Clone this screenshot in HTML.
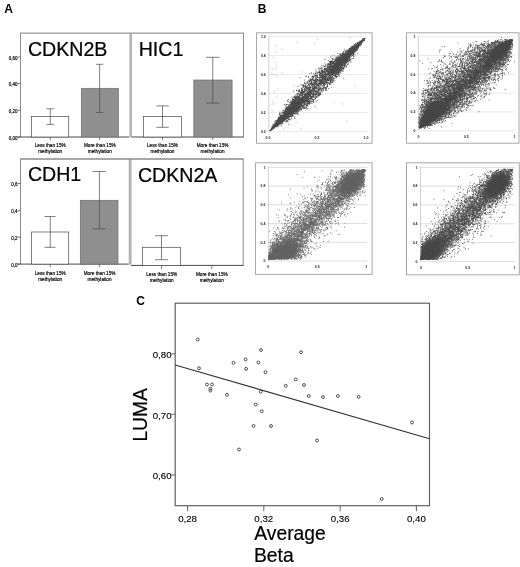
<!DOCTYPE html>
<html lang="en"><head><meta charset="utf-8"><title>Figure</title>
<style>
html,body{margin:0;padding:0;background:#fff;}
body{width:520px;height:567px;overflow:hidden;}
svg{display:block;}
text{font-family:"Liberation Sans", Arial, Helvetica, sans-serif;fill:#111;}
.lab{font-size:12px;font-weight:bold;fill:#000;}
.ttl{font-size:19.6px;fill:#000;stroke:#000;stroke-width:0.22px;}
.big{font-size:19.3px;fill:#000;stroke:#000;stroke-width:0.2px;}
.yl{font-size:4.5px;text-anchor:end;fill:#000;stroke:#000;stroke-width:0.17px;}
.xl{font-size:4.7px;text-anchor:middle;fill:#000;stroke:#000;stroke-width:0.17px;}
.sy{font-size:3.5px;text-anchor:end;fill:#1a1a1a;font-weight:bold;}
.sx{font-size:3.5px;text-anchor:middle;fill:#1a1a1a;font-weight:bold;}
.cy{font-size:9.7px;text-anchor:end;fill:#000;stroke:#000;stroke-width:0.12px;}
.cx{font-size:9.7px;text-anchor:middle;fill:#000;stroke:#000;stroke-width:0.12px;}
.eb{stroke:#4a4a4a;stroke-width:0.7;fill:none;}
.p1,.p2,.p3,.p4{fill:none;stroke-linecap:round;stroke-linejoin:round;}
.p1{stroke:#484848;stroke-width:10.5;}
.p2{stroke:#4a4a4a;stroke-width:9.5;}
.p3{stroke:#666;stroke-width:9.5;}
.p4{stroke:#4c4c4c;stroke-width:9.5;}
.c1{fill:#484848;}.c2{fill:#4a4a4a;}.c3{fill:#666;}.c4{fill:#4c4c4c;}
</style></head>
<body>
<svg width="520" height="567" viewBox="0 0 520 567">
<rect width="520" height="567" fill="#fff"/>
<g id="panelA">
<text x="4.3" y="12.6" class="lab">A</text>
<rect x="129.4" y="33" width="2.6" height="104.4" fill="#b4b4b4"/>
<path d="M20.5 33V137M243.5 33V137" stroke="#8c8c8c" stroke-width="1" fill="none"/>
<path d="M20 33.1H243.8" stroke="#999" stroke-width="1.3" fill="none"/>
<path d="M17.5 137H129M131.6 137H243.8" stroke="#4a4a4a" stroke-width="1" fill="none"/>
<path d="M17.8 57H20.5" stroke="#555" stroke-width="0.8"/>
<text x="17.6" y="59.8" class="yl">0,60</text>
<path d="M17.8 83.6H20.5" stroke="#555" stroke-width="0.8"/>
<text x="17.6" y="86.4" class="yl">0,40</text>
<path d="M17.8 110.2H20.5" stroke="#555" stroke-width="0.8"/>
<text x="17.6" y="113" class="yl">0,20</text>
<path d="M17.8 137H20.5" stroke="#555" stroke-width="0.8"/>
<text x="17.6" y="139.8" class="yl">0,00</text>
<rect x="31.6" y="116.5" width="37.1" height="20.5" fill="#fff" stroke="#4a4a4a" stroke-width="0.7"/>
<rect x="81.3" y="88.3" width="37.2" height="48.7" fill="#8f8f8f" stroke="#6e6e6e" stroke-width="0.7"/>
<path d="M50.25 108.8V124.4M46.5 108.8H54M46.5 124.4H54" class="eb"/>
<path d="M99.6 64.3V112.5M96 64.3H103.3M96 112.5H103.3" class="eb"/>
<path d="M50.25 137V140M99.6 137V140" class="eb"/>
<text x="50.2" y="146.6" class="xl">Less than 15%</text><text x="50.2" y="152.6" class="xl">methylation</text><text x="99.8" y="146.6" class="xl">More than 15%</text><text x="99.8" y="152.6" class="xl">methylation</text>
<text x="27.9" y="55.9" class="ttl">CDKN2B</text>
<rect x="143.5" y="116.5" width="38.1" height="20.5" fill="#fff" stroke="#4a4a4a" stroke-width="0.7"/>
<rect x="193.8" y="80" width="38.3" height="57" fill="#8f8f8f" stroke="#6e6e6e" stroke-width="0.7"/>
<path d="M162.5 105.9V127.3M156.3 105.9H168.8M156.3 127.3H168.8" class="eb"/>
<path d="M212.75 57.3V103.1M206 57.3H219.5M206 103.1H219.5" class="eb"/>
<path d="M162.5 137V140M212.75 137V140" class="eb"/>
<text x="162.5" y="146.6" class="xl">Less than 15%</text><text x="162.5" y="152.6" class="xl">methylation</text><text x="212.6" y="146.6" class="xl">More than 15%</text><text x="212.6" y="152.6" class="xl">methylation</text>
<text x="138.7" y="55.7" class="ttl">HIC1</text>
<rect x="128.7" y="159" width="2.9" height="105.6" fill="#b4b4b4"/>
<path d="M20.5 159V264M243.2 159V265.4" stroke="#8c8c8c" stroke-width="1" fill="none"/>
<path d="M20 159H243.6" stroke="#8a8a8a" stroke-width="1.5" fill="none"/>
<path d="M17.5 264.1H128.6M131 265.4H243.6" stroke="#4a4a4a" stroke-width="1" fill="none"/>
<path d="M17.8 183.5H20.5" stroke="#555" stroke-width="0.8"/>
<text x="17.6" y="186.1" class="yl">0,6</text>
<path d="M17.8 210.3H20.5" stroke="#555" stroke-width="0.8"/>
<text x="17.6" y="212.9" class="yl">0,4</text>
<path d="M17.8 237.2H20.5" stroke="#555" stroke-width="0.8"/>
<text x="17.6" y="239.8" class="yl">0,2</text>
<path d="M17.8 264.1H20.5" stroke="#555" stroke-width="0.8"/>
<text x="17.6" y="266.7" class="yl">0,0</text>
<rect x="31.6" y="232" width="37.1" height="32.1" fill="#fff" stroke="#4a4a4a" stroke-width="0.7"/>
<rect x="80.3" y="200.3" width="37.7" height="63.8" fill="#8f8f8f" stroke="#6e6e6e" stroke-width="0.7"/>
<path d="M50.25 216.5V247.3M44.6 216.5H55.6M44.6 247.3H55.6" class="eb"/>
<path d="M99.4 171.5V228.8M92.6 171.5H105.6M92.6 228.8H105.6" class="eb"/>
<path d="M50.25 264V267.2M99.4 264V267.2" class="eb"/>
<text x="50.2" y="274.6" class="xl">Less than 15%</text><text x="50.2" y="280.6" class="xl">methylation</text><text x="99.6" y="274.6" class="xl">More than 15%</text><text x="99.6" y="280.6" class="xl">methylation</text>
<text x="27.9" y="181" class="ttl">CDH1</text>
<rect x="142.5" y="247.3" width="37.9" height="18.1" fill="#fff" stroke="#4a4a4a" stroke-width="0.7"/>
<path d="M161.5 235.7V259.7M155 235.7H168M155 259.7H168" class="eb"/>
<path d="M161.5 265.4V269M211.75 265.4V269" class="eb"/>
<text x="161.7" y="276" class="xl">Less than 15%</text><text x="161.7" y="282.2" class="xl">methylation</text><text x="211.8" y="276" class="xl">More than 15%</text><text x="211.8" y="282.2" class="xl">methylation</text>
<text x="137.9" y="181.6" class="ttl">CDKN2A</text>
</g>
<g id="panelB">
<text x="257.7" y="12.7" class="lab">B</text>
<rect x="256.5" y="32.8" width="115.6" height="110.5" fill="#fff" stroke="#a8a8a8" stroke-width="1"/><path d="M268 131.6H367.6M268 112.6H367.6M268 93.6H367.6M268 74.6H367.6M268 55.6H367.6M268 36.6H367.6" stroke="#e0e0e0" stroke-width="0.7" fill="none"/><path d="M268.8 36.6V131.6" stroke="#c4c4c4" stroke-width="0.8" fill="none"/><text x="265.8" y="132.9" class="sy">0.0</text><text x="265.8" y="113.9" class="sy">0.2</text><text x="265.8" y="94.9" class="sy">0.4</text><text x="265.8" y="75.9" class="sy">0.6</text><text x="265.8" y="56.9" class="sy">0.8</text><text x="265.8" y="37.9" class="sy">1.0</text><text x="268" y="138.9" class="sx">0.0</text><text x="317" y="138.9" class="sx">0.5</text><text x="366" y="138.9" class="sx">1.0</text>
<g fill="none" stroke="#d2d2d2" stroke-width="0.5"><circle cx="297.25" cy="42.25" r="0.85"/><circle cx="276.25" cy="45.6" r="0.85"/><circle cx="282.25" cy="49.4" r="0.85"/><circle cx="275.6" cy="51.9" r="0.85"/><circle cx="273.5" cy="57.75" r="0.85"/><circle cx="275.6" cy="61.9" r="0.85"/><circle cx="276.6" cy="66.25" r="0.85"/><circle cx="271.9" cy="69" r="0.85"/><circle cx="275.6" cy="69" r="0.85"/><circle cx="271.5" cy="73.1" r="0.85"/><circle cx="272.5" cy="74.75" r="0.85"/><circle cx="275.4" cy="74.75" r="0.85"/><circle cx="282.25" cy="72.75" r="0.85"/><circle cx="277.25" cy="76.25" r="0.85"/><circle cx="301.9" cy="72.25" r="0.85"/><circle cx="314.4" cy="43.5" r="0.85"/><circle cx="293.75" cy="86" r="0.85"/><circle cx="277.75" cy="89.4" r="0.85"/><circle cx="274.4" cy="91.9" r="0.85"/><circle cx="276.6" cy="97.25" r="0.85"/><circle cx="273.1" cy="101.25" r="0.85"/><circle cx="271.9" cy="104.4" r="0.85"/><circle cx="273.75" cy="103.75" r="0.85"/><circle cx="272.25" cy="110.6" r="0.85"/><circle cx="288.1" cy="128.1" r="0.85"/><circle cx="290.6" cy="125" r="0.85"/><circle cx="283.75" cy="129.4" r="0.85"/><circle cx="301" cy="128.75" r="0.85"/><circle cx="296.25" cy="122.25" r="0.85"/><circle cx="354.75" cy="85.6" r="0.85"/><circle cx="334.4" cy="102.5" r="0.85"/><circle cx="343.1" cy="103.75" r="0.85"/><circle cx="346.6" cy="121.25" r="0.85"/><circle cx="316.25" cy="107.9" r="0.85"/><circle cx="317.5" cy="39.1" r="0.85"/><circle cx="350" cy="37.5" r="0.85"/></g>
<polygon class="c1" points="269.42,131.06 270.14,130.04 270.89,129.05 271.65,128.08 272.42,127.11 273.2,126.14 273.98,125.18 274.76,124.23 275.55,123.28 276.34,122.33 277.14,121.39 277.94,120.45 278.75,119.52 279.56,118.59 280.37,117.67 281.19,116.75 282.02,115.83 282.85,114.92 283.68,114.02 284.52,113.12 285.37,112.22 286.22,111.34 287.08,110.45 287.95,109.58 288.82,108.71 289.7,107.85 290.59,106.99 291.48,106.15 292.39,105.31 293.3,104.48 294.23,103.67 295.16,102.86 296.11,102.07 297.08,101.29 298.06,100.52 299.06,99.78 300.09,99.07 301.17,98.4 302.32,97.8 303.89,97.61 303.89,97.61 303.7,99.14 303.08,100.26 302.39,101.31 301.66,102.31 300.9,103.29 300.11,104.24 299.31,105.18 298.5,106.11 297.67,107.02 296.83,107.92 295.98,108.81 295.12,109.69 294.26,110.57 293.38,111.43 292.5,112.29 291.6,113.14 290.71,113.98 289.8,114.82 288.89,115.65 287.97,116.48 287.05,117.3 286.12,118.11 285.19,118.92 284.25,119.72 283.3,120.52 282.35,121.31 281.4,122.1 280.44,122.89 279.48,123.67 278.51,124.45 277.54,125.22 276.57,125.99 275.59,126.75 274.6,127.51 273.61,128.27 272.62,129.02 271.62,129.76 270.61,130.49 269.56,131.19"/>
<polygon class="c1" points="364.97,37.96 363.92,38.66 362.91,39.39 361.91,40.13 360.92,40.88 359.93,41.64 358.94,42.4 357.96,43.16 356.99,43.93 356.02,44.7 355.05,45.48 354.09,46.26 353.13,47.05 352.18,47.84 351.23,48.63 350.28,49.43 349.34,50.23 348.41,51.04 347.48,51.85 346.56,52.67 345.64,53.5 344.73,54.33 343.82,55.17 342.93,56.01 342.03,56.86 341.15,57.72 340.27,58.58 339.41,59.46 338.55,60.34 337.7,61.23 336.86,62.13 336.03,63.04 335.22,63.97 334.42,64.91 333.63,65.86 332.87,66.84 332.14,67.84 331.45,68.89 330.83,70.01 330.64,71.54 330.64,71.54 332.21,71.35 333.36,70.75 334.44,70.08 335.47,69.37 336.47,68.63 337.45,67.86 338.42,67.08 339.37,66.29 340.3,65.48 341.23,64.67 342.14,63.84 343.05,63 343.94,62.16 344.83,61.3 345.71,60.44 346.58,59.57 347.45,58.7 348.31,57.81 349.16,56.93 350.01,56.03 350.85,55.13 351.68,54.23 352.51,53.32 353.34,52.4 354.16,51.48 354.97,50.56 355.78,49.63 356.59,48.7 357.39,47.76 358.19,46.82 358.98,45.87 359.77,44.92 360.55,43.97 361.33,43.01 362.11,42.04 362.88,41.07 363.64,40.1 364.39,39.11 365.11,38.09"/>
<path class="p1" transform="scale(.1)" d="M2699 1305h0m1 3h0m1-5h0m2-1h0m7-13h0m0 2h0m0 8h0m1-6h0m1 2h0m1-8h0m1-3h0m1-5h0m0 3h0m1 5h0m0 8h0m0 2h0m0 4h0m1-10h0m0 12h0m3-14h0m0 5h0m1-28h0m1 4h0m0 19h0m1-17h0m0 3h0m1 0h0m1 2h0m1-12h0m0 8h0m0 7h0m2-2h0m0 9h0m1-44h0m0 28h0m0 8h0m1-26h0m0 32h0m0 5h0m1-23h0m0 12h0m0 7h0m1-18h0m0 7h0m1-6h0m1-19h0m0 11h0m0 8h0m0 5h0m0 1h0m0 1h0m0 1h0m1-13h0m0 11h0m1-13h0m0 9h0m1-10h0m1 2h0m0 1h0m0 1h0m1-7h0m0 7h0m0 3h0m0 6h0m1-14h0m0 1h0m1-13h0m0 12h0m0 8h0m0 7h0m1-26h0m0 14h0m0 6h0m1-17h0m1-12h0m0 22h0m0 6h0m0 15h0m2-30h0m1-3h0m1-27h0m0 18h0m0 26h0m1-44h0m0 27h0m0 11h0m0 5h0m0 3h0m1-12h0m1-48h0m0 32h0m0 0h0m0 8h0m0 5h0m0 1h0m0 3h0m0 3h0m1-27h0m1 1h0m0 1h0m1 9h0m0 7h0m0 4h0m0 5h0m1-39h0m0 14h0m0 9h0m0 8h0m0 6h0m0 2h0m0 3h0m0 3h0m1-20h0m0 3h0m1-17h0m1 5h0m0 11h0m0 13h0m1-21h0m0 14h0m1-50h0m0 27h0m0 22h0m1-26h0m0 2h0m0 5h0m0 14h0m0 20h0m1-22h0m1-10h0m0 1h0m1-18h0m0 13h0m1 1h0m0 8h0m0 2h0m1-25h0m0 4h0m0 11h0m0 17h0m1-13h0m0 13h0m1-48h0m0 19h0m0 10h0m0 7h0m0 7h0m0 13h0m1-46h0m0 4h0m0 18h0m0 7h0m0 9h0m0 9h0m0 1h0m1-28h0m1-15h0m0 9h0m0 21h0m1-42h0m0 19h0m0 22h0m0 8h0m0 3h0m1-38h0m1-13h0m0 6h0m0 7h0m0 4h0m0 19h0m0 11h0m1-43h0m0 21h0m0 11h0m0 1h0m0 20h0m1-72h0m0 19h0m0 10h0m0 12h0m0 0h0m0 10h0m1-30h0m0 33h0m1-27h0m0 4h0m0 10h0m1-8h0m0 6h0m0 1h0m0 10h0m0 18h0m1-62h0m0 32h0m0 20h0m1-56h0m0 12h0m0 14h0m0 6h0m0 13h0m1-53h0m0 8h0m0 16h0m0 1h0m0 30h0m1-60h0m0 41h0m0 10h0m0 3h0m0 1h0m0 9h0m1-76h0m0 6h0m0 27h0m0 17h0m0 37h0m1-82h0m0 16h0m0 19h0m0 12h0m0 28h0m2-51h0m0 2h0m0 1h0m0 10h0m0 21h0m0 6h0m0 2h0m1-12h0m1-31h0m0 31h0m0 14h0m0 2h0m1-61h0m0 36h0m1-36h0m0 32h0m0 0h0m0 16h0m0 16h0m2-100h0m0 65h0m0 2h0m0 2h0m0 4h0m0 15h0m0 0h0m1-63h0m0 29h0m0 16h0m0 0h0m0 16h0m1-55h0m0 23h0m0 5h0m0 11h0m0 3h0m0 14h0m1-99h0m0 11h0m0 38h0m0 4h0m0 12h0m0 11h0m1-27h0m0 19h0m0 7h0m0 6h0m1-31h0m0 7h0m0 0h0m0 18h0m0 11h0m0 8h0m0 5h0m1-113h0m0 48h0m0 39h0m0 1h0m0 13h0m0 4h0m0 5h0m1-72h0m0 33h0m0 40h0m0 8h0m1-82h0m0 60h0m0 17h0m1-102h0m0 29h0m0 32h0m0 26h0m1-58h0m0 4h0m0 0h0m0 25h0m0 12h0m1-42h0m0 17h0m0 18h0m0 22h0m0 5h0m0 10h0m1-70h0m0 2h0m0 4h0m0 9h0m0 11h0m0 6h0m0 10h0m0 18h0m0 15h0m1-91h0m0 29h0m0 12h0m0 14h0m0 21h0m1-67h0m0 42h0m0 12h0m0 1h0m1-42h0m0 38h0m0 1h0m0 11h0m1-69h0m0 29h0m0 14h0m0 17h0m0 16h0m0 13h0m1-85h0m0 17h0m0 13h0m0 34h0m0 5h0m0 6h0m0 2h0m0 7h0m1-36h0m0 14h0m1-53h0m0 24h0m0 30h0m0 11h0m0 25h0m1-71h0m0 13h0m0 7h0m0 29h0m1-54h0m0 2h0m0 17h0m1-19h0m0 12h0m0 7h0m0 13h0m1-71h0m0 51h0m0 6h0m1-17h0m0 0h0m0 2h0m0 10h0m0 0h0m1-32h0m0 1h0m0 4h0m0 9h0m0 20h0m0 8h0m0 3h0m1 10h0m0 15h0m1-108h0m0 98h0m1-78h0m0 36h0m0 43h0m1-66h0m0 34h0m0 4h0m0 15h0m0 20h0m1-61h0m0 22h0m0 6h0m0 7h0m1-13h0m0 24h0m0 8h0m0 16h0m1-107h0m0 43h0m0 11h0m0 1h0m0 3h0m0 0h0m1-26h0m0 18h0m0 2h0m0 7h0m1 14h0m0 4h0m0 3h0m0 7h0m1-59h0m0 14h0m0 4h0m0 23h0m0 7h0m0 33h0m1-62h0m0 7h0m0 3h0m0 11h0m0 6h0m0 1h0m0 16h0m1-119h0m0 6h0m0 57h0m0 44h0m0 2h0m1-48h0m0 1h0m0 6h0m0 28h0m0 11h0m1-88h0m0 10h0m0 51h0m0 16h0m1-36h0m0 1h0m0 14h0m0 26h0m0 9h0m1-55h0m0 1h0m0 12h0m0 1h0m0 14h0m1-38h0m0 16h0m0 6h0m0 40h0m1-62h0m0 4h0m0 2h0m0 9h0m0 4h0m0 5h0m0 6h0m0 2h0m0 4h0m0 0h0m0 18h0m0 5h0m1-68h0m0 21h0m0 5h0m0 8h0m0 10h0m0 2h0m1-74h0m0 60h0m0 9h0m0 7h0m0 6h0m0 22h0m1-88h0m0 49h0m0 4h0m0 3h0m0 17h0m0 12h0m1-43h0m0 8h0m0 22h0m0 5h0m1-45h0m0 0h0m0 12h0m0 4h0m0 6h0m1-34h0m0 8h0m0 8h0m0 3h0m0 16h0m1-9h0m0 0h0m0 12h0m1-72h0m0 3h0m0 15h0m0 28h0m0 44h0m1-53h0m0 1h0m0 9h0m0 5h0m0 5h0m0 3h0m0 26h0m1-151h0m0 65h0m0 44h0m0 2h0m0 6h0m0 9h0m0 2h0m0 9h0m1-24h0m0 18h0m0 1h0m1-63h0m0 90h0m1-68h0m0 21h0m0 5h0m1-52h0m0 40h0m0 35h0m1-68h0m0 2h0m0 29h0m0 8h0m0 2h0m0 5h0m1-79h0m0 32h0m0 13h0m0 19h0m0 0h0m0 7h0m0 5h0m0 27h0m0 2h0m0 8h0m1-99h0m0 26h0m0 2h0m0 7h0m0 0h0m0 27h0m0 9h0m0 21h0m0 25h0m1-120h0m0 46h0m0 8h0m0 0h0m0 19h0m0 6h0m0 20h0m1-72h0m0 35h0m0 3h0m0 12h0m0 3h0m0 7h0m1-25h0m0 17h0m1-117h0m0 47h0m0 43h0m0 10h0m1-64h0m0 10h0m0 3h0m0 9h0m0 9h0m0 29h0m1-78h0m0 45h0m0 5h0m0 2h0m0 14h0m0 4h0m0 3h0m0 2h0m0 22h0m0 5h0m0 13h0m1-92h0m0 48h0m0 5h0m1-103h0m0 80h0m0 5h0m0 0h0m0 20h0m0 26h0m0 6h0m1-71h0m0 5h0m0 5h0m0 19h0m0 2h0m0 19h0m0 3h0m0 2h0m1-7h0m0 5h0m0 4h0m0 48h0m1-174h0m0 44h0m0 41h0m0 11h0m0 20h0m0 16h0m0 1h0m0 33h0m1-133h0m0 61h0m1-65h0m0 5h0m0 47h0m0 5h0m0 6h0m0 7h0m0 1h0m0 6h0m0 4h0m0 1h0m0 11h0m1-42h0m0 29h0m0 15h0m0 21h0m1-83h0m0 14h0m0 19h0m0 16h0m0 46h0m1-135h0m0 22h0m0 28h0m0 1h0m0 0h0m0 1h0m0 4h0m0 3h0m0 18h0m0 1h0m0 18h0m1-88h0m0 23h0m0 12h0m0 16h0m0 8h0m0 5h0m0 9h0m0 0h0m1-74h0m0 53h0m0 8h0m0 14h0m1-104h0m0 39h0m0 50h0m0 13h0m0 26h0m0 1h0m1-96h0m0 42h0m0 12h0m0 9h0m0 14h0m0 1h0m0 24h0m0 25h0m1-135h0m0 21h0m0 44h0m0 47h0m1-40h0m0 11h0m0 4h0m0 2h0m0 18h0m1-88h0m0 44h0m0 30h0m0 3h0m1-157h0m0 67h0m0 21h0m0 16h0m0 4h0m0 1h0m0 40h0m0 6h0m0 17h0m0 35h0m1-135h0m0 15h0m0 22h0m0 39h0m0 2h0m0 26h0m1-186h0m0 122h0m0 28h0m0 6h0m0 0h0m1-86h0m0 5h0m0 14h0m0 9h0m0 10h0m0 15h0m0 17h0m0 42h0m0 30h0m1-118h0m0 3h0m0 20h0m0 19h0m0 16h0m1-137h0m0 56h0m0 21h0m0 10h0m0 11h0m0 12h0m0 7h0m0 28h0m0 8h0m0 27h0m1-108h0m0 14h0m0 9h0m0 5h0m0 2h0m0 3h0m0 58h0m1-101h0m0 10h0m0 26h0m0 6h0m0 8h0m0 17h0m0 99h0m1-193h0m0 31h0m0 4h0m0 15h0m0 6h0m0 26h0m0 6h0m0 23h0m1-97h0m0 11h0m0 20h0m0 3h0m0 10h0m0 13h0m0 22h0m0 3h0m0 4h0m0 5h0m1-102h0m0 47h0m0 13h0m0 19h0m0 4h0m0 23h0m0 11h0m0 6h0m1-183h0m0 86h0m0 11h0m0 24h0m0 7h0m0 12h0m0 2h0m0 11h0m0 14h0m0 12h0m0 6h0m1-100h0m0 2h0m0 8h0m0 44h0m0 23h0m0 15h0m0 11h0m0 16h0m1-117h0m0 8h0m0 1h0m0 13h0m0 2h0m0 7h0m0 17h0m0 3h0m0 17h0m0 11h0m0 3h0m1-75h0m0 10h0m0 10h0m0 0h0m0 10h0m1-94h0m0 59h0m0 16h0m0 45h0m1-58h0m0 19h0m0 28h0m0 7h0m0 34h0m1-129h0m0 4h0m0 19h0m0 36h0m0 11h0m0 25h0m0 3h0m0 23h0m1-102h0m0 13h0m0 25h0m0 11h0m0 4h0m0 2h0m0 20h0m0 4h0m1-67h0m0 94h0m0 22h0m1-129h0m0 44h0m0 0h0m0 14h0m0 8h0m0 6h0m0 6h0m0 2h0m1-64h0m0 11h0m0 23h0m0 24h0m1-92h0m0 30h0m0 2h0m0 28h0m0 25h0m0 5h0m0 29h0m1-123h0m0 8h0m0 36h0m0 26h0m0 13h0m0 18h0m1-97h0m0 55h0m0 8h0m0 21h0m0 16h0m0 17h0m0 1h0m1-109h0m0 0h0m0 13h0m0 13h0m0 3h0m0 4h0m0 3h0m0 1h0m0 4h0m0 2h0m0 14h0m0 6h0m0 1h0m0 10h0m1-87h0m0 28h0m0 35h0m0 14h0m0 8h0m1-44h0m0 21h0m0 22h0m0 18h0m0 2h0m0 14h0m0 40h0m1-139h0m0 24h0m0 0h0m0 35h0m0 4h0m0 13h0m0 16h0m0 1h0m1-128h0m0 77h0m0 12h0m0 52h0m1-103h0m0 1h0m0 8h0m0 1h0m0 16h0m0 1h0m0 11h0m0 49h0m1-139h0m0 8h0m0 9h0m0 44h0m0 2h0m0 18h0m0 7h0m0 18h0m0 7h0m0 2h0m0 16h0m0 6h0m1-80h0m0 26h0m0 15h0m0 1h0m0 5h0m0 4h0m0 36h0m1-113h0m0 42h0m0 32h0m0 2h0m0 13h0m0 12h0m0 8h0m0 9h0m0 0h0m1-101h0m0 6h0m0 18h0m0 1h0m0 12h0m0 8h0m0 2h0m0 23h0m0 27h0m0 12h0m1-98h0m0 14h0m0 11h0m0 21h0m0 8h0m0 9h0m0 6h0m0 29h0m1-141h0m0 31h0m0 34h0m0 10h0m0 12h0m0 47h0m1-113h0m0 20h0m0 11h0m0 1h0m0 1h0m0 3h0m0 12h0m0 7h0m0 33h0m0 9h0m1-111h0m0 13h0m0 15h0m0 1h0m0 8h0m0 5h0m0 7h0m0 3h0m0 37h0m0 8h0m0 9h0m0 9h0m0 39h0m1-145h0m0 1h0m0 18h0m0 39h0m1-34h0m0 14h0m0 3h0m0 55h0m1-69h0m0 27h0m0 4h0m0 16h0m0 1h0m0 2h0m0 17h0m0 8h0m0 3h0m1-136h0m0 26h0m0 41h0m0 11h0m0 11h0m0 31h0m0 16h0m1-177h0m0 51h0m0 33h0m0 14h0m0 6h0m0 95h0m1-104h0m0 4h0m0 8h0m0 33h0m0 2h0m0 8h0m0 12h0m1-127h0m0 27h0m0 30h0m0 29h0m0 5h0m0 34h0m0 6h0m1-151h0m0 48h0m0 31h0m0 64h0m0 10h0m0 3h0m1-148h0m0 5h0m0 50h0m0 18h0m0 12h0m0 49h0m0 0h0m1-105h0m0 5h0m0 42h0m0 1h0m0 4h0m0 11h0m0 40h0m0 28h0m1-112h0m0 25h0m0 16h0m0 1h0m0 10h0m0 9h0m0 57h0m1-141h0m0 22h0m0 2h0m0 42h0m0 1h0m0 19h0m1-113h0m0 57h0m0 26h0m0 16h0m0 56h0m1-97h0m0 3h0m0 13h0m0 23h0m0 7h0m0 16h0m0 28h0m1-136h0m0 9h0m0 20h0m0 23h0m0 3h0m0 4h0m0 5h0m0 40h0m0 1h0m0 13h0m1-85h0m0 16h0m0 45h0m0 59h0m1-93h0m0 43h0m0 54h0m1-166h0m0 1h0m0 17h0m0 11h0m0 20h0m0 15h0m0 39h0m0 3h0m0 9h0m0 10h0m1-120h0m0 11h0m0 24h0m0 13h0m0 19h0m0 12h0m0 14h0m0 7h0m0 9h0m0 21h0m1-217h0m0 104h0m0 22h0m0 4h0m0 8h0m0 3h0m0 12h0m0 10h0m0 6h0m0 15h0m0 11h0m1-135h0m0 68h0m0 28h0m0 37h0m0 0h0m0 8h0m0 5h0m0 6h0m0 1h0m0 4h0m1-78h0m0 9h0m0 62h0m1-91h0m0 1h0m0 59h0m0 2h0m0 43h0m1-139h0m0 19h0m0 10h0m0 1h0m0 20h0m0 8h0m0 18h0m0 3h0m0 11h0m0 10h0m0 0h0m0 3h0m0 3h0m0 5h0m1-133h0m0 76h0m0 4h0m0 15h0m0 4h0m0 26h0m0 0h0m0 12h0m0 2h0m0 3h0m0 16h0m1-164h0m0 51h0m0 2h0m0 7h0m0 52h0m0 4h0m0 11h0m0 16h0m1-112h0m0 69h0m0 16h0m0 0h0m0 13h0m0 20h0m1-142h0m0 45h0m0 12h0m0 15h0m0 4h0m0 0h0m0 15h0m0 33h0m1-130h0m0 40h0m0 33h0m0 18h0m0 9h0m0 17h0m1-63h0m0 71h0m0 1h0m0 13h0m0 29h0m1-138h0m0 11h0m0 78h0m0 13h0m0 68h0m1-149h0m0 24h0m0 18h0m0 28h0m0 11h0m0 12h0m0 5h0m0 13h0m0 52h0m1-191h0m0 30h0m0 3h0m0 2h0m0 4h0m0 2h0m0 11h0m0 1h0m0 2h0m0 4h0m0 1h0m0 9h0m0 1h0m1-81h0m0 6h0m0 30h0m0 54h0m0 6h0m0 12h0m0 50h0m1-175h0m0 16h0m0 26h0m0 2h0m0 3h0m0 12h0m0 14h0m0 16h0m0 20h0m0 2h0m0 48h0m1-174h0m0 14h0m0 8h0m0 34h0m0 3h0m0 44h0m0 1h0m0 25h0m0 13h0m0 16h0m0 14h0m1-130h0m0 26h0m0 15h0m0 5h0m0 25h0m0 7h0m0 25h0m0 27h0m1-117h0m0 4h0m0 29h0m0 15h0m0 8h0m0 1h0m0 1h0m0 6h0m0 21h0m0 9h0m1-135h0m0 62h0m0 12h0m0 9h0m0 5h0m0 13h0m0 0h0m0 26h0m0 17h0m1-130h0m0 3h0m0 4h0m0 16h0m0 21h0m0 41h0m1-85h0m0 56h0m0 29h0m0 4h0m0 29h0m0 8h0m0 34h0m1-163h0m0 14h0m0 38h0m0 11h0m0 6h0m0 7h0m0 1h0m0 2h0m0 0h0m0 4h0m0 20h0m1-81h0m0 54h0m0 8h0m0 26h0m0 14h0m0 12h0m0 25h0m1-148h0m0 7h0m0 19h0m0 5h0m0 16h0m0 14h0m0 22h0m0 29h0m0 5h0m0 16h0m0 17h0m1-159h0m0 18h0m0 32h0m0 30h0m0 3h0m0 7h0m0 3h0m0 17h0m0 15h0m0 30h0m1-111h0m0 16h0m0 43h0m0 13h0m0 18h0m0 1h0m1-138h0m0 21h0m0 20h0m0 37h0m0 38h0m1-30h0m0 17h0m0 22h0m0 7h0m0 15h0m1-216h0m0 126h0m0 2h0m0 5h0m0 5h0m0 1h0m0 1h0m0 24h0m0 2h0m0 31h0m1-134h0m0 13h0m0 17h0m0 28h0m0 39h0m0 19h0m0 3h0m0 9h0m1-132h0m0 14h0m0 60h0m0 2h0m0 4h0m0 4h0m0 27h0m0 0h0m0 9h0m1-181h0m0 76h0m0 19h0m0 25h0m0 16h0m0 29h0m0 43h0m1-172h0m0 24h0m0 75h0m0 12h0m0 22h0m0 1h0m1-136h0m0 48h0m0 3h0m0 23h0m0 3h0m0 22h0m0 60h0m0 1h0m1-158h0m0 6h0m0 60h0m0 1h0m0 8h0m0 11h0m0 7h0m0 21h0m0 24h0m0 13h0m0 17h0m0 25h0m1-175h0m0 40h0m0 20h0m0 8h0m0 53h0m0 2h0m1-116h0m0 4h0m0 37h0m0 1h0m0 12h0m0 5h0m0 15h0m0 28h0m0 12h0m1-79h0m0 10h0m0 9h0m0 62h0m0 9h0m0 4h0m0 19h0m0 18h0m1-160h0m0 44h0m0 11h0m0 23h0m0 17h0m0 1h0m1-113h0m0 70h0m0 9h0m0 12h0m0 20h0m0 4h0m0 4h0m1-78h0m0 32h0m0 11h0m0 18h0m0 10h0m0 39h0m1-170h0m0 35h0m0 26h0m0 3h0m0 13h0m0 6h0m0 24h0m0 21h0m0 13h0m0 60h0m1-176h0m0 20h0m0 17h0m0 13h0m0 2h0m0 9h0m0 18h0m0 38h0m0 11h0m0 18h0m0 17h0m0 16h0m1-124h0m0 9h0m0 1h0m0 19h0m0 7h0m0 45h0m1-230h0m0 128h0m0 3h0m0 2h0m0 25h0m0 23h0m0 4h0m0 4h0m0 7h0m0 12h0m0 37h0m1-201h0m0 60h0m0 27h0m0 38h0m0 14h0m0 4h0m0 7h0m0 11h0m0 1h0m1-140h0m0 45h0m0 7h0m0 35h0m0 11h0m0 19h0m0 1h0m0 37h0m0 56h0m1-157h0m0 7h0m0 15h0m0 4h0m0 20h0m0 1h0m1-2h0m0 60h0m0 22h0m1-134h0m0 14h0m0 7h0m0 9h0m0 35h0m0 6h0m1-56h0m0 1h0m0 2h0m0 5h0m0 12h0m0 7h0m0 7h0m0 49h0m1-113h0m0 19h0m0 19h0m0 16h0m0 6h0m0 7h0m0 23h0m0 37h0m1-171h0m0 127h0m0 4h0m0 20h0m0 31h0m1-192h0m0 36h0m0 36h0m0 3h0m0 6h0m0 65h0m0 2h0m0 27h0m1-187h0m0 38h0m0 10h0m0 27h0m0 20h0m0 7h0m0 50h0m0 3h0m0 7h0m0 6h0m0 37h0m1-160h0m0 27h0m0 2h0m0 41h0m0 31h0m0 30h0m0 19h0m1-134h0m0 2h0m0 13h0m0 21h0m0 4h0m0 1h0m0 11h0m0 15h0m0 12h0m0 25h0m1-158h0m0 82h0m0 31h0m0 6h0m0 9h0m0 29h0m0 47h0m1-141h0m0 6h0m0 40h0m0 20h0m0 3h0m0 20h0m0 11h0m0 1h0m0 39h0m1-157h0m0 4h0m0 13h0m0 51h0m0 13h0m0 1h0m0 29h0m0 0h0m0 10h0m1-171h0m0 6h0m0 106h0m0 0h0m0 13h0m1-112h0m0 31h0m0 14h0m0 29h0m0 13h0m0 2h0m0 8h0m0 8h0m0 14h0m0 8h0m1-75h0m0 9h0m0 25h0m0 12h0m0 1h0m0 21h0m0 41h0m0 16h0m1-125h0m0 33h0m0 35h0m0 39h0m1-296h0m0 203h0m0 25h0m0 9h0m0 9h0m0 3h0m0 57h0m1-132h0m0 4h0m0 53h0m0 62h0m0 4h0m1-157h0m0 82h0m0 3h0m0 21h0m0 28h0m1-128h0m0 76h0m0 8h0m0 29h0m0 21h0m0 1h0m1-132h0m0 66h0m0 8h0m0 23h0m0 22h0m0 3h0m0 11h0m0 6h0m0 2h0m0 16h0m0 8h0m1-54h0m0 16h0m0 11h0m0 8h0m1 14h0m1-163h0m0 12h0m0 8h0m0 5h0m0 59h0m0 33h0m0 16h0m0 14h0m1-121h0m0 28h0m0 14h0m0 4h0m0 11h0m0 33h0m0 17h0m0 10h0m0 3h0m1-219h0m0 98h0m0 35h0m0 20h0m0 0h0m0 1h0m0 16h0m1-80h0m0 37h0m0 7h0m0 0h0m0 31h0m0 55h0m0 37h0m1-128h0m0 39h0m0 25h0m0 10h0m0 13h0m0 25h0m1-163h0m0 17h0m0 41h0m0 4h0m0 13h0m0 7h0m0 4h0m0 8h0m0 11h0m0 7h0m1-139h0m0 29h0m0 89h0m0 17h0m0 3h0m0 0h0m1-159h0m0 113h0m0 16h0m0 0h0m0 7h0m0 20h0m1-52h0m0 18h0m0 39h0m0 2h0m0 7h0m0 42h0m1-172h0m0 48h0m0 17h0m0 7h0m0 52h0m1-155h0m0 6h0m0 14h0m0 24h0m0 3h0m0 19h0m0 26h0m0 34h0m0 44h0m1-154h0m0 109h0m0 45h0m0 24h0m0 15h0m1-211h0m0 34h0m0 58h0m0 0h0m0 20h0m0 6h0m0 7h0m0 12h0m0 56h0m1-233h0m0 40h0m0 46h0m0 19h0m0 41h0m0 25h0m0 12h0m1-120h0m0 14h0m0 54h0m0 20h0m0 19h0m0 3h0m0 14h0m0 4h0m0 13h0m0 1h0m1-141h0m0 1h0m0 65h0m0 4h0m0 9h0m0 6h0m0 30h0m0 13h0m0 1h0m0 19h0m1-129h0m0 27h0m0 34h0m0 27h0m0 35h0m0 2h0m0 24h0m0 2h0m1-147h0m0 23h0m0 14h0m0 4h0m0 92h0m1-128h0m0 13h0m0 34h0m1-81h0m0 98h0m0 74h0m1-187h0m0 68h0m0 71h0m0 42h0m0 4h0m1-177h0m0 22h0m0 33h0m0 6h0m0 22h0m0 20h0m0 11h0m0 45h0m1-190h0m0 78h0m0 12h0m0 33h0m0 13h0m0 23h0m1-174h0m0 18h0m0 40h0m0 16h0m0 6h0m0 44h0m0 33h0m0 2h0m0 9h0m0 9h0m0 26h0m1-93h0m0 25h0m0 6h0m0 2h0m0 2h0m1-140h0m0 18h0m0 37h0m0 8h0m0 4h0m0 20h0m0 29h0m0 6h0m0 25h0m0 10h0m0 11h0m1-164h0m0 82h0m0 40h0m0 5h0m0 20h0m0 6h0m0 17h0m0 39h0m1-75h0m0 61h0m1-91h0m0 20h0m0 13h0m0 17h0m1-88h0m0 59h0m0 30h0m0 7h0m1 19h0m0 42h0m1-240h0m0 10h0m0 11h0m0 55h0m0 3h0m0 44h0m0 1h0m0 52h0m0 3h0m0 34h0m0 12h0m0 5h0m1-216h0m0 59h0m0 85h0m0 8h0m0 5h0m0 3h0m1-159h0m0 131h0m0 22h0m1-159h0m0 40h0m1 18h0m0 59h0m0 1h0m0 8h0m0 1h0m0 46h0m0 4h0m0 16h0m1-130h0m0 67h0m0 12h0m1-107h0m0 17h0m0 40h0m0 7h0m0 43h0m0 27h0m0 47h0m1-246h0m0 128h0m0 22h0m0 55h0m0 8h0m0 2h0m0 5h0m1-243h0m0 85h0m0 24h0m0 7h0m0 21h0m1-54h0m0 32h0m0 11h0m0 29h0m0 25h0m0 26h0m0 17h0m1-189h0m0 93h0m0 39h0m0 52h0m0 16h0m0 16h0m0 21h0m0 14h0m1-219h0m0 94h0m0 28h0m1-11h0m0 8h0m0 21h0m0 1h0m0 39h0m1-208h0m0 60h0m0 51h0m0 13h0m0 25h0m1-51h0m0 7h0m0 9h0m0 6h0m0 1h0m0 2h0m0 4h0m1-90h0m0 1h0m0 82h0m0 4h0m0 56h0m0 65h0m1-219h0m0 76h0m0 14h0m0 1h0m0 25h0m0 24h0m0 36h0m1-161h0m0 25h0m0 38h0m0 24h0m1-23h0m0 16h0m0 6h0m0 14h0m0 0h0m0 7h0m0 16h0m1-234h0m0 101h0m1-12h0m0 33h0m0 14h0m0 49h0m0 44h0m0 26h0m1-186h0m0 3h0m0 11h0m0 62h0m0 48h0m0 29h0m0 15h0m0 7h0m0 26h0m0 28h0m1-95h0m1-145h0m0 132h0m0 7h0m0 30h0m0 10h0m0 70h0m1-207h0m0 103h0m0 14h0m0 65h0m1-185h0m0 75h0m0 18h0m0 48h0m0 9h0m0 39h0m1-148h0m0 23h0m0 59h0m0 15h0m1-110h0m0 11h0m0 45h0m0 60h0m0 6h0m1-143h0m0 78h0m0 21h0m0 10h0m0 76h0m0 20h0m1-316h0m0 120h0m0 67h0m0 0h0m0 6h0m1-69h0m0 53h0m0 8h0m0 2h0m0 47h0m0 38h0m1-104h0m0 115h0m0 46h0m1-215h0m0 47h0m0 22h0m0 16h0m0 1h0m0 3h0m0 26h0m0 64h0m1-194h0m0 138h0m0 36h0m1-34h0m1-121h0m0 43h0m0 23h0m0 61h0m1-146h0m0 79h0m0 6h0m0 19h0m0 13h0m0 40h0m0 13h0m1-102h0m0 34h0m0 2h0m0 36h0m0 1h0m0 29h0m0 3h0m0 18h0m1-236h0m0 8h0m0 68h0m0 49h0m0 10h0m0 16h0m0 41h0m0 2h0m1-130h0m0 1h0m0 23h0m0 69h0m0 30h0m1-90h0m0 21h0m0 3h0m0 38h0m0 11h0m1-151h0m0 45h0m0 46h0m0 10h0m0 3h0m0 69h0m0 54h0m1-232h0m0 25h0m0 20h0m0 26h0m0 4h0m0 18h0m0 24h0m0 0h0m0 21h0m0 10h0m0 11h0m0 34h0m0 63h0m1-144h0m0 4h0m0 28h0m0 6h0m0 14h0m0 47h0m2-204h0m0 54h0m0 27h0m0 12h0m1-85h0m0 26h0m0 69h0m0 27h0m0 9h0m0 17h0m0 21h0m1-112h0m0 54h0m0 73h0m1-264h0m0 79h0m0 59h0m0 31h0m0 51h0m1-61h0m0 39h0m0 39h0m1-115h0m0 7h0m0 9h0m0 16h0m0 13h0m0 1h0m0 13h0m0 53h0m0 16h0m0 18h0m1-256h0m0 27h0m0 168h0m0 29h0m1-190h0m0 33h0m0 34h0m0 16h0m0 28h0m0 93h0m0 26h0m1-234h0m0 110h0m0 8h0m0 61h0m0 36h0m0 13h0m1-237h0m0 23h0m0 86h0m0 22h0m0 15h0m0 73h0m1-133h0m0 72h0m1-114h0m0 32h0m0 39h0m0 7h0m0 0h0m0 4h0m0 46h0m0 14h0m0 28h0m1-170h0m0 11h0m0 69h0m0 95h0m0 9h0m1-164h0m0 37h0m0 35h0m0 34h0m0 71h0m1-181h0m0 59h0m0 124h0m1-304h0m0 76h0m0 45h0m0 135h0m0 19h0m1-82h0m0 19h0m0 7h0m0 34h0m0 16h0m1-197h0m0 121h0m0 99h0m1-157h0m0 19h0m0 29h0m0 4h0m0 59h0m1-151h0m0 54h0m0 26h0m0 53h0m0 22h0m0 1h0m1-146h0m0 38h0m0 104h0m1-78h0m0 17h0m0 19h0m0 28h0m0 22h0m0 41h0m1-128h0m0 23h0m0 33h0m0 49h0m0 1h0m1-223h0m0 10h0m0 105h0m0 7h0m0 20h0m0 17h0m1-76h0m0 9h0m1-45h0m0 39h0m0 2h0m0 4h0m0 33h0m0 32h0m0 9h0m1-149h0m0 6h0m0 95h0m0 3h0m0 24h0m0 34h0m0 44h0m0 2h0m1-105h0m0 27h0m0 13h0m0 41h0m1-116h0m0 36h0m0 107h0m1-223h0m0 30h0m0 79h0m0 19h0m0 92h0m1-283h0m0 79h0m0 5h0m0 28h0m0 179h0m1-174h0m0 82h0m0 61h0m1-171h0m0 2h0m0 10h0m0 135h0m0 7h0m0 7h0m0 9h0m1-259h0m0 82h0m0 23h0m0 60h0m0 3h0m0 4h0m0 20h0m0 47h0m0 8h0m0 41h0m1-27h0m0 27h0m1-248h0m0 86h0m0 52h0m0 2h0m0 56h0m0 3h0m1-173h0m0 67h0m0 37h0m0 5h0m0 35h0m0 30h0m1-178h0m0 44h0m0 63h0m0 16h0m0 49h0m0 12h0m0 13h0m0 48h0m1-265h0m0 26h0m0 50h0m0 87h0m0 63h0m1-199h0m0 49h0m0 93h0m0 27h0m1-196h0m0 18h0m0 40h0m0 32h0m0 37h0m0 46h0m0 26h0m0 7h0m1-187h0m0 79h0m0 43h0m0 83h0m0 17h0m1-152h0m1 20h0m0 5h0m1-124h0m0 131h0m1-91h0m0 77h0m0 6h0m0 22h0m0 55h0m1-130h0m0 91h0m0 24h0m0 5h0m1-168h0m0 59h0m0 90h0m1-129h0m0 9h0m0 50h0m0 15h0m1-99h0m0 23h0m0 89h0m0 64h0m0 10h0m0 32h0m1-145h0m0 38h0m0 3h0m0 3h0m0 121h0m0 4h0m1-242h0m0 111h0m0 1h0m0 42h0m0 37h0m0 32h0m1-239h0m0 79h0m0 49h0m0 27h0m0 19h0m0 23h0m0 49h0m0 11h0m1-284h0m0 33h0m0 2h0m0 143h0m0 26h0m0 59h0m1-166h0m0 79h0m0 39h0m0 15h0m0 1h0m0 33h0m1-113h0m0 6h0m0 51h0m0 1h0m1-150h0m0 10h0m0 3h0m0 70h0m0 7h0m0 42h0m0 14h0m1-173h0m0 59h0m0 52h0m0 1h0m0 11h0m0 3h0m0 132h0m1-222h0m0 37h0m0 37h0m0 0h0m0 19h0m0 57h0m1-204h0m0 0h0m0 100h0m0 9h0m1-89h0m0 68h0m0 32h0m0 3h0m0 7h0m0 23h0m0 32h0m0 4h0m1-113h0m0 52h0m1-128h0m0 119h0m0 5h0m0 1h0m0 97h0m1-168h0m0 14h0m0 79h0m0 10h0m1-157h0m0 60h0m0 132h0m0 35h0m0 18h0m1-176h0m0 32h0m0 13h0m0 15h0m0 13h0m0 9h0m0 12h0m1-43h0m0 2h0m1 13h0m0 16h0m0 160h0m1-305h0m0 48h0m0 113h0m1-158h0m0 83h0m0 27h0m1-108h0m0 60h0m0 10h0m0 55h0m0 71h0m1-18h0m0 3h0m0 46h0m1-267h0m0 14h0m0 59h0m0 32h0m0 1h0m0 39h0m0 3h0m0 45h0m1-89h0m0 49h0m0 54h0m0 17h0m0 39h0m1-233h0m0 10h0m0 106h0m0 37h0m0 1h0m0 4h0m0 59h0m1-204h0m0 13h0m0 7h0m0 18h0m0 32h0m0 48h0m1-183h0m0 118h0m0 0h0m0 104h0m0 53h0m1-240h0m0 22h0m0 91h0m0 61h0m0 8h0m1-123h0m0 4h0m0 8h0m0 63h0m0 104h0m0 42h0m1-69h0m0 27h0m1-213h0m0 35h0m0 57h0m0 25h0m0 10h0m0 22h0m0 2h0m0 18h0m1-175h0m0 65h0m0 54h0m0 14h0m0 49h0m0 41h0m1-33h0m1-155h0m0 22h0m0 7h0m0 14h0m0 12h0m0 11h0m0 18h0m0 69h0m1-222h0m0 133h0m0 85h0m1-82h0m0 16h0m1-99h0m0 22h0m0 3h0m0 30h0m0 13h0m0 17h0m0 73h0m1-168h0m0 12h0m0 27h0m0 43h0m0 7h0m0 1h0m0 98h0m0 14h0m0 1h0m0 7h0m1-236h0m0 30h0m0 48h0m0 73h0m0 32h0m1-187h0m0 113h0m0 79h0m0 11h0m0 24h0m0 48h0m1-233h0m0 135h0m0 6h0m0 34h0m1-106h0m0 4h0m1-71h0m0 24h0m0 23h0m1-73h0m0 12h0m0 86h0m1-57h0m0 15h0m0 34h0m0 15h0m0 66h0m1-146h0m0 19h0m0 9h0m0 93h0m1-95h0m0 50h0m0 22h0m1-78h0m0 41h0m0 9h0m0 28h0m0 3h0m0 36h0m0 6h0m1-194h0m0 149h0m0 50h0m0 39h0m1-120h0m0 44h0m1-110h0m0 125h0m0 40h0m0 3h0m1-107h0m0 28h0m0 77h0m0 6h0m1-221h0m0 107h0m0 4h0m0 28h0m0 67h0m1-79h0m0 40h0m1-85h0m0 26h0m0 29h0m0 58h0m1-241h0m0 7h0m0 32h0m0 91h0m0 54h0m0 36h0m0 56h0m1-123h0m0 27h0m0 20h0m0 23h0m0 15h0m1-103h0m1-4h0m0 22h0m0 69h0m1-158h0m0 54h0m0 17h0m0 81h0m0 57h0m0 3h0m1-255h0m0 136h0m0 107h0m1-219h0m0 106h0m0 103h0m1-211h0m0 25h0m0 28h0m0 28h0m0 25h0m0 18h0m0 12h0m1-146h0m0 28h0m0 2h0m0 14h0m0 63h0m0 6h0m0 2h0m0 74h0m0 48h0m1-204h0m0 78h0m0 3h0m0 57h0m0 11h0m1-117h0m0 10h0m0 18h0m0 83h0m0 33h0m1-135h0m0 8h0m0 79h0m0 28h0m1-171h0m0 93h0m0 50h0m0 26h0m1-220h0m0 87h0m0 27h0m0 24h0m0 19h0m0 98h0m1-184h0m0 52h0m0 29h0m0 47h0m0 67h0m1-211h0m0 25h0m0 32h0m0 59h0m0 30h0m0 47h0m1-203h0m0 23h0m0 70h0m0 104h0m1-171h0m0 15h0m0 42h0m1-28h0m0 24h0m1 7h0m0 28h0m0 58h0m1-61h0m1-97h0m0 90h0m0 24h0m0 88h0m1-240h0m0 29h0m0 78h0m0 25h0m0 40h0m0 15h0m1-208h0m0 8h0m0 28h0m0 84h0m0 5h0m0 4h0m0 9h0m0 13h0m1-94h0m0 38h0m0 26h0m1-88h0m0 63h0m0 22h0m0 39h0m0 11h0m0 64h0m1-209h0m0 50h0m0 8h0m0 37h0m0 114h0m1-255h0m0 106h0m0 42h0m0 32h0m1-33h0m0 2h0m0 12h0m0 7h0m0 11h0m0 54h0m0 16h0m1-78h0m0 7h0m0 71h0m1-175h0m1 39h0m1-70h0m0 91h0m0 5h0m0 40h0m0 46h0m1-209h0m0 33h0m0 12h0m0 41h0m0 21h0m0 6h0m0 29h0m0 45h0m0 32h0m1-152h0m0 22h0m0 30h0m1-104h0m0 47h0m0 2h0m0 9h0m0 75h0m1-104h0m0 2h0m0 31h0m0 18h0m0 14h0m0 18h0m0 27h0m0 2h0m0 28h0m1-130h0m0 10h0m0 40h0m0 12h0m0 8h0m0 1h0m0 61h0m1-46h0m1-78h0m0 38h0m0 8h0m0 40h0m0 13h0m0 83h0m1-210h0m0 3h0m0 1h0m0 71h0m0 13h0m0 16h0m0 76h0m1-163h0m0 25h0m0 50h0m0 22h0m1-56h0m0 17h0m0 6h0m0 5h0m1-75h0m0 36h0m0 67h0m0 1h0m0 41h0m0 36h0m1-153h0m0 17h0m0 8h0m0 17h0m0 45h0m0 49h0m0 3h0m1-165h0m0 62h0m1-69h0m0 9h0m0 35h0m0 30h0m0 18h0m0 41h0m1-189h0m0 117h0m0 11h0m0 62h0m0 28h0m0 27h0m1-152h0m0 6h0m0 17h0m0 6h0m0 28h0m0 3h0m0 17h0m0 30h0m0 32h0m1-44h0m0 12h0m1-19h0m0 37h0m1-155h0m0 3h0m0 16h0m0 52h0m0 37h0m0 25h0m0 2h0m1-196h0m0 34h0m0 20h0m0 63h0m0 5h0m0 12h0m0 21h0m0 30h0m1-164h0m0 108h0m0 15h0m1-111h0m0 15h0m0 71h0m0 36h0m1-50h0m0 54h0m0 34h0m0 8h0m1-142h0m0 1h0m0 49h0m0 23h0m0 47h0m1-141h0m0 177h0m0 5h0m1-151h0m0 9h0m0 11h0m0 44h0m1-128h0m0 61h0m0 51h0m0 11h0m0 3h0m0 38h0m0 1h0m1-71h0m0 71h0m1-233h0m0 34h0m0 56h0m0 92h0m0 7h0m0 34h0m0 22h0m1-148h0m0 53h0m0 16h0m0 9h0m0 72h0m1-134h0m0 64h0m0 5h0m0 1h0m0 7h0m0 14h0m0 3h0m0 27h0m0 46h0m1-180h0m0 35h0m0 13h0m0 55h0m1-139h0m0 81h0m0 8h0m0 68h0m0 10h0m0 16h0m0 46h0m1-188h0m0 19h0m0 13h0m0 0h0m0 2h0m0 10h0m0 33h0m0 27h0m0 18h0m1-160h0m0 20h0m0 2h0m0 9h0m0 9h0m0 63h0m0 51h0m0 75h0m1-244h0m0 90h0m0 25h0m0 5h0m0 4h0m0 17h0m0 12h0m0 43h0m1-199h0m0 123h0m0 109h0m0 7h0m0 21h0m1-145h0m0 2h0m0 9h0m0 39h0m1-109h0m0 20h0m0 22h0m0 22h0m0 19h0m0 24h0m1-73h0m0 8h0m0 20h0m0 5h0m1-51h0m0 1h0m0 19h0m0 26h0m0 57h0m0 55h0m0 14h0m1-190h0m0 17h0m0 42h0m0 2h0m0 1h0m1-6h0m0 65h0m0 48h0m0 10h0m0 6h0m1-199h0m0 16h0m0 57h0m0 37h0m0 108h0m1-153h0m1-69h0m0 8h0m0 8h0m0 55h0m0 5h0m0 5h0m0 4h0m0 58h0m1-76h0m0 7h0m0 38h0m0 6h0m0 12h0m1-116h0m0 9h0m0 129h0m1-132h0m0 27h0m0 70h0m0 30h0m1-173h0m0 49h0m0 77h0m1-125h0m0 10h0m0 50h0m0 87h0m0 7h0m1-112h0m0 5h0m0 0h0m0 11h0m0 32h0m0 3h0m0 42h0m0 12h0m0 20h0m0 14h0m0 31h0m1-25h0m0 2h0m0 6h0m0 11h0m1-221h0m0 36h0m0 40h0m0 32h0m0 38h0m0 10h0m0 44h0m1-124h0m0 18h0m0 3h0m0 35h0m0 22h0m0 47h0m1-137h0m0 2h0m0 38h0m0 36h0m0 17h0m0 4h0m0 57h0m1-186h0m0 40h0m0 20h0m0 19h0m0 20h0m0 77h0m0 18h0m1-185h0m0 3h0m0 64h0m0 2h0m1-57h0m0 21h0m0 30h0m0 3h0m0 41h0m1-125h0m0 12h0m0 30h0m0 14h0m0 19h0m0 87h0m1-188h0m0 6h0m0 80h0m0 17h0m0 27h0m1-119h0m0 93h0m0 9h0m0 1h0m0 27h0m0 27h0m1-202h0m0 96h0m0 17h0m0 31h0m0 4h0m1-32h0m0 5h0m0 12h0m0 29h0m1-89h0m0 68h0m0 52h0m0 11h0m1-167h0m0 7h0m0 22h0m0 72h0m0 35h0m0 53h0m0 54h0m1-247h0m0 53h0m0 39h0m0 8h0m0 4h0m0 66h0m1-70h0m0 5h0m0 1h0m1-34h0m0 31h0m1-96h0m0 92h0m0 4h0m0 2h0m0 12h0m0 21h0m1-110h0m0 2h0m0 45h0m0 8h0m0 3h0m0 49h0m0 13h0m0 42h0m1-184h0m0 56h0m0 10h0m0 22h0m0 47h0m0 56h0m1-218h0m0 14h0m0 23h0m0 26h0m0 4h0m0 35h0m0 13h0m0 4h0m0 16h0m0 24h0m0 18h0m0 2h0m1-41h0m0 16h0m0 37h0m1-156h0m0 16h0m0 22h0m0 23h0m0 36h0m1-71h0m0 8h0m0 23h0m0 18h0m0 41h0m1-116h0m0 37h0m0 7h0m0 40h0m0 15h0m0 92h0m1-212h0m0 15h0m0 0h0m0 2h0m0 11h0m0 174h0m0 12h0m1-135h0m0 4h0m0 10h0m0 51h0m0 12h0m0 53h0m1-175h0m0 9h0m0 94h0m1-89h0m0 7h0m0 43h0m0 27h0m0 20h0m0 5h0m0 35h0m0 26h0m1-220h0m0 23h0m0 19h0m0 46h0m0 13h0m0 15h0m0 1h0m0 62h0m1-182h0m0 8h0m0 6h0m0 2h0m0 24h0m0 12h0m0 13h0m0 1h0m0 13h0m0 71h0m1-199h0m0 41h0m0 53h0m0 52h0m0 19h0m0 7h0m0 23h0m0 16h0m1-139h0m0 22h0m0 7h0m0 36h0m0 60h0m0 16h0m0 26h0m0 16h0m0 15h0m0 1h0m1-203h0m0 46h0m0 0h0m0 9h0m0 13h0m0 6h0m0 4h0m1-55h0m0 22h0m0 42h0m0 7h0m0 86h0m1-150h0m0 14h0m0 0h0m0 0h0m0 7h0m0 4h0m0 6h0m0 32h0m0 25h0m0 44h0m1-186h0m0 2h0m0 13h0m0 57h0m0 12h0m0 14h0m0 19h0m0 27h0m0 20h0m0 16h0m0 30h0m1-166h0m0 60h0m0 4h0m0 30h0m0 24h0m0 28h0m0 8h0m0 15h0m1-104h0m0 12h0m0 15h0m1-127h0m0 6h0m0 14h0m0 32h0m0 5h0m0 10h0m0 29h0m0 151h0m1-242h0m0 113h0m0 30h0m0 0h0m0 12h0m1-134h0m0 32h0m0 17h0m0 79h0m0 14h0m0 37h0m1-197h0m0 32h0m0 57h0m0 11h0m0 63h0m1-161h0m0 32h0m0 66h0m0 71h0m1-191h0m0 40h0m0 5h0m0 10h0m0 37h0m0 1h0m0 14h0m0 31h0m0 80h0m1-195h0m0 63h0m0 11h0m1-90h0m0 89h0m0 14h0m0 33h0m0 17h0m1-213h0m0 64h0m0 16h0m0 12h0m0 0h0m0 47h0m0 49h0m1-163h0m0 50h0m0 36h0m0 38h0m0 21h0m0 12h0m0 35h0m0 50h0m1-215h0m0 24h0m0 39h0m0 16h0m0 15h0m0 12h0m0 25h0m0 10h0m1-126h0m0 34h0m0 94h0m0 25h0m1-159h0m0 18h0m0 23h0m0 4h0m0 63h0m0 19h0m1-154h0m0 25h0m0 55h0m0 47h0m0 19h0m0 9h0m0 14h0m0 33h0m0 15h0m0 15h0m1-165h0m0 62h0m0 4h0m0 99h0m1-160h0m0 17h0m0 49h0m0 39h0m0 52h0m1-198h0m0 36h0m0 8h0m0 7h0m0 21h0m0 7h0m0 100h0m0 18h0m1-225h0m0 63h0m0 19h0m0 8h0m0 8h0m0 15h0m0 34h0m0 3h0m0 72h0m1-218h0m0 36h0m0 62h0m0 13h0m0 72h0m1-166h0m0 26h0m0 39h0m0 17h0m0 6h0m0 2h0m0 11h0m0 13h0m0 65h0m1-173h0m0 51h0m0 23h0m0 29h0m0 78h0m1-179h0m0 44h0m0 7h0m0 11h0m1-68h0m0 42h0m0 16h0m0 14h0m0 15h0m0 108h0m1-144h0m0 7h0m0 10h0m1-53h0m0 12h0m0 30h0m0 3h0m0 72h0m1-126h0m0 4h0m0 2h0m0 36h0m0 20h0m0 7h0m0 4h0m0 13h0m0 8h0m1-98h0m0 18h0m0 9h0m0 85h0m0 4h0m0 4h0m1-86h0m0 2h0m0 8h0m0 1h0m0 2h0m0 16h0m0 3h0m0 2h0m0 13h0m1-111h0m0 25h0m0 19h0m0 3h0m0 19h0m0 4h0m0 5h0m0 36h0m0 5h0m0 73h0m0 8h0m1-198h0m0 47h0m0 37h0m0 3h0m0 1h0m0 7h0m1-33h0m0 4h0m0 33h0m0 8h0m0 16h0m0 47h0m1-201h0m0 97h0m0 28h0m0 27h0m0 47h0m1-83h0m0 5h0m0 10h0m0 8h0m0 29h0m1-77h0m0 6h0m0 4h0m0 56h0m0 7h0m0 18h0m1-70h0m0 18h0m1-81h0m0 11h0m0 19h0m0 38h0m0 19h0m0 2h0m0 4h0m0 1h0m0 4h0m0 23h0m0 60h0m1-127h0m0 23h0m0 5h0m0 16h0m0 7h0m0 22h0m0 19h0m1-152h0m0 2h0m0 3h0m0 13h0m0 39h0m0 6h0m0 51h0m0 43h0m0 50h0m1-183h0m0 5h0m0 26h0m0 8h0m0 56h0m1-87h0m0 25h0m0 36h0m0 22h0m0 10h0m1-105h0m0 60h0m0 24h0m0 13h0m0 4h0m0 26h0m0 5h0m0 8h0m1-165h0m0 25h0m0 3h0m0 16h0m0 14h0m0 8h0m0 13h0m0 11h0m0 9h0m0 7h0m0 14h0m0 18h0m0 33h0m1-161h0m0 38h0m0 8h0m0 9h0m0 5h0m0 14h0m0 4h0m0 8h0m0 0h0m0 21h0m1-78h0m0 0h0m0 35h0m0 2h0m0 0h0m0 18h0m0 43h0m0 13h0m1-75h0m0 2h0m0 3h0m0 22h0m0 35h0m1-145h0m0 28h0m0 30h0m0 26h0m0 7h0m0 10h0m0 2h0m0 16h0m0 7h0m0 3h0m1-111h0m0 84h0m0 15h0m0 3h0m0 22h0m1-117h0m0 21h0m0 4h0m0 10h0m0 9h0m0 29h0m0 8h0m0 67h0m0 1h0m0 6h0m1-179h0m0 17h0m0 32h0m0 14h0m0 0h0m0 3h0m0 3h0m0 0h0m0 9h0m0 6h0m0 9h0m0 54h0m0 10h0m0 6h0m0 9h0m1-187h0m0 7h0m0 34h0m0 20h0m0 30h0m0 15h0m0 3h0m0 1h0m0 3h0m0 54h0m0 10h0m1-186h0m0 2h0m0 21h0m0 3h0m0 10h0m0 45h0m0 16h0m0 24h0m0 7h0m0 24h0m0 62h0m1-174h0m0 12h0m0 1h0m0 18h0m0 3h0m0 23h0m0 25h0m0 42h0m0 3h0m0 12h0m1-149h0m0 20h0m0 8h0m0 1h0m0 15h0m0 8h0m0 34h0m0 26h0m0 30h0m0 1h0m1-118h0m0 0h0m0 13h0m0 7h0m0 28h0m0 98h0m0 6h0m1-178h0m0 97h0m0 9h0m0 3h0m0 5h0m0 17h0m0 47h0m1-159h0m0 22h0m0 5h0m0 2h0m0 19h0m0 11h0m0 12h0m0 4h0m0 3h0m0 14h0m1-92h0m0 23h0m0 2h0m0 8h0m0 12h0m0 0h0m0 4h0m0 25h0m0 11h0m1-93h0m0 21h0m0 27h0m0 5h0m0 4h0m0 12h0m0 5h0m0 5h0m0 33h0m0 1h0m0 0h0m0 47h0m1-147h0m0 69h0m0 30h0m1-142h0m0 55h0m0 13h0m0 10h0m0 6h0m0 15h0m0 10h0m0 16h0m1-110h0m0 36h0m0 13h0m0 6h0m0 54h0m1-112h0m0 6h0m0 35h0m0 7h0m0 4h0m0 5h0m0 7h0m0 3h0m0 11h0m0 23h0m0 58h0m1-160h0m0 18h0m0 3h0m0 57h0m0 0h0m0 60h0m1-138h0m0 47h0m0 8h0m0 17h0m0 20h0m0 13h0m0 1h0m0 13h0m0 34h0m1-158h0m0 17h0m0 1h0m0 21h0m0 16h0m0 24h0m0 12h0m0 13h0m0 21h0m1-128h0m0 13h0m0 14h0m0 10h0m0 26h0m0 3h0m0 5h0m0 11h0m0 59h0m0 25h0m1-147h0m0 18h0m0 21h0m0 9h0m0 18h0m0 7h0m0 18h0m0 43h0m0 34h0m1-228h0m0 21h0m0 25h0m0 6h0m0 4h0m0 3h0m0 12h0m0 4h0m0 35h0m0 5h0m0 13h0m0 1h0m0 27h0m0 17h0m0 14h0m0 9h0m0 15h0m1-142h0m0 1h0m0 11h0m0 9h0m0 40h0m0 17h0m1-108h0m0 7h0m0 42h0m0 23h0m0 26h0m0 12h0m0 11h0m0 4h0m1-142h0m0 72h0m0 41h0m1-72h0m0 7h0m0 2h0m0 5h0m0 15h0m0 19h0m0 6h0m0 3h0m0 25h0m1-46h0m0 2h0m0 9h0m0 0h0m0 5h0m0 33h0m1-98h0m0 34h0m0 15h0m0 22h0m0 7h0m0 6h0m0 24h0m0 16h0m1-147h0m0 15h0m0 28h0m0 2h0m0 7h0m0 9h0m0 1h0m0 17h0m0 10h0m0 21h0m0 12h0m0 16h0m0 28h0m1-150h0m0 27h0m0 33h0m0 35h0m0 47h0m1-125h0m0 6h0m0 40h0m0 36h0m0 2h0m0 4h0m0 56h0m0 13h0m1-153h0m0 0h0m0 1h0m1-9h0m0 25h0m0 6h0m0 6h0m1-58h0m0 48h0m0 16h0m0 3h0m0 6h0m0 5h0m1-32h0m0 1h0m0 6h0m0 45h0m0 9h0m0 18h0m0 11h0m0 34h0m1-136h0m0 17h0m0 5h0m0 6h0m0 19h0m0 36h0m0 7h0m0 6h0m0 22h0m1-124h0m0 34h0m0 22h0m1-72h0m0 18h0m0 11h0m0 62h0m0 86h0m1-192h0m0 18h0m0 21h0m0 6h0m0 1h0m0 10h0m0 11h0m0 41h0m1-28h0m0 16h0m0 25h0m0 17h0m0 9h0m0 2h0m1-176h0m0 42h0m0 25h0m0 8h0m0 6h0m0 14h0m0 8h0m0 2h0m0 39h0m1-116h0m0 20h0m0 6h0m0 28h0m0 1h0m0 18h0m0 7h0m0 22h0m0 11h0m1-136h0m0 42h0m0 57h0m0 48h0m1-142h0m0 64h0m0 10h0m0 19h0m0 9h0m0 8h0m0 9h0m0 3h0m0 24h0m0 32h0m1-149h0m0 19h0m0 2h0m0 21h0m0 5h0m0 16h0m1-83h0m0 19h0m0 1h0m0 11h0m0 37h0m0 4h0m1-56h0m0 6h0m0 6h0m0 6h0m0 20h0m0 1h0m0 9h0m0 5h0m0 0h0m0 1h0m0 1h0m0 4h0m0 30h0m1-111h0m0 14h0m0 26h0m0 6h0m0 33h0m0 24h0m0 46h0m0 14h0m1-168h0m0 28h0m0 7h0m0 6h0m0 27h0m0 20h0m0 21h0m0 48h0m1-168h0m0 62h0m0 8h0m0 6h0m0 8h0m0 4h0m0 17h0m0 8h0m0 8h0m0 29h0m1-104h0m0 19h0m0 7h0m0 8h0m0 18h0m0 6h0m0 78h0m1-166h0m0 28h0m0 14h0m0 9h0m0 10h0m0 2h0m0 10h0m0 27h0m1-35h0m0 21h0m0 15h0m0 23h0m0 7h0m1-132h0m0 38h0m0 5h0m0 21h0m0 3h0m0 7h0m0 24h0m0 18h0m0 3h0m0 12h0m0 1h0m1-113h0m0 14h0m0 11h0m0 0h0m0 12h0m0 13h0m0 5h0m0 0h0m0 29h0m0 24h0m0 26h0m1-120h0m0 3h0m0 34h0m0 17h0m0 24h0m0 32h0m1-97h0m0 16h0m0 4h0m0 2h0m0 1h0m0 6h0m0 5h0m0 13h0m0 1h0m0 2h0m0 36h0m0 4h0m1-126h0m0 39h0m0 14h0m0 15h0m0 44h0m1-91h0m0 11h0m0 3h0m0 49h0m0 16h0m0 39h0m1-110h0m0 14h0m0 7h0m0 26h0m1-87h0m0 6h0m0 25h0m0 19h0m0 5h0m0 7h0m0 46h0m1-121h0m0 9h0m0 3h0m0 24h0m0 11h0m0 23h0m0 6h0m0 16h0m0 61h0m0 0h0m1-106h0m0 5h0m0 2h0m0 17h0m0 3h0m0 6h0m0 6h0m0 7h0m0 2h0m0 22h0m1-102h0m0 21h0m0 3h0m0 29h0m0 17h0m0 10h0m1-46h0m0 11h0m0 5h0m0 9h0m0 12h0m0 4h0m0 7h0m0 10h0m1-112h0m0 9h0m0 26h0m0 21h0m0 25h0m0 19h0m0 12h0m0 30h0m0 35h0m1-183h0m0 46h0m0 27h0m0 0h0m0 11h0m0 9h0m0 8h0m0 45h0m0 7h0m0 2h0m1-137h0m0 10h0m0 12h0m0 7h0m0 24h0m0 32h0m0 0h0m0 5h0m1-74h0m0 33h0m0 10h0m0 2h0m0 7h0m0 39h0m1-84h0m0 9h0m0 1h0m0 3h0m0 16h0m0 4h0m0 51h0m1-59h0m0 1h0m0 7h0m0 12h0m0 1h0m0 33h0m0 17h0m0 23h0m1-136h0m0 14h0m0 29h0m0 11h0m0 6h0m0 96h0m1-119h0m0 4h0m0 3h0m0 24h0m0 6h0m0 6h0m0 20h0m1-89h0m0 1h0m0 11h0m0 4h0m0 20h0m0 37h0m1-87h0m0 14h0m0 8h0m0 23h0m0 19h0m0 6h0m0 1h0m0 11h0m0 22h0m0 30h0m0 3h0m0 23h0m1-173h0m0 10h0m0 30h0m0 9h0m0 5h0m0 14h0m0 16h0m0 28h0m0 1h0m1-95h0m0 10h0m0 28h0m0 98h0m1-171h0m0 19h0m0 15h0m0 45h0m0 5h0m0 25h0m0 25h0m0 22h0m0 16h0m1-156h0m0 26h0m0 15h0m0 12h0m0 10h0m0 0h0m0 16h0m0 9h0m0 31h0m0 4h0m1-142h0m0 43h0m0 2h0m0 10h0m0 5h0m0 2h0m0 36h0m0 42h0m1-134h0m0 30h0m0 2h0m0 5h0m0 13h0m0 14h0m0 14h0m0 9h0m0 2h0m0 15h0m0 53h0m1-101h0m0 4h0m0 2h0m0 2h0m0 12h0m0 85h0m0 105h0m1-231h0m0 4h0m0 2h0m0 30h0m0 57h0m1-78h0m0 13h0m0 10h0m0 46h0m1-58h0m0 4h0m0 1h0m0 15h0m0 31h0m1-76h0m0 21h0m0 2h0m0 14h0m0 19h0m0 4h0m0 3h0m1-80h0m0 2h0m0 6h0m0 12h0m0 12h0m0 16h0m0 56h0m1-96h0m0 4h0m0 0h0m0 13h0m0 5h0m0 8h0m0 2h0m0 1h0m0 8h0m0 31h0m0 6h0m0 5h0m0 19h0m1-153h0m0 43h0m0 9h0m0 4h0m0 11h0m0 9h0m0 1h0m0 40h0m0 1h0m0 42h0m1-85h0m0 21h0m0 5h0m0 9h0m0 7h0m0 27h0m0 24h0m2-120h0m0 38h0m0 7h0m0 14h0m0 10h0m0 10h0m0 17h0m0 35h0m1-160h0m0 17h0m0 18h0m0 95h0m1-76h0m0 0h0m0 43h0m0 38h0m1-109h0m0 18h0m0 5h0m0 17h0m0 2h0m0 21h0m1-65h0m0 27h0m0 19h0m0 7h0m0 51h0m1-128h0m0 62h0m1-15h0m0 13h0m0 16h0m0 34h0m1-89h0m0 16h0m0 19h0m0 53h0m0 9h0m1-115h0m0 18h0m0 14h0m0 2h0m0 17h0m0 28h0m0 5h0m0 0h0m0 27h0m1-127h0m0 21h0m0 19h0m0 8h0m0 17h0m0 22h0m0 1h0m0 23h0m0 13h0m1-97h0m0 12h0m0 17h0m0 5h0m0 46h0m0 1h0m0 53h0m1-155h0m0 36h0m0 13h0m0 5h0m0 4h0m0 2h0m0 9h0m0 8h0m0 32h0m1-51h0m0 10h0m0 8h0m0 9h0m1-71h0m0 26h0m0 10h0m0 4h0m0 37h0m1-54h0m0 0h0m0 12h0m0 14h0m0 0h0m0 79h0m1-100h0m0 13h0m0 0h0m0 31h0m0 17h0m1-86h0m0 1h0m0 23h0m0 7h0m0 6h0m0 4h0m0 16h0m0 28h0m1-68h0m0 14h0m0 4h0m0 1h0m0 24h0m0 11h0m0 28h0m0 4h0m0 38h0m1-109h0m0 22h0m0 6h0m0 14h0m0 3h0m0 13h0m1-88h0m0 6h0m0 15h0m0 9h0m0 10h0m0 13h0m0 23h0m0 5h0m1-100h0m0 52h0m0 14h0m0 5h0m1-75h0m0 15h0m0 1h0m0 2h0m0 16h0m0 17h0m0 17h0m0 41h0m1-80h0m0 7h0m0 16h0m0 11h0m0 4h0m0 5h0m0 5h0m0 15h0m1-59h0m0 21h0m0 1h0m0 9h0m1-43h0m0 1h0m0 24h0m0 12h0m0 7h0m0 5h0m0 15h0m0 8h0m0 6h0m1-93h0m0 21h0m0 18h0m0 16h0m0 8h0m0 68h0m1-95h0m0 72h0m1-70h0m0 10h0m0 39h0m0 2h0m1-94h0m0 19h0m0 3h0m0 19h0m0 7h0m0 9h0m0 44h0m1-109h0m0 4h0m0 30h0m0 13h0m0 5h0m0 36h0m0 7h0m0 23h0m1-82h0m0 9h0m0 13h0m0 2h0m0 19h0m0 30h0m1-60h0m0 16h0m1-61h0m0 31h0m0 0h0m0 10h0m0 11h0m0 2h0m0 1h0m0 5h0m1-39h0m0 16h0m0 7h0m0 40h0m0 61h0m1-126h0m0 11h0m0 1h0m0 0h0m0 36h0m0 2h0m0 9h0m0 9h0m0 42h0m1-104h0m0 17h0m0 2h0m0 27h0m0 8h0m1-75h0m0 27h0m0 3h0m0 11h0m0 6h0m1-45h0m0 35h0m1-19h0m0 2h0m0 41h0m0 10h0m0 40h0m1-95h0m0 22h0m0 8h0m0 53h0m1-113h0m0 4h0m0 12h0m0 30h0m0 26h0m0 12h0m0 5h0m1-62h0m0 2h0m0 8h0m0 13h0m0 2h0m0 15h0m0 7h0m0 28h0m1-92h0m0 7h0m0 14h0m0 10h0m0 6h0m1-54h0m0 24h0m0 3h0m0 16h0m0 21h0m0 2h0m0 11h0m0 2h0m0 11h0m0 26h0m1-89h0m0 5h0m0 1h0m0 35h0m0 3h0m0 5h0m1-65h0m0 32h0m0 6h0m0 3h0m0 52h0m0 2h0m1-42h0m0 5h0m0 11h0m0 36h0m1-70h0m0 23h0m1-62h0m0 4h0m0 7h0m0 28h0m0 13h0m0 17h0m1-26h0m0 1h0m0 4h0m0 52h0m0 6h0m1-95h0m0 22h0m0 16h0m0 8h0m0 2h0m0 2h0m0 9h0m0 43h0m1-123h0m0 13h0m0 15h0m0 15h0m0 4h0m0 7h0m0 8h0m1-23h0m0 3h0m0 31h0m0 16h0m0 26h0m1-80h0m0 11h0m0 8h0m0 11h0m0 2h0m1-70h0m0 6h0m0 26h0m0 7h0m0 2h0m0 16h0m0 72h0m1-96h0m0 2h0m0 3h0m0 30h0m1-35h0m0 13h0m0 26h0m1-55h0m0 12h0m0 32h0m0 11h0m1-52h0m1-22h0m0 32h0m0 8h0m0 0h0m0 36h0m1-70h0m0 18h0m0 17h0m0 7h0m0 9h0m0 4h0m0 5h0m0 6h0m0 29h0m0 42h0m1-162h0m0 27h0m0 24h0m0 14h0m0 1h0m0 23h0m0 45h0m1-107h0m0 21h0m0 6h0m0 46h0m1-65h0m0 24h0m0 6h0m0 0h0m0 25h0m0 5h0m1-37h0m0 1h0m0 6h0m0 39h0m1-88h0m0 9h0m0 26h0m0 3h0m0 4h0m0 11h0m0 20h0m1-71h0m0 50h0m0 3h0m1-42h0m0 7h0m0 17h0m0 16h0m0 12h0m1-60h0m0 31h0m0 7h0m1-38h0m0 3h0m0 6h0m0 0h0m0 6h0m0 2h0m0 3h0m0 1h0m0 9h0m0 28h0m1-69h0m0 14h0m0 25h0m0 21h0m1-36h0m0 7h0m0 20h0m0 3h0m0 9h0m0 5h0m1-61h0m0 16h0m0 10h0m0 31h0m1-68h0m0 29h0m0 18h0m0 9h0m0 6h0m0 11h0m1-69h0m0 2h0m0 30h0m0 0h0m0 8h0m0 15h0m1-6h0m0 16h0m0 51h0m1-87h0m0 4h0m0 30h0m0 2h0m0 2h0m0 20h0m1-78h0m0 43h0m0 2h0m1-51h0m0 13h0m0 30h0m0 11h0m1-20h0m0 19h0m1-34h0m0 0h0m1-28h0m0 5h0m0 15h0m0 14h0m0 36h0m0 5h0m0 7h0m1-95h0m0 20h0m0 10h0m0 40h0m0 25h0m0 7h0m1-86h0m0 11h0m0 21h0m0 8h0m0 3h0m1-33h0m0 18h0m0 6h0m0 4h0m1-36h0m0 36h0m0 9h0m0 4h0m1-49h0m0 20h0m0 14h0m0 29h0m0 3h0m0 13h0m0 16h0m1-78h0m0 13h0m1-12h0m0 36h0m0 3h0m0 10h0m0 6h0m0 39h0m1-96h0m0 8h0m0 8h0m0 13h0m0 16h0m0 33h0m1-95h0m0 11h0m0 33h0m0 2h0m1-23h0m0 34h0m1-73h0m0 44h0m1-27h0m0 16h0m0 5h0m0 13h0m0 5h0m0 20h0m0 1h0m1-77h0m0 37h0m1-31h0m0 21h0m0 21h0m1-34h0m0 29h0m0 3h0m0 23h0m0 1h0m1-35h0m0 10h0m0 6h0m1-54h0m0 15h0m0 0h0m0 18h0m0 19h0m0 0h0m0 12h0m1-34h0m0 1h0m0 1h0m0 10h0m0 2h0m0 3h0m0 13h0m1-65h0m0 35h0m0 17h0m0 4h0m0 1h0m0 19h0m1-80h0m0 21h0m0 0h0m0 15h0m0 4h0m0 24h0m1-52h0m0 13h0m0 6h0m0 10h0m0 22h0m0 7h0m0 6h0m1-63h0m0 0h0m0 12h0m0 83h0m1-91h0m0 10h0m1 9h0m0 8h0m0 25h0m1-48h0m0 2h0m0 15h0m0 14h0m1-26h0m0 10h0m0 12h0m0 18h0m1-11h0m1-58h0m0 26h0m0 16h0m0 7h0m0 12h0m0 6h0m1-31h0m0 1h0m1 0h0m1-6h0m1-8h0m1 1h0m0 4h0m0 9h0m0 8h0m0 15h0m1-47h0m0 5h0m0 12h0m0 22h0m0 21h0m1-31h0m0 6h0m0 4h0m0 9h0m2-43h0m0 7h0m1-12h0m0 11h0m0 6h0m1-25h0m0 25h0m0 11h0m0 10h0m0 8h0m0 6h0m1-73h0m0 24h0m0 16h0m1-12h0m0 11h0m0 4h0m0 6h0m1-12h0m0 6h0m0 7h0m0 3h0m1-46h0m0 10h0m0 14h0m0 16h0m0 22h0m1-43h0m0 19h0m1-48h0m0 16h0m0 2h0m0 20h0m1-17h0m0 15h0m0 5h0m0 1h0m0 20h0m0 45h0m1-98h0m0 8h0m0 15h0m0 5h0m0 12h0m2-34h0m0 5h0m1-14h0m0 3h0m0 23h0m0 6h0m0 1h0m0 4h0m1-40h0m0 14h0m0 29h0m1-46h0m0 3h0m0 14h0m0 6h0m0 11h0m0 17h0m1-26h0m0 3h0m0 14h0m1-29h0m2-1h0m0 4h0m0 31h0m0 7h0m1-44h0m0 7h0m0 27h0m1-39h0m1 11h0m1-2h0m0 13h0m1-13h0m0 1h0m0 21h0m1-9h0m1 5h0m1-24h0m0 6h0m1-10h0m0 13h0m1-9h0m0 1h0m0 6h0m0 13h0m1-35h0m0 13h0m0 1h0m0 6h0m0 10h0m0 0h0m0 1h0m1-38h0m0 22h0m0 3h0m0 7h0m1-17h0m0 8h0m1-9h0m0 19h0m1-14h0m0 17h0m1-37h0m0 21h0m0 5h0m0 13h0m1-9h0m1-11h0m1-14h0m0 26h0m1-13h0m0 7h0m1-15h0m1-11h0m0 12h0m0 1h0m0 8h0m0 2h0m0 4h0m0 24h0m1-49h0m0 4h0m0 6h0m2-10h0m0 25h0m1-29h0m0 18h0m0 4h0m0 11h0m0 1h0m1-32h0m0 12h0m0 1h0m1-7h0m0 6h0m0 15h0m1-26h0m0 1h0m0 0h0m0 5h0m0 2h0m1-8h0m0 1h0m0 4h0m0 25h0m1-26h0m1 6h0m1-11h0m1-3h0m0 1h0m0 1h0m0 8h0m1-15h0m0 8h0m1 6h0m0 7h0m1-10h0m1-17h0m0 9h0m1-8h0m0 0h0m0 5h0m0 8h0m2-13h0m2-10h0m0 31h0m2-9h0m1-4h0m1-11h0m1 6h0m0 4h0m2-17h0m0 7h0m1-4h0m0 17h0m1-14h0m1 11h0m2-12h0m0 5h0m2-8h0m0 4h0m1-7h0m0 2h0m1 17h0m5-20h0m2-2h0"/>
<rect x="406.5" y="32.8" width="112.5" height="110.4" fill="#fff" stroke="#a8a8a8" stroke-width="1"/><path d="M417.6 130.7H515.2M417.6 111.92H515.2M417.6 93.14H515.2M417.6 74.36H515.2M417.6 55.58H515.2M417.6 36.8H515.2" stroke="#e0e0e0" stroke-width="0.7" fill="none"/><path d="M418.4 36.8V130.7" stroke="#c4c4c4" stroke-width="0.8" fill="none"/><text x="415.4" y="132" class="sy">0</text><text x="415.4" y="113.22" class="sy">0.2</text><text x="415.4" y="94.44" class="sy">0.4</text><text x="415.4" y="75.66" class="sy">0.6</text><text x="415.4" y="56.88" class="sy">0.8</text><text x="415.4" y="38.1" class="sy">1</text><text x="418.4" y="138" class="sx">0</text><text x="466.4" y="138" class="sx">0.5</text><text x="514.4" y="138" class="sx">1</text>
<polygon class="c2" points="418.94,128.22 419.11,127.11 419.35,126.06 419.61,125.03 419.89,124.02 420.17,123.02 420.47,122.03 420.78,121.05 421.1,120.07 421.43,119.11 421.77,118.16 422.12,117.22 422.48,116.28 422.85,115.36 423.24,114.46 423.64,113.56 424.05,112.68 424.48,111.81 424.93,110.96 425.4,110.13 425.88,109.32 426.39,108.52 426.92,107.75 427.47,107 428.05,106.27 428.65,105.57 429.29,104.9 429.96,104.26 430.66,103.66 431.41,103.09 432.2,102.56 433.04,102.08 433.93,101.66 434.89,101.3 435.93,101.01 437.07,100.81 438.34,100.74 439.8,100.85 441.61,101.29 445.29,103.51 445.29,103.51 446.42,105.85 446.43,107.13 446.23,108.22 445.91,109.2 445.53,110.1 445.08,110.95 444.58,111.76 444.05,112.53 443.48,113.26 442.89,113.97 442.27,114.66 441.62,115.32 440.96,115.97 440.28,116.59 439.57,117.2 438.86,117.8 438.13,118.38 437.38,118.94 436.62,119.5 435.85,120.04 435.07,120.57 434.27,121.1 433.47,121.61 432.66,122.11 431.83,122.6 431,123.09 430.16,123.57 429.31,124.04 428.46,124.5 427.59,124.96 426.72,125.4 425.84,125.84 424.95,126.27 424.05,126.69 423.14,127.1 422.21,127.5 421.27,127.88 420.3,128.23 419.22,128.48"/>
<polygon class="c2" points="512.57,39.51 511.72,39.71 510.92,39.95 510.13,40.2 509.34,40.46 508.57,40.73 507.8,41 507.04,41.28 506.29,41.57 505.54,41.86 504.8,42.16 504.06,42.46 503.33,42.77 502.61,43.09 501.9,43.41 501.19,43.74 500.5,44.08 499.81,44.43 499.13,44.79 498.47,45.16 497.81,45.55 497.17,45.94 496.55,46.35 495.94,46.77 495.34,47.21 494.76,47.66 494.21,48.13 493.67,48.62 493.16,49.14 492.67,49.68 492.21,50.24 491.78,50.84 491.39,51.47 491.05,52.15 490.76,52.87 490.53,53.66 490.39,54.53 490.38,55.52 490.6,56.73 492.09,59.14 492.09,59.14 494.19,60.13 495.32,60.2 496.27,60.1 497.13,59.91 497.91,59.66 498.65,59.36 499.35,59.02 500.02,58.65 500.65,58.25 501.26,57.83 501.85,57.38 502.42,56.92 502.97,56.44 503.5,55.94 504.02,55.43 504.52,54.91 505.01,54.37 505.48,53.82 505.94,53.25 506.39,52.68 506.83,52.09 507.26,51.49 507.67,50.89 508.08,50.27 508.47,49.64 508.86,49.01 509.24,48.37 509.61,47.71 509.96,47.05 510.31,46.38 510.65,45.7 510.98,45.02 511.3,44.32 511.61,43.61 511.91,42.89 512.19,42.15 512.45,41.4 512.67,40.61 512.79,39.72"/>
<path class="p2" transform="scale(.1)" d="M4188 1215h0m0 14h0m1-3h0m0 48h0m1-100h0m0 19h0m0 34h0m1-61h0m0 92h0m1-117h0m0 115h0m1-80h0m0 33h0m0 31h0m1 26h0m0 0h0m1-84h0m0 8h0m0 77h0m0 7h0m1-111h0m0 46h0m0 73h0m1-98h0m0 24h0m0 35h0m0 28h0m0 8h0m1-670h0m0 474h0m0 8h0m0 171h0m0 0h0m0 3h0m1-212h0m0 88h0m0 49h0m0 36h0m0 4h0m0 49h0m1-43h0m0 6h0m0 9h0m0 21h0m1-122h0m1-12h0m0 93h0m0 4h0m0 0h0m0 24h0m1-102h0m0 36h0m0 24h0m0 44h0m0 11h0m1-196h0m0 46h0m0 95h0m0 20h0m0 5h0m1-177h0m0 141h0m0 7h0m0 30h0m0 9h0m0 7h0m0 15h0m1-93h0m0 26h0m0 25h0m0 28h0m0 12h0m1-130h0m0 112h0m0 6h0m1-151h0m0 79h0m0 65h0m0 0h0m0 4h0m0 17h0m0 1h0m1-204h0m0 42h0m0 86h0m0 58h0m0 16h0m1-88h0m0 61h0m0 3h0m0 3h0m0 7h0m0 9h0m0 14h0m1-122h0m0 79h0m1-182h0m0 53h0m0 79h0m0 19h0m0 29h0m0 10h0m0 19h0m0 4h0m1-177h0m0 65h0m0 45h0m0 14h0m0 26h0m0 3h0m0 4h0m0 19h0m0 1h0m1-66h0m0 28h0m0 15h0m0 15h0m0 7h0m1-184h0m0 139h0m0 24h0m0 3h0m0 21h0m1-271h0m0 44h0m0 31h0m0 50h0m0 56h0m0 15h0m0 31h0m0 2h0m0 33h0m0 7h0m1-225h0m0 120h0m0 6h0m0 2h0m0 57h0m0 19h0m0 9h0m0 5h0m0 1h0m1-324h0m0 56h0m0 72h0m0 35h0m0 27h0m0 45h0m0 22h0m0 25h0m0 7h0m0 29h0m0 1h0m0 1h0m0 1h0m1-171h0m0 57h0m0 2h0m0 38h0m0 9h0m0 23h0m0 10h0m0 7h0m0 5h0m0 18h0m0 10h0m1-330h0m0 175h0m0 98h0m1-181h0m0 83h0m0 18h0m0 12h0m0 98h0m1-96h0m0 91h0m0 12h0m0 13h0m1-299h0m0 92h0m0 48h0m0 125h0m0 28h0m0 11h0m1-190h0m0 86h0m0 18h0m0 26h0m0 21h0m1-260h0m0 79h0m0 30h0m0 84h0m0 6h0m0 5h0m0 35h0m0 1h0m0 7h0m0 24h0m0 1h0m1-247h0m0 31h0m0 90h0m0 32h0m0 85h0m0 9h0m1-606h0m0 304h0m0 107h0m0 5h0m0 92h0m0 44h0m0 11h0m0 2h0m0 11h0m0 21h0m0 5h0m0 8h0m0 4h0m0 11h0m1-254h0m0 194h0m0 28h0m0 12h0m0 12h0m0 9h0m1-352h0m0 159h0m0 8h0m0 106h0m0 66h0m0 9h0m0 3h0m0 2h0m1-211h0m0 42h0m0 89h0m0 37h0m0 21h0m0 1h0m0 0h0m0 10h0m0 3h0m0 4h0m1-305h0m0 160h0m0 121h0m0 11h0m0 1h0m0 2h0m0 28h0m1-251h0m0 39h0m0 34h0m0 33h0m0 40h0m0 34h0m0 3h0m0 14h0m0 42h0m1-354h0m0 195h0m0 50h0m0 26h0m0 11h0m0 23h0m0 23h0m0 4h0m0 4h0m0 2h0m0 1h0m0 0h0m0 1h0m1-365h0m0 44h0m0 41h0m0 101h0m0 102h0m0 12h0m0 6h0m0 12h0m0 17h0m0 8h0m0 5h0m0 14h0m1-312h0m0 74h0m0 172h0m0 39h0m0 4h0m0 2h0m0 36h0m1-342h0m0 150h0m0 11h0m0 36h0m0 4h0m0 6h0m0 26h0m0 5h0m0 39h0m0 29h0m0 6h0m0 6h0m0 5h0m0 7h0m0 11h0m1-156h0m0 94h0m0 33h0m1-179h0m0 52h0m0 16h0m0 77h0m0 27h0m0 15h0m0 5h0m0 5h0m0 22h0m1-328h0m0 57h0m0 197h0m0 1h0m0 15h0m0 26h0m1-114h0m0 7h0m0 17h0m0 15h0m1-24h0m0 75h0m0 1h0m0 2h0m0 29h0m0 6h0m1-258h0m0 11h0m0 85h0m0 34h0m0 24h0m0 64h0m0 17h0m0 22h0m1-234h0m0 53h0m0 51h0m0 13h0m0 38h0m0 1h0m1-135h0m0 30h0m0 31h0m0 15h0m0 4h0m0 0h0m0 16h0m0 25h0m0 4h0m0 42h0m0 29h0m0 4h0m0 2h0m0 18h0m0 11h0m1-369h0m0 114h0m0 51h0m0 16h0m0 11h0m0 42h0m0 10h0m0 16h0m0 0h0m0 30h0m0 20h0m0 24h0m0 7h0m0 4h0m0 40h0m1-478h0m0 204h0m0 121h0m0 5h0m0 14h0m0 9h0m0 39h0m0 6h0m0 16h0m0 17h0m0 2h0m1-272h0m0 12h0m0 54h0m0 194h0m0 11h0m1-295h0m0 68h0m0 14h0m0 45h0m0 52h0m0 56h0m0 11h0m0 8h0m0 33h0m0 11h0m0 12h0m1-249h0m0 74h0m0 29h0m0 14h0m0 13h0m0 51h0m0 3h0m0 11h0m0 9h0m0 3h0m0 10h0m0 3h0m0 13h0m1-255h0m0 57h0m0 125h0m0 30h0m0 29h0m0 36h0m1-302h0m0 61h0m0 127h0m0 29h0m0 11h0m0 2h0m0 16h0m1-301h0m0 4h0m0 238h0m0 16h0m0 36h0m0 15h0m0 44h0m0 20h0m1-372h0m0 107h0m0 38h0m0 38h0m0 3h0m0 45h0m0 28h0m0 7h0m0 4h0m0 4h0m0 20h0m0 50h0m1-358h0m0 41h0m0 101h0m0 28h0m0 14h0m0 64h0m0 4h0m1-62h0m0 45h0m0 10h0m0 21h0m0 18h0m0 34h0m0 36h0m0 13h0m1-332h0m0 187h0m0 8h0m0 64h0m0 54h0m0 12h0m1-185h0m0 76h0m0 66h0m0 7h0m0 7h0m0 7h0m0 6h0m1-238h0m0 79h0m0 32h0m0 1h0m0 4h0m0 29h0m0 30h0m0 42h0m0 30h0m0 27h0m1-224h0m0 2h0m0 48h0m0 91h0m0 1h0m0 7h0m0 35h0m1-215h0m0 55h0m0 44h0m0 9h0m0 7h0m0 11h0m0 18h0m0 16h0m0 28h0m1-304h0m0 50h0m0 48h0m0 9h0m0 50h0m0 8h0m0 44h0m0 22h0m0 38h0m0 26h0m0 24h0m0 20h0m0 2h0m0 15h0m1-418h0m0 68h0m0 134h0m0 69h0m0 1h0m1-179h0m0 72h0m0 47h0m0 18h0m0 41h0m0 31h0m0 41h0m0 42h0m0 3h0m1-97h0m0 11h0m0 7h0m0 4h0m0 13h0m0 32h0m0 0h0m0 2h0m0 7h0m0 6h0m1-128h0m0 86h0m0 33h0m0 44h0m1-244h0m0 5h0m0 22h0m0 53h0m0 17h0m0 78h0m0 5h0m0 8h0m0 23h0m0 14h0m0 3h0m0 21h0m1-443h0m0 121h0m0 91h0m0 1h0m0 9h0m0 14h0m0 16h0m0 48h0m0 18h0m0 18h0m0 63h0m0 32h0m0 14h0m1-350h0m0 131h0m0 9h0m0 74h0m0 8h0m0 0h0m0 20h0m0 38h0m0 21h0m0 7h0m1-160h0m0 76h0m0 6h0m0 39h0m0 36h0m0 30h0m1-187h0m0 9h0m0 9h0m0 48h0m0 11h0m0 6h0m0 83h0m0 18h0m1-262h0m0 112h0m0 22h0m0 15h0m0 39h0m0 37h0m0 8h0m0 15h0m0 8h0m1-211h0m0 141h0m0 15h0m0 7h0m0 20h0m0 19h0m0 4h0m0 8h0m0 10h0m0 9h0m0 3h0m0 12h0m1-361h0m0 136h0m0 10h0m0 3h0m0 67h0m0 84h0m0 39h0m1-426h0m0 104h0m0 95h0m0 145h0m0 8h0m0 12h0m0 36h0m0 11h0m0 4h0m0 2h0m0 6h0m0 1h0m1-437h0m0 89h0m0 175h0m0 14h0m0 11h0m0 69h0m0 16h0m0 4h0m0 6h0m0 18h0m0 13h0m0 7h0m0 4h0m0 2h0m1-399h0m0 86h0m0 70h0m0 62h0m0 18h0m0 32h0m0 66h0m0 12h0m0 18h0m0 48h0m0 24h0m1-294h0m0 89h0m0 8h0m0 12h0m0 40h0m0 30h0m0 8h0m0 10h0m0 0h0m0 3h0m0 0h0m0 39h0m0 1h0m1-319h0m0 73h0m0 47h0m0 8h0m0 31h0m0 14h0m0 81h0m0 28h0m0 23h0m0 25h0m0 15h0m1-328h0m0 32h0m0 1h0m0 8h0m0 81h0m0 30h0m0 51h0m0 15h0m0 33h0m0 5h0m0 87h0m1-668h0m0 421h0m0 37h0m0 7h0m0 62h0m0 8h0m0 20h0m0 20h0m0 3h0m1-170h0m0 57h0m0 19h0m0 3h0m0 14h0m0 27h0m0 20h0m0 17h0m0 18h0m0 2h0m0 24h0m0 31h0m0 4h0m0 20h0m0 1h0m1-397h0m0 4h0m0 55h0m0 2h0m0 52h0m0 44h0m0 14h0m0 47h0m0 30h0m0 12h0m0 3h0m0 18h0m0 32h0m0 18h0m0 22h0m0 1h0m0 22h0m1-287h0m0 69h0m0 83h0m0 28h0m0 4h0m0 28h0m0 14h0m0 25h0m0 32h0m0 10h0m1-371h0m0 87h0m0 64h0m0 37h0m0 8h0m0 27h0m0 9h0m0 12h0m0 8h0m0 16h0m0 1h0m0 1h0m0 35h0m0 23h0m0 2h0m0 51h0m1-560h0m0 299h0m0 11h0m0 126h0m0 20h0m0 49h0m1-365h0m0 70h0m0 22h0m0 11h0m0 18h0m0 59h0m0 25h0m0 61h0m0 15h0m0 4h0m0 46h0m0 21h0m0 1h0m0 7h0m0 5h0m0 3h0m0 12h0m0 1h0m0 7h0m0 16h0m0 9h0m1-420h0m0 151h0m0 54h0m0 15h0m0 45h0m0 19h0m0 28h0m0 5h0m0 7h0m0 6h0m0 1h0m0 5h0m0 21h0m0 53h0m0 2h0m1-318h0m0 109h0m0 3h0m0 19h0m0 4h0m0 48h0m0 14h0m0 10h0m0 24h0m0 74h0m0 13h0m1-347h0m0 42h0m0 88h0m0 2h0m0 9h0m0 30h0m0 51h0m0 13h0m0 30h0m0 0h0m0 2h0m0 36h0m0 1h0m0 30h0m1-485h0m0 179h0m0 30h0m0 125h0m0 67h0m0 31h0m0 20h0m0 4h0m0 6h0m0 11h0m0 32h0m1-349h0m0 179h0m0 55h0m0 38h0m0 18h0m0 7h0m0 6h0m0 1h0m0 4h0m0 58h0m1-471h0m0 148h0m0 62h0m0 4h0m0 48h0m0 10h0m0 12h0m0 19h0m0 24h0m0 9h0m0 56h0m0 12h0m0 15h0m0 79h0m1-341h0m0 90h0m0 53h0m0 42h0m0 19h0m0 2h0m0 4h0m0 0h0m0 8h0m0 32h0m0 28h0m0 6h0m0 2h0m0 28h0m1-449h0m0 222h0m0 12h0m0 46h0m0 37h0m0 36h0m0 78h0m1-312h0m0 22h0m0 2h0m0 29h0m0 110h0m0 14h0m0 15h0m0 15h0m0 9h0m0 35h0m1-121h0m0 30h0m0 2h0m0 33h0m0 9h0m0 15h0m0 7h0m0 80h0m0 8h0m1-402h0m0 123h0m0 50h0m0 25h0m0 37h0m0 47h0m0 28h0m0 29h0m0 22h0m0 9h0m0 36h0m1-319h0m0 20h0m0 79h0m0 7h0m0 21h0m0 11h0m0 15h0m0 15h0m0 7h0m0 3h0m0 14h0m0 58h0m0 1h0m0 1h0m0 2h0m0 17h0m0 3h0m1-351h0m0 136h0m0 88h0m0 24h0m0 38h0m0 23h0m0 10h0m0 12h0m0 45h0m0 28h0m1-221h0m0 79h0m0 10h0m0 16h0m0 2h0m0 17h0m0 6h0m0 6h0m0 64h0m1-327h0m0 42h0m0 115h0m0 46h0m0 19h0m0 47h0m0 6h0m0 13h0m0 15h0m0 23h0m0 19h0m1-160h0m0 21h0m0 7h0m0 16h0m0 21h0m0 8h0m0 8h0m0 17h0m0 33h0m1-404h0m0 178h0m0 3h0m0 4h0m0 3h0m0 92h0m0 2h0m0 43h0m0 6h0m0 0h0m0 3h0m0 5h0m0 9h0m0 26h0m0 30h0m0 8h0m0 23h0m1-424h0m0 106h0m0 11h0m0 31h0m0 38h0m0 55h0m0 34h0m0 3h0m0 139h0m1-468h0m0 173h0m0 63h0m0 26h0m0 108h0m0 3h0m0 6h0m0 1h0m0 0h0m0 6h0m0 15h0m0 5h0m0 38h0m0 27h0m1-519h0m0 224h0m0 200h0m0 3h0m0 19h0m0 19h0m0 21h0m0 29h0m1-390h0m0 93h0m0 78h0m0 5h0m0 70h0m0 43h0m0 14h0m0 9h0m0 18h0m0 22h0m1-380h0m0 60h0m0 94h0m0 5h0m0 32h0m0 22h0m0 36h0m0 15h0m0 59h0m0 4h0m0 15h0m0 31h0m0 0h0m0 5h0m0 20h0m1-601h0m0 278h0m0 28h0m0 57h0m0 73h0m0 54h0m0 12h0m0 5h0m0 23h0m0 12h0m0 2h0m0 1h0m0 35h0m0 31h0m0 11h0m0 3h0m1-346h0m0 18h0m0 31h0m0 25h0m0 10h0m0 3h0m0 12h0m0 37h0m0 9h0m0 38h0m0 37h0m0 117h0m1-346h0m0 80h0m0 29h0m0 7h0m0 52h0m0 52h0m0 4h0m0 2h0m0 35h0m0 7h0m0 18h0m0 16h0m0 10h0m1-317h0m0 53h0m0 0h0m0 58h0m0 41h0m0 0h0m0 25h0m0 39h0m0 21h0m0 36h0m0 2h0m0 17h0m0 6h0m0 22h0m0 0h0m0 1h0m0 7h0m0 3h0m1-328h0m0 45h0m0 15h0m0 2h0m0 40h0m0 49h0m0 15h0m0 6h0m0 55h0m0 18h0m0 1h0m0 6h0m0 14h0m0 33h0m0 51h0m1-258h0m0 54h0m0 12h0m0 42h0m0 7h0m0 23h0m0 18h0m0 12h0m0 12h0m1-272h0m0 11h0m0 42h0m0 42h0m0 27h0m0 13h0m0 52h0m0 8h0m0 25h0m0 21h0m0 19h0m0 15h0m0 22h0m0 14h0m0 9h0m1-259h0m0 103h0m0 5h0m0 53h0m0 53h0m0 3h0m0 7h0m0 25h0m0 3h0m1-515h0m0 195h0m0 45h0m0 99h0m0 35h0m0 19h0m0 1h0m0 56h0m0 5h0m0 12h0m0 1h0m0 8h0m0 17h0m0 60h0m1-372h0m0 146h0m0 22h0m0 6h0m0 14h0m0 4h0m0 57h0m0 21h0m0 5h0m0 22h0m0 13h0m0 19h0m1-255h0m0 46h0m0 29h0m0 44h0m0 25h0m0 9h0m0 6h0m0 42h0m0 9h0m0 5h0m0 22h0m0 11h0m0 6h0m0 50h0m1-365h0m0 35h0m0 125h0m0 5h0m0 28h0m0 12h0m0 15h0m0 21h0m0 8h0m0 5h0m0 20h0m0 64h0m0 31h0m0 3h0m1-449h0m0 102h0m0 53h0m0 27h0m0 24h0m0 26h0m0 0h0m0 29h0m0 9h0m0 30h0m0 16h0m0 29h0m0 24h0m1-424h0m0 202h0m0 11h0m0 21h0m0 12h0m0 69h0m0 51h0m0 27h0m0 61h0m1-177h0m0 9h0m0 38h0m0 12h0m0 33h0m0 20h0m0 47h0m0 14h0m1-321h0m0 27h0m0 76h0m0 10h0m0 23h0m0 61h0m0 41h0m0 15h0m0 0h0m0 10h0m0 13h0m0 6h0m1-284h0m0 99h0m0 52h0m0 14h0m0 23h0m0 38h0m0 8h0m0 7h0m0 16h0m0 23h0m0 58h0m0 11h0m1-544h0m0 236h0m0 5h0m0 117h0m0 59h0m0 14h0m0 26h0m0 10h0m0 31h0m0 5h0m0 12h0m0 3h0m1-320h0m0 136h0m0 27h0m0 3h0m0 65h0m0 15h0m0 41h0m0 30h0m0 17h0m0 20h0m1-372h0m0 89h0m0 101h0m0 10h0m0 47h0m0 16h0m0 11h0m0 35h0m0 18h0m1-265h0m0 166h0m0 6h0m0 10h0m0 35h0m0 4h0m0 36h0m0 23h0m0 4h0m1-381h0m0 150h0m0 62h0m0 1h0m0 24h0m0 1h0m0 2h0m0 2h0m0 3h0m0 5h0m0 38h0m0 4h0m0 10h0m0 0h0m0 10h0m0 2h0m0 0h0m0 6h0m0 25h0m1-402h0m0 51h0m0 36h0m0 70h0m0 2h0m0 33h0m0 104h0m0 53h0m0 9h0m0 23h0m0 50h0m1-461h0m0 150h0m0 93h0m0 50h0m0 3h0m0 46h0m0 21h0m0 4h0m0 27h0m0 4h0m0 40h0m1-424h0m0 139h0m0 6h0m0 70h0m0 59h0m0 29h0m0 6h0m0 1h0m0 23h0m0 21h0m0 4h0m0 8h0m0 2h0m0 23h0m0 87h0m0 2h0m1-480h0m0 230h0m0 55h0m0 42h0m0 16h0m0 13h0m0 12h0m0 19h0m0 1h0m0 38h0m1-348h0m0 246h0m0 7h0m0 6h0m0 19h0m0 13h0m0 49h0m0 21h0m0 7h0m0 8h0m1-555h0m0 454h0m0 16h0m0 22h0m0 0h0m0 11h0m0 31h0m0 1h0m1-293h0m0 30h0m0 58h0m0 68h0m0 57h0m0 39h0m0 18h0m0 17h0m0 23h0m1-301h0m0 27h0m0 0h0m0 24h0m0 47h0m0 13h0m0 0h0m0 12h0m0 8h0m0 47h0m0 18h0m0 33h0m0 27h0m1-416h0m0 26h0m0 247h0m0 35h0m0 3h0m0 7h0m0 3h0m0 30h0m0 5h0m0 14h0m0 2h0m0 36h0m0 3h0m0 8h0m0 24h0m0 24h0m0 15h0m1-386h0m0 45h0m0 13h0m0 45h0m0 87h0m0 20h0m0 33h0m0 23h0m0 21h0m0 53h0m0 1h0m0 3h0m0 14h0m1-487h0m0 196h0m0 23h0m0 0h0m0 16h0m0 48h0m0 15h0m0 30h0m0 54h0m0 13h0m0 11h0m0 9h0m0 4h0m0 18h0m0 48h0m0 34h0m1-391h0m0 13h0m0 98h0m0 42h0m0 25h0m0 12h0m0 32h0m0 17h0m0 19h0m0 10h0m0 21h0m0 2h0m0 5h0m0 8h0m0 7h0m0 7h0m0 35h0m0 18h0m0 8h0m0 17h0m1-361h0m0 67h0m0 76h0m0 52h0m0 16h0m0 0h0m0 20h0m0 1h0m0 1h0m0 20h0m0 10h0m0 8h0m0 4h0m0 21h0m0 18h0m1-312h0m0 12h0m0 2h0m0 102h0m0 43h0m0 28h0m0 7h0m0 9h0m0 29h0m0 14h0m0 1h0m0 0h0m0 5h0m0 7h0m0 6h0m0 3h0m0 1h0m0 3h0m0 5h0m0 20h0m0 6h0m0 4h0m1-374h0m0 16h0m0 58h0m0 66h0m0 1h0m0 32h0m0 8h0m0 53h0m0 22h0m0 46h0m0 5h0m0 79h0m0 5h0m0 40h0m1-313h0m0 46h0m0 7h0m0 60h0m0 6h0m0 3h0m0 2h0m0 5h0m0 2h0m0 16h0m0 3h0m0 7h0m0 28h0m0 8h0m0 3h0m0 4h0m0 0h0m0 3h0m0 7h0m0 3h0m0 1h0m0 14h0m0 3h0m0 2h0m0 43h0m1-429h0m0 173h0m0 6h0m0 55h0m0 8h0m0 21h0m0 68h0m0 11h0m0 11h0m0 14h0m0 8h0m0 10h0m0 3h0m0 26h0m1-519h0m0 84h0m0 53h0m0 36h0m0 42h0m0 76h0m0 52h0m0 13h0m0 19h0m0 4h0m0 13h0m0 25h0m0 27h0m0 13h0m0 17h0m0 1h0m0 1h0m1-382h0m0 7h0m0 108h0m0 37h0m0 44h0m0 34h0m0 41h0m0 37h0m0 20h0m0 10h0m0 4h0m0 23h0m0 6h0m0 11h0m0 12h0m0 8h0m0 37h0m1-287h0m0 18h0m0 50h0m0 32h0m0 0h0m0 46h0m0 5h0m0 28h0m0 1h0m0 3h0m0 2h0m0 11h0m0 3h0m0 2h0m0 2h0m0 2h0m0 6h0m0 1h0m0 26h0m1-329h0m0 151h0m0 61h0m0 37h0m0 10h0m0 23h0m0 6h0m0 7h0m0 5h0m0 29h0m0 19h0m0 51h0m1-391h0m0 174h0m0 3h0m0 105h0m0 8h0m0 1h0m0 15h0m0 9h0m0 3h0m0 20h0m0 34h0m1-324h0m0 83h0m0 82h0m0 38h0m0 35h0m0 13h0m0 12h0m0 11h0m0 6h0m0 3h0m0 1h0m0 0h0m0 4h0m1-415h0m0 179h0m0 104h0m0 54h0m0 18h0m0 9h0m0 14h0m0 6h0m0 20h0m0 9h0m0 15h0m1-422h0m0 61h0m0 134h0m0 26h0m0 73h0m0 39h0m0 5h0m0 1h0m0 10h0m0 16h0m0 12h0m0 46h0m0 13h0m0 41h0m1-294h0m0 46h0m0 2h0m0 94h0m0 14h0m0 7h0m0 2h0m0 13h0m0 0h0m0 4h0m0 20h0m0 37h0m0 7h0m0 9h0m0 2h0m0 16h0m1-487h0m0 86h0m0 110h0m0 79h0m0 12h0m0 25h0m0 11h0m0 18h0m0 10h0m0 6h0m0 34h0m0 1h0m0 10h0m0 5h0m0 4h0m0 3h0m0 12h0m0 33h0m1-448h0m0 111h0m0 25h0m0 62h0m0 43h0m0 35h0m0 21h0m0 80h0m0 6h0m0 15h0m0 9h0m0 2h0m0 3h0m0 62h0m1-478h0m0 290h0m0 1h0m0 23h0m0 13h0m0 2h0m0 5h0m0 28h0m0 21h0m0 3h0m0 6h0m0 31h0m0 1h0m0 8h0m0 10h0m0 15h0m0 1h0m0 0h0m1-263h0m0 40h0m0 46h0m0 6h0m0 49h0m0 2h0m0 41h0m0 2h0m0 9h0m0 12h0m0 3h0m0 4h0m0 5h0m0 4h0m0 2h0m0 8h0m0 5h0m0 15h0m0 47h0m1-345h0m0 22h0m0 37h0m0 15h0m0 6h0m0 64h0m0 3h0m0 3h0m0 20h0m0 3h0m0 11h0m0 21h0m0 7h0m0 10h0m0 12h0m0 10h0m0 7h0m0 6h0m0 9h0m1-439h0m0 97h0m0 161h0m0 14h0m0 3h0m0 27h0m0 21h0m0 41h0m0 6h0m0 1h0m0 11h0m0 24h0m0 13h0m0 55h0m0 22h0m1-532h0m0 198h0m0 22h0m0 11h0m0 28h0m0 32h0m0 70h0m0 9h0m0 9h0m0 12h0m0 36h0m0 0h0m0 62h0m0 15h0m1-451h0m0 44h0m0 13h0m0 188h0m0 0h0m0 48h0m0 22h0m0 11h0m0 22h0m0 21h0m0 3h0m0 9h0m0 9h0m0 19h0m0 26h0m0 46h0m1-496h0m0 273h0m0 46h0m0 20h0m0 0h0m0 2h0m0 8h0m0 2h0m0 29h0m0 2h0m0 1h0m0 20h0m0 3h0m0 1h0m1-267h0m0 4h0m0 17h0m0 1h0m0 63h0m0 0h0m0 47h0m0 31h0m0 23h0m0 16h0m0 8h0m0 1h0m0 10h0m0 13h0m0 9h0m0 1h0m0 4h0m0 11h0m0 7h0m0 7h0m0 11h0m0 76h0m1-483h0m0 1h0m0 132h0m0 35h0m0 39h0m0 19h0m0 62h0m0 14h0m0 14h0m0 12h0m0 20h0m0 6h0m0 24h0m0 19h0m0 1h0m0 34h0m0 34h0m0 7h0m1-315h0m0 82h0m0 35h0m0 55h0m0 19h0m0 10h0m0 20h0m0 21h0m0 32h0m0 10h0m0 10h0m1-398h0m0 83h0m0 2h0m0 5h0m0 18h0m0 58h0m0 40h0m0 31h0m0 59h0m0 8h0m0 7h0m0 2h0m0 8h0m0 29h0m0 45h0m1-510h0m0 32h0m0 174h0m0 9h0m0 35h0m0 20h0m0 90h0m0 16h0m0 9h0m0 16h0m0 94h0m0 1h0m0 12h0m1-424h0m0 107h0m0 117h0m0 31h0m0 1h0m0 54h0m0 11h0m0 9h0m0 1h0m0 55h0m0 82h0m0 7h0m1-515h0m0 100h0m0 96h0m0 13h0m0 6h0m0 12h0m0 36h0m0 54h0m0 20h0m0 26h0m0 3h0m0 8h0m0 1h0m0 7h0m0 7h0m0 18h0m0 5h0m0 13h0m0 31h0m1-509h0m0 57h0m0 93h0m0 65h0m0 78h0m0 53h0m0 16h0m0 6h0m0 31h0m0 1h0m0 17h0m0 21h0m0 5h0m0 1h0m0 2h0m0 3h0m0 3h0m0 9h0m0 27h0m0 6h0m0 14h0m0 6h0m1-485h0m0 74h0m0 188h0m0 48h0m0 3h0m0 31h0m0 5h0m0 15h0m0 59h0m0 3h0m0 14h0m0 20h0m0 10h0m0 17h0m0 24h0m1-420h0m0 34h0m0 1h0m0 91h0m0 44h0m0 4h0m0 43h0m0 2h0m0 14h0m0 17h0m0 18h0m0 10h0m0 26h0m0 4h0m0 1h0m0 3h0m0 5h0m0 22h0m0 65h0m1-367h0m0 18h0m0 27h0m0 34h0m0 98h0m0 2h0m0 1h0m0 21h0m0 9h0m0 4h0m0 27h0m0 0h0m0 1h0m0 12h0m0 46h0m0 63h0m0 4h0m0 35h0m1-323h0m0 77h0m0 38h0m0 11h0m0 15h0m0 65h0m0 10h0m0 5h0m0 6h0m0 6h0m0 7h0m0 4h0m0 1h0m0 9h0m0 10h0m0 14h0m0 31h0m1-441h0m0 93h0m0 31h0m0 71h0m0 24h0m0 43h0m0 62h0m0 3h0m0 52h0m0 9h0m0 2h0m0 3h0m0 4h0m0 4h0m0 4h0m0 11h0m1-432h0m0 39h0m0 172h0m0 40h0m0 7h0m0 3h0m0 5h0m0 2h0m0 3h0m0 15h0m0 36h0m0 46h0m0 6h0m0 7h0m0 27h0m0 2h0m0 1h0m0 13h0m0 6h0m0 21h0m0 6h0m0 1h0m1-598h0m0 106h0m0 131h0m0 31h0m0 142h0m0 7h0m0 14h0m0 77h0m0 31h0m0 26h0m1-472h0m0 118h0m0 93h0m0 29h0m0 2h0m0 40h0m0 6h0m0 13h0m0 51h0m0 5h0m0 4h0m0 13h0m0 2h0m0 18h0m0 5h0m0 4h0m0 1h0m0 11h0m0 10h0m0 9h0m0 10h0m0 4h0m0 2h0m0 18h0m0 7h0m1-469h0m0 26h0m0 170h0m0 106h0m0 49h0m0 1h0m0 24h0m0 2h0m0 3h0m0 7h0m0 1h0m0 39h0m0 5h0m0 35h0m0 4h0m1-566h0m0 252h0m0 36h0m0 97h0m0 23h0m0 21h0m0 1h0m0 5h0m0 5h0m0 18h0m0 18h0m0 7h0m0 3h0m0 3h0m0 5h0m0 1h0m0 5h0m0 6h0m0 16h0m0 21h0m0 0h0m0 9h0m1-376h0m0 40h0m0 96h0m0 61h0m0 9h0m0 10h0m0 11h0m0 56h0m0 20h0m0 11h0m0 16h0m0 8h0m0 12h0m0 11h0m0 20h0m0 19h0m1-409h0m0 8h0m0 14h0m0 20h0m0 34h0m0 111h0m0 52h0m0 45h0m0 2h0m0 17h0m0 4h0m0 5h0m0 3h0m0 3h0m0 9h0m0 23h0m0 10h0m0 4h0m0 84h0m1-355h0m0 22h0m0 64h0m0 10h0m0 13h0m0 13h0m0 2h0m0 5h0m0 36h0m0 13h0m0 19h0m0 34h0m0 19h0m0 28h0m0 8h0m0 9h0m0 21h0m1-385h0m0 167h0m0 115h0m0 4h0m0 3h0m0 6h0m0 17h0m0 32h0m0 35h0m0 13h0m0 6h0m1-280h0m0 2h0m0 20h0m0 63h0m0 20h0m0 48h0m0 25h0m0 12h0m0 0h0m0 18h0m0 21h0m1-361h0m0 126h0m0 23h0m0 12h0m0 5h0m0 64h0m0 12h0m0 22h0m0 43h0m0 9h0m0 14h0m1-365h0m0 229h0m0 48h0m0 21h0m0 14h0m0 4h0m0 2h0m0 10h0m0 7h0m0 9h0m0 10h0m0 6h0m0 3h0m0 6h0m0 21h0m0 12h0m0 34h0m0 7h0m1-474h0m0 23h0m0 21h0m0 58h0m0 214h0m0 5h0m0 14h0m0 17h0m0 5h0m0 14h0m0 10h0m0 20h0m0 17h0m0 9h0m1-345h0m0 60h0m0 18h0m0 63h0m0 32h0m0 11h0m0 38h0m0 4h0m0 3h0m0 8h0m0 9h0m0 12h0m0 119h0m1-684h0m0 264h0m0 103h0m0 38h0m0 57h0m0 12h0m0 51h0m0 48h0m0 1h0m0 7h0m0 1h0m0 16h0m0 12h0m0 22h0m0 7h0m0 26h0m1-558h0m0 175h0m0 41h0m0 42h0m0 8h0m0 34h0m0 1h0m0 18h0m0 122h0m0 52h0m0 10h0m0 50h0m1-642h0m0 78h0m0 267h0m0 161h0m0 2h0m0 19h0m0 6h0m0 18h0m0 8h0m0 7h0m0 4h0m0 27h0m0 6h0m0 0h0m0 21h0m0 40h0m0 9h0m1-379h0m0 121h0m0 53h0m0 73h0m0 27h0m0 14h0m0 15h0m0 47h0m0 25h0m0 21h0m0 15h0m1-386h0m0 21h0m0 97h0m0 6h0m0 9h0m0 48h0m0 49h0m0 5h0m0 1h0m0 4h0m0 115h0m0 13h0m1-495h0m0 151h0m0 78h0m0 14h0m0 116h0m0 23h0m0 0h0m0 16h0m0 14h0m0 1h0m0 46h0m1-443h0m0 188h0m0 14h0m0 73h0m0 34h0m0 65h0m0 4h0m0 96h0m1-440h0m0 81h0m0 145h0m0 68h0m0 2h0m0 12h0m0 5h0m0 16h0m0 22h0m0 5h0m0 31h0m1-375h0m0 192h0m0 5h0m0 11h0m0 2h0m0 5h0m0 19h0m0 5h0m0 21h0m0 1h0m0 0h0m0 50h0m0 3h0m0 0h0m0 7h0m0 14h0m0 23h0m1-403h0m0 33h0m0 19h0m0 60h0m0 98h0m0 30h0m0 35h0m0 35h0m0 34h0m0 31h0m0 0h0m0 10h0m0 14h0m0 2h0m1-350h0m0 90h0m0 12h0m0 17h0m0 8h0m0 69h0m0 88h0m0 14h0m0 6h0m0 1h0m0 4h0m0 0h0m0 22h0m0 31h0m1-286h0m0 20h0m0 35h0m0 97h0m0 21h0m0 2h0m0 14h0m0 1h0m0 23h0m0 19h0m0 4h0m0 20h0m0 5h0m0 19h0m0 2h0m0 31h0m0 10h0m0 4h0m1-684h0m0 148h0m0 66h0m0 65h0m0 11h0m0 43h0m0 210h0m0 55h0m0 6h0m0 8h0m0 20h0m0 13h0m0 12h0m1-363h0m0 151h0m0 23h0m0 12h0m0 45h0m0 12h0m0 5h0m0 11h0m0 14h0m0 3h0m0 31h0m0 10h0m0 17h0m0 12h0m1-217h0m0 23h0m0 44h0m0 2h0m0 6h0m0 101h0m0 5h0m0 13h0m0 28h0m1-449h0m0 122h0m0 34h0m0 56h0m0 5h0m0 4h0m0 31h0m0 56h0m0 13h0m0 6h0m0 53h0m0 5h0m0 1h0m0 5h0m0 11h0m0 7h0m0 42h0m0 2h0m0 17h0m0 0h0m0 2h0m1-240h0m0 12h0m0 57h0m0 28h0m0 1h0m0 2h0m0 16h0m0 5h0m0 33h0m0 7h0m0 16h0m0 8h0m0 33h0m1-413h0m0 190h0m0 72h0m0 30h0m0 12h0m0 46h0m0 1h0m0 10h0m0 4h0m0 26h0m0 39h0m0 35h0m1-579h0m0 176h0m0 56h0m0 46h0m0 62h0m0 68h0m0 77h0m0 18h0m0 4h0m0 12h0m0 39h0m0 10h0m0 38h0m1-353h0m0 21h0m0 32h0m0 76h0m0 22h0m0 19h0m0 7h0m0 9h0m0 15h0m0 3h0m0 4h0m0 14h0m0 98h0m0 4h0m0 4h0m0 71h0m1-667h0m0 255h0m0 34h0m0 0h0m0 155h0m0 18h0m0 3h0m0 34h0m0 28h0m0 6h0m0 10h0m0 52h0m0 3h0m1-429h0m0 174h0m0 45h0m0 45h0m0 9h0m0 9h0m0 13h0m0 22h0m0 96h0m1-488h0m0 248h0m0 8h0m0 11h0m0 10h0m0 40h0m0 5h0m0 1h0m0 41h0m0 9h0m0 34h0m0 23h0m0 37h0m0 28h0m1-589h0m0 139h0m0 177h0m0 49h0m0 17h0m0 68h0m0 23h0m0 2h0m0 8h0m0 7h0m0 1h0m0 23h0m0 20h0m1-265h0m0 43h0m0 22h0m0 6h0m0 19h0m0 45h0m0 10h0m0 51h0m0 5h0m0 41h0m0 11h0m0 2h0m0 6h0m0 28h0m0 7h0m1-553h0m0 182h0m0 36h0m0 82h0m0 15h0m0 29h0m0 18h0m0 0h0m0 82h0m0 4h0m0 44h0m1-436h0m0 59h0m0 177h0m0 41h0m0 43h0m0 81h0m0 4h0m0 33h0m0 7h0m0 6h0m0 13h0m0 48h0m1-715h0m0 321h0m0 132h0m0 9h0m0 59h0m0 10h0m0 19h0m0 31h0m0 13h0m0 9h0m0 17h0m0 18h0m0 42h0m0 76h0m1-396h0m0 28h0m0 11h0m0 57h0m0 71h0m0 12h0m0 19h0m0 9h0m0 1h0m0 8h0m0 25h0m0 4h0m0 8h0m0 0h0m0 42h0m0 43h0m1-543h0m0 104h0m0 5h0m0 62h0m0 161h0m0 44h0m0 13h0m0 53h0m0 6h0m0 3h0m0 53h0m0 28h0m0 19h0m1-445h0m0 27h0m0 9h0m0 6h0m0 143h0m0 39h0m0 38h0m0 44h0m0 22h0m0 1h0m0 1h0m0 6h0m0 5h0m0 24h0m0 9h0m0 16h0m0 35h0m1-266h0m0 26h0m0 156h0m0 10h0m0 15h0m0 26h0m0 25h0m0 75h0m1-419h0m0 13h0m0 4h0m0 75h0m0 14h0m0 8h0m0 30h0m0 42h0m0 29h0m0 4h0m0 7h0m0 14h0m0 12h0m0 3h0m0 29h0m0 37h0m0 68h0m1-337h0m0 120h0m0 70h0m0 5h0m0 6h0m0 5h0m0 8h0m0 22h0m0 5h0m0 7h0m1-408h0m0 110h0m0 67h0m0 161h0m0 2h0m0 22h0m0 1h0m0 15h0m0 6h0m0 3h0m0 34h0m0 101h0m1-217h0m0 72h0m0 2h0m0 22h0m0 5h0m0 2h0m0 0h0m0 22h0m1-374h0m0 50h0m0 110h0m0 24h0m0 13h0m0 45h0m0 17h0m0 15h0m0 40h0m0 14h0m0 47h0m0 47h0m1-487h0m0 18h0m0 214h0m0 35h0m0 44h0m0 26h0m0 5h0m0 1h0m0 5h0m0 2h0m0 0h0m0 25h0m0 18h0m0 8h0m0 4h0m0 8h0m0 6h0m0 31h0m0 30h0m0 3h0m1-305h0m0 30h0m0 70h0m0 48h0m0 52h0m0 11h0m0 1h0m0 5h0m0 11h0m0 27h0m0 15h0m1-503h0m0 239h0m0 22h0m0 72h0m0 30h0m0 18h0m0 15h0m0 17h0m0 12h0m0 13h0m0 28h0m0 17h0m0 19h0m0 13h0m0 62h0m1-630h0m0 77h0m0 221h0m0 32h0m0 11h0m0 84h0m0 5h0m0 15h0m0 19h0m0 6h0m0 6h0m0 21h0m0 9h0m0 13h0m0 50h0m0 44h0m1-613h0m0 223h0m0 87h0m0 2h0m0 27h0m0 90h0m0 2h0m0 16h0m0 16h0m0 18h0m0 27h0m0 2h0m0 24h0m0 35h0m0 53h0m1-472h0m0 67h0m0 11h0m0 102h0m0 35h0m0 19h0m0 0h0m0 30h0m0 28h0m0 6h0m0 5h0m0 4h0m0 8h0m0 33h0m0 28h0m0 12h0m0 2h0m0 5h0m0 24h0m1-406h0m0 258h0m0 6h0m0 30h0m0 2h0m0 50h0m0 27h0m0 36h0m1-410h0m0 64h0m0 108h0m0 26h0m0 49h0m0 1h0m0 14h0m0 13h0m0 28h0m0 2h0m0 25h0m0 1h0m0 30h0m0 8h0m0 1h0m0 0h0m0 11h0m0 16h0m0 24h0m1-319h0m0 14h0m0 14h0m0 82h0m0 133h0m0 5h0m0 7h0m0 1h0m1-352h0m0 57h0m0 13h0m0 9h0m0 82h0m0 130h0m0 2h0m0 17h0m0 13h0m0 16h0m0 6h0m0 28h0m0 1h0m0 4h0m0 1h0m0 14h0m1-273h0m0 38h0m0 14h0m0 23h0m0 93h0m0 1h0m0 15h0m0 12h0m0 42h0m0 30h0m1-581h0m0 337h0m0 44h0m0 120h0m0 7h0m0 10h0m0 46h0m0 21h0m0 5h0m1-379h0m0 47h0m0 3h0m0 34h0m0 7h0m0 30h0m0 30h0m0 19h0m0 5h0m0 16h0m0 25h0m0 8h0m0 17h0m0 0h0m0 18h0m0 5h0m0 22h0m0 1h0m0 13h0m0 3h0m0 102h0m0 18h0m1-376h0m0 142h0m0 32h0m0 20h0m0 55h0m0 5h0m0 37h0m0 38h0m0 49h0m1-371h0m0 57h0m0 42h0m0 30h0m0 18h0m0 2h0m0 18h0m0 5h0m0 39h0m0 1h0m0 22h0m0 9h0m0 1h0m0 11h0m0 69h0m0 26h0m1-702h0m0 349h0m0 48h0m0 33h0m0 41h0m0 9h0m0 43h0m0 4h0m0 8h0m0 39h0m0 18h0m0 10h0m0 11h0m0 20h0m0 6h0m0 6h0m0 16h0m0 6h0m0 27h0m1-594h0m0 207h0m0 108h0m0 71h0m0 8h0m0 36h0m0 14h0m0 31h0m0 26h0m0 19h0m0 35h0m1-257h0m0 24h0m0 1h0m0 20h0m0 67h0m0 28h0m0 64h0m0 4h0m0 22h0m0 5h0m0 3h0m0 65h0m1-308h0m0 68h0m0 0h0m0 26h0m0 53h0m0 9h0m0 17h0m0 19h0m0 40h0m0 22h0m0 54h0m1-387h0m0 19h0m0 182h0m0 3h0m0 57h0m0 10h0m0 10h0m0 14h0m0 5h0m0 7h0m0 40h0m0 4h0m0 88h0m1-580h0m0 172h0m0 67h0m0 7h0m0 14h0m0 82h0m0 22h0m0 16h0m0 31h0m0 15h0m0 26h0m0 75h0m1-442h0m0 120h0m0 52h0m0 10h0m0 20h0m0 54h0m0 4h0m0 23h0m0 15h0m0 5h0m0 14h0m0 54h0m0 21h0m0 10h0m1-316h0m0 66h0m0 35h0m0 29h0m0 5h0m0 13h0m0 26h0m0 38h0m0 37h0m0 34h0m0 0h0m0 5h0m0 4h0m0 1h0m0 18h0m0 42h0m0 2h0m0 17h0m1-422h0m0 72h0m0 28h0m0 24h0m0 77h0m0 21h0m0 4h0m0 9h0m0 2h0m0 10h0m0 29h0m0 7h0m0 70h0m0 11h0m0 3h0m0 41h0m1-480h0m0 219h0m0 63h0m0 65h0m0 33h0m0 91h0m1-596h0m0 115h0m0 103h0m0 16h0m0 185h0m0 6h0m0 47h0m0 2h0m0 74h0m0 24h0m0 12h0m1-363h0m0 57h0m0 36h0m0 80h0m0 1h0m0 22h0m0 43h0m0 14h0m0 8h0m0 18h0m0 55h0m0 65h0m0 25h0m1-485h0m0 111h0m0 67h0m0 14h0m0 34h0m0 43h0m0 4h0m0 32h0m0 38h0m0 27h0m0 76h0m1-352h0m0 18h0m0 12h0m0 99h0m0 43h0m0 18h0m0 2h0m0 17h0m0 18h0m0 1h0m0 16h0m0 5h0m1-419h0m0 36h0m0 169h0m0 58h0m0 19h0m0 36h0m0 22h0m0 15h0m0 12h0m0 30h0m0 31h0m0 22h0m0 31h0m0 18h0m0 10h0m1-439h0m0 117h0m0 3h0m0 12h0m0 27h0m0 13h0m0 17h0m0 115h0m0 1h0m0 5h0m0 5h0m0 3h0m0 1h0m0 25h0m0 65h0m0 20h0m1-274h0m0 44h0m0 55h0m0 15h0m0 19h0m0 0h0m0 10h0m0 5h0m0 19h0m0 15h0m0 12h0m0 11h0m0 2h0m0 90h0m1-419h0m0 41h0m0 88h0m0 88h0m0 11h0m0 21h0m0 4h0m0 6h0m0 4h0m0 5h0m0 4h0m0 18h0m0 3h0m0 23h0m0 7h0m0 51h0m0 18h0m1-398h0m0 71h0m0 38h0m0 10h0m0 44h0m0 72h0m0 17h0m0 5h0m0 20h0m0 12h0m0 10h0m0 5h0m0 7h0m0 17h0m0 1h0m0 28h0m0 8h0m0 7h0m0 13h0m0 6h0m1-345h0m0 10h0m0 53h0m0 115h0m0 0h0m0 0h0m0 60h0m0 24h0m0 19h0m0 2h0m0 8h0m0 8h0m0 4h0m0 7h0m0 3h0m0 28h0m0 16h0m1-478h0m0 94h0m0 61h0m0 8h0m0 3h0m0 73h0m0 10h0m0 29h0m0 28h0m0 14h0m0 14h0m0 8h0m0 31h0m0 9h0m0 29h0m0 6h0m0 25h0m0 65h0m1-467h0m0 75h0m0 10h0m0 17h0m0 46h0m0 64h0m0 22h0m0 17h0m0 24h0m0 11h0m0 3h0m0 5h0m0 3h0m0 27h0m0 35h0m0 16h0m0 52h0m1-307h0m0 2h0m0 95h0m0 57h0m0 6h0m0 1h0m0 11h0m0 19h0m0 45h0m1-389h0m0 162h0m0 57h0m0 6h0m0 23h0m0 35h0m0 47h0m0 5h0m0 11h0m0 2h0m0 11h0m0 38h0m0 10h0m0 4h0m0 28h0m1-308h0m0 24h0m0 27h0m0 61h0m0 15h0m0 41h0m0 16h0m0 1h0m0 1h0m0 42h0m0 4h0m0 40h0m0 9h0m1-409h0m0 126h0m0 187h0m0 2h0m0 6h0m0 24h0m0 24h0m0 8h0m0 45h0m0 32h0m0 25h0m0 18h0m1-432h0m0 33h0m0 18h0m0 62h0m0 75h0m0 38h0m0 9h0m0 3h0m0 9h0m0 26h0m0 24h0m0 10h0m0 5h0m0 6h0m0 3h0m0 16h0m0 14h0m0 6h0m0 74h0m1-508h0m0 123h0m0 8h0m0 40h0m0 48h0m0 20h0m0 71h0m0 23h0m0 25h0m0 1h0m0 13h0m0 87h0m1-376h0m0 64h0m0 7h0m0 48h0m0 1h0m0 12h0m0 17h0m0 58h0m0 30h0m0 4h0m0 6h0m0 16h0m0 12h0m0 12h0m0 10h0m0 1h0m0 39h0m0 6h0m0 11h0m0 41h0m1-438h0m0 143h0m0 82h0m0 6h0m0 19h0m0 20h0m0 50h0m0 13h0m0 14h0m0 17h0m0 30h0m1-309h0m0 111h0m0 13h0m0 0h0m0 62h0m0 13h0m0 22h0m0 6h0m0 6h0m0 7h0m0 23h0m0 35h0m0 12h0m1-442h0m0 21h0m0 80h0m0 46h0m0 28h0m0 19h0m0 83h0m0 21h0m0 20h0m0 2h0m0 24h0m0 1h0m0 7h0m0 12h0m0 13h0m0 52h0m0 40h0m1-386h0m0 119h0m0 100h0m0 13h0m0 5h0m0 19h0m0 5h0m0 24h0m0 2h0m0 83h0m1-437h0m0 29h0m0 37h0m0 86h0m0 108h0m0 52h0m0 22h0m0 36h0m0 13h0m0 5h0m0 1h0m0 22h0m0 11h0m0 36h0m1-433h0m0 125h0m0 11h0m0 112h0m0 7h0m0 5h0m0 14h0m0 6h0m0 22h0m0 0h0m0 23h0m0 3h0m0 21h0m0 55h0m0 12h0m0 55h0m1-453h0m0 97h0m0 6h0m0 46h0m0 4h0m0 2h0m0 52h0m0 71h0m0 9h0m0 15h0m0 2h0m0 2h0m0 29h0m1-122h0m0 35h0m0 75h0m0 4h0m0 21h0m0 27h0m0 36h0m1-278h0m0 116h0m0 14h0m0 4h0m0 3h0m0 24h0m0 17h0m0 75h0m1-291h0m0 149h0m0 5h0m0 10h0m0 19h0m0 3h0m0 11h0m0 3h0m0 1h0m0 39h0m0 29h0m0 21h0m0 20h0m0 21h0m1-320h0m0 40h0m0 25h0m0 15h0m0 24h0m0 6h0m0 15h0m0 13h0m0 23h0m0 18h0m0 9h0m0 35h0m0 13h0m0 74h0m0 32h0m1-385h0m0 58h0m0 128h0m0 22h0m0 25h0m0 47h0m0 4h0m0 2h0m0 15h0m1-398h0m0 50h0m0 52h0m0 9h0m0 16h0m0 57h0m0 20h0m0 103h0m0 6h0m0 10h0m0 4h0m0 8h0m0 26h0m0 25h0m0 22h0m0 79h0m1-399h0m0 58h0m0 31h0m0 10h0m0 15h0m0 13h0m0 53h0m0 38h0m0 3h0m0 15h0m0 28h0m0 37h0m0 15h0m0 13h0m0 56h0m1-323h0m0 15h0m0 53h0m0 98h0m0 2h0m0 5h0m0 59h0m0 17h0m1-367h0m0 4h0m0 141h0m0 17h0m0 8h0m0 17h0m0 39h0m0 11h0m0 20h0m0 23h0m0 11h0m0 43h0m0 7h0m0 9h0m0 2h0m0 30h0m0 7h0m0 14h0m1-425h0m0 63h0m0 58h0m0 23h0m0 21h0m0 5h0m0 44h0m0 12h0m0 59h0m0 6h0m0 18h0m0 12h0m0 8h0m0 7h0m0 4h0m0 117h0m1-593h0m0 330h0m0 26h0m0 34h0m0 8h0m0 45h0m0 31h0m0 18h0m0 26h0m1-347h0m0 43h0m0 34h0m0 78h0m0 20h0m0 40h0m0 28h0m0 18h0m0 33h0m0 56h0m0 43h0m0 15h0m0 32h0m0 7h0m1-338h0m0 20h0m0 8h0m0 67h0m0 18h0m0 28h0m0 39h0m0 15h0m0 41h0m0 8h0m0 13h0m0 44h0m1-456h0m0 134h0m0 123h0m0 13h0m0 14h0m0 11h0m0 16h0m0 49h0m0 28h0m0 15h0m0 33h0m0 14h0m1-596h0m0 248h0m0 3h0m0 87h0m0 28h0m0 16h0m0 27h0m0 19h0m0 17h0m0 2h0m0 42h0m0 30h0m0 3h0m0 19h0m0 10h0m1-444h0m0 198h0m0 57h0m0 4h0m0 14h0m0 24h0m0 19h0m0 9h0m0 56h0m0 16h0m0 28h0m0 11h0m1-498h0m0 57h0m0 99h0m0 34h0m0 37h0m0 119h0m0 34h0m0 20h0m0 3h0m0 4h0m0 10h0m0 12h0m0 54h0m0 9h0m0 14h0m0 17h0m0 6h0m0 15h0m1-434h0m0 173h0m0 62h0m0 63h0m0 3h0m0 17h0m0 4h0m0 26h0m0 29h0m0 6h0m0 48h0m0 4h0m0 17h0m1-442h0m0 128h0m0 70h0m0 6h0m0 5h0m0 17h0m0 27h0m0 0h0m0 5h0m0 0h0m0 31h0m0 4h0m0 3h0m0 2h0m0 3h0m0 1h0m0 19h0m0 34h0m0 1h0m0 10h0m0 46h0m0 31h0m1-462h0m0 138h0m0 35h0m0 3h0m0 1h0m0 70h0m0 67h0m0 27h0m0 9h0m0 28h0m1-346h0m0 50h0m0 29h0m0 84h0m0 58h0m0 16h0m0 36h0m0 9h0m0 18h0m0 30h0m0 45h0m0 7h0m1-484h0m0 107h0m0 63h0m0 18h0m0 101h0m0 7h0m0 43h0m0 4h0m0 67h0m0 8h0m0 9h0m0 28h0m0 55h0m1-395h0m0 133h0m0 3h0m0 19h0m0 21h0m0 25h0m0 42h0m0 6h0m0 11h0m0 5h0m0 5h0m0 44h0m0 16h0m0 9h0m0 54h0m1-482h0m0 96h0m0 15h0m0 68h0m0 10h0m0 70h0m0 30h0m0 11h0m0 15h0m0 17h0m0 49h0m0 2h0m0 69h0m0 84h0m1-390h0m0 14h0m0 28h0m0 23h0m0 11h0m0 38h0m0 89h0m0 10h0m0 2h0m0 10h0m0 10h0m0 50h0m0 52h0m1-410h0m0 32h0m0 158h0m0 9h0m0 11h0m0 1h0m0 98h0m0 9h0m0 2h0m0 72h0m1-568h0m0 267h0m0 11h0m0 105h0m0 22h0m0 8h0m0 18h0m0 3h0m0 2h0m0 2h0m0 10h0m0 5h0m0 5h0m0 10h0m0 106h0m1-386h0m0 60h0m0 151h0m0 10h0m0 98h0m1-479h0m0 189h0m0 169h0m0 61h0m0 31h0m0 41h0m0 14h0m0 8h0m0 68h0m1-468h0m0 51h0m0 115h0m0 3h0m0 19h0m0 7h0m0 84h0m0 5h0m0 16h0m0 1h0m0 3h0m0 7h0m0 40h0m0 131h0m0 18h0m1-662h0m0 50h0m0 57h0m0 227h0m0 83h0m0 9h0m0 53h0m0 82h0m0 11h0m1-319h0m0 150h0m0 41h0m0 28h0m0 7h0m0 7h0m0 5h0m0 53h0m0 18h0m0 82h0m1-496h0m0 127h0m0 13h0m0 12h0m0 44h0m0 74h0m0 6h0m0 3h0m0 7h0m0 38h0m0 10h0m0 18h0m0 51h0m0 36h0m0 29h0m1-371h0m0 68h0m0 71h0m0 44h0m0 97h0m0 11h0m1-477h0m0 36h0m0 231h0m0 125h0m0 0h0m0 13h0m0 9h0m0 4h0m0 7h0m0 110h0m0 33h0m1-435h0m0 86h0m0 57h0m0 60h0m0 32h0m0 56h0m0 4h0m0 47h0m1-313h0m0 128h0m0 16h0m0 57h0m0 43h0m0 5h0m0 9h0m0 8h0m1-148h0m0 12h0m0 54h0m0 36h0m0 3h0m0 7h0m0 6h0m0 6h0m0 27h0m0 9h0m0 45h0m0 57h0m1-344h0m0 4h0m0 76h0m0 7h0m0 12h0m0 21h0m0 5h0m0 28h0m0 33h0m0 11h0m0 12h0m0 7h0m0 7h0m0 105h0m0 11h0m1-347h0m0 9h0m0 45h0m0 44h0m0 15h0m0 67h0m0 12h0m0 16h0m0 2h0m0 15h0m0 11h0m0 3h0m0 17h0m0 11h0m1-433h0m0 144h0m0 101h0m0 60h0m0 0h0m0 35h0m0 24h0m0 0h0m0 4h0m0 3h0m0 2h0m0 0h0m0 10h0m0 1h0m0 6h0m0 2h0m0 24h0m0 13h0m0 20h0m0 190h0m1-558h0m0 137h0m0 28h0m0 133h0m0 12h0m0 57h0m0 39h0m0 4h0m0 12h0m1-341h0m0 136h0m0 74h0m0 21h0m0 62h0m1-402h0m0 111h0m0 42h0m0 59h0m0 19h0m0 73h0m0 17h0m0 19h0m0 41h0m0 20h0m0 25h0m1-425h0m0 9h0m0 160h0m0 141h0m0 12h0m0 22h0m0 15h0m0 30h0m0 2h0m0 16h0m0 111h0m1-541h0m0 209h0m0 1h0m0 6h0m0 5h0m0 33h0m0 35h0m0 7h0m0 2h0m0 9h0m0 29h0m0 4h0m0 21h0m0 13h0m0 24h0m0 27h0m0 53h0m1-385h0m0 8h0m0 18h0m0 39h0m0 31h0m0 2h0m0 31h0m0 5h0m0 15h0m0 20h0m0 1h0m0 76h0m0 24h0m1-280h0m0 90h0m0 40h0m0 12h0m0 66h0m0 55h0m0 29h0m0 18h0m0 32h0m1-362h0m0 112h0m0 40h0m0 30h0m0 9h0m0 8h0m0 41h0m0 9h0m0 62h0m0 13h0m0 65h0m1-276h0m0 18h0m0 118h0m0 20h0m0 13h0m0 86h0m1-527h0m0 130h0m0 280h0m0 18h0m0 7h0m0 58h0m0 6h0m0 16h0m0 34h0m0 78h0m1-449h0m0 110h0m0 8h0m0 46h0m0 1h0m0 5h0m0 11h0m0 41h0m0 21h0m0 9h0m0 16h0m0 8h0m0 5h0m0 92h0m0 55h0m1-510h0m0 4h0m0 144h0m0 64h0m0 7h0m0 89h0m0 36h0m0 65h0m0 9h0m0 87h0m1-395h0m0 202h0m0 19h0m0 26h0m0 4h0m0 31h0m0 2h0m0 17h0m0 0h0m0 23h0m1-335h0m0 37h0m0 56h0m0 46h0m0 21h0m0 17h0m0 25h0m0 12h0m0 6h0m0 97h0m0 8h0m0 2h0m1-509h0m0 229h0m0 78h0m0 11h0m0 37h0m0 26h0m0 38h0m0 32h0m1-81h0m0 19h0m0 24h0m0 34h0m0 33h0m0 67h0m1-440h0m0 18h0m0 137h0m0 41h0m0 49h0m0 29h0m0 28h0m0 11h0m0 4h0m0 19h0m0 68h0m0 46h0m0 25h0m1-563h0m0 137h0m0 107h0m0 7h0m0 38h0m0 27h0m0 33h0m0 4h0m0 9h0m0 20h0m0 6h0m0 1h0m0 1h0m0 20h0m0 19h0m0 72h0m0 6h0m0 81h0m1-503h0m0 159h0m0 97h0m0 5h0m0 13h0m0 6h0m0 11h0m0 3h0m0 8h0m0 16h0m0 5h0m0 93h0m1-447h0m0 256h0m0 29h0m0 1h0m0 19h0m0 23h0m0 20h0m0 8h0m0 2h0m0 19h0m0 0h0m0 11h0m0 33h0m0 16h0m0 31h0m1-231h0m0 161h0m0 14h0m0 40h0m0 58h0m1-289h0m0 62h0m0 71h0m0 13h0m0 1h0m0 2h0m0 46h0m1-423h0m0 134h0m0 53h0m0 35h0m0 62h0m0 16h0m0 10h0m0 3h0m0 35h0m0 29h0m0 50h0m0 6h0m0 25h0m1-398h0m0 125h0m0 63h0m0 19h0m0 2h0m0 32h0m0 49h0m0 21h0m0 30h0m0 64h0m0 35h0m1-272h0m0 5h0m0 7h0m0 21h0m0 27h0m0 30h0m0 3h0m0 17h0m0 27h0m0 40h0m0 10h0m0 1h0m0 72h0m0 58h0m1-379h0m0 24h0m0 77h0m0 7h0m0 1h0m0 17h0m0 28h0m0 44h0m0 25h0m0 17h0m0 48h0m0 38h0m1-489h0m0 143h0m0 13h0m0 15h0m0 23h0m0 47h0m0 34h0m0 5h0m0 14h0m0 10h0m0 41h0m0 2h0m0 14h0m0 1h0m0 72h0m0 60h0m1-489h0m0 129h0m0 59h0m0 36h0m0 19h0m0 16h0m0 9h0m0 50h0m0 1h0m0 19h0m0 40h0m0 74h0m0 9h0m0 4h0m0 79h0m1-364h0m0 39h0m0 10h0m0 32h0m0 47h0m0 13h0m0 11h0m0 26h0m0 11h0m0 5h0m0 19h0m0 8h0m0 12h0m0 79h0m1-539h0m0 182h0m0 81h0m0 69h0m0 25h0m0 13h0m0 3h0m0 11h0m0 25h0m0 16h0m0 21h0m0 8h0m0 26h0m1-409h0m0 216h0m0 46h0m0 62h0m0 1h0m0 39h0m0 14h0m0 23h0m1-325h0m0 52h0m0 78h0m0 34h0m0 18h0m0 14h0m0 25h0m0 2h0m0 36h0m0 21h0m1-323h0m0 26h0m0 12h0m0 37h0m0 6h0m0 45h0m0 17h0m0 97h0m0 2h0m0 36h0m0 5h0m0 15h0m0 30h0m0 33h0m0 78h0m1-408h0m0 65h0m0 14h0m0 11h0m0 44h0m0 16h0m0 67h0m0 10h0m0 2h0m0 1h0m0 4h0m0 34h0m0 12h0m1-420h0m0 134h0m0 182h0m0 1h0m0 45h0m0 1h0m0 7h0m0 5h0m0 2h0m0 46h0m1-333h0m0 109h0m0 6h0m0 127h0m0 36h0m0 17h0m0 20h0m0 126h0m1-331h0m0 47h0m0 7h0m0 55h0m0 0h0m0 20h0m0 10h0m0 23h0m0 36h0m0 10h0m0 34h0m0 59h0m0 41h0m1-468h0m0 22h0m0 116h0m0 54h0m0 12h0m0 77h0m0 4h0m0 12h0m0 12h0m0 4h0m0 6h0m0 24h0m0 15h0m0 18h0m0 33h0m0 22h0m0 60h0m1-419h0m0 9h0m0 32h0m0 2h0m0 49h0m0 1h0m0 6h0m0 1h0m0 109h0m0 73h0m0 85h0m0 71h0m1-605h0m0 25h0m0 226h0m0 90h0m0 41h0m0 3h0m0 1h0m0 34h0m0 0h0m0 22h0m0 0h0m1-416h0m0 28h0m0 56h0m0 122h0m0 30h0m0 46h0m0 78h0m0 32h0m0 11h0m0 26h0m0 6h0m0 10h0m1-453h0m0 87h0m0 107h0m0 117h0m0 76h0m0 4h0m0 96h0m1-457h0m0 136h0m0 9h0m0 52h0m0 22h0m0 13h0m0 11h0m0 18h0m0 7h0m0 6h0m0 41h0m0 7h0m0 8h0m0 7h0m0 15h0m0 29h0m0 0h0m0 0h0m1-245h0m0 80h0m0 44h0m0 3h0m0 15h0m0 3h0m0 15h0m0 44h0m0 5h0m0 6h0m0 1h0m0 14h0m0 0h0m0 3h0m0 16h0m0 26h0m0 22h0m0 44h0m1-530h0m0 142h0m0 5h0m0 6h0m0 32h0m0 37h0m0 65h0m0 58h0m0 20h0m0 39h0m0 4h0m0 2h0m0 20h0m0 42h0m0 30h0m1-311h0m0 89h0m0 31h0m0 42h0m0 31h0m0 2h0m0 21h0m0 11h0m0 14h0m0 85h0m1-343h0m0 138h0m0 7h0m0 48h0m0 18h0m0 25h0m0 1h0m0 42h0m0 31h0m0 35h0m0 8h0m1-382h0m0 164h0m0 18h0m0 24h0m0 11h0m0 16h0m0 5h0m0 41h0m0 70h0m0 8h0m0 22h0m1-372h0m0 17h0m0 203h0m0 25h0m0 94h0m0 92h0m1-382h0m0 55h0m0 10h0m0 13h0m0 19h0m0 12h0m0 14h0m0 5h0m0 44h0m0 35h0m0 2h0m0 24h0m0 8h0m0 2h0m0 27h0m1-221h0m0 27h0m0 49h0m0 10h0m0 2h0m0 42h0m0 7h0m0 36h0m0 40h0m0 19h0m0 105h0m1-433h0m0 138h0m0 8h0m0 39h0m0 18h0m0 13h0m0 76h0m0 27h0m0 61h0m1-439h0m0 159h0m0 33h0m0 3h0m0 43h0m0 1h0m0 42h0m0 52h0m0 4h0m0 84h0m0 18h0m0 10h0m1-512h0m0 267h0m0 48h0m0 34h0m0 9h0m0 125h0m1-488h0m0 288h0m0 29h0m0 27h0m0 65h0m0 99h0m1-557h0m0 149h0m0 49h0m0 90h0m0 40h0m0 43h0m0 27h0m0 16h0m0 5h0m0 38h0m0 13h0m1-411h0m0 109h0m0 15h0m0 57h0m0 10h0m0 14h0m0 55h0m0 14h0m0 23h0m0 12h0m0 34h0m0 5h0m0 7h0m0 155h0m1-660h0m0 161h0m0 205h0m0 11h0m0 206h0m0 16h0m0 75h0m1-409h0m0 119h0m0 70h0m0 14h0m0 48h0m0 40h0m0 18h0m0 15h0m1-305h0m0 119h0m0 13h0m0 26h0m0 9h0m0 10h0m0 26h0m0 8h0m0 6h0m0 26h0m0 103h0m1-395h0m0 41h0m0 16h0m0 14h0m0 52h0m0 6h0m0 23h0m0 9h0m0 4h0m0 7h0m0 12h0m0 25h0m0 26h0m0 25h0m0 2h0m0 17h0m0 20h0m0 115h0m0 38h0m0 12h0m1-573h0m0 39h0m0 144h0m0 21h0m0 173h0m0 22h0m0 67h0m1-245h0m0 38h0m0 1h0m0 7h0m0 12h0m0 3h0m0 16h0m0 6h0m0 1h0m0 10h0m0 2h0m0 6h0m0 31h0m0 40h0m0 64h0m0 101h0m1-288h0m0 5h0m0 70h0m0 56h0m1-196h0m0 63h0m0 16h0m0 28h0m0 29h0m0 8h0m0 41h0m0 19h0m1-404h0m0 50h0m0 52h0m0 88h0m0 6h0m0 27h0m0 35h0m0 8h0m0 12h0m0 50h0m0 3h0m0 20h0m0 12h0m0 1h0m0 30h0m0 42h0m0 9h0m0 7h0m1-259h0m0 9h0m0 73h0m0 43h0m0 9h0m0 6h0m0 36h0m0 27h0m0 18h0m0 19h0m0 11h0m0 5h0m0 8h0m0 35h0m0 11h0m1-310h0m0 62h0m0 41h0m0 10h0m0 2h0m0 2h0m0 25h0m0 5h0m0 15h0m0 10h0m0 1h0m0 173h0m1-433h0m0 94h0m0 64h0m0 56h0m0 1h0m0 28h0m0 8h0m0 24h0m0 9h0m0 5h0m0 88h0m1-385h0m0 105h0m0 46h0m0 52h0m0 22h0m0 19h0m0 33h0m0 9h0m0 7h0m0 41h0m1-289h0m0 82h0m0 33h0m0 28h0m0 2h0m0 17h0m0 179h0m0 16h0m0 2h0m1-397h0m0 143h0m0 80h0m0 10h0m0 6h0m0 46h0m0 23h0m0 123h0m1-384h0m0 133h0m0 4h0m0 13h0m0 30h0m0 1h0m0 56h0m0 51h0m1-212h0m0 7h0m0 37h0m0 1h0m0 16h0m0 9h0m0 2h0m0 37h0m0 8h0m0 34h0m0 11h0m0 20h0m0 10h0m0 41h0m1-377h0m0 92h0m0 71h0m0 59h0m0 7h0m0 7h0m0 10h0m0 6h0m0 21h0m0 9h0m0 35h0m0 3h0m0 85h0m1-400h0m0 133h0m0 27h0m0 7h0m0 28h0m0 60h0m0 3h0m0 23h0m0 10h0m0 10h0m0 9h0m0 67h0m1-484h0m0 50h0m0 276h0m0 12h0m0 13h0m0 2h0m0 19h0m0 30h0m0 1h0m0 8h0m1-267h0m0 33h0m0 22h0m0 31h0m0 54h0m0 44h0m0 24h0m0 66h0m0 26h0m0 50h0m1-506h0m0 27h0m0 223h0m0 24h0m0 12h0m0 4h0m0 29h0m0 28h0m0 37h0m0 27h0m0 6h0m0 7h0m0 63h0m0 20h0m1-556h0m0 155h0m0 134h0m0 13h0m0 86h0m0 6h0m0 3h0m0 15h0m0 1h0m0 9h0m0 42h0m0 8h0m0 3h0m0 115h0m1-503h0m0 141h0m0 36h0m0 10h0m0 89h0m0 1h0m0 54h0m0 9h0m0 9h0m0 55h0m0 24h0m0 72h0m1-433h0m0 125h0m0 20h0m0 38h0m0 34h0m0 2h0m0 33h0m0 3h0m0 2h0m0 7h0m0 36h0m0 4h0m0 9h0m0 40h0m0 2h0m0 44h0m0 51h0m0 0h0m1-498h0m0 232h0m0 13h0m0 43h0m0 0h0m0 8h0m0 4h0m0 46h0m0 5h0m0 46h0m0 17h0m1-189h0m0 41h0m0 23h0m0 77h0m0 28h0m0 3h0m0 6h0m0 34h0m1-483h0m0 64h0m0 16h0m0 90h0m0 177h0m0 16h0m0 9h0m0 29h0m0 26h0m0 11h0m0 64h0m1-449h0m0 14h0m0 70h0m0 128h0m0 28h0m0 16h0m0 1h0m0 8h0m0 43h0m0 68h0m0 35h0m0 93h0m1-501h0m0 92h0m0 91h0m0 85h0m0 10h0m0 9h0m0 7h0m0 1h0m0 72h0m0 27h0m0 13h0m0 102h0m1-599h0m0 9h0m0 143h0m0 55h0m0 19h0m0 7h0m0 27h0m0 23h0m0 10h0m0 10h0m0 65h0m0 45h0m0 11h0m0 3h0m0 29h0m0 0h0m0 33h0m0 35h0m1-448h0m0 38h0m0 36h0m0 109h0m0 29h0m0 51h0m0 19h0m0 18h0m0 28h0m0 31h0m0 87h0m1-363h0m0 22h0m0 97h0m0 42h0m0 20h0m0 13h0m0 14h0m0 10h0m0 16h0m0 100h0m0 102h0m1-406h0m0 59h0m0 76h0m0 47h0m0 118h0m0 47h0m1-366h0m0 131h0m0 5h0m0 29h0m0 20h0m0 12h0m0 43h0m0 24h0m0 15h0m0 2h0m1-347h0m0 15h0m0 76h0m0 86h0m0 52h0m0 24h0m0 2h0m0 6h0m0 8h0m0 43h0m1-211h0m0 44h0m0 22h0m0 43h0m0 10h0m0 48h0m0 1h0m0 27h0m0 39h0m0 9h0m0 54h0m0 12h0m0 91h0m1-396h0m0 82h0m0 11h0m0 34h0m0 12h0m0 23h0m0 111h0m1-384h0m0 44h0m0 74h0m0 125h0m0 28h0m0 9h0m0 19h0m0 1h0m0 33h0m0 10h0m0 113h0m0 11h0m1-281h0m0 19h0m0 43h0m0 22h0m0 13h0m0 6h0m0 1h0m0 176h0m1-511h0m0 58h0m0 5h0m0 17h0m0 74h0m0 27h0m0 77h0m0 25h0m0 27h0m0 13h0m0 31h0m0 18h0m0 5h0m0 35h0m0 89h0m1-551h0m0 12h0m0 193h0m0 0h0m0 13h0m0 3h0m0 140h0m0 41h0m0 33h0m0 8h0m0 8h0m0 152h0m1-550h0m0 104h0m0 134h0m0 87h0m0 50h0m0 74h0m1-262h0m0 16h0m0 76h0m0 12h0m0 59h0m0 62h0m0 67h0m0 15h0m1-505h0m0 84h0m0 7h0m0 15h0m0 2h0m0 131h0m0 20h0m0 45h0m0 5h0m0 31h0m0 11h0m0 4h0m0 0h0m0 26h0m0 44h0m1-379h0m0 18h0m0 59h0m0 49h0m0 13h0m0 114h0m0 18h0m0 2h0m0 2h0m0 34h0m0 7h0m0 20h0m0 8h0m0 117h0m1-422h0m0 10h0m0 57h0m0 9h0m0 13h0m0 4h0m0 60h0m0 72h0m0 6h0m0 36h0m0 101h0m0 11h0m1-433h0m0 89h0m0 90h0m0 37h0m0 7h0m0 3h0m0 18h0m0 14h0m0 1h0m0 48h0m0 9h0m0 31h0m0 11h0m0 15h0m0 99h0m0 13h0m1-434h0m0 15h0m0 140h0m0 1h0m0 15h0m0 119h0m0 40h0m0 32h0m0 25h0m0 25h0m1-304h0m0 55h0m0 9h0m0 50h0m0 7h0m0 0h0m0 4h0m0 33h0m0 79h0m0 7h0m0 31h0m0 15h0m1-440h0m0 85h0m0 1h0m0 85h0m0 77h0m0 22h0m0 4h0m0 9h0m0 5h0m0 5h0m0 108h0m1-182h0m0 29h0m0 26h0m0 27h0m0 12h0m0 3h0m0 36h0m0 37h0m0 9h0m1-430h0m0 202h0m0 0h0m0 6h0m0 32h0m0 30h0m0 52h0m0 8h0m0 46h0m0 0h0m0 26h0m0 79h0m1-486h0m0 147h0m0 4h0m0 11h0m0 7h0m0 55h0m0 14h0m0 10h0m0 12h0m0 2h0m0 48h0m0 48h0m0 192h0m1-391h0m0 33h0m0 46h0m0 48h0m0 192h0m1-425h0m0 80h0m0 66h0m0 7h0m0 33h0m0 28h0m0 24h0m0 10h0m0 20h0m0 120h0m1-432h0m0 206h0m0 85h0m0 30h0m0 10h0m0 62h0m0 90h0m1-464h0m0 185h0m0 140h0m1-227h0m0 32h0m0 71h0m0 11h0m0 30h0m0 23h0m0 75h0m0 8h0m1-432h0m0 229h0m0 9h0m0 90h0m0 3h0m0 9h0m0 41h0m0 20h0m0 26h0m0 34h0m0 78h0m1-492h0m0 131h0m0 44h0m0 67h0m0 23h0m0 2h0m0 39h0m0 128h0m1-355h0m0 2h0m0 30h0m0 18h0m0 75h0m0 24h0m0 54h0m0 94h0m0 31h0m0 103h0m1-526h0m0 126h0m0 36h0m0 23h0m0 25h0m0 30h0m0 10h0m0 23h0m0 6h0m0 1h0m0 8h0m0 21h0m0 11h0m0 10h0m0 19h0m0 51h0m0 23h0m0 112h0m1-478h0m0 136h0m0 22h0m0 4h0m0 9h0m0 95h0m0 31h0m0 14h0m0 9h0m0 34h0m1-258h0m0 0h0m0 91h0m0 35h0m0 5h0m0 22h0m0 7h0m0 21h0m0 53h0m0 17h0m0 31h0m0 2h0m0 44h0m0 33h0m0 22h0m1-411h0m0 7h0m0 14h0m0 4h0m0 141h0m0 25h0m0 87h0m0 14h0m0 82h0m0 5h0m1-311h0m0 28h0m0 29h0m0 18h0m0 29h0m0 24h0m0 55h0m0 20h0m0 40h0m0 10h0m1-308h0m0 133h0m0 13h0m0 56h0m0 63h0m0 22h0m0 32h0m1-440h0m0 82h0m0 14h0m0 11h0m0 44h0m0 1h0m0 43h0m0 5h0m0 102h0m0 8h0m0 10h0m0 82h0m0 1h0m0 6h0m1-282h0m0 50h0m0 6h0m0 31h0m0 25h0m0 51h0m0 73h0m0 87h0m0 37h0m1-509h0m0 17h0m0 140h0m0 78h0m0 19h0m0 24h0m0 24h0m0 55h0m0 58h0m0 26h0m1-158h0m0 14h0m0 27h0m0 23h0m0 143h0m1-458h0m0 217h0m0 24h0m0 15h0m0 2h0m0 13h0m0 18h0m0 139h0m0 43h0m1-347h0m0 16h0m0 35h0m0 15h0m0 2h0m0 47h0m0 60h0m0 1h0m0 53h0m0 11h0m0 35h0m0 141h0m1-354h0m0 52h0m0 139h0m1-420h0m0 116h0m0 45h0m0 20h0m0 43h0m0 24h0m0 8h0m0 168h0m0 76h0m1-476h0m0 79h0m0 87h0m0 66h0m0 42h0m0 1h0m0 26h0m0 7h0m0 8h0m1-50h0m0 43h0m0 23h0m0 5h0m0 10h0m0 7h0m0 49h0m1-369h0m0 226h0m0 42h0m0 22h0m0 23h0m0 1h0m0 62h0m1-353h0m0 94h0m0 100h0m0 87h0m0 17h0m0 46h0m0 84h0m1-419h0m0 180h0m0 28h0m0 12h0m0 10h0m0 5h0m0 23h0m0 0h0m0 68h0m0 9h0m0 7h0m0 7h0m1-414h0m0 153h0m0 35h0m0 23h0m0 44h0m0 11h0m0 20h0m0 3h0m0 8h0m0 5h0m0 38h0m0 51h0m0 110h0m1-518h0m0 141h0m0 60h0m0 64h0m0 26h0m0 5h0m0 130h0m0 71h0m1-476h0m0 79h0m0 33h0m0 57h0m0 50h0m0 75h0m0 12h0m0 3h0m0 1h0m0 43h0m0 93h0m1-460h0m0 75h0m0 24h0m0 80h0m0 1h0m0 6h0m0 110h0m0 1h0m0 58h0m0 24h0m0 8h0m0 70h0m1-295h0m0 13h0m0 46h0m0 15h0m0 2h0m0 6h0m0 31h0m0 21h0m0 4h0m0 24h0m0 22h0m0 3h0m0 8h0m0 43h0m0 67h0m0 77h0m0 26h0m1-283h0m0 8h0m0 9h0m0 96h0m0 36h0m1-219h0m0 72h0m0 15h0m0 27h0m0 176h0m0 11h0m0 28h0m1-424h0m0 63h0m0 62h0m0 25h0m0 29h0m0 1h0m0 24h0m0 79h0m0 81h0m1-377h0m0 152h0m0 27h0m0 14h0m0 6h0m0 29h0m0 112h0m1-468h0m0 6h0m0 165h0m0 32h0m0 26h0m0 10h0m0 14h0m0 7h0m0 27h0m0 24h0m0 65h0m0 93h0m0 19h0m0 12h0m0 35h0m1-513h0m0 6h0m0 167h0m0 120h0m0 11h0m0 2h0m0 19h0m0 12h0m0 45h0m0 55h0m1-342h0m0 9h0m0 12h0m0 4h0m0 94h0m0 26h0m0 16h0m0 18h0m0 20h0m0 11h0m0 63h0m0 71h0m0 70h0m0 39h0m1-490h0m0 95h0m0 49h0m0 37h0m0 14h0m0 12h0m0 52h0m0 11h0m0 36h0m0 75h0m0 8h0m0 16h0m1-411h0m0 25h0m0 23h0m0 75h0m0 91h0m0 33h0m0 29h0m0 128h0m1-446h0m0 30h0m0 101h0m0 122h0m0 34h0m0 24h0m0 155h0m0 33h0m0 15h0m1-545h0m0 142h0m0 85h0m0 10h0m0 16h0m0 10h0m0 54h0m0 20h0m0 125h0m1-480h0m0 108h0m0 117h0m0 11h0m0 38h0m0 23h0m0 10h0m0 35h0m0 148h0m0 16h0m1-296h0m0 16h0m0 23h0m0 50h0m0 17h0m0 18h0m0 3h0m0 79h0m0 43h0m1-390h0m0 119h0m0 45h0m0 77h0m0 132h0m0 6h0m1-357h0m0 58h0m0 63h0m0 4h0m0 28h0m0 83h0m0 55h0m0 17h0m1-254h0m0 60h0m0 43h0m0 13h0m0 13h0m0 30h0m0 20h0m0 50h0m0 4h0m0 11h0m0 60h0m0 76h0m1-546h0m0 10h0m0 18h0m0 118h0m0 83h0m0 134h0m0 26h0m0 15h0m0 8h0m0 56h0m0 130h0m1-559h0m0 150h0m0 94h0m0 10h0m0 0h0m0 8h0m0 49h0m0 1h0m0 33h0m0 16h0m0 6h0m0 27h0m0 34h0m1-474h0m0 136h0m0 37h0m0 21h0m0 13h0m0 62h0m0 11h0m0 5h0m0 46h0m0 12h0m0 56h0m0 110h0m1-419h0m0 144h0m0 61h0m0 225h0m0 69h0m1-452h0m0 91h0m0 5h0m0 52h0m0 61h0m0 0h0m0 40h0m0 13h0m0 19h0m0 68h0m1-515h0m0 85h0m0 39h0m0 32h0m0 90h0m0 30h0m0 92h0m0 5h0m0 17h0m0 125h0m0 84h0m1-561h0m0 9h0m0 27h0m0 136h0m0 33h0m0 37h0m0 16h0m0 0h0m0 77h0m0 2h0m0 15h0m0 11h0m0 2h0m0 24h0m0 9h0m1-189h0m0 12h0m0 45h0m0 16h0m0 5h0m0 40h0m0 7h0m0 4h0m0 20h0m0 43h0m0 36h0m0 4h0m0 30h0m1-226h0m0 1h0m0 30h0m0 119h0m0 147h0m0 43h0m1-519h0m0 141h0m0 17h0m0 45h0m0 6h0m0 122h0m0 26h0m1-125h0m0 33h0m0 6h0m0 54h0m0 32h0m0 14h0m0 9h0m0 132h0m1-509h0m0 79h0m0 118h0m0 62h0m0 12h0m0 5h0m0 51h0m0 11h0m0 24h0m0 129h0m1-502h0m0 25h0m0 155h0m0 19h0m0 38h0m0 21h0m0 2h0m0 9h0m0 4h0m0 21h0m0 10h0m0 20h0m0 6h0m0 7h0m0 18h0m0 115h0m0 16h0m0 4h0m1-510h0m0 58h0m0 18h0m0 38h0m0 133h0m0 62h0m0 35h0m0 44h0m1-267h0m0 70h0m0 54h0m0 5h0m0 37h0m0 1h0m0 2h0m0 4h0m0 25h0m0 1h0m0 23h0m0 56h0m0 9h0m0 28h0m0 75h0m1-574h0m0 83h0m0 170h0m0 66h0m0 74h0m0 13h0m0 5h0m1-293h0m0 49h0m0 52h0m0 25h0m0 12h0m0 82h0m0 8h0m0 6h0m0 63h0m0 78h0m0 19h0m0 5h0m0 1h0m0 1h0m1-439h0m0 35h0m0 25h0m0 61h0m0 13h0m0 52h0m0 16h0m0 36h0m0 16h0m0 43h0m0 46h0m0 4h0m0 88h0m0 48h0m1-435h0m0 0h0m0 120h0m0 24h0m0 26h0m0 2h0m0 22h0m0 15h0m0 53h0m0 31h0m0 60h0m0 28h0m1-425h0m0 97h0m0 28h0m0 14h0m0 45h0m0 8h0m0 19h0m0 22h0m0 4h0m0 22h0m0 16h0m0 13h0m0 7h0m0 1h0m0 36h0m0 105h0m0 120h0m1-552h0m0 231h0m0 4h0m0 16h0m0 21h0m0 5h0m0 21h0m0 34h0m0 55h0m1-263h0m0 46h0m0 52h0m0 16h0m0 1h0m0 51h0m0 13h0m0 12h0m0 13h0m0 55h0m1-224h0m0 20h0m0 92h0m0 10h0m0 46h0m0 103h0m1-499h0m0 115h0m0 49h0m0 4h0m0 31h0m0 51h0m0 82h0m0 22h0m0 6h0m0 15h0m0 8h0m0 50h0m0 7h0m1-396h0m0 151h0m0 8h0m0 32h0m0 62h0m0 10h0m0 17h0m0 14h0m0 5h0m0 13h0m0 16h0m0 116h0m0 60h0m1-555h0m0 150h0m0 50h0m0 2h0m0 83h0m0 7h0m0 29h0m0 8h0m0 3h0m0 12h0m0 35h0m0 49h0m0 54h0m1-506h0m0 6h0m0 9h0m0 84h0m0 113h0m0 59h0m0 31h0m0 5h0m0 29h0m0 91h0m0 67h0m0 55h0m1-435h0m0 53h0m0 27h0m0 32h0m0 59h0m0 8h0m0 60h0m0 98h0m0 19h0m0 126h0m1-533h0m0 6h0m0 64h0m0 20h0m0 104h0m0 45h0m0 11h0m0 1h0m0 1h0m0 10h0m0 2h0m0 68h0m0 43h0m0 80h0m1-497h0m0 54h0m0 40h0m0 8h0m0 11h0m0 101h0m0 70h0m0 14h0m0 10h0m0 3h0m0 7h0m0 22h0m0 26h0m0 229h0m1-353h0m0 61h0m0 3h0m0 0h0m0 5h0m0 6h0m0 32h0m0 22h0m0 31h0m0 8h0m1-196h0m0 50h0m0 16h0m0 38h0m0 85h0m0 19h0m0 15h0m0 116h0m1-511h0m0 15h0m0 202h0m0 68h0m0 28h0m0 4h0m0 1h0m0 3h0m0 17h0m0 130h0m0 23h0m1-378h0m0 1h0m0 61h0m0 48h0m0 39h0m0 5h0m0 16h0m0 18h0m0 15h0m0 61h0m1-319h0m0 94h0m0 92h0m0 16h0m0 14h0m0 3h0m0 20h0m0 15h0m0 9h0m0 29h0m0 26h0m0 147h0m1-297h0m0 0h0m0 17h0m0 190h0m0 41h0m1-525h0m0 84h0m0 49h0m0 12h0m0 4h0m0 15h0m0 22h0m0 79h0m0 29h0m0 31h0m0 16h0m0 41h0m0 110h0m0 9h0m1-376h0m0 80h0m0 65h0m0 41h0m0 7h0m0 9h0m0 18h0m0 16h0m0 54h0m1-242h0m0 21h0m0 7h0m0 15h0m0 23h0m0 14h0m0 10h0m0 36h0m0 56h0m0 57h0m0 34h0m1-198h0m0 38h0m0 79h0m0 18h0m0 61h0m0 33h0m0 13h0m1-423h0m0 172h0m0 16h0m0 26h0m0 11h0m0 30h0m0 42h0m0 0h0m0 37h0m0 23h0m0 87h0m0 2h0m1-442h0m0 164h0m0 13h0m0 9h0m0 3h0m0 2h0m0 11h0m0 58h0m0 15h0m0 12h0m0 3h0m0 246h0m1-581h0m0 152h0m0 46h0m0 52h0m0 40h0m0 35h0m0 13h0m0 140h0m0 56h0m1-436h0m0 16h0m0 27h0m0 128h0m0 26h0m0 41h0m0 9h0m0 7h0m0 4h0m0 32h0m0 68h0m1-461h0m0 25h0m0 10h0m0 92h0m0 12h0m0 69h0m0 29h0m0 3h0m0 28h0m0 98h0m0 35h0m0 20h0m0 34h0m1-335h0m0 80h0m0 111h0m0 10h0m0 103h0m1-236h0m0 9h0m0 4h0m0 105h0m0 3h0m0 8h0m0 15h0m0 50h0m1-356h0m0 43h0m0 46h0m0 9h0m0 7h0m0 51h0m0 54h0m0 6h0m0 41h0m0 17h0m0 58h0m0 106h0m0 3h0m0 51h0m1-407h0m0 30h0m0 19h0m0 50h0m0 42h0m0 66h0m0 7h0m0 9h0m0 77h0m1-458h0m0 138h0m0 44h0m0 37h0m0 95h0m0 21h0m0 10h0m0 3h0m0 16h0m0 7h0m0 44h0m0 40h0m0 22h0m0 27h0m0 54h0m1-459h0m0 23h0m0 13h0m0 61h0m0 1h0m0 4h0m0 43h0m0 33h0m0 127h0m0 20h0m0 9h0m0 56h0m1-323h0m0 38h0m0 103h0m0 47h0m0 23h0m0 24h0m0 46h0m0 90h0m1-370h0m0 7h0m0 38h0m0 78h0m0 16h0m0 14h0m0 10h0m0 2h0m0 13h0m0 92h0m0 5h0m0 19h0m0 166h0m1-531h0m0 161h0m0 73h0m0 15h0m0 40h0m0 77h0m0 66h0m1-417h0m0 35h0m0 84h0m0 18h0m0 48h0m0 8h0m0 30h0m0 2h0m0 60h0m0 79h0m1-217h0m0 54h0m0 18h0m0 10h0m0 2h0m0 13h0m0 60h0m0 12h0m0 25h0m0 4h0m0 88h0m0 16h0m1-535h0m0 119h0m0 76h0m0 8h0m0 21h0m0 54h0m0 32h0m0 10h0m0 25h0m0 3h0m0 13h0m0 7h0m0 71h0m1-195h0m0 27h0m0 2h0m0 16h0m0 48h0m0 29h0m0 58h0m0 71h0m0 42h0m1-444h0m0 36h0m0 14h0m0 94h0m0 14h0m0 50h0m0 15h0m0 10h0m0 85h0m0 5h0m0 23h0m1-410h0m0 190h0m0 13h0m0 21h0m0 35h0m0 3h0m0 7h0m0 12h0m0 20h0m0 39h0m0 11h0m1-334h0m0 9h0m0 123h0m0 20h0m0 47h0m0 25h0m0 13h0m0 6h0m0 17h0m0 22h0m0 11h0m0 5h0m0 9h0m0 25h0m0 20h0m0 55h0m1-177h0m0 35h0m0 30h0m0 33h0m0 189h0m1-458h0m0 101h0m0 47h0m0 51h0m0 0h0m0 40h0m0 7h0m0 69h0m1-352h0m0 95h0m0 6h0m0 42h0m0 45h0m0 21h0m0 12h0m0 28h0m0 14h0m0 60h0m0 1h0m0 6h0m0 20h0m0 28h0m0 73h0m0 17h0m1-490h0m0 101h0m0 25h0m0 21h0m0 21h0m0 85h0m0 14h0m0 31h0m0 28h0m0 55h0m0 4h0m0 9h0m1-267h0m0 80h0m0 14h0m0 45h0m0 33h0m0 29h0m0 105h0m1-452h0m0 118h0m0 112h0m0 2h0m0 9h0m0 23h0m0 45h0m0 19h0m0 16h0m0 62h0m1-395h0m0 8h0m0 30h0m0 17h0m0 7h0m0 27h0m0 1h0m0 38h0m0 66h0m0 7h0m0 23h0m0 41h0m0 17h0m0 70h0m1-351h0m0 16h0m0 114h0m0 6h0m0 19h0m0 85h0m0 16h0m0 3h0m0 2h0m0 5h0m0 19h0m0 154h0m1-429h0m0 47h0m0 31h0m0 11h0m0 30h0m0 58h0m0 10h0m0 13h0m0 13h0m0 4h0m0 1h0m0 0h0m0 29h0m0 4h0m0 5h0m0 12h0m0 19h0m0 28h0m0 23h0m0 88h0m0 14h0m1-420h0m0 78h0m0 61h0m0 58h0m0 4h0m0 41h0m0 0h0m0 14h0m0 228h0m1-254h0m0 0h0m0 8h0m0 95h0m1-403h0m0 122h0m0 51h0m0 58h0m0 59h0m0 12h0m0 25h0m0 0h0m0 40h0m0 50h0m0 8h0m0 22h0m1-365h0m0 43h0m0 6h0m0 19h0m0 59h0m0 20h0m0 19h0m0 11h0m0 23h0m0 29h0m0 32h0m0 23h0m0 26h0m0 18h0m0 45h0m1-327h0m0 146h0m0 8h0m0 28h0m0 4h0m0 4h0m0 65h0m0 25h0m1-388h0m0 10h0m0 75h0m0 32h0m0 31h0m0 40h0m0 9h0m0 20h0m0 44h0m0 38h0m0 10h0m0 15h0m0 13h0m0 5h0m0 3h0m0 5h0m0 153h0m1-380h0m0 21h0m0 75h0m0 18h0m0 66h0m0 137h0m0 28h0m0 39h0m0 33h0m1-300h0m0 0h0m0 7h0m0 5h0m0 26h0m0 51h0m0 13h0m0 67h0m0 13h0m1-293h0m0 51h0m0 40h0m0 3h0m0 9h0m0 21h0m0 18h0m0 4h0m0 72h0m0 59h0m0 2h0m1-463h0m0 32h0m0 95h0m0 29h0m0 15h0m0 71h0m0 67h0m0 35h0m0 27h0m0 21h0m0 87h0m0 51h0m1-425h0m0 6h0m0 35h0m0 109h0m0 43h0m0 35h0m0 3h0m0 36h0m0 0h0m0 10h0m0 14h0m0 2h0m1-275h0m0 116h0m0 58h0m0 4h0m0 4h0m0 11h0m0 1h0m0 14h0m0 12h0m0 1h0m0 21h0m0 10h0m0 89h0m0 57h0m1-305h0m0 62h0m0 7h0m0 1h0m0 34h0m0 53h0m0 12h0m0 29h0m0 8h0m0 1h0m0 80h0m0 10h0m1-407h0m0 128h0m0 55h0m0 20h0m0 2h0m0 24h0m0 20h0m0 8h0m0 35h0m0 10h0m0 23h0m1-165h0m0 51h0m0 0h0m0 19h0m0 29h0m0 31h0m0 7h0m0 91h0m1-494h0m0 41h0m0 140h0m0 20h0m0 24h0m0 71h0m0 15h0m0 11h0m0 0h0m0 16h0m0 236h0m1-449h0m0 2h0m0 10h0m0 114h0m0 4h0m0 27h0m0 16h0m0 4h0m0 18h0m0 1h0m0 28h0m0 33h0m0 8h0m0 28h0m1-200h0m0 7h0m0 87h0m0 14h0m0 25h0m0 51h0m0 15h0m0 42h0m1-401h0m0 91h0m0 10h0m0 33h0m0 25h0m0 32h0m0 54h0m0 160h0m0 38h0m1-381h0m0 25h0m0 63h0m0 14h0m0 16h0m0 24h0m0 14h0m0 0h0m0 18h0m0 60h0m0 15h0m0 22h0m0 38h0m1-379h0m0 87h0m0 60h0m0 33h0m0 41h0m0 14h0m0 18h0m0 60h0m0 38h0m1-332h0m0 3h0m0 64h0m0 16h0m0 49h0m0 55h0m0 33h0m0 2h0m0 7h0m0 28h0m0 17h0m0 10h0m0 9h0m0 2h0m0 51h0m0 175h0m1-496h0m0 5h0m0 114h0m0 18h0m0 42h0m0 43h0m0 38h0m0 63h0m0 0h0m0 84h0m1-391h0m0 32h0m0 4h0m0 12h0m0 7h0m0 93h0m0 69h0m0 40h0m0 9h0m0 23h0m1-355h0m0 103h0m0 2h0m0 49h0m0 70h0m0 130h0m0 5h0m0 15h0m0 57h0m0 71h0m1-441h0m0 31h0m0 6h0m0 58h0m0 3h0m0 24h0m0 17h0m0 89h0m0 2h0m0 11h0m0 103h0m1-393h0m0 17h0m0 126h0m0 22h0m0 50h0m0 17h0m0 15h0m0 6h0m0 10h0m0 4h0m0 41h0m0 19h0m0 25h0m1-350h0m0 120h0m0 131h0m0 19h0m0 5h0m0 8h0m0 28h0m0 113h0m1-407h0m0 171h0m0 40h0m0 16h0m0 5h0m0 34h0m0 32h0m1-338h0m0 26h0m0 82h0m0 79h0m0 85h0m0 31h0m0 10h0m0 2h0m0 52h0m0 32h0m1-393h0m0 77h0m0 191h0m0 14h0m0 53h0m0 37h0m0 20h0m0 30h0m1-387h0m0 51h0m0 9h0m0 48h0m0 29h0m0 143h0m0 59h0m1-373h0m0 72h0m0 36h0m0 54h0m0 11h0m0 11h0m0 29h0m0 28h0m0 14h0m0 3h0m0 3h0m0 16h0m0 15h0m0 63h0m0 13h0m1-264h0m0 50h0m0 52h0m0 40h0m0 18h0m0 6h0m0 9h0m0 146h0m1-320h0m0 113h0m0 116h0m0 42h0m0 13h0m0 24h0m0 21h0m0 66h0m1-456h0m0 51h0m0 17h0m0 55h0m0 31h0m0 27h0m0 51h0m0 98h0m0 37h0m0 32h0m1-429h0m0 63h0m0 27h0m0 63h0m0 1h0m0 4h0m0 12h0m0 35h0m0 21h0m0 30h0m0 55h0m0 11h0m1-161h0m0 40h0m0 74h0m0 31h0m0 3h0m1-237h0m0 50h0m0 53h0m0 107h0m0 65h0m0 1h0m0 298h0m1-570h0m0 21h0m0 43h0m0 100h0m0 21h0m0 8h0m0 40h0m0 20h0m1-326h0m0 86h0m0 5h0m0 65h0m0 4h0m0 37h0m0 4h0m0 84h0m0 39h0m0 107h0m1-431h0m0 10h0m0 42h0m0 36h0m0 35h0m0 22h0m0 48h0m0 33h0m0 11h0m0 3h0m0 24h0m0 16h0m0 54h0m0 14h0m0 60h0m1-427h0m0 67h0m0 85h0m0 7h0m0 72h0m0 12h0m0 15h0m0 44h0m0 10h0m0 6h0m0 12h0m0 121h0m1-405h0m0 77h0m0 4h0m0 15h0m0 20h0m0 42h0m0 54h0m0 1h0m0 5h0m0 8h0m0 5h0m0 29h0m0 22h0m0 22h0m1-271h0m0 147h0m0 18h0m0 6h0m0 54h0m0 12h0m1-271h0m0 1h0m0 21h0m0 23h0m0 49h0m0 16h0m0 68h0m0 23h0m0 25h0m0 38h0m0 7h0m0 12h0m0 29h0m0 48h0m0 2h0m0 37h0m1-380h0m0 37h0m0 3h0m0 74h0m0 3h0m0 57h0m0 0h0m0 17h0m0 2h0m0 5h0m0 17h0m0 59h0m0 52h0m0 6h0m1-324h0m0 9h0m0 2h0m0 94h0m0 12h0m0 39h0m0 37h0m0 36h0m0 6h0m0 56h0m0 99h0m1-332h0m0 21h0m0 2h0m0 49h0m0 48h0m0 59h0m0 24h0m0 29h0m1-347h0m0 15h0m0 27h0m0 9h0m0 17h0m0 11h0m0 30h0m0 66h0m0 12h0m0 7h0m0 12h0m0 87h0m1-313h0m0 124h0m0 29h0m0 34h0m0 27h0m0 115h0m0 6h0m0 7h0m0 4h0m0 84h0m0 29h0m1-386h0m0 2h0m0 24h0m0 64h0m0 25h0m0 3h0m0 24h0m0 198h0m1-303h0m0 6h0m0 36h0m0 1h0m0 12h0m0 74h0m0 47h0m0 32h0m0 25h0m1-347h0m0 68h0m0 2h0m0 67h0m0 12h0m0 49h0m0 3h0m0 15h0m0 6h0m0 11h0m0 27h0m0 2h0m0 10h0m0 103h0m1-272h0m0 13h0m0 38h0m0 10h0m0 37h0m0 8h0m0 3h0m0 13h0m0 5h0m0 17h0m0 21h0m0 33h0m0 10h0m0 29h0m0 39h0m0 12h0m0 40h0m0 115h0m1-447h0m0 80h0m0 13h0m0 35h0m0 51h0m0 2h0m0 9h0m0 17h0m0 1h0m0 9h0m0 138h0m1-387h0m0 8h0m0 82h0m0 40h0m0 20h0m0 15h0m0 23h0m0 34h0m0 89h0m0 108h0m1-450h0m0 108h0m0 50h0m0 3h0m0 4h0m0 9h0m0 71h0m0 43h0m1-295h0m0 23h0m0 87h0m0 25h0m0 44h0m0 13h0m0 53h0m0 7h0m0 15h0m0 10h0m0 9h0m0 149h0m0 50h0m1-327h0m0 18h0m0 35h0m0 59h0m0 139h0m0 82h0m1-484h0m0 177h0m0 6h0m0 19h0m0 6h0m0 150h0m1-343h0m0 12h0m0 58h0m0 56h0m0 10h0m0 89h0m0 28h0m0 45h0m0 51h0m0 105h0m1-510h0m0 223h0m0 25h0m0 17h0m0 13h0m0 14h0m0 71h0m1-318h0m0 54h0m0 49h0m0 94h0m0 9h0m0 28h0m0 2h0m0 9h0m0 22h0m0 85h0m1-322h0m0 72h0m0 20h0m0 11h0m0 37h0m0 35h0m0 74h0m0 7h0m0 4h0m0 26h0m1-194h0m0 54h0m0 22h0m0 2h0m0 3h0m0 11h0m0 2h0m0 10h0m0 141h0m0 66h0m1-490h0m0 12h0m0 0h0m0 118h0m0 2h0m0 37h0m0 229h0m0 79h0m1-403h0m0 10h0m0 87h0m0 25h0m0 9h0m0 52h0m0 2h0m0 33h0m0 55h0m0 40h0m1-367h0m0 109h0m0 5h0m0 26h0m0 58h0m0 10h0m0 143h0m1-341h0m0 48h0m0 50h0m0 2h0m0 21h0m0 0h0m0 44h0m0 60h0m0 97h0m0 4h0m0 196h0m1-506h0m0 110h0m0 98h0m0 21h0m0 15h0m0 21h0m0 35h0m1-188h0m0 60h0m0 6h0m0 9h0m0 4h0m0 5h0m0 8h0m1-232h0m0 164h0m0 72h0m0 25h0m0 5h0m0 0h0m0 25h0m0 89h0m1-286h0m0 58h0m0 18h0m0 54h0m0 11h0m0 61h0m0 11h0m0 62h0m0 71h0m0 10h0m1-356h0m0 27h0m0 65h0m0 7h0m0 63h0m0 25h0m0 5h0m0 2h0m1-277h0m0 44h0m0 38h0m0 57h0m0 67h0m0 150h0m0 25h0m1-396h0m0 47h0m0 10h0m0 51h0m0 59h0m0 58h0m0 20h0m0 0h0m0 117h0m1-302h0m0 7h0m0 102h0m0 41h0m0 10h0m0 18h0m0 107h0m1-298h0m0 52h0m0 53h0m0 15h0m0 199h0m1-314h0m0 13h0m0 3h0m0 23h0m0 13h0m0 50h0m0 26h0m0 16h0m0 37h0m0 7h0m0 9h0m0 50h0m0 1h0m0 22h0m0 10h0m0 24h0m0 49h0m0 101h0m1-400h0m0 12h0m0 18h0m0 24h0m0 48h0m0 9h0m0 18h0m0 0h0m0 10h0m0 53h0m0 141h0m0 30h0m1-447h0m0 75h0m0 0h0m0 63h0m0 3h0m0 66h0m0 12h0m0 18h0m0 9h0m0 12h0m0 36h0m0 60h0m0 5h0m0 5h0m1-369h0m0 44h0m0 69h0m0 14h0m0 23h0m0 12h0m0 33h0m0 1h0m0 3h0m0 16h0m0 5h0m0 21h0m0 17h0m0 3h0m0 7h0m0 50h0m0 67h0m1-400h0m0 7h0m0 55h0m0 14h0m0 26h0m0 43h0m0 6h0m0 68h0m0 121h0m0 16h0m0 47h0m1-277h0m0 10h0m0 16h0m0 64h0m0 2h0m0 3h0m0 12h0m0 27h0m0 40h0m1-226h0m0 31h0m0 14h0m0 10h0m0 14h0m0 63h0m0 15h0m0 0h0m0 59h0m0 30h0m0 25h0m0 7h0m0 184h0m1-456h0m0 10h0m0 44h0m0 57h0m0 69h0m0 2h0m0 16h0m0 64h0m1-256h0m0 61h0m0 27h0m0 3h0m0 7h0m0 100h0m0 137h0m0 70h0m1-491h0m0 126h0m0 39h0m0 40h0m0 16h0m0 2h0m0 24h0m0 7h0m0 16h0m1-231h0m0 28h0m0 17h0m0 12h0m0 12h0m0 18h0m0 76h0m0 2h0m0 30h0m0 3h0m0 23h0m0 6h0m0 1h0m0 53h0m0 32h0m0 13h0m1-351h0m0 77h0m0 68h0m0 13h0m0 41h0m0 90h0m0 29h0m0 116h0m1-410h0m0 63h0m0 54h0m0 115h0m0 24h0m0 3h0m0 16h0m0 26h0m0 1h0m0 18h0m1-341h0m0 82h0m0 45h0m0 38h0m0 32h0m0 12h0m0 3h0m0 8h0m0 11h0m0 11h0m0 4h0m0 1h0m0 15h0m0 27h0m0 6h0m0 1h0m0 42h0m0 12h0m0 136h0m1-485h0m0 113h0m0 43h0m0 3h0m0 1h0m0 17h0m0 44h0m0 1h0m0 29h0m0 32h0m0 19h0m0 19h0m0 56h0m1-416h0m0 100h0m0 41h0m0 17h0m0 3h0m0 19h0m0 158h0m0 46h0m0 173h0m1-495h0m0 115h0m0 65h0m0 4h0m0 14h0m0 48h0m0 10h0m0 10h0m0 11h0m0 28h0m0 15h0m0 22h0m0 82h0m0 1h0m1-409h0m0 13h0m0 2h0m0 8h0m0 22h0m0 8h0m0 98h0m0 20h0m0 30h0m0 9h0m0 3h0m0 76h0m0 10h0m0 175h0m1-464h0m0 74h0m0 49h0m0 48h0m0 27h0m0 29h0m0 2h0m0 62h0m0 144h0m1-505h0m0 6h0m0 75h0m0 61h0m0 36h0m0 12h0m0 13h0m0 4h0m0 20h0m0 1h0m0 1h0m0 16h0m0 3h0m0 11h0m0 21h0m0 198h0m1-424h0m0 16h0m0 18h0m0 12h0m0 23h0m0 23h0m0 33h0m0 43h0m1-153h0m0 24h0m0 22h0m0 14h0m0 34h0m0 35h0m0 15h0m0 35h0m0 25h0m0 32h0m0 9h0m0 12h0m0 15h0m0 30h0m0 148h0m1-391h0m0 47h0m0 62h0m0 46h0m0 64h0m0 44h0m0 20h0m0 93h0m1-519h0m0 129h0m0 16h0m0 1h0m0 10h0m0 17h0m0 41h0m0 44h0m0 12h0m0 1h0m0 27h0m0 11h0m0 6h0m0 31h0m0 12h0m0 31h0m0 101h0m1-400h0m0 5h0m0 10h0m0 8h0m0 38h0m0 2h0m0 55h0m0 16h0m0 14h0m0 3h0m0 19h0m0 47h0m0 60h0m0 44h0m1-369h0m0 49h0m0 21h0m0 25h0m0 24h0m0 11h0m0 10h0m0 72h0m0 22h0m0 43h0m0 9h0m0 3h0m0 62h0m0 38h0m1-368h0m0 91h0m0 42h0m0 9h0m0 12h0m0 13h0m0 21h0m0 42h0m0 9h0m0 3h0m0 3h0m0 137h0m1-370h0m0 154h0m0 26h0m0 18h0m0 123h0m1-350h0m0 22h0m0 21h0m0 69h0m0 11h0m0 24h0m0 10h0m0 52h0m0 82h0m0 45h0m0 140h0m1-421h0m0 39h0m0 16h0m0 5h0m0 6h0m0 52h0m0 12h0m0 15h0m0 11h0m0 19h0m0 21h0m0 9h0m0 13h0m0 6h0m0 29h0m0 26h0m1-311h0m0 81h0m0 1h0m0 7h0m0 3h0m0 37h0m0 36h0m0 28h0m0 18h0m0 44h0m0 16h0m0 27h0m1-319h0m0 140h0m0 35h0m0 9h0m0 3h0m0 19h0m0 45h0m0 183h0m0 2h0m1-389h0m0 57h0m0 27h0m0 17h0m0 6h0m0 8h0m0 47h0m0 4h0m0 130h0m0 101h0m1-384h0m0 85h0m0 47h0m0 18h0m0 13h0m0 64h0m0 11h0m0 15h0m0 44h0m1-383h0m0 169h0m0 14h0m0 10h0m0 20h0m0 16h0m0 21h0m0 6h0m0 24h0m0 1h0m1-122h0m0 9h0m0 78h0m0 15h0m0 3h0m0 43h0m1-185h0m0 18h0m0 13h0m0 66h0m0 16h0m0 4h0m0 166h0m0 37h0m0 68h0m1-474h0m0 58h0m0 4h0m0 27h0m0 9h0m0 25h0m0 25h0m0 19h0m0 7h0m0 16h0m0 9h0m0 11h0m0 14h0m0 59h0m0 110h0m0 70h0m1-467h0m0 88h0m0 34h0m0 29h0m0 3h0m0 12h0m0 40h0m0 21h0m0 11h0m0 3h0m0 12h0m0 66h0m0 139h0m1-399h0m0 7h0m0 3h0m0 4h0m0 28h0m0 20h0m0 17h0m0 16h0m0 2h0m0 8h0m0 5h0m0 7h0m0 13h0m0 8h0m0 45h0m0 92h0m1-338h0m0 76h0m0 51h0m0 45h0m0 19h0m0 2h0m0 13h0m0 12h0m0 30h0m0 33h0m0 25h0m0 111h0m1-468h0m0 106h0m0 6h0m0 2h0m0 60h0m0 11h0m0 10h0m0 0h0m0 58h0m0 4h0m0 5h0m0 6h0m0 46h0m0 51h0m0 29h0m0 6h0m1-229h0m0 4h0m0 123h0m0 16h0m0 10h0m0 7h0m1-292h0m0 18h0m0 29h0m0 18h0m0 7h0m0 24h0m0 30h0m0 33h0m0 16h0m0 1h0m0 11h0m0 21h0m0 32h0m0 10h0m1-213h0m0 32h0m0 9h0m0 13h0m0 8h0m0 6h0m0 4h0m0 2h0m0 9h0m0 32h0m0 11h0m0 10h0m0 30h0m0 1h0m1-202h0m0 32h0m0 15h0m0 11h0m0 35h0m0 8h0m0 41h0m0 29h0m0 6h0m0 5h0m0 6h0m0 25h0m0 1h0m0 5h0m0 81h0m0 16h0m1-194h0m0 48h0m0 8h0m0 2h0m0 4h0m0 8h0m0 0h0m0 2h0m0 0h0m1-187h0m0 60h0m0 59h0m0 31h0m0 2h0m0 10h0m0 1h0m0 13h0m0 51h0m0 13h0m0 2h0m0 44h0m0 54h0m1-311h0m0 2h0m0 61h0m0 1h0m0 8h0m0 0h0m0 10h0m0 5h0m0 16h0m0 60h0m0 26h0m0 5h0m0 88h0m0 1h0m1-344h0m0 109h0m0 77h0m0 29h0m0 64h0m0 29h0m0 103h0m1-381h0m0 29h0m0 1h0m0 17h0m0 42h0m0 11h0m0 6h0m0 57h0m0 2h0m0 28h0m0 9h0m0 18h0m0 19h0m0 2h0m0 78h0m0 68h0m0 40h0m1-449h0m0 12h0m0 25h0m0 27h0m0 6h0m0 24h0m0 6h0m0 46h0m0 27h0m0 10h0m0 16h0m0 18h0m0 39h0m0 173h0m1-440h0m0 13h0m0 15h0m0 37h0m0 34h0m0 1h0m0 61h0m0 10h0m0 6h0m0 26h0m0 5h0m0 37h0m0 34h0m0 10h0m1-314h0m0 40h0m0 38h0m0 54h0m0 13h0m0 47h0m0 35h0m0 13h0m0 9h0m0 12h0m0 32h0m0 32h0m1-290h0m0 83h0m0 19h0m0 4h0m0 21h0m0 30h0m0 2h0m0 4h0m0 17h0m0 1h0m0 64h0m0 25h0m0 57h0m0 21h0m0 48h0m1-336h0m0 14h0m0 56h0m0 20h0m0 2h0m0 16h0m0 8h0m0 9h0m0 52h0m0 43h0m0 60h0m1-306h0m0 131h0m0 2h0m0 16h0m0 7h0m0 34h0m0 102h0m0 32h0m0 40h0m1-290h0m0 67h0m0 26h0m0 0h0m0 33h0m1-211h0m0 11h0m0 29h0m0 35h0m0 36h0m0 1h0m0 4h0m0 12h0m0 7h0m0 8h0m0 10h0m0 8h0m0 26h0m0 41h0m0 16h0m0 40h0m0 20h0m1-301h0m0 36h0m0 2h0m0 74h0m0 3h0m0 63h0m0 26h0m0 25h0m0 66h0m1-261h0m0 32h0m0 43h0m0 8h0m0 1h0m0 13h0m0 9h0m0 9h0m0 37h0m0 1h0m0 33h0m0 17h0m0 15h0m0 7h0m0 1h0m0 3h0m0 50h0m0 4h0m1-338h0m0 58h0m0 21h0m0 48h0m0 19h0m0 31h0m0 5h0m0 6h0m0 30h0m0 4h0m0 25h0m0 1h0m0 2h0m0 68h0m0 6h0m0 234h0m1-541h0m0 18h0m0 32h0m0 9h0m0 7h0m0 9h0m0 88h0m0 13h0m0 4h0m0 5h0m0 1h0m0 4h0m0 9h0m0 6h0m0 12h0m0 105h0m0 65h0m0 95h0m1-490h0m0 1h0m0 84h0m0 21h0m0 16h0m0 76h0m0 6h0m0 11h0m0 0h0m0 4h0m0 29h0m0 3h0m0 100h0m1-303h0m0 23h0m0 8h0m0 70h0m0 7h0m0 7h0m0 13h0m0 53h0m0 7h0m1-231h0m0 52h0m0 20h0m0 8h0m0 5h0m0 39h0m0 134h0m1-160h0m0 12h0m0 12h0m0 16h0m0 1h0m0 9h0m0 34h0m0 15h0m0 130h0m0 96h0m1-436h0m0 80h0m0 36h0m0 2h0m0 42h0m0 21h0m0 10h0m0 16h0m0 13h0m0 9h0m0 92h0m0 133h0m0 33h0m1-387h0m0 31h0m0 19h0m0 20h0m0 9h0m0 12h0m0 55h0m0 4h0m0 145h0m1-390h0m0 2h0m0 32h0m0 41h0m0 31h0m0 39h0m0 55h0m0 89h0m0 38h0m1-303h0m0 46h0m0 8h0m0 38h0m0 10h0m0 26h0m0 9h0m0 10h0m0 18h0m0 10h0m0 15h0m0 6h0m0 3h0m0 12h0m0 59h0m1-239h0m0 74h0m0 48h0m0 110h0m0 57h0m0 27h0m1-357h0m0 64h0m0 9h0m0 41h0m0 0h0m0 18h0m0 2h0m0 4h0m0 34h0m0 5h0m0 5h0m0 13h0m0 7h0m0 3h0m0 4h0m0 47h0m0 58h0m0 102h0m1-329h0m0 40h0m0 33h0m0 53h0m0 2h0m1-154h0m0 79h0m0 6h0m0 105h0m0 13h0m0 172h0m1-394h0m0 19h0m0 48h0m0 33h0m0 0h0m0 71h0m1-217h0m0 39h0m0 37h0m0 8h0m0 11h0m0 30h0m0 5h0m0 15h0m0 2h0m0 3h0m0 6h0m0 43h0m0 68h0m0 14h0m0 152h0m1-439h0m0 22h0m0 24h0m0 14h0m0 24h0m0 88h0m0 2h0m0 7h0m0 15h0m0 13h0m0 25h0m0 30h0m1-242h0m0 15h0m0 10h0m0 10h0m0 5h0m0 3h0m0 3h0m0 36h0m0 19h0m0 23h0m0 56h0m0 13h0m0 17h0m0 34h0m0 16h0m0 27h0m1-300h0m0 37h0m0 31h0m0 11h0m0 21h0m0 5h0m0 14h0m0 7h0m0 8h0m0 18h0m0 11h0m0 25h0m0 12h0m0 19h0m0 17h0m1-260h0m0 2h0m0 71h0m0 11h0m0 5h0m0 5h0m0 1h0m0 60h0m0 12h0m0 44h0m0 17h0m0 28h0m1-263h0m0 18h0m0 55h0m0 26h0m0 5h0m0 0h0m0 11h0m0 22h0m0 1h0m0 9h0m0 4h0m0 43h0m0 3h0m0 19h0m0 5h0m0 17h0m0 20h0m0 32h0m0 9h0m0 168h0m1-430h0m0 9h0m0 69h0m0 47h0m0 8h0m0 55h0m0 125h0m1-300h0m0 87h0m0 51h0m0 32h0m0 47h0m0 16h0m0 7h0m0 3h0m1-233h0m0 75h0m0 19h0m0 9h0m0 1h0m0 23h0m0 28h0m0 15h0m0 19h0m0 10h0m1-243h0m0 119h0m0 24h0m0 99h0m1-262h0m0 1h0m0 54h0m0 36h0m0 40h0m0 39h0m0 2h0m0 1h0m0 12h0m0 29h0m0 3h0m0 6h0m1-185h0m0 25h0m0 3h0m0 77h0m0 7h0m0 15h0m0 0h0m0 8h0m0 33h0m0 66h0m0 2h0m0 90h0m1-367h0m0 101h0m0 38h0m0 10h0m0 19h0m0 7h0m0 10h0m0 69h0m0 76h0m0 38h0m1-314h0m0 40h0m0 12h0m0 7h0m0 13h0m0 31h0m0 13h0m0 9h0m0 27h0m0 6h0m0 22h0m0 11h0m0 3h0m0 41h0m0 10h0m1-292h0m0 4h0m0 8h0m0 124h0m0 50h0m0 25h0m0 3h0m0 12h0m0 30h0m1-219h0m0 11h0m0 25h0m0 15h0m0 2h0m0 106h0m0 15h0m0 8h0m0 15h0m0 164h0m1-376h0m0 43h0m0 29h0m0 39h0m0 14h0m0 2h0m0 20h0m0 13h0m0 36h0m0 7h0m0 52h0m0 47h0m1-206h0m0 23h0m0 12h0m0 67h0m0 10h0m0 23h0m0 93h0m1-356h0m0 80h0m0 17h0m0 47h0m0 7h0m0 6h0m0 12h0m0 19h0m0 16h0m0 30h0m0 23h0m0 27h0m1-255h0m0 8h0m0 87h0m0 8h0m0 2h0m0 2h0m0 20h0m0 27h0m0 1h0m0 5h0m0 33h0m0 12h0m0 11h0m1-186h0m0 9h0m0 78h0m0 22h0m0 18h0m0 12h0m1-189h0m0 1h0m0 113h0m0 17h0m0 18h0m0 5h0m0 16h0m0 0h0m0 13h0m0 20h0m0 3h0m0 4h0m1-112h0m0 12h0m0 2h0m0 16h0m0 44h0m0 1h0m0 3h0m0 18h0m0 34h0m1-65h0m0 11h0m0 2h0m0 5h0m0 15h0m0 40h0m0 15h0m0 124h0m1-347h0m0 39h0m0 54h0m0 1h0m0 34h0m0 104h0m0 53h0m1-299h0m0 65h0m0 3h0m0 12h0m0 24h0m0 13h0m0 2h0m0 8h0m0 34h0m0 2h0m0 0h0m1-165h0m0 24h0m0 26h0m0 23h0m0 58h0m0 4h0m0 1h0m0 0h0m0 13h0m0 126h0m0 160h0m1-449h0m0 65h0m0 7h0m0 25h0m0 7h0m0 2h0m0 23h0m0 2h0m0 20h0m0 36h0m0 27h0m0 20h0m0 30h0m0 0h0m1-268h0m0 79h0m0 31h0m0 7h0m0 10h0m0 37h0m0 38h0m0 21h0m1-117h0m0 4h0m0 1h0m0 8h0m0 27h0m0 9h0m0 9h0m0 7h0m0 12h0m0 2h0m0 57h0m0 21h0m1-215h0m0 55h0m0 5h0m0 1h0m0 30h0m0 20h0m0 17h0m0 27h0m0 2h0m0 48h0m0 16h0m0 7h0m1-199h0m0 13h0m0 8h0m0 5h0m0 54h0m0 5h0m0 3h0m0 23h0m0 8h0m0 1h0m0 41h0m0 140h0m1-306h0m0 5h0m0 5h0m0 46h0m0 15h0m0 3h0m0 22h0m0 0h0m0 23h0m0 77h0m0 100h0m0 0h0m1-351h0m0 13h0m0 14h0m0 36h0m0 26h0m0 16h0m0 34h0m0 4h0m0 3h0m0 18h0m0 52h0m0 16h0m1-240h0m0 23h0m0 61h0m0 0h0m0 11h0m0 0h0m0 12h0m0 0h0m0 28h0m0 16h0m0 15h0m0 9h0m0 12h0m0 53h0m0 30h0m0 72h0m0 48h0m0 49h0m1-439h0m0 30h0m0 18h0m0 2h0m0 30h0m0 1h0m0 3h0m0 19h0m0 6h0m0 6h0m0 21h0m0 50h0m0 27h0m0 28h0m0 69h0m0 87h0m1-397h0m0 56h0m0 2h0m0 49h0m0 7h0m0 21h0m0 4h0m0 2h0m0 2h0m0 13h0m0 27h0m0 1h0m0 32h0m0 62h0m0 56h0m0 118h0m1-463h0m0 21h0m0 2h0m0 35h0m0 38h0m0 12h0m0 10h0m0 24h0m0 9h0m0 9h0m0 17h0m0 23h0m0 85h0m0 10h0m0 35h0m1-283h0m0 53h0m0 6h0m0 39h0m0 30h0m0 11h0m0 19h0m0 5h0m0 0h0m0 5h0m0 102h0m1-255h0m0 48h0m0 20h0m0 6h0m0 6h0m0 18h0m0 14h0m0 183h0m1-343h0m0 26h0m0 26h0m0 26h0m0 5h0m0 14h0m0 14h0m0 5h0m0 6h0m0 4h0m0 9h0m0 2h0m0 11h0m0 17h0m0 27h0m0 5h0m0 8h0m0 45h0m0 63h0m1-322h0m0 3h0m0 70h0m0 14h0m0 2h0m0 23h0m0 14h0m0 16h0m0 48h0m0 4h0m0 14h0m0 7h0m0 3h0m0 146h0m0 3h0m1-301h0m0 15h0m0 27h0m0 27h0m0 10h0m0 34h0m0 16h0m0 262h0m1-465h0m0 44h0m0 14h0m0 11h0m0 54h0m0 59h0m0 14h0m0 129h0m1-312h0m0 30h0m0 30h0m0 8h0m0 1h0m0 4h0m0 5h0m0 18h0m0 23h0m0 26h0m0 3h0m0 9h0m0 30h0m0 7h0m0 7h0m0 35h0m0 16h0m1-211h0m0 48h0m0 5h0m0 2h0m0 30h0m0 6h0m0 1h0m0 0h0m0 14h0m0 1h0m0 7h0m0 19h0m0 15h0m0 9h0m0 28h0m0 5h0m0 51h0m0 18h0m1-321h0m0 1h0m0 67h0m0 5h0m0 4h0m0 23h0m0 12h0m0 7h0m0 37h0m0 61h0m0 3h0m0 22h0m0 40h0m1-284h0m0 29h0m0 62h0m0 9h0m0 3h0m0 5h0m0 25h0m0 3h0m0 39h0m0 1h0m0 66h0m0 85h0m0 18h0m0 36h0m1-367h0m0 44h0m0 38h0m0 9h0m0 9h0m0 17h0m0 44h0m0 5h0m0 3h0m0 22h0m0 1h0m0 57h0m0 18h0m0 11h0m1-286h0m0 39h0m0 17h0m0 40h0m0 16h0m0 57h0m0 18h0m0 0h0m0 21h0m0 27h0m0 113h0m0 42h0m1-357h0m0 31h0m0 49h0m0 2h0m0 25h0m0 3h0m0 3h0m0 13h0m0 12h0m0 18h0m0 26h0m0 8h0m0 32h0m1-260h0m0 16h0m0 67h0m0 7h0m0 13h0m0 9h0m0 40h0m0 13h0m0 2h0m0 245h0m1-357h0m0 0h0m0 15h0m0 7h0m0 64h0m0 7h0m0 1h0m0 3h0m0 21h0m0 22h0m0 3h0m0 1h0m0 17h0m0 90h0m1-268h0m0 21h0m0 10h0m0 53h0m0 40h0m0 56h0m0 2h0m0 46h0m0 15h0m0 1h0m0 56h0m1-308h0m0 66h0m0 25h0m0 9h0m0 0h0m0 15h0m0 4h0m0 15h0m0 35h0m0 61h0m0 2h0m0 11h0m0 18h0m1-226h0m0 52h0m0 2h0m0 2h0m0 2h0m0 13h0m0 4h0m0 6h0m0 24h0m0 23h0m0 40h0m0 31h0m0 2h0m1-201h0m0 47h0m0 19h0m0 10h0m0 1h0m0 4h0m0 12h0m0 55h0m0 15h0m0 212h0m1-361h0m0 5h0m0 15h0m0 25h0m0 7h0m0 9h0m0 12h0m0 3h0m0 14h0m0 53h0m0 3h0m0 50h0m1-266h0m0 64h0m0 46h0m0 31h0m0 11h0m0 8h0m0 19h0m0 22h0m1-103h0m0 3h0m0 12h0m0 5h0m0 1h0m0 1h0m0 0h0m0 3h0m0 1h0m0 11h0m0 0h0m0 0h0m1-141h0m0 34h0m0 54h0m0 5h0m0 5h0m0 3h0m0 2h0m0 1h0m0 1h0m0 42h0m0 3h0m0 1h0m0 11h0m0 44h0m0 72h0m1-270h0m0 80h0m0 29h0m0 3h0m0 13h0m0 7h0m0 36h0m0 15h0m0 44h0m0 66h0m1-280h0m0 12h0m0 23h0m0 9h0m0 11h0m0 19h0m0 34h0m0 5h0m0 3h0m0 10h0m0 11h0m0 54h0m0 16h0m0 11h0m0 1h0m0 28h0m1-220h0m0 72h0m0 6h0m0 23h0m0 22h0m0 28h0m0 47h0m1-206h0m0 25h0m0 43h0m0 1h0m0 0h0m0 21h0m0 96h0m0 34h0m1-250h0m0 34h0m0 13h0m0 12h0m0 36h0m0 6h0m0 29h0m0 42h0m0 72h0m0 14h0m1-271h0m0 69h0m0 13h0m0 12h0m0 18h0m0 1h0m0 33h0m0 19h0m0 9h0m0 4h0m0 15h0m0 1h0m0 0h0m0 56h0m0 2h0m0 27h0m1-221h0m0 21h0m0 2h0m0 21h0m0 29h0m0 3h0m0 25h0m0 33h0m0 114h0m0 35h0m1-333h0m0 69h0m0 16h0m0 22h0m0 7h0m0 1h0m0 8h0m0 12h0m0 60h0m1-149h0m0 65h0m0 3h0m0 5h0m0 0h0m0 5h0m0 3h0m0 8h0m0 1h0m0 51h0m0 22h0m1-224h0m0 13h0m0 6h0m0 31h0m0 25h0m0 5h0m0 4h0m0 12h0m0 28h0m0 9h0m0 10h0m0 19h0m0 40h0m0 60h0m0 131h0m1-394h0m0 3h0m0 10h0m0 38h0m0 6h0m0 15h0m0 3h0m0 25h0m0 3h0m0 16h0m0 8h0m0 6h0m0 10h0m0 7h0m0 3h0m0 26h0m0 13h0m0 96h0m0 10h0m0 11h0m1-196h0m0 1h0m0 7h0m0 6h0m0 18h0m0 74h0m0 28h0m0 94h0m1-311h0m0 24h0m0 18h0m0 24h0m0 2h0m0 2h0m0 2h0m0 4h0m0 5h0m0 1h0m0 8h0m0 4h0m0 5h0m0 45h0m0 15h0m0 37h0m0 23h0m1-170h0m0 83h0m0 48h0m0 12h0m0 8h0m0 47h0m0 12h0m1-269h0m0 25h0m0 41h0m0 1h0m0 16h0m0 11h0m0 15h0m0 3h0m0 3h0m0 22h0m0 7h0m0 16h0m1-84h0m0 22h0m0 8h0m0 14h0m0 0h0m0 43h0m0 11h0m0 44h0m0 68h0m0 76h0m1-343h0m0 44h0m0 12h0m0 9h0m0 27h0m0 40h0m0 8h0m0 22h0m0 31h0m0 169h0m1-404h0m0 23h0m0 28h0m0 32h0m0 13h0m0 11h0m0 10h0m0 16h0m0 7h0m0 20h0m0 1h0m0 22h0m0 4h0m0 44h0m0 1h0m0 66h0m0 85h0m1-341h0m0 36h0m0 37h0m0 1h0m0 1h0m0 8h0m0 36h0m0 19h0m0 40h0m0 183h0m1-365h0m0 12h0m0 16h0m0 39h0m0 13h0m0 1h0m0 8h0m0 2h0m0 9h0m0 2h0m0 6h0m0 10h0m0 17h0m0 85h0m0 92h0m0 1h0m1-341h0m0 23h0m0 60h0m0 13h0m0 3h0m0 10h0m0 2h0m0 30h0m0 7h0m0 4h0m0 15h0m0 5h0m0 25h0m1-170h0m0 13h0m0 47h0m0 7h0m0 21h0m0 12h0m0 7h0m0 2h0m0 21h0m0 105h0m1-171h0m0 12h0m0 5h0m0 12h0m0 21h0m0 15h0m0 1h0m0 18h0m0 78h0m0 22h0m0 12h0m0 69h0m1-279h0m0 30h0m0 17h0m0 16h0m0 72h0m0 2h0m0 17h0m0 9h0m1-187h0m0 4h0m0 4h0m0 0h0m0 54h0m0 30h0m0 5h0m0 34h0m0 30h0m1-197h0m0 36h0m0 29h0m0 12h0m0 10h0m0 7h0m0 18h0m0 3h0m0 44h0m0 21h0m0 38h0m0 28h0m0 12h0m0 80h0m1-345h0m0 33h0m0 20h0m0 20h0m0 1h0m0 2h0m0 21h0m0 2h0m0 7h0m0 6h0m0 3h0m0 41h0m0 75h0m1-232h0m0 14h0m0 37h0m0 41h0m0 6h0m0 15h0m0 17h0m0 20h0m0 17h0m0 51h0m1-197h0m0 7h0m0 0h0m0 7h0m0 14h0m0 70h0m0 13h0m0 17h0m0 2h0m0 25h0m0 30h0m1-180h0m0 4h0m0 1h0m0 39h0m0 11h0m0 0h0m0 8h0m0 8h0m0 1h0m0 4h0m0 19h0m0 10h0m0 14h0m0 6h0m0 3h0m0 40h0m1-170h0m0 75h0m0 12h0m0 4h0m0 60h0m0 17h0m0 7h0m0 10h0m0 31h0m0 1h0m0 19h0m1-261h0m0 15h0m0 63h0m0 11h0m0 2h0m0 3h0m0 6h0m0 30h0m0 10h0m0 23h0m0 7h0m0 15h0m0 41h0m0 21h0m0 16h0m0 5h0m0 91h0m1-338h0m0 18h0m0 6h0m0 12h0m0 2h0m0 4h0m0 25h0m0 3h0m0 11h0m0 23h0m0 41h0m0 23h0m0 12h0m0 3h0m0 11h0m0 59h0m0 6h0m1-271h0m0 44h0m0 12h0m0 53h0m0 61h0m0 29h0m0 18h0m0 95h0m1-296h0m0 65h0m0 3h0m0 2h0m0 3h0m0 4h0m0 10h0m0 7h0m0 20h0m0 2h0m0 14h0m0 14h0m0 47h0m0 1h0m0 6h0m1-175h0m0 34h0m0 6h0m0 7h0m0 8h0m0 20h0m0 45h0m0 54h0m1-145h0m0 34h0m0 8h0m0 11h0m0 13h0m0 11h0m0 18h0m0 16h0m0 4h0m0 3h0m0 37h0m1-235h0m0 20h0m0 9h0m0 29h0m0 6h0m0 28h0m0 2h0m0 14h0m0 4h0m0 41h0m0 9h0m0 5h0m0 10h0m1-177h0m0 70h0m0 16h0m0 26h0m0 76h0m0 60h0m1-228h0m0 48h0m0 1h0m0 20h0m0 51h0m0 9h0m0 126h0m1-295h0m0 56h0m0 17h0m0 28h0m0 1h0m0 15h0m0 15h0m0 13h0m0 18h0m0 26h0m1-143h0m0 17h0m0 7h0m0 5h0m0 34h0m0 3h0m0 3h0m0 4h0m0 7h0m0 36h0m0 15h0m0 42h0m0 23h0m0 103h0m1-298h0m0 3h0m0 37h0m0 23h0m0 7h0m0 20h0m0 32h0m0 3h0m0 6h0m0 29h0m0 40h0m1-230h0m0 18h0m0 27h0m0 9h0m0 6h0m0 6h0m0 19h0m0 14h0m0 2h0m0 14h0m0 6h0m0 3h0m0 9h0m0 37h0m0 17h0m0 29h0m0 27h0m0 138h0m1-320h0m0 11h0m0 9h0m0 5h0m0 2h0m0 2h0m0 1h0m0 3h0m0 10h0m0 4h0m0 0h0m0 2h0m0 34h0m0 15h0m0 2h0m0 3h0m0 16h0m0 39h0m0 19h0m0 14h0m1-234h0m0 3h0m0 6h0m0 11h0m0 71h0m0 6h0m0 3h0m0 0h0m0 14h0m0 3h0m0 48h0m1-143h0m0 18h0m0 4h0m0 31h0m0 8h0m0 0h0m0 2h0m0 10h0m0 1h0m0 78h0m1-148h0m0 9h0m0 15h0m0 1h0m0 6h0m0 3h0m0 18h0m0 9h0m0 20h0m0 7h0m0 7h0m0 117h0m1-293h0m0 66h0m0 42h0m0 1h0m0 7h0m0 4h0m0 36h0m0 9h0m0 7h0m0 23h0m0 28h0m0 10h0m1-170h0m0 13h0m0 10h0m0 25h0m0 57h0m0 21h0m0 3h0m0 15h0m0 57h0m0 55h0m1-267h0m0 48h0m0 5h0m0 15h0m0 2h0m0 8h0m0 0h0m0 16h0m0 3h0m0 35h0m0 26h0m0 9h0m0 141h0m1-261h0m0 0h0m0 16h0m0 8h0m0 2h0m0 1h0m0 4h0m0 0h0m0 15h0m0 11h0m0 53h0m0 61h0m1-251h0m0 37h0m0 8h0m0 77h0m0 4h0m0 8h0m0 4h0m0 7h0m0 41h0m0 61h0m0 60h0m0 17h0m1-296h0m0 46h0m0 10h0m0 14h0m0 2h0m0 3h0m0 9h0m0 19h0m0 44h0m0 108h0m1-209h0m0 3h0m0 70h0m0 14h0m0 5h0m0 41h0m0 24h0m1-206h0m0 13h0m0 14h0m0 18h0m0 13h0m0 23h0m0 8h0m0 15h0m0 13h0m0 30h0m0 128h0m1-210h0m0 1h0m0 8h0m0 5h0m0 3h0m0 10h0m0 10h0m0 10h0m0 29h0m0 19h0m0 12h0m0 51h0m0 18h0m0 94h0m1-340h0m0 25h0m0 46h0m0 11h0m0 5h0m0 13h0m0 5h0m0 5h0m0 11h0m0 3h0m0 64h0m0 31h0m0 1h0m0 12h0m0 18h0m1-240h0m0 9h0m0 15h0m0 22h0m0 48h0m0 14h0m0 2h0m0 9h0m0 11h0m0 5h0m0 15h0m0 120h0m0 10h0m0 49h0m1-318h0m0 53h0m0 15h0m0 24h0m0 45h0m0 6h0m0 67h0m0 78h0m0 14h0m0 44h0m1-330h0m0 14h0m0 24h0m0 23h0m0 10h0m0 42h0m0 7h0m0 26h0m0 170h0m1-295h0m0 5h0m0 1h0m0 29h0m0 13h0m0 8h0m0 2h0m0 28h0m0 36h0m0 40h0m0 1h0m0 96h0m1-326h0m0 26h0m0 17h0m0 27h0m0 1h0m0 15h0m0 15h0m0 36h0m0 47h0m0 31h0m1-199h0m0 32h0m0 9h0m0 20h0m0 0h0m0 4h0m0 11h0m0 3h0m0 1h0m0 26h0m0 47h0m0 7h0m0 30h0m0 3h0m0 48h0m1-240h0m0 32h0m0 7h0m0 0h0m0 9h0m0 5h0m0 2h0m0 3h0m0 11h0m0 44h0m0 10h0m0 57h0m0 37h0m1-200h0m0 2h0m0 40h0m0 17h0m0 9h0m0 2h0m0 28h0m0 28h0m0 3h0m0 76h0m1-217h0m0 57h0m0 4h0m0 11h0m0 10h0m0 9h0m0 41h0m0 27h0m0 16h0m1-142h0m0 18h0m0 3h0m0 6h0m0 1h0m0 2h0m0 14h0m0 3h0m0 22h0m0 14h0m0 2h0m0 87h0m0 13h0m1-216h0m0 40h0m0 6h0m0 19h0m0 1h0m0 38h0m0 45h0m0 4h0m0 41h0m1-195h0m0 23h0m0 57h0m0 1h0m0 1h0m0 5h0m0 56h0m0 38h0m0 2h0m0 34h0m0 12h0m1-192h0m0 14h0m0 30h0m0 9h0m0 27h0m0 4h0m0 39h0m0 22h0m1-134h0m0 2h0m0 38h0m0 27h0m0 11h0m1-124h0m0 15h0m0 13h0m0 17h0m0 30h0m0 5h0m0 5h0m0 37h0m1-101h0m0 25h0m0 203h0m1-251h0m0 24h0m0 27h0m0 4h0m0 16h0m0 0h0m0 1h0m0 2h0m0 13h0m0 78h0m0 2h0m0 10h0m0 42h0m0 13h0m0 70h0m1-296h0m0 21h0m0 4h0m0 38h0m0 2h0m0 12h0m0 22h0m0 25h0m0 82h0m1-229h0m0 29h0m0 5h0m0 4h0m0 16h0m0 16h0m0 3h0m0 12h0m0 61h0m0 10h0m0 13h0m0 20h0m1-186h0m0 84h0m0 21h0m0 50h0m0 34h0m0 20h0m1-205h0m0 43h0m0 3h0m0 43h0m0 1h0m0 1h0m0 10h0m1-126h0m0 68h0m0 16h0m0 1h0m0 15h0m0 4h0m0 14h0m0 1h0m0 1h0m0 128h0m0 4h0m0 97h0m1-310h0m0 5h0m0 28h0m0 2h0m0 36h0m0 2h0m0 23h0m1-53h0m0 52h0m0 7h0m0 11h0m0 16h0m0 4h0m1-150h0m0 26h0m0 5h0m0 5h0m0 12h0m0 2h0m0 6h0m0 13h0m0 41h0m0 1h0m0 1h0m0 55h0m0 44h0m1-185h0m0 2h0m0 30h0m0 4h0m0 7h0m0 24h0m0 14h0m0 13h0m0 53h0m0 2h0m1-151h0m0 94h0m0 9h0m0 23h0m0 26h0m1-154h0m0 59h0m0 59h0m0 32h0m0 307h0m1-473h0m0 21h0m0 55h0m0 2h0m0 6h0m0 3h0m0 13h0m0 18h0m0 24h0m0 70h0m1-239h0m0 31h0m0 27h0m0 9h0m0 8h0m0 25h0m0 11h0m0 22h0m0 5h0m0 49h0m1-169h0m0 1h0m0 6h0m0 16h0m0 107h0m0 5h0m0 54h0m0 20h0m0 10h0m0 64h0m1-278h0m0 8h0m0 5h0m0 121h0m0 0h0m0 12h0m1-122h0m0 13h0m0 10h0m0 22h0m0 3h0m0 55h0m0 61h0m0 52h0m1-247h0m0 22h0m0 6h0m0 23h0m0 2h0m0 0h0m0 4h0m0 3h0m0 16h0m0 1h0m0 3h0m0 7h0m0 7h0m0 20h0m0 0h0m0 1h0m0 81h0m0 65h0m1-256h0m0 17h0m0 11h0m0 6h0m0 9h0m0 38h0m0 7h0m0 15h0m0 7h0m0 21h0m0 117h0m1-266h0m0 27h0m0 51h0m0 12h0m0 17h0m0 31h0m0 18h0m0 19h0m1-163h0m0 20h0m0 62h0m0 21h0m0 71h0m1-182h0m0 11h0m0 29h0m0 44h0m0 7h0m0 46h0m0 3h0m0 75h0m0 9h0m1-205h0m0 16h0m0 21h0m0 10h0m0 6h0m0 4h0m0 5h0m0 78h0m0 8h0m1-140h0m0 4h0m0 57h0m0 27h0m0 9h0m0 19h0m0 28h0m0 129h0m1-298h0m0 49h0m0 17h0m0 0h0m0 67h0m0 10h0m0 22h0m1-106h0m0 1h0m0 17h0m0 18h0m0 8h0m0 48h0m1-124h0m0 1h0m0 28h0m0 59h0m0 39h0m0 29h0m0 4h0m0 95h0m1-281h0m0 23h0m0 14h0m0 0h0m0 22h0m0 5h0m0 9h0m0 27h0m0 18h0m0 1h0m0 2h0m0 17h0m0 27h0m1-146h0m0 19h0m0 30h0m0 2h0m0 1h0m0 13h0m0 1h0m0 74h0m0 41h0m1-194h0m0 19h0m0 24h0m0 6h0m0 47h0m0 47h0m1-127h0m0 27h0m0 3h0m0 9h0m0 5h0m0 6h0m0 3h0m0 23h0m0 68h0m0 0h0m1-140h0m0 16h0m0 24h0m0 3h0m0 50h0m0 13h0m0 110h0m1-251h0m0 46h0m0 5h0m0 19h0m0 4h0m0 36h0m0 7h0m0 43h0m0 16h0m0 9h0m1-169h0m0 48h0m0 24h0m0 3h0m0 3h0m0 53h0m0 51h0m1-133h0m0 16h0m0 12h0m0 123h0m1-173h0m0 35h0m0 16h0m0 12h0m1-59h0m0 1h0m0 10h0m0 60h0m0 61h0m0 22h0m1-158h0m0 11h0m0 2h0m0 3h0m0 2h0m0 14h0m0 172h0m1-236h0m0 11h0m0 27h0m0 5h0m0 1h0m0 4h0m0 39h0m0 30h0m0 55h0m1-157h0m0 13h0m0 3h0m0 14h0m0 8h0m1-55h0m0 6h0m0 23h0m0 2h0m0 22h0m0 18h0m0 19h0m0 24h0m0 37h0m0 5h0m1-152h0m0 11h0m0 65h0m0 48h0m0 22h0m0 41h0m1-163h0m0 2h0m0 3h0m0 20h0m0 8h0m0 10h0m0 2h0m0 49h0m0 4h0m0 115h0m1-193h0m0 90h0m1-123h0m0 4h0m0 13h0m0 2h0m0 2h0m0 4h0m0 6h0m0 44h0m0 14h0m0 94h0m0 5h0m0 122h0m1-319h0m0 4h0m0 23h0m0 3h0m0 2h0m0 5h0m0 4h0m0 12h0m0 3h0m0 19h0m0 95h0m1-162h0m0 12h0m0 2h0m0 4h0m0 1h0m0 23h0m0 20h0m0 16h0m1-67h0m0 27h0m0 108h0m0 4h0m1-135h0m0 4h0m0 0h0m0 4h0m0 2h0m0 11h0m0 22h0m0 34h0m0 5h0m1-113h0m0 28h0m0 1h0m0 8h0m0 3h0m0 44h0m0 26h0m1-81h0m0 4h0m0 26h0m0 17h0m0 21h0m0 24h0m1-114h0m0 124h0m1-132h0m0 11h0m0 14h0m0 5h0m0 43h0m0 7h0m1-15h0m0 13h0m0 21h0m0 114h0m1-216h0m0 13h0m0 36h0m0 5h0m0 1h0m0 6h0m0 25h0m0 75h0m1-164h0m0 19h0m0 8h0m0 1h0m0 2h0m0 1h0m0 8h0m0 5h0m0 40h0m0 10h0m0 54h0m1-122h0m0 8h0m0 11h0m0 11h0m0 68h0m0 30h0m1-148h0m0 7h0m0 82h0m0 34h0m0 50h0m1-157h0m0 24h0m0 2h0m0 43h0m1-78h0m0 1h0m0 8h0m2-5h0m0 1h0m0 63h0m0 43h0m1-93h0m1 0h0m0 6h0m0 3h0m0 3h0m0 19h0m0 17h0m0 49h0m1-128h0m0 12h0m0 7h0m0 31h0m0 11h0m0 0h0m0 22h0m0 3h0m0 87h0m1-174h0m0 20h0m0 5h0m0 20h0m0 30h0m0 25h0m1-84h0m0 2h0m0 5h0m0 11h0m0 85h0m0 14h0m1-75h0m0 15h0m0 135h0m1-169h0m0 7h0m0 92h0m0 8h0m1-104h0m0 57h0m1-89h0m0 2h0m0 14h0m0 1h0m0 1h0m0 3h0m0 13h0m1-34h0m0 65h0m0 24h0m1-90h0m0 4h0m0 2h0m0 6h0m0 114h0m1-130h0m0 1h0m0 7h0m0 5h0m0 6h0m0 16h0m0 133h0m0 2h0m1-170h0m0 1h0m0 15h0m0 25h0m0 27h0m1-51h0m0 1h0m1 153h0m1-163h0m0 129h0m2-124h0m0 9h0m0 76h0m1-51h0m0 34h0m1-86h0m0 10h0m0 1h0m0 6h0m0 29h0m0 10h0m1-13h0m0 33h0m1-35h0m0 6h0m1-43h0m1 12h0m0 50h0m3-5h0m14 163h0"/>
<rect x="255.5" y="162.8" width="116.6" height="111.6" fill="#fff" stroke="#a8a8a8" stroke-width="1"/><path d="M267.6 261H367.2M267.6 242.26H367.2M267.6 223.52H367.2M267.6 204.78H367.2M267.6 186.04H367.2M267.6 167.3H367.2" stroke="#dadada" stroke-width="0.9" fill="none"/><path d="M268.4 167.3V261" stroke="#c4c4c4" stroke-width="0.8" fill="none"/><text x="265.4" y="262.3" class="sy">0</text><text x="265.4" y="243.56" class="sy">0.2</text><text x="265.4" y="224.82" class="sy">0.4</text><text x="265.4" y="206.08" class="sy">0.6</text><text x="265.4" y="187.34" class="sy">0.8</text><text x="265.4" y="168.6" class="sy">1</text><text x="268.2" y="268.3" class="sx">0</text><text x="317.2" y="268.3" class="sx">0.5</text><text x="366.2" y="268.3" class="sx">1</text>
<polygon class="c3" points="269.35,258.76 269.34,258.55 269.45,258.21 269.65,257.71 269.95,257.04 270.33,256.23 270.8,255.27 271.35,254.19 271.99,253.02 272.71,251.78 273.52,250.49 274.44,249.3 275.62,248.54 276.87,247.83 278.18,247.19 279.54,246.62 280.94,246.13 282.35,245.72 283.76,245.39 285.16,245.16 286.53,245.02 287.86,244.97 289.12,245.03 290.32,245.17 291.43,245.41 292.44,245.74 293.35,246.15 294.13,246.65 294.79,247.23 295.32,247.87 295.7,248.58 295.94,249.35 296.03,250.16 295.98,251.01 295.77,251.89 295.42,252.79 294.93,253.7 294.31,254.61 293.55,255.51 292.68,256.39 291.69,257.24 290.61,258.05 289.43,258.81 288.18,259.03 286.87,259.03 285.5,259.03 284.11,259.03 282.7,259.03 281.29,259.03 279.89,259.03 278.36,259.03 276.85,259.03 275.42,259.03 274.11,259.03 272.93,259.03 271.9,259.03 271.03,259.03 270.33,259.03 269.82,259.03 269.5,258.92"/>
<polygon class="c3" points="360.48,174.24 360.83,174.64 361.1,175.14 361.3,175.73 361.43,176.42 361.5,177.21 361.52,178.08 361.48,179.04 361.38,180.07 361.11,181.05 360.69,181.99 360.18,182.93 359.59,183.86 358.92,184.77 358.19,185.65 357.39,186.49 356.53,187.28 355.64,188.02 354.71,188.69 353.76,189.29 352.79,189.81 351.83,190.24 350.87,190.58 349.93,190.83 349.02,190.99 348.15,191.05 347.32,191 346.56,190.86 345.86,190.63 345.23,190.3 344.69,189.87 344.23,189.37 343.86,188.78 343.59,188.12 343.41,187.39 343.34,186.61 343.37,185.77 343.5,184.9 343.73,183.99 344.05,183.06 344.47,182.12 344.98,181.18 345.57,180.25 346.24,179.34 346.98,178.46 347.78,177.62 348.63,176.83 349.52,176.09 350.45,175.42 351.41,174.82 352.37,174.31 353.34,173.87 354.36,173.58 355.43,173.45 356.42,173.38 357.34,173.36 358.16,173.4 358.89,173.51 359.51,173.68 360.04,173.92"/>
<path class="p3" transform="scale(.1)" d="M2689 2524h0m0 62h0m0 2h0m0 1h0m0 1h0m1-78h0m0 48h0m0 1h0m0 0h0m0 4h0m0 3h0m0 1h0m0 0h0m0 9h0m0 2h0m0 1h0m0 4h0m0 0h0m0 2h0m0 1h0m0 1h0m0 2h0m0 0h0m1-61h0m0 12h0m0 12h0m0 4h0m0 3h0m0 3h0m0 3h0m0 12h0m0 1h0m0 1h0m0 2h0m0 2h0m0 1h0m0 0h0m0 3h0m0 0h0m0 2h0m0 0h0m1-48h0m0 12h0m0 23h0m0 3h0m0 10h0m1-22h0m0 0h0m0 4h0m0 12h0m0 2h0m1-58h0m0 18h0m0 3h0m0 4h0m0 16h0m0 4h0m0 2h0m0 3h0m0 8h0m0 3h0m1-97h0m0 46h0m0 22h0m0 2h0m0 0h0m0 2h0m0 0h0m0 10h0m0 2h0m0 1h0m0 2h0m0 1h0m0 10h0m1-278h0m0 219h0m0 4h0m0 20h0m0 8h0m0 4h0m0 1h0m0 11h0m0 6h0m0 0h0m0 1h0m0 1h0m0 3h0m1-63h0m0 4h0m0 14h0m0 17h0m0 12h0m0 12h0m0 1h0m1-46h0m0 25h0m0 5h0m0 0h0m0 18h0m1-166h0m0 81h0m0 55h0m0 2h0m0 2h0m0 10h0m0 1h0m0 9h0m0 3h0m0 1h0m0 0h0m1-122h0m0 92h0m0 3h0m0 5h0m0 4h0m0 7h0m0 5h0m0 1h0m0 1h0m1-115h0m0 73h0m0 14h0m0 0h0m0 14h0m0 13h0m0 0h0m1-100h0m0 7h0m0 30h0m0 16h0m0 10h0m0 8h0m0 9h0m0 1h0m0 10h0m0 5h0m0 1h0m0 6h0m1-148h0m0 83h0m0 5h0m0 38h0m0 3h0m0 1h0m0 3h0m0 0h0m0 6h0m0 2h0m0 5h0m0 2h0m0 2h0m1-51h0m0 35h0m0 19h0m1-94h0m0 13h0m0 27h0m0 5h0m0 8h0m0 5h0m0 10h0m0 2h0m0 4h0m0 5h0m0 9h0m1-165h0m0 120h0m0 4h0m0 18h0m0 1h0m0 21h0m0 5h0m1-181h0m0 47h0m0 32h0m0 72h0m0 5h0m0 4h0m0 3h0m0 9h0m1-117h0m0 18h0m0 77h0m0 4h0m0 12h0m0 4h0m0 4h0m0 1h0m0 1h0m1-34h0m0 13h0m0 2h0m0 5h0m0 13h0m0 5h0m1-75h0m0 24h0m0 37h0m0 9h0m0 2h0m1-81h0m0 44h0m0 2h0m0 22h0m0 9h0m0 1h0m0 4h0m0 1h0m0 4h0m1-194h0m0 139h0m0 13h0m0 1h0m0 0h0m0 11h0m0 22h0m0 2h0m0 2h0m0 1h0m1-73h0m0 49h0m0 8h0m0 11h0m0 1h0m0 5h0m0 1h0m1-47h0m0 13h0m0 1h0m0 4h0m0 6h0m0 18h0m0 1h0m0 2h0m0 2h0m1-124h0m0 51h0m0 18h0m0 12h0m0 22h0m0 3h0m0 3h0m1-101h0m0 76h0m0 12h0m0 1h0m0 19h0m0 1h0m0 4h0m1-127h0m0 32h0m0 53h0m0 2h0m0 14h0m0 2h0m0 5h0m0 5h0m0 14h0m1-159h0m0 92h0m0 13h0m0 27h0m0 11h0m0 16h0m1-128h0m0 60h0m0 22h0m0 40h0m1-104h0m0 70h0m0 2h0m0 6h0m0 2h0m0 2h0m0 10h0m0 10h0m0 7h0m1-144h0m0 115h0m0 6h0m0 13h0m0 13h0m1-109h0m0 4h0m0 0h0m0 7h0m0 30h0m0 14h0m0 0h0m0 0h0m0 6h0m0 2h0m0 1h0m0 6h0m1-51h0m0 8h0m0 4h0m0 50h0m0 9h0m0 2h0m1-108h0m0 47h0m0 22h0m0 24h0m0 12h0m0 5h0m0 0h0m0 7h0m0 6h0m1-201h0m0 49h0m0 7h0m0 63h0m0 31h0m0 8h0m0 15h0m0 22h0m0 5h0m0 2h0m0 1h0m1-102h0m0 24h0m0 34h0m0 9h0m0 3h0m0 10h0m0 9h0m0 5h0m1-123h0m0 17h0m0 6h0m0 6h0m0 10h0m0 48h0m0 8h0m0 19h0m0 4h0m0 0h0m0 11h0m1-165h0m0 75h0m0 4h0m0 9h0m0 50h0m0 1h0m0 30h0m1-165h0m0 26h0m0 42h0m0 37h0m0 36h0m0 5h0m0 5h0m0 9h0m0 1h0m1-153h0m0 14h0m0 2h0m0 19h0m0 10h0m0 19h0m0 11h0m0 37h0m0 3h0m0 1h0m0 18h0m0 6h0m0 7h0m1-246h0m0 85h0m0 44h0m0 7h0m0 8h0m0 42h0m0 10h0m0 5h0m0 5h0m0 8h0m0 0h0m0 6h0m0 7h0m0 1h0m0 27h0m1-142h0m0 10h0m0 33h0m0 16h0m0 1h0m0 2h0m0 10h0m0 4h0m0 23h0m0 4h0m0 4h0m0 7h0m0 3h0m0 1h0m0 25h0m0 0h0m1-140h0m0 6h0m0 5h0m0 50h0m0 1h0m0 10h0m0 3h0m0 20h0m0 2h0m0 4h0m0 8h0m0 5h0m0 0h0m0 3h0m1-55h0m0 16h0m0 18h0m0 11h0m0 4h0m0 7h0m1-56h0m0 9h0m0 15h0m0 9h0m0 3h0m0 10h0m0 3h0m0 4h0m0 20h0m1-50h0m0 12h0m0 16h0m0 12h0m0 6h0m0 4h0m1-122h0m0 27h0m0 6h0m0 17h0m0 34h0m0 25h0m0 10h0m0 0h0m0 4h0m0 3h0m1-308h0m0 74h0m0 40h0m0 64h0m0 20h0m0 63h0m0 20h0m0 8h0m1-147h0m0 74h0m0 3h0m0 12h0m0 2h0m0 21h0m0 1h0m0 2h0m0 9h0m0 9h0m0 21h0m1-240h0m0 94h0m0 70h0m0 8h0m0 3h0m0 13h0m0 4h0m0 19h0m0 11h0m0 6h0m0 11h0m0 9h0m1-102h0m0 11h0m0 15h0m0 49h0m0 15h0m1-125h0m0 24h0m0 35h0m0 29h0m0 2h0m0 19h0m0 4h0m0 11h0m0 0h0m0 15h0m1-134h0m0 31h0m0 13h0m0 6h0m0 22h0m0 15h0m0 23h0m0 1h0m0 21h0m0 3h0m1-201h0m0 61h0m0 26h0m0 10h0m0 4h0m0 5h0m0 2h0m0 28h0m0 35h0m0 2h0m0 9h0m0 20h0m1-163h0m0 18h0m0 56h0m0 12h0m0 8h0m0 9h0m0 41h0m0 3h0m0 6h0m0 2h0m1-267h0m0 101h0m0 24h0m0 18h0m0 45h0m0 6h0m0 6h0m0 7h0m0 46h0m0 7h0m0 7h0m0 7h0m0 1h0m1-102h0m0 14h0m0 4h0m0 56h0m0 1h0m0 17h0m1-107h0m0 18h0m0 27h0m0 0h0m0 9h0m0 16h0m0 9h0m0 3h0m0 0h0m0 4h0m0 1h0m0 3h0m0 6h0m0 15h0m0 6h0m1-218h0m0 70h0m0 2h0m0 7h0m0 21h0m0 48h0m0 22h0m0 1h0m0 13h0m0 3h0m0 17h0m0 7h0m0 4h0m1-239h0m0 83h0m0 87h0m0 1h0m0 0h0m0 10h0m0 1h0m0 21h0m0 9h0m0 9h0m0 8h0m1-109h0m0 9h0m0 28h0m0 2h0m0 37h0m0 9h0m1-104h0m0 31h0m0 7h0m0 15h0m0 15h0m0 2h0m0 7h0m0 21h0m0 15h0m0 15h0m0 1h0m0 13h0m1-133h0m0 7h0m0 19h0m0 8h0m0 11h0m0 20h0m0 42h0m0 8h0m0 5h0m0 2h0m1-118h0m0 20h0m0 2h0m0 10h0m0 31h0m0 30h0m0 16h0m0 3h0m1-98h0m0 53h0m0 1h0m0 12h0m1-112h0m0 55h0m0 17h0m0 55h0m0 12h0m0 9h0m0 3h0m0 6h0m1-267h0m0 142h0m0 49h0m0 1h0m0 17h0m0 41h0m0 21h0m1-257h0m0 53h0m0 23h0m0 61h0m0 20h0m0 10h0m0 21h0m0 2h0m1-127h0m0 51h0m0 22h0m0 3h0m0 37h0m0 4h0m0 1h0m0 0h0m0 0h0m0 2h0m0 9h0m0 4h0m0 9h0m0 2h0m0 17h0m1-120h0m0 29h0m0 50h0m0 13h0m0 0h0m0 12h0m0 7h0m0 11h0m0 22h0m1-142h0m0 53h0m0 2h0m0 3h0m0 1h0m0 6h0m0 1h0m0 4h0m0 3h0m0 29h0m0 10h0m0 39h0m1-442h0m0 204h0m0 53h0m0 6h0m0 34h0m0 33h0m0 22h0m0 8h0m0 23h0m0 2h0m0 2h0m0 6h0m0 15h0m0 2h0m0 8h0m0 8h0m0 2h0m0 12h0m1-295h0m0 70h0m0 71h0m0 39h0m0 22h0m0 16h0m0 1h0m0 4h0m0 27h0m0 22h0m1-160h0m0 1h0m0 76h0m0 8h0m0 13h0m0 15h0m0 2h0m0 32h0m0 16h0m0 11h0m1-224h0m0 73h0m0 8h0m0 19h0m0 3h0m0 26h0m0 13h0m0 1h0m0 7h0m0 0h0m0 5h0m0 2h0m0 7h0m0 29h0m0 4h0m0 11h0m0 20h0m0 2h0m1-230h0m0 34h0m0 72h0m0 22h0m0 9h0m0 11h0m0 21h0m0 13h0m0 1h0m0 20h0m0 2h0m1-172h0m0 46h0m0 17h0m0 10h0m0 21h0m0 21h0m0 1h0m0 3h0m0 0h0m0 1h0m0 15h0m0 0h0m0 9h0m0 7h0m0 20h0m0 11h0m0 6h0m0 1h0m1-140h0m0 97h0m0 3h0m0 17h0m1-216h0m0 20h0m0 28h0m0 0h0m0 93h0m0 24h0m0 6h0m0 4h0m0 19h0m0 8h0m0 1h0m0 1h0m1-191h0m0 44h0m0 71h0m0 35h0m0 0h0m0 21h0m0 8h0m0 12h0m0 9h0m0 12h0m1-217h0m0 84h0m0 8h0m0 3h0m0 9h0m0 12h0m0 24h0m0 5h0m0 10h0m0 17h0m0 36h0m0 3h0m0 5h0m0 4h0m1-101h0m0 7h0m0 28h0m0 0h0m0 3h0m0 9h0m0 16h0m0 1h0m0 2h0m0 48h0m1-193h0m0 72h0m0 27h0m0 8h0m0 5h0m0 12h0m0 3h0m0 2h0m0 1h0m0 6h0m0 2h0m0 22h0m0 17h0m0 21h0m1-309h0m0 109h0m0 68h0m0 2h0m0 7h0m0 40h0m0 9h0m0 15h0m0 3h0m0 3h0m0 19h0m0 15h0m0 3h0m0 7h0m0 3h0m1-234h0m0 34h0m0 33h0m0 20h0m0 27h0m0 9h0m0 21h0m0 1h0m0 11h0m0 73h0m0 0h0m0 13h0m0 0h0m1-306h0m0 117h0m0 22h0m0 19h0m0 9h0m0 11h0m0 23h0m0 0h0m0 21h0m0 4h0m0 28h0m0 2h0m1-42h0m0 14h0m0 7h0m0 16h0m0 2h0m0 1h0m0 4h0m0 2h0m0 0h0m0 2h0m0 0h0m0 2h0m0 2h0m0 2h0m0 20h0m1-108h0m0 17h0m0 12h0m0 23h0m0 11h0m0 8h0m0 10h0m0 4h0m0 25h0m0 9h0m0 2h0m1-150h0m0 21h0m0 10h0m0 12h0m0 2h0m0 27h0m0 3h0m0 42h0m0 2h0m0 4h0m0 5h0m0 12h0m1-118h0m0 14h0m0 3h0m0 9h0m0 6h0m0 4h0m0 28h0m0 0h0m0 1h0m0 14h0m0 11h0m0 2h0m0 25h0m0 3h0m0 15h0m0 2h0m1-231h0m0 39h0m0 42h0m0 8h0m0 11h0m0 0h0m0 19h0m0 2h0m0 10h0m0 23h0m0 10h0m0 2h0m0 3h0m0 5h0m0 2h0m0 8h0m0 3h0m0 4h0m0 11h0m0 25h0m1-412h0m0 104h0m0 200h0m0 26h0m0 6h0m0 2h0m0 10h0m0 9h0m0 2h0m0 6h0m0 8h0m0 10h0m1-407h0m0 207h0m0 37h0m0 46h0m0 7h0m0 6h0m0 25h0m0 18h0m0 2h0m0 2h0m0 5h0m0 3h0m0 6h0m0 3h0m0 4h0m0 2h0m0 30h0m0 24h0m0 2h0m1-175h0m0 8h0m0 57h0m0 37h0m0 7h0m0 24h0m0 3h0m0 2h0m0 20h0m0 4h0m0 11h0m1-141h0m0 19h0m0 15h0m0 23h0m0 19h0m0 12h0m0 3h0m0 7h0m0 0h0m0 2h0m0 3h0m0 6h0m0 18h0m0 2h0m0 15h0m1-149h0m0 10h0m0 12h0m0 34h0m0 5h0m0 10h0m0 2h0m0 11h0m0 3h0m0 4h0m0 5h0m0 31h0m0 5h0m1-192h0m0 2h0m0 45h0m0 34h0m0 6h0m0 7h0m0 4h0m0 3h0m0 1h0m0 12h0m0 0h0m0 9h0m0 18h0m0 2h0m0 5h0m0 1h0m0 3h0m0 12h0m0 4h0m0 0h0m0 1h0m0 9h0m0 5h0m0 1h0m0 8h0m0 4h0m1-145h0m0 39h0m0 22h0m0 11h0m0 7h0m0 2h0m0 16h0m0 6h0m0 11h0m0 6h0m0 2h0m0 9h0m0 1h0m0 5h0m0 1h0m0 7h0m0 4h0m0 18h0m1-376h0m0 83h0m0 170h0m0 19h0m0 15h0m0 7h0m0 2h0m0 3h0m0 13h0m0 4h0m0 3h0m0 16h0m0 13h0m0 2h0m0 3h0m0 7h0m0 7h0m1-185h0m0 16h0m0 3h0m0 3h0m0 26h0m0 33h0m0 7h0m0 11h0m0 4h0m0 8h0m0 4h0m0 8h0m0 3h0m0 4h0m0 0h0m0 7h0m0 2h0m0 8h0m0 2h0m0 9h0m0 15h0m1-136h0m0 43h0m0 8h0m0 4h0m0 5h0m0 2h0m0 5h0m0 33h0m0 5h0m0 16h0m0 7h0m0 5h0m0 5h0m0 1h0m0 0h0m0 9h0m0 2h0m1-191h0m0 68h0m0 1h0m0 21h0m0 11h0m0 16h0m0 1h0m0 1h0m0 1h0m0 11h0m0 2h0m0 5h0m0 2h0m0 2h0m0 20h0m0 10h0m0 0h0m0 2h0m1-108h0m0 20h0m0 4h0m0 3h0m0 2h0m0 5h0m0 10h0m0 9h0m0 4h0m0 4h0m0 10h0m0 5h0m0 1h0m0 26h0m0 10h0m1-96h0m0 11h0m0 12h0m0 0h0m0 1h0m0 32h0m0 8h0m0 10h0m0 2h0m0 14h0m0 1h0m0 8h0m0 9h0m1-118h0m0 2h0m0 23h0m0 29h0m0 3h0m0 12h0m0 0h0m0 12h0m0 19h0m0 8h0m0 12h0m0 1h0m0 1h0m0 2h0m1-489h0m0 229h0m0 125h0m0 19h0m0 11h0m0 7h0m0 2h0m0 7h0m0 36h0m0 6h0m0 23h0m0 1h0m0 6h0m0 17h0m1-380h0m0 140h0m0 77h0m0 5h0m0 54h0m0 1h0m0 5h0m0 12h0m0 3h0m0 1h0m0 10h0m0 0h0m0 1h0m0 2h0m0 3h0m0 3h0m0 36h0m0 2h0m0 24h0m1-275h0m0 46h0m0 19h0m0 53h0m0 24h0m0 52h0m0 0h0m0 1h0m0 7h0m0 6h0m0 2h0m0 2h0m0 3h0m0 4h0m0 3h0m0 4h0m0 9h0m0 27h0m1-154h0m0 41h0m0 24h0m0 6h0m0 9h0m0 5h0m0 0h0m0 11h0m0 9h0m0 11h0m0 0h0m0 24h0m0 1h0m0 3h0m0 6h0m0 3h0m0 7h0m1-182h0m0 59h0m0 14h0m0 7h0m0 6h0m0 21h0m0 1h0m0 12h0m0 1h0m0 27h0m0 9h0m0 9h0m0 15h0m0 9h0m1-208h0m0 74h0m0 4h0m0 3h0m0 28h0m0 4h0m0 9h0m0 10h0m0 14h0m0 5h0m0 11h0m0 2h0m0 9h0m0 2h0m0 13h0m1-233h0m0 101h0m0 8h0m0 0h0m0 54h0m0 77h0m0 0h0m1-251h0m0 68h0m0 28h0m0 42h0m0 1h0m0 5h0m0 10h0m0 3h0m0 10h0m0 3h0m0 2h0m0 11h0m0 1h0m0 5h0m0 10h0m0 43h0m0 3h0m0 8h0m1-242h0m0 41h0m0 50h0m0 9h0m0 7h0m0 1h0m0 29h0m0 2h0m0 19h0m0 5h0m0 17h0m0 10h0m0 7h0m0 1h0m0 9h0m0 1h0m0 16h0m1-198h0m0 121h0m0 21h0m0 16h0m0 12h0m0 7h0m0 11h0m0 5h0m0 3h0m0 1h0m0 4h0m0 4h0m0 5h0m0 8h0m1-194h0m0 38h0m0 26h0m0 37h0m0 6h0m0 12h0m0 8h0m0 5h0m0 2h0m0 9h0m0 5h0m0 2h0m0 10h0m0 15h0m0 13h0m0 5h0m1-199h0m0 55h0m0 37h0m0 27h0m0 0h0m0 2h0m0 5h0m0 6h0m0 22h0m0 30h0m0 9h0m0 12h0m1-226h0m0 1h0m0 12h0m0 40h0m0 29h0m0 21h0m0 3h0m0 21h0m0 22h0m0 0h0m0 5h0m0 2h0m0 4h0m0 2h0m0 14h0m0 7h0m0 11h0m0 3h0m0 13h0m0 8h0m0 13h0m1-201h0m0 46h0m0 28h0m0 3h0m0 13h0m0 14h0m0 9h0m0 13h0m0 4h0m0 6h0m0 7h0m0 1h0m0 7h0m0 6h0m0 6h0m0 3h0m0 3h0m0 4h0m0 11h0m0 6h0m0 2h0m1-102h0m0 11h0m0 23h0m0 7h0m0 0h0m0 4h0m0 6h0m0 8h0m0 0h0m0 6h0m0 11h0m0 29h0m0 6h0m1-137h0m0 26h0m0 20h0m0 4h0m0 1h0m0 4h0m0 17h0m0 0h0m0 43h0m0 5h0m0 1h0m0 7h0m1-190h0m0 75h0m0 11h0m0 33h0m0 3h0m0 13h0m0 25h0m0 1h0m0 19h0m0 3h0m0 4h0m0 1h0m0 10h0m1-116h0m0 12h0m0 22h0m0 3h0m0 2h0m0 1h0m0 5h0m0 13h0m0 5h0m0 7h0m0 1h0m0 2h0m0 9h0m0 8h0m0 6h0m0 0h0m0 16h0m0 4h0m0 1h0m1-562h0m0 343h0m0 10h0m0 67h0m0 11h0m0 59h0m0 6h0m0 3h0m0 2h0m0 14h0m0 0h0m0 4h0m0 0h0m0 3h0m0 0h0m0 10h0m0 3h0m0 5h0m0 4h0m0 6h0m0 12h0m1-249h0m0 116h0m0 12h0m0 24h0m0 4h0m0 0h0m0 4h0m0 16h0m0 6h0m0 38h0m0 5h0m1-133h0m0 1h0m0 3h0m0 16h0m0 7h0m0 12h0m0 1h0m0 12h0m0 2h0m0 8h0m0 7h0m0 1h0m0 6h0m0 2h0m0 12h0m0 22h0m0 3h0m0 10h0m0 5h0m0 16h0m0 3h0m1-216h0m0 86h0m0 2h0m0 1h0m0 14h0m0 37h0m0 0h0m0 3h0m0 2h0m0 16h0m0 10h0m0 0h0m0 7h0m0 4h0m0 2h0m0 1h0m0 9h0m0 10h0m0 5h0m0 5h0m0 4h0m0 6h0m1-248h0m0 84h0m0 32h0m0 13h0m0 10h0m0 8h0m0 4h0m0 13h0m0 10h0m0 1h0m0 4h0m0 25h0m0 2h0m0 41h0m1-229h0m0 25h0m0 4h0m0 27h0m0 69h0m0 5h0m0 10h0m0 11h0m0 2h0m0 2h0m0 3h0m0 7h0m0 5h0m0 1h0m0 1h0m0 3h0m0 16h0m0 1h0m1-221h0m0 20h0m0 7h0m0 68h0m0 28h0m0 2h0m0 14h0m0 22h0m0 2h0m0 4h0m0 14h0m0 23h0m0 2h0m0 1h0m0 18h0m0 3h0m0 10h0m0 11h0m1-340h0m0 68h0m0 20h0m0 65h0m0 55h0m0 0h0m0 31h0m0 1h0m0 3h0m0 2h0m0 1h0m0 11h0m0 6h0m0 8h0m0 25h0m0 5h0m0 12h0m0 2h0m0 1h0m0 17h0m0 9h0m0 9h0m1-156h0m0 19h0m0 11h0m0 10h0m0 6h0m0 1h0m0 2h0m0 1h0m0 14h0m0 5h0m0 16h0m0 13h0m0 2h0m0 26h0m0 8h0m0 5h0m0 1h0m0 6h0m1-253h0m0 68h0m0 4h0m0 5h0m0 54h0m0 3h0m0 6h0m0 24h0m0 16h0m0 2h0m0 6h0m0 0h0m0 1h0m0 22h0m0 16h0m0 21h0m1-304h0m0 141h0m0 56h0m0 20h0m0 1h0m0 27h0m0 5h0m0 9h0m0 1h0m0 5h0m0 5h0m0 0h0m0 7h0m0 8h0m0 7h0m0 1h0m0 4h0m1-241h0m0 98h0m0 9h0m0 29h0m0 9h0m0 1h0m0 14h0m0 13h0m0 9h0m0 5h0m0 7h0m0 23h0m0 4h0m0 2h0m0 10h0m1-134h0m0 71h0m0 6h0m0 2h0m0 5h0m0 0h0m0 21h0m0 15h0m0 26h0m0 5h0m0 5h0m1-299h0m0 96h0m0 0h0m0 40h0m0 5h0m0 3h0m0 3h0m0 47h0m0 15h0m0 2h0m0 2h0m0 3h0m0 3h0m0 0h0m0 1h0m0 4h0m0 4h0m0 1h0m0 21h0m0 11h0m0 5h0m0 5h0m0 2h0m0 5h0m1-159h0m0 56h0m0 9h0m0 12h0m0 7h0m0 6h0m0 1h0m0 2h0m0 11h0m0 4h0m0 15h0m0 6h0m0 5h0m0 5h0m0 36h0m0 7h0m0 2h0m1-171h0m0 2h0m0 2h0m0 50h0m0 22h0m0 8h0m0 25h0m0 0h0m0 0h0m0 2h0m0 0h0m0 6h0m0 6h0m0 11h0m0 17h0m1-124h0m0 37h0m0 5h0m0 0h0m0 43h0m0 21h0m0 0h0m0 4h0m1-252h0m0 106h0m0 18h0m0 27h0m0 5h0m0 32h0m0 18h0m0 7h0m0 1h0m0 4h0m0 7h0m0 1h0m0 7h0m0 1h0m0 40h0m0 2h0m0 2h0m0 6h0m1-218h0m0 34h0m0 74h0m0 1h0m0 8h0m0 3h0m0 12h0m0 18h0m0 31h0m0 0h0m0 0h0m0 12h0m0 18h0m0 7h0m1-264h0m0 73h0m0 18h0m0 11h0m0 28h0m0 17h0m0 14h0m0 10h0m0 1h0m0 0h0m0 4h0m0 0h0m0 19h0m0 11h0m0 16h0m0 13h0m0 9h0m0 1h0m1-190h0m0 46h0m0 5h0m0 19h0m0 5h0m0 17h0m0 7h0m0 0h0m0 0h0m0 6h0m0 4h0m0 11h0m0 17h0m0 3h0m0 23h0m0 8h0m0 3h0m0 7h0m0 26h0m1-181h0m0 51h0m0 12h0m0 10h0m0 7h0m0 14h0m0 8h0m0 11h0m0 3h0m0 13h0m0 11h0m0 16h0m0 3h0m0 7h0m0 15h0m1-299h0m0 107h0m0 6h0m0 59h0m0 20h0m0 9h0m0 7h0m0 4h0m0 3h0m0 4h0m0 8h0m0 24h0m0 3h0m0 17h0m0 15h0m1-249h0m0 70h0m0 36h0m0 28h0m0 12h0m0 1h0m0 11h0m0 3h0m0 9h0m0 8h0m0 11h0m0 13h0m0 28h0m0 19h0m0 20h0m1-210h0m0 63h0m0 17h0m0 29h0m0 8h0m0 4h0m0 2h0m0 4h0m0 13h0m0 1h0m0 3h0m0 8h0m0 0h0m0 7h0m0 5h0m1-126h0m0 36h0m0 6h0m0 7h0m0 6h0m0 9h0m0 23h0m0 4h0m0 3h0m0 3h0m0 2h0m0 26h0m0 14h0m0 0h0m0 20h0m0 13h0m1-396h0m0 79h0m0 137h0m0 19h0m0 13h0m0 35h0m0 3h0m0 4h0m0 0h0m0 8h0m0 4h0m0 9h0m0 0h0m0 17h0m0 1h0m0 1h0m0 6h0m0 6h0m0 0h0m0 1h0m0 2h0m0 9h0m0 21h0m0 14h0m0 2h0m1-197h0m0 19h0m0 21h0m0 39h0m0 11h0m0 9h0m0 8h0m0 4h0m0 1h0m0 7h0m0 3h0m0 16h0m0 3h0m0 2h0m0 2h0m0 13h0m0 10h0m0 7h0m0 12h0m0 3h0m0 4h0m1-224h0m0 50h0m0 7h0m0 13h0m0 14h0m0 8h0m0 18h0m0 1h0m0 6h0m0 18h0m0 0h0m0 2h0m0 3h0m0 5h0m0 3h0m0 6h0m0 7h0m0 1h0m0 12h0m0 3h0m0 1h0m0 11h0m1-154h0m0 16h0m0 63h0m0 16h0m0 3h0m0 40h0m0 4h0m0 0h0m0 14h0m0 5h0m0 1h0m0 22h0m0 14h0m1-434h0m0 79h0m0 145h0m0 42h0m0 10h0m0 27h0m0 6h0m0 3h0m0 26h0m0 1h0m0 6h0m0 3h0m0 1h0m0 10h0m0 1h0m0 2h0m0 0h0m0 2h0m0 1h0m0 0h0m0 5h0m0 11h0m0 3h0m0 18h0m0 4h0m0 10h0m0 9h0m0 6h0m1-446h0m0 276h0m0 22h0m0 11h0m0 21h0m0 13h0m0 2h0m0 10h0m0 1h0m0 4h0m0 4h0m0 39h0m0 1h0m0 17h0m0 1h0m0 6h0m0 5h0m0 4h0m0 9h0m1-279h0m0 63h0m0 19h0m0 23h0m0 7h0m0 10h0m0 1h0m0 32h0m0 10h0m0 0h0m0 11h0m0 0h0m0 1h0m0 5h0m0 12h0m0 14h0m0 3h0m0 16h0m0 6h0m0 5h0m0 3h0m1-174h0m0 11h0m0 23h0m0 44h0m0 17h0m0 15h0m0 24h0m0 2h0m0 5h0m0 0h0m0 8h0m0 3h0m0 5h0m0 2h0m0 19h0m0 2h0m0 3h0m0 17h0m0 4h0m0 9h0m1-349h0m0 17h0m0 29h0m0 151h0m0 6h0m0 4h0m0 20h0m0 17h0m0 3h0m0 11h0m0 20h0m0 2h0m0 3h0m0 0h0m0 22h0m0 4h0m0 2h0m0 0h0m0 2h0m0 9h0m1-198h0m0 89h0m0 10h0m0 20h0m0 11h0m0 8h0m0 9h0m0 17h0m0 5h0m0 2h0m0 2h0m0 10h0m0 4h0m0 11h0m0 20h0m0 5h0m1-378h0m0 103h0m0 28h0m0 48h0m0 66h0m0 10h0m0 7h0m0 5h0m0 25h0m0 8h0m0 7h0m0 3h0m0 1h0m0 11h0m0 15h0m0 4h0m0 13h0m1-102h0m0 2h0m0 3h0m0 17h0m0 41h0m0 9h0m0 1h0m0 6h0m0 3h0m0 17h0m0 5h0m0 2h0m0 12h0m0 4h0m0 5h0m1-239h0m0 26h0m0 25h0m0 18h0m0 35h0m0 32h0m0 12h0m0 0h0m0 12h0m0 5h0m0 11h0m0 3h0m0 3h0m0 18h0m0 5h0m0 8h0m0 12h0m0 1h0m0 15h0m1-356h0m0 29h0m0 51h0m0 97h0m0 52h0m0 11h0m0 14h0m0 2h0m0 6h0m0 5h0m0 31h0m0 11h0m0 0h0m0 20h0m0 1h0m1-230h0m0 63h0m0 94h0m0 3h0m0 17h0m0 2h0m0 5h0m0 30h0m0 1h0m0 1h0m0 6h0m1-401h0m0 44h0m0 158h0m0 62h0m0 60h0m0 1h0m0 6h0m0 2h0m0 3h0m0 5h0m0 6h0m0 0h0m0 15h0m0 7h0m0 2h0m0 16h0m0 5h0m0 0h0m0 0h0m0 13h0m0 9h0m0 7h0m1-372h0m0 167h0m0 56h0m0 6h0m0 4h0m0 8h0m0 6h0m0 7h0m0 47h0m0 13h0m0 2h0m0 5h0m0 20h0m0 4h0m0 21h0m0 1h0m0 10h0m1-191h0m0 9h0m0 65h0m0 0h0m0 0h0m0 7h0m0 23h0m0 3h0m0 6h0m0 9h0m0 1h0m0 7h0m0 5h0m0 0h0m0 9h0m0 14h0m0 30h0m1-260h0m0 80h0m0 15h0m0 6h0m0 37h0m0 1h0m0 5h0m0 57h0m0 1h0m0 1h0m0 25h0m0 27h0m0 15h0m1-225h0m0 11h0m0 33h0m0 91h0m0 0h0m0 4h0m0 20h0m0 5h0m0 1h0m0 9h0m0 9h0m0 3h0m0 4h0m0 22h0m1-400h0m0 96h0m0 125h0m0 23h0m0 5h0m0 20h0m0 4h0m0 15h0m0 6h0m0 11h0m0 5h0m0 15h0m0 23h0m0 13h0m0 12h0m0 20h0m1-139h0m0 7h0m0 28h0m0 3h0m0 1h0m0 5h0m0 4h0m0 3h0m0 1h0m0 21h0m0 6h0m0 2h0m0 6h0m0 12h0m0 1h0m0 3h0m0 13h0m0 1h0m0 19h0m0 3h0m1-256h0m0 59h0m0 5h0m0 47h0m0 26h0m0 4h0m0 28h0m0 15h0m0 6h0m0 11h0m0 6h0m0 3h0m0 5h0m0 4h0m0 6h0m0 7h0m0 4h0m0 25h0m1-142h0m0 0h0m0 11h0m0 18h0m0 5h0m0 20h0m0 14h0m0 1h0m0 3h0m0 6h0m0 6h0m0 9h0m0 2h0m0 10h0m0 5h0m0 1h0m0 4h0m0 27h0m0 9h0m1-264h0m0 44h0m0 13h0m0 31h0m0 5h0m0 22h0m0 21h0m0 0h0m0 12h0m0 8h0m0 8h0m0 10h0m0 33h0m0 7h0m0 1h0m0 34h0m1-244h0m0 43h0m0 35h0m0 47h0m0 8h0m0 0h0m0 31h0m0 5h0m0 3h0m0 4h0m0 8h0m0 28h0m0 10h0m0 12h0m0 23h0m1-222h0m0 24h0m0 6h0m0 17h0m0 15h0m0 2h0m0 13h0m0 32h0m0 2h0m0 7h0m0 25h0m0 10h0m0 2h0m0 2h0m0 11h0m0 5h0m0 8h0m0 7h0m0 4h0m0 1h0m0 11h0m0 1h0m0 13h0m0 6h0m0 2h0m1-327h0m0 67h0m0 6h0m0 69h0m0 25h0m0 14h0m0 27h0m0 29h0m0 12h0m0 11h0m0 3h0m0 0h0m0 4h0m0 5h0m0 11h0m0 20h0m0 5h0m0 22h0m0 3h0m1-345h0m0 188h0m0 1h0m0 4h0m0 5h0m0 2h0m0 17h0m0 27h0m0 21h0m0 9h0m0 1h0m0 10h0m0 7h0m0 4h0m0 2h0m0 0h0m0 23h0m0 17h0m1-280h0m0 45h0m0 48h0m0 12h0m0 1h0m0 13h0m0 1h0m0 36h0m0 3h0m0 0h0m0 12h0m0 15h0m0 0h0m0 1h0m0 6h0m0 1h0m0 11h0m0 1h0m0 46h0m0 13h0m0 7h0m1-271h0m0 69h0m0 15h0m0 44h0m0 7h0m0 7h0m0 14h0m0 10h0m0 8h0m0 3h0m0 12h0m0 17h0m0 7h0m0 0h0m0 3h0m0 38h0m0 12h0m0 1h0m0 14h0m1-479h0m0 220h0m0 14h0m0 67h0m0 16h0m0 10h0m0 37h0m0 50h0m0 12h0m0 18h0m0 3h0m0 33h0m0 1h0m1-235h0m0 2h0m0 87h0m0 37h0m0 2h0m0 3h0m0 3h0m0 14h0m0 2h0m0 21h0m0 3h0m0 2h0m0 5h0m0 10h0m0 6h0m0 1h0m0 18h0m0 1h0m0 9h0m0 3h0m0 7h0m1-223h0m0 40h0m0 11h0m0 3h0m0 13h0m0 16h0m0 14h0m0 43h0m0 5h0m0 6h0m0 3h0m0 8h0m0 16h0m0 7h0m0 1h0m0 2h0m1-186h0m0 5h0m0 10h0m0 72h0m0 2h0m0 2h0m0 15h0m0 11h0m0 41h0m0 43h0m0 8h0m1-486h0m0 73h0m0 44h0m0 54h0m0 20h0m0 7h0m0 89h0m0 43h0m0 10h0m0 1h0m0 1h0m0 37h0m0 19h0m0 2h0m0 18h0m0 4h0m0 1h0m0 36h0m0 8h0m0 2h0m0 13h0m0 7h0m0 8h0m0 1h0m1-297h0m0 102h0m0 44h0m0 3h0m0 10h0m0 9h0m0 14h0m0 13h0m0 41h0m0 2h0m0 18h0m0 13h0m0 3h0m0 0h0m0 11h0m0 1h0m1-403h0m0 227h0m0 2h0m0 57h0m0 1h0m0 31h0m0 15h0m0 13h0m0 6h0m0 11h0m0 15h0m0 12h0m0 3h0m0 1h0m0 5h0m0 3h0m1-343h0m0 48h0m0 138h0m0 10h0m0 22h0m0 11h0m0 1h0m0 58h0m0 19h0m0 7h0m0 17h0m0 6h0m1-358h0m0 196h0m0 35h0m0 4h0m0 8h0m0 2h0m0 16h0m0 4h0m0 10h0m0 7h0m0 24h0m0 24h0m0 13h0m0 3h0m0 3h0m0 22h0m1-239h0m0 10h0m0 9h0m0 29h0m0 37h0m0 33h0m0 2h0m0 5h0m0 13h0m0 4h0m0 1h0m0 4h0m0 13h0m0 26h0m0 12h0m0 3h0m0 7h0m0 32h0m0 3h0m0 2h0m1-192h0m0 2h0m0 28h0m0 47h0m0 2h0m0 5h0m0 24h0m0 3h0m0 2h0m0 4h0m0 10h0m0 20h0m0 28h0m0 10h0m1-343h0m0 47h0m0 0h0m0 121h0m0 8h0m0 20h0m0 49h0m0 5h0m0 15h0m0 2h0m0 1h0m0 1h0m0 2h0m0 11h0m0 1h0m0 15h0m0 1h0m0 18h0m0 28h0m0 5h0m1-263h0m0 18h0m0 13h0m0 77h0m0 15h0m0 10h0m0 9h0m0 4h0m0 23h0m0 32h0m0 11h0m0 1h0m0 5h0m0 20h0m0 11h0m0 10h0m1-241h0m0 108h0m0 9h0m0 3h0m0 19h0m0 5h0m0 10h0m0 0h0m0 74h0m0 6h0m0 14h0m1-643h0m0 405h0m0 64h0m0 42h0m0 7h0m0 24h0m0 14h0m0 7h0m0 0h0m0 2h0m0 1h0m0 6h0m0 1h0m0 1h0m0 7h0m0 10h0m0 1h0m0 5h0m0 3h0m0 36h0m1-280h0m0 14h0m0 4h0m0 10h0m0 27h0m0 14h0m0 5h0m0 50h0m0 16h0m0 7h0m0 30h0m0 8h0m0 2h0m0 3h0m0 4h0m0 22h0m0 4h0m0 2h0m0 11h0m0 4h0m0 1h0m0 3h0m1-336h0m0 99h0m0 82h0m0 21h0m0 26h0m0 4h0m0 6h0m0 34h0m0 10h0m0 9h0m0 4h0m1-298h0m0 59h0m0 2h0m0 75h0m0 52h0m0 44h0m0 19h0m0 4h0m0 17h0m0 7h0m0 16h0m0 7h0m0 24h0m0 2h0m0 7h0m0 4h0m0 2h0m0 4h0m1-156h0m0 12h0m0 36h0m0 12h0m0 25h0m0 3h0m0 14h0m0 4h0m0 24h0m0 12h0m0 12h0m0 6h0m0 0h0m0 28h0m1-230h0m0 30h0m0 38h0m0 5h0m0 18h0m0 32h0m0 4h0m0 24h0m0 11h0m0 4h0m0 5h0m0 25h0m0 4h0m0 4h0m0 2h0m0 27h0m1-308h0m0 117h0m0 8h0m0 15h0m0 17h0m0 13h0m0 6h0m0 21h0m0 10h0m0 5h0m0 13h0m0 18h0m0 15h0m0 40h0m0 2h0m1-251h0m0 2h0m0 55h0m0 12h0m0 24h0m0 3h0m0 25h0m0 4h0m0 22h0m0 5h0m0 0h0m0 1h0m0 18h0m0 1h0m0 19h0m0 39h0m0 2h0m0 10h0m0 11h0m0 2h0m1-305h0m0 136h0m0 6h0m0 15h0m0 34h0m0 11h0m0 7h0m0 25h0m0 15h0m0 3h0m0 5h0m0 6h0m0 10h0m0 1h0m0 2h0m0 6h0m0 9h0m0 15h0m1-310h0m0 25h0m0 52h0m0 14h0m0 5h0m0 6h0m0 8h0m0 56h0m0 30h0m0 8h0m0 2h0m0 5h0m0 22h0m0 27h0m0 9h0m0 5h0m0 4h0m0 2h0m0 6h0m0 10h0m0 3h0m1-231h0m0 52h0m0 15h0m0 17h0m0 3h0m0 17h0m0 22h0m0 2h0m0 3h0m0 3h0m0 4h0m0 17h0m0 19h0m0 8h0m0 7h0m0 43h0m0 7h0m1-186h0m0 22h0m0 47h0m0 27h0m0 2h0m0 2h0m0 23h0m0 4h0m0 4h0m0 14h0m0 27h0m1-233h0m0 23h0m0 36h0m0 17h0m0 12h0m0 12h0m0 18h0m0 10h0m0 25h0m0 5h0m0 0h0m0 14h0m0 6h0m0 3h0m0 9h0m0 14h0m0 6h0m0 7h0m0 4h0m0 18h0m0 3h0m1-349h0m0 154h0m0 101h0m0 20h0m0 5h0m0 29h0m0 12h0m0 21h0m1-305h0m0 43h0m0 22h0m0 9h0m0 61h0m0 25h0m0 2h0m0 32h0m0 18h0m0 20h0m0 6h0m0 15h0m0 15h0m0 6h0m0 2h0m0 0h0m0 5h0m0 4h0m0 2h0m0 16h0m0 8h0m1-413h0m0 147h0m0 41h0m0 54h0m0 11h0m0 31h0m0 10h0m0 4h0m0 19h0m0 2h0m0 8h0m0 22h0m0 9h0m0 49h0m1-531h0m0 227h0m0 141h0m0 54h0m0 2h0m0 22h0m0 8h0m0 1h0m0 2h0m0 8h0m0 2h0m0 7h0m0 25h0m0 4h0m0 14h0m0 28h0m1-271h0m0 63h0m0 54h0m0 11h0m0 3h0m0 22h0m0 9h0m0 37h0m0 30h0m0 30h0m1-305h0m0 189h0m0 35h0m0 18h0m0 2h0m0 8h0m0 2h0m0 8h0m0 1h0m0 6h0m0 11h0m0 11h0m1-397h0m0 201h0m0 32h0m0 42h0m0 26h0m0 5h0m0 1h0m0 3h0m0 18h0m0 10h0m0 0h0m0 5h0m0 11h0m0 8h0m0 8h0m1-332h0m0 134h0m0 34h0m0 50h0m0 23h0m0 0h0m0 9h0m0 19h0m0 6h0m0 7h0m0 0h0m0 3h0m0 10h0m0 6h0m0 6h0m0 10h0m0 18h0m0 5h0m0 2h0m0 2h0m0 3h0m0 9h0m0 11h0m1-671h0m0 89h0m0 52h0m0 349h0m0 44h0m0 2h0m0 2h0m0 50h0m0 18h0m0 3h0m0 3h0m0 6h0m0 2h0m0 25h0m0 3h0m1-450h0m0 316h0m0 68h0m0 7h0m0 32h0m0 13h0m0 12h0m0 9h0m0 1h0m0 10h0m0 7h0m1-488h0m0 103h0m0 180h0m0 82h0m0 15h0m0 1h0m0 29h0m0 6h0m0 20h0m0 8h0m0 1h0m0 14h0m0 41h0m0 1h0m1-419h0m0 104h0m0 6h0m0 0h0m0 32h0m0 54h0m0 6h0m0 26h0m0 10h0m0 27h0m0 3h0m0 7h0m0 22h0m0 15h0m0 27h0m0 4h0m0 7h0m0 5h0m0 27h0m0 1h0m0 2h0m0 12h0m0 14h0m1-178h0m0 11h0m0 10h0m0 26h0m0 7h0m0 17h0m0 4h0m0 5h0m0 32h0m0 8h0m0 15h0m0 6h0m0 17h0m0 4h0m1-217h0m0 71h0m0 30h0m0 18h0m0 9h0m0 7h0m0 31h0m0 2h0m0 6h0m0 41h0m1-419h0m0 95h0m0 53h0m0 11h0m0 16h0m0 11h0m0 6h0m0 0h0m0 46h0m0 25h0m0 3h0m0 24h0m0 53h0m0 15h0m0 4h0m0 9h0m0 23h0m0 28h0m0 20h0m0 7h0m0 6h0m1-343h0m0 3h0m0 34h0m0 29h0m0 6h0m0 11h0m0 11h0m0 8h0m0 20h0m0 37h0m0 6h0m0 2h0m0 14h0m0 4h0m0 22h0m0 44h0m0 32h0m0 0h0m0 17h0m0 1h0m1-183h0m0 11h0m0 40h0m0 32h0m0 56h0m0 13h0m0 26h0m0 3h0m0 0h0m0 43h0m0 0h0m1-471h0m0 127h0m0 4h0m0 41h0m0 102h0m0 8h0m0 12h0m0 18h0m0 9h0m0 7h0m0 14h0m0 13h0m0 18h0m0 1h0m0 5h0m0 27h0m0 38h0m0 22h0m0 0h0m0 8h0m1-286h0m0 18h0m0 5h0m0 4h0m0 39h0m0 32h0m0 11h0m0 22h0m0 11h0m0 5h0m0 7h0m0 14h0m0 10h0m0 27h0m0 0h0m0 14h0m0 13h0m0 12h0m0 17h0m1-420h0m0 306h0m0 4h0m0 17h0m0 22h0m0 13h0m0 5h0m0 3h0m0 17h0m0 3h0m0 7h0m0 18h0m0 6h0m1-187h0m0 67h0m0 20h0m0 45h0m0 3h0m0 36h0m0 32h0m0 5h0m1-366h0m0 93h0m0 36h0m0 28h0m0 48h0m0 7h0m0 2h0m0 8h0m0 7h0m0 2h0m0 26h0m0 1h0m0 6h0m0 8h0m0 51h0m1-206h0m0 13h0m0 3h0m0 34h0m0 13h0m0 15h0m0 8h0m0 0h0m0 23h0m0 35h0m0 1h0m0 1h0m0 1h0m0 30h0m0 10h0m0 3h0m0 20h0m0 35h0m1-494h0m0 141h0m0 276h0m0 3h0m0 2h0m0 9h0m0 1h0m0 10h0m0 16h0m0 19h0m1-327h0m0 47h0m0 71h0m0 22h0m0 25h0m0 19h0m0 15h0m0 14h0m0 9h0m0 7h0m0 13h0m0 29h0m0 10h0m0 0h0m0 6h0m1-137h0m0 20h0m0 59h0m0 23h0m0 11h0m0 25h0m0 9h0m0 1h0m0 14h0m0 0h0m1-264h0m0 67h0m0 94h0m0 29h0m0 1h0m0 58h0m0 19h0m0 7h0m1-264h0m0 126h0m0 24h0m0 63h0m0 5h0m0 5h0m0 12h0m0 11h0m1-201h0m0 65h0m0 9h0m0 37h0m0 26h0m0 10h0m0 11h0m0 1h0m0 8h0m0 15h0m0 47h0m1-270h0m0 16h0m0 34h0m0 35h0m0 31h0m0 19h0m0 10h0m0 37h0m0 4h0m0 8h0m0 13h0m0 32h0m0 1h0m1-315h0m0 271h0m0 11h0m0 58h0m0 11h0m1-363h0m0 48h0m0 19h0m0 0h0m0 47h0m0 4h0m0 3h0m0 53h0m0 25h0m0 5h0m0 30h0m0 4h0m0 1h0m0 17h0m0 15h0m0 54h0m1-101h0m0 13h0m0 4h0m0 16h0m0 11h0m0 22h0m0 9h0m0 53h0m0 7h0m0 16h0m1-466h0m0 232h0m0 0h0m0 32h0m0 1h0m0 1h0m0 35h0m0 20h0m0 46h0m0 27h0m0 16h0m0 8h0m0 23h0m0 2h0m1-350h0m0 68h0m0 5h0m0 147h0m0 20h0m0 21h0m0 31h0m0 4h0m0 32h0m1-231h0m0 69h0m0 25h0m0 17h0m0 37h0m0 18h0m0 2h0m0 27h0m0 1h0m0 1h0m0 26h0m0 14h0m0 26h0m1-404h0m0 87h0m0 86h0m0 46h0m0 19h0m0 11h0m0 17h0m0 26h0m0 28h0m0 42h0m0 8h0m1-308h0m0 41h0m0 57h0m0 67h0m0 20h0m0 22h0m0 21h0m0 9h0m0 17h0m0 12h0m0 4h0m0 25h0m0 39h0m0 3h0m0 3h0m1-430h0m0 141h0m0 83h0m0 39h0m0 3h0m0 9h0m0 54h0m0 4h0m0 17h0m0 11h0m0 6h0m0 44h0m0 18h0m1-364h0m0 5h0m0 40h0m0 6h0m0 33h0m0 89h0m0 4h0m0 13h0m0 18h0m0 3h0m0 26h0m0 13h0m0 11h0m0 53h0m0 8h0m0 7h0m1-301h0m0 44h0m0 15h0m0 36h0m0 16h0m0 103h0m0 7h0m0 47h0m0 6h0m0 0h0m0 62h0m1-411h0m0 50h0m0 61h0m0 91h0m0 61h0m0 16h0m0 25h0m0 8h0m0 25h0m0 13h0m0 3h0m0 6h0m0 18h0m0 23h0m1-182h0m0 19h0m0 4h0m0 73h0m0 33h0m0 27h0m0 13h0m1-277h0m0 55h0m0 3h0m0 7h0m0 40h0m0 26h0m0 36h0m0 16h0m0 21h0m0 8h0m0 46h0m0 7h0m0 3h0m0 9h0m1-244h0m0 70h0m0 44h0m0 32h0m0 7h0m0 8h0m0 9h0m0 86h0m0 12h0m1-236h0m0 14h0m0 17h0m0 45h0m0 13h0m0 2h0m0 13h0m0 28h0m0 14h0m0 85h0m0 8h0m0 5h0m1-442h0m0 11h0m0 159h0m0 8h0m0 7h0m0 69h0m0 39h0m0 51h0m0 14h0m0 5h0m0 24h0m0 64h0m1-566h0m0 172h0m0 2h0m0 47h0m0 41h0m0 23h0m0 60h0m0 17h0m0 20h0m0 8h0m0 9h0m0 9h0m0 77h0m0 11h0m0 34h0m0 36h0m1-303h0m0 53h0m0 53h0m0 50h0m0 2h0m0 6h0m0 7h0m0 34h0m0 9h0m0 6h0m0 56h0m1-386h0m0 58h0m0 7h0m0 104h0m0 60h0m0 14h0m0 23h0m0 1h0m0 5h0m0 24h0m0 9h0m0 19h0m0 7h0m0 15h0m0 2h0m0 10h0m0 46h0m1-313h0m0 45h0m0 9h0m0 7h0m0 91h0m0 3h0m0 13h0m0 83h0m0 40h0m1-332h0m0 80h0m0 10h0m0 16h0m0 7h0m0 57h0m0 25h0m0 19h0m0 2h0m0 34h0m0 36h0m0 20h0m0 2h0m0 10h0m1-343h0m0 64h0m0 25h0m0 113h0m0 3h0m0 15h0m0 19h0m0 21h0m0 86h0m1-365h0m0 152h0m0 47h0m0 24h0m0 15h0m0 20h0m0 6h0m0 18h0m0 4h0m0 6h0m0 14h0m0 11h0m1-295h0m0 38h0m0 65h0m0 38h0m0 7h0m0 38h0m0 47h0m0 1h0m0 32h0m0 12h0m0 14h0m0 6h0m0 3h0m0 25h0m0 8h0m1-225h0m0 35h0m0 12h0m0 81h0m0 2h0m0 9h0m0 34h0m0 6h0m0 9h0m0 15h0m0 18h0m0 45h0m1-399h0m0 21h0m0 30h0m0 22h0m0 105h0m0 42h0m0 3h0m0 47h0m0 5h0m0 23h0m0 13h0m0 16h0m0 47h0m1-289h0m0 11h0m0 102h0m0 25h0m0 6h0m0 40h0m0 9h0m0 34h0m0 13h0m0 11h0m0 42h0m1-452h0m0 86h0m0 23h0m0 64h0m0 67h0m0 17h0m0 28h0m0 8h0m0 9h0m0 58h0m0 26h0m0 13h0m0 55h0m1-435h0m0 278h0m0 69h0m0 14h0m0 12h0m0 13h0m0 15h0m0 19h0m0 31h0m0 7h0m1-512h0m0 262h0m0 71h0m0 20h0m0 20h0m0 57h0m0 35h0m0 30h0m1-177h0m0 6h0m0 39h0m0 22h0m0 24h0m0 24h0m0 35h0m0 19h0m0 27h0m1-287h0m0 9h0m0 56h0m0 17h0m0 21h0m0 6h0m0 90h0m0 17h0m1-130h0m0 22h0m0 14h0m0 61h0m0 19h0m0 1h0m0 1h0m0 14h0m0 11h0m0 9h0m0 20h0m1-442h0m0 72h0m0 13h0m0 32h0m0 4h0m0 25h0m0 45h0m0 0h0m0 35h0m0 125h0m0 33h0m0 2h0m0 0h0m0 28h0m0 8h0m0 16h0m0 36h0m0 0h0m1-328h0m0 147h0m0 18h0m0 20h0m0 48h0m0 0h0m0 19h0m1-332h0m0 53h0m0 65h0m0 10h0m0 86h0m0 47h0m0 5h0m0 11h0m0 18h0m0 13h0m0 66h0m1-279h0m0 25h0m0 10h0m0 8h0m0 26h0m0 15h0m0 27h0m0 49h0m0 17h0m0 26h0m0 7h0m0 3h0m0 40h0m0 7h0m0 2h0m0 49h0m1-441h0m0 220h0m0 5h0m0 39h0m0 16h0m0 12h0m0 1h0m0 5h0m0 6h0m0 6h0m0 35h0m0 34h0m0 13h0m1-216h0m0 3h0m0 32h0m0 30h0m0 12h0m0 38h0m0 28h0m0 71h0m0 24h0m0 6h0m1-299h0m0 43h0m0 83h0m0 9h0m0 28h0m0 33h0m0 1h0m0 18h0m0 6h0m0 23h0m0 4h0m0 49h0m1-315h0m0 31h0m0 26h0m0 29h0m0 92h0m0 13h0m0 3h0m0 0h0m0 21h0m0 13h0m0 31h0m1-764h0m0 315h0m0 252h0m0 81h0m0 17h0m0 17h0m0 25h0m0 1h0m0 23h0m0 1h0m0 42h0m1-582h0m0 336h0m0 56h0m0 20h0m0 76h0m0 35h0m0 16h0m0 64h0m0 42h0m1-407h0m0 22h0m0 33h0m0 94h0m0 16h0m0 21h0m0 16h0m0 12h0m0 13h0m0 37h0m0 18h0m0 42h0m0 51h0m1-335h0m0 20h0m0 146h0m0 15h0m0 6h0m0 31h0m0 16h0m0 108h0m1-272h0m0 39h0m0 72h0m0 11h0m0 24h0m0 44h0m0 7h0m0 36h0m0 3h0m1-369h0m0 29h0m0 13h0m0 2h0m0 73h0m0 116h0m0 0h0m0 55h0m0 13h0m0 89h0m1-298h0m0 59h0m0 118h0m0 31h0m0 4h0m1-253h0m0 84h0m0 10h0m0 44h0m0 1h0m0 22h0m0 4h0m0 41h0m0 90h0m0 3h0m0 2h0m1-373h0m0 234h0m0 3h0m0 61h0m0 16h0m0 20h0m0 117h0m1-286h0m0 48h0m0 17h0m0 148h0m0 48h0m0 6h0m1-323h0m0 16h0m0 112h0m0 11h0m0 18h0m0 124h0m0 28h0m1-392h0m0 47h0m0 133h0m0 15h0m0 7h0m0 0h0m0 45h0m0 46h0m0 1h0m0 16h0m0 46h0m0 1h0m1-260h0m0 45h0m0 46h0m0 7h0m0 2h0m0 24h0m0 62h0m0 38h0m0 61h0m1-369h0m0 99h0m0 78h0m0 15h0m0 101h0m0 32h0m0 62h0m0 16h0m1-279h0m0 67h0m0 36h0m0 121h0m0 19h0m0 11h0m0 5h0m1-472h0m0 224h0m0 10h0m0 32h0m0 32h0m0 9h0m0 60h0m0 9h0m0 28h0m0 48h0m0 39h0m1-495h0m0 174h0m0 42h0m0 39h0m0 74h0m0 53h0m0 5h0m0 37h0m0 63h0m1-401h0m0 104h0m0 47h0m0 79h0m0 44h0m0 35h0m0 15h0m0 8h0m0 23h0m0 51h0m0 1h0m1-534h0m0 223h0m0 14h0m0 33h0m0 2h0m0 20h0m0 69h0m0 63h0m0 52h0m0 19h0m0 24h0m0 4h0m0 18h0m1-170h0m0 66h0m1-233h0m0 66h0m0 17h0m0 2h0m0 20h0m0 63h0m0 50h0m0 26h0m1-396h0m0 94h0m0 20h0m0 155h0m0 144h0m0 4h0m0 84h0m1-409h0m0 83h0m0 10h0m0 29h0m0 29h0m0 69h0m0 2h0m0 19h0m0 14h0m0 39h0m0 52h0m1-509h0m0 189h0m0 28h0m0 10h0m0 41h0m0 4h0m0 3h0m0 101h0m0 67h0m0 47h0m0 3h0m1-328h0m0 45h0m0 127h0m0 8h0m0 52h0m0 84h0m1-250h0m0 13h0m0 25h0m0 79h0m0 8h0m0 38h0m0 0h0m0 38h0m0 12h0m0 92h0m0 5h0m1-382h0m0 36h0m0 17h0m0 88h0m0 1h0m0 5h0m0 6h0m0 23h0m0 14h0m0 18h0m0 17h0m0 41h0m0 27h0m1-346h0m0 54h0m0 118h0m0 18h0m0 90h0m1-341h0m0 73h0m0 160h0m0 63h0m0 49h0m0 52h0m0 96h0m1-388h0m0 150h0m0 36h0m0 41h0m0 38h0m0 13h0m0 42h0m0 58h0m0 12h0m1-370h0m0 40h0m0 10h0m0 29h0m0 92h0m0 117h0m0 20h0m0 1h0m0 13h0m0 7h0m0 25h0m1-371h0m0 95h0m0 166h0m0 28h0m0 16h0m0 52h0m1-305h0m0 104h0m0 15h0m0 9h0m0 40h0m0 15h0m0 26h0m0 7h0m0 12h0m0 37h0m0 88h0m0 1h0m1-321h0m0 56h0m0 19h0m0 176h0m0 35h0m0 10h0m1-265h0m0 32h0m0 38h0m0 92h0m0 7h0m0 52h0m1-565h0m0 169h0m0 102h0m0 196h0m0 50h0m0 6h0m0 1h0m0 124h0m1-454h0m0 11h0m0 20h0m0 94h0m0 3h0m0 17h0m0 87h0m0 34h0m0 26h0m0 14h0m0 58h0m1-392h0m0 66h0m0 4h0m0 5h0m0 15h0m0 30h0m0 93h0m0 14h0m0 73h0m0 89h0m0 27h0m0 38h0m1-383h0m0 94h0m0 40h0m0 30h0m0 4h0m0 16h0m0 1h0m1-212h0m0 43h0m0 23h0m0 16h0m0 19h0m0 71h0m0 62h0m0 16h0m0 44h0m0 19h0m0 1h0m0 105h0m1-421h0m0 109h0m0 91h0m0 11h0m0 41h0m0 13h0m0 28h0m0 14h0m0 30h0m1-228h0m0 61h0m0 32h0m0 152h0m0 82h0m1-543h0m0 237h0m0 3h0m0 54h0m0 20h0m0 13h0m0 27h0m0 27h0m0 36h0m1-350h0m0 133h0m0 32h0m0 33h0m0 21h0m0 15h0m0 99h0m0 67h0m1-307h0m0 62h0m0 14h0m0 7h0m0 39h0m0 18h0m0 47h0m0 4h0m0 7h0m0 54h0m0 115h0m1-402h0m0 98h0m0 4h0m0 27h0m0 28h0m0 9h0m0 13h0m0 12h0m0 5h0m0 104h0m0 96h0m0 1h0m1-315h0m0 45h0m0 30h0m0 38h0m0 51h0m0 15h0m0 32h0m0 9h0m0 83h0m0 28h0m1-455h0m0 119h0m0 17h0m0 3h0m0 18h0m0 34h0m0 19h0m0 11h0m0 23h0m0 2h0m0 44h0m0 1h0m0 10h0m1-348h0m0 32h0m0 92h0m0 25h0m0 71h0m0 4h0m0 66h0m0 17h0m0 29h0m0 41h0m0 68h0m0 55h0m1-444h0m0 61h0m0 53h0m0 37h0m0 34h0m0 14h0m0 114h0m1-160h0m0 72h0m0 7h0m0 21h0m0 13h0m0 103h0m0 16h0m0 5h0m0 39h0m1-388h0m0 133h0m0 42h0m0 89h0m0 28h0m0 37h0m1-313h0m0 92h0m0 35h0m0 3h0m0 2h0m0 38h0m0 120h0m0 24h0m1-478h0m0 200h0m0 35h0m0 41h0m0 193h0m1-533h0m0 244h0m0 14h0m0 146h0m0 40h0m0 63h0m0 24h0m1-469h0m0 227h0m0 36h0m0 27h0m0 0h0m0 43h0m0 6h0m0 67h0m0 17h0m0 16h0m0 3h0m1-329h0m0 163h0m0 34h0m0 47h0m0 29h0m0 13h0m0 23h0m0 54h0m0 4h0m0 38h0m1-770h0m0 396h0m0 129h0m0 30h0m0 3h0m0 17h0m0 27h0m0 8h0m0 132h0m1-395h0m0 101h0m0 6h0m0 69h0m0 19h0m0 16h0m0 6h0m0 22h0m0 6h0m0 26h0m1-164h0m0 14h0m0 48h0m0 10h0m0 24h0m0 25h0m0 17h0m0 21h0m0 3h0m1-169h0m0 30h0m0 16h0m0 119h0m0 93h0m1-330h0m0 41h0m0 1h0m0 89h0m0 48h0m0 2h0m0 42h0m0 69h0m1-246h0m0 49h0m0 34h0m0 13h0m0 38h0m0 77h0m0 54h0m0 7h0m1-470h0m0 157h0m0 84h0m0 63h0m0 17h0m0 55h0m0 68h0m1-421h0m0 98h0m0 103h0m0 38h0m0 49h0m0 4h0m0 7h0m0 209h0m1-378h0m0 29h0m0 50h0m0 16h0m0 125h0m0 42h0m0 21h0m0 26h0m0 59h0m1-327h0m0 8h0m0 13h0m0 61h0m0 27h0m0 38h0m0 207h0m1-363h0m0 17h0m0 5h0m0 8h0m0 58h0m0 7h0m0 1h0m0 11h0m0 161h0m0 28h0m0 33h0m0 12h0m1-491h0m0 178h0m0 61h0m0 10h0m1-103h0m0 105h0m0 4h0m0 57h0m1-462h0m0 245h0m0 24h0m0 87h0m0 13h0m0 28h0m0 4h0m0 1h0m0 75h0m0 56h0m1-337h0m0 47h0m0 20h0m0 74h0m0 17h0m1 45h0m0 24h0m0 70h0m0 56h0m0 67h0m0 38h0m1-308h0m0 26h0m0 0h0m0 53h0m0 57h0m0 18h0m1-214h0m0 77h0m0 48h0m0 10h0m0 108h0m0 9h0m0 7h0m1-410h0m0 136h0m0 49h0m0 28h0m0 30h0m0 232h0m0 56h0m1-831h0m0 360h0m0 166h0m0 26h0m1-311h0m0 93h0m0 19h0m0 194h0m0 40h0m0 82h0m0 24h0m0 28h0m0 36h0m0 69h0m1-566h0m0 235h0m0 19h0m0 18h0m0 10h0m0 6h0m1-275h0m0 141h0m0 51h0m0 11h0m0 3h0m0 90h0m0 10h0m0 6h0m0 31h0m0 7h0m0 3h0m0 78h0m0 16h0m1-305h0m0 31h0m0 67h0m0 19h0m0 57h0m0 31h0m0 14h0m0 106h0m0 7h0m0 109h0m1-435h0m0 54h0m0 102h0m0 259h0m0 2h0m1-310h0m0 6h0m0 24h0m0 7h0m0 9h0m0 61h0m1-134h0m0 12h0m0 75h0m0 65h0m0 0h0m0 2h0m0 6h0m0 10h0m0 138h0m1-272h0m0 177h0m0 5h0m0 18h0m0 49h0m1-356h0m0 4h0m0 7h0m0 85h0m0 22h0m0 37h0m0 53h0m0 107h0m0 16h0m1-417h0m0 72h0m0 52h0m0 8h0m0 36h0m0 0h0m0 55h0m1-267h0m0 99h0m0 6h0m0 120h0m0 19h0m0 9h0m0 37h0m0 34h0m0 62h0m0 11h0m0 145h0m1-455h0m0 79h0m0 52h0m0 37h0m0 13h0m0 7h0m0 162h0m0 16h0m1-299h0m0 14h0m0 19h0m0 4h0m0 20h0m0 21h0m0 309h0m1-571h0m0 115h0m0 357h0m1-348h0m0 42h0m0 32h0m0 166h0m0 158h0m1-461h0m0 167h0m0 36h0m0 38h0m0 57h0m0 21h0m1-252h0m0 76h0m0 42h0m0 20h0m0 2h0m0 112h0m0 4h0m0 32h0m0 15h0m0 13h0m1-322h0m0 17h0m0 75h0m0 12h0m0 79h0m0 138h0m1-339h0m0 75h0m0 13h0m0 35h0m0 65h0m0 66h0m1-274h0m0 186h0m0 32h0m0 34h0m0 19h0m0 27h0m0 36h0m0 26h0m0 52h0m1-376h0m0 1h0m0 161h0m0 60h0m1-177h0m0 30h0m0 64h0m0 16h0m0 11h0m0 0h0m0 113h0m0 10h0m1-378h0m0 136h0m1-85h0m0 100h0m0 75h0m0 1h0m0 14h0m0 8h0m0 3h0m0 76h0m0 105h0m0 27h0m0 65h0m1-482h0m0 53h0m0 3h0m0 46h0m0 86h0m0 24h0m0 9h0m0 42h0m0 51h0m1-505h0m0 150h0m0 271h0m0 49h0m0 9h0m0 43h0m1-237h0m0 91h0m0 7h0m0 6h0m0 31h0m0 23h0m0 47h0m0 12h0m1-193h0m0 25h0m0 106h0m0 103h0m0 29h0m0 23h0m0 3h0m1-495h0m0 42h0m0 50h0m0 6h0m0 61h0m0 60h0m0 53h0m0 30h0m0 24h0m0 10h0m0 11h0m1-37h0m0 10h0m0 18h0m0 51h0m0 45h0m0 2h0m1-193h0m0 37h0m1-166h0m0 23h0m0 62h0m0 1h0m0 130h0m0 37h0m0 15h0m0 33h0m0 89h0m1-348h0m0 399h0m1-472h0m0 53h0m0 86h0m0 80h0m1-178h0m0 44h0m0 15h0m0 11h0m0 55h0m0 31h0m0 35h0m0 2h0m0 23h0m0 23h0m0 157h0m1-425h0m0 345h0m1-286h0m0 45h0m0 76h0m0 11h0m0 38h0m0 73h0m0 114h0m1-350h0m0 28h0m0 28h0m0 56h0m0 28h0m0 125h0m0 86h0m0 23h0m1-406h0m0 36h0m0 39h0m0 31h0m0 73h0m0 33h0m1-289h0m0 17h0m0 82h0m0 158h0m0 225h0m0 23h0m1-446h0m0 112h0m0 22h0m0 0h0m0 40h0m1-226h0m0 147h0m0 94h0m0 89h0m1-275h0m0 4h0m0 129h0m0 10h0m0 16h0m0 19h0m0 3h0m0 27h0m1-242h0m0 24h0m0 156h0m1-168h0m0 95h0m0 118h0m0 259h0m1-368h0m0 93h0m1-90h0m0 40h0m0 17h0m0 41h0m0 65h0m0 3h0m1-211h0m0 114h0m0 67h0m0 9h0m0 43h0m1-326h0m0 116h0m0 27h0m0 45h0m0 24h0m0 7h0m0 0h0m0 13h0m0 4h0m0 21h0m0 20h0m0 24h0m0 13h0m1-259h0m0 21h0m0 149h0m0 11h0m0 9h0m1-184h0m0 102h0m0 37h0m0 59h0m1-108h0m0 42h0m0 15h0m0 25h0m0 7h0m0 2h0m0 15h0m0 62h0m1-170h0m0 38h0m0 40h0m0 65h0m1-250h0m0 77h0m0 33h0m0 71h0m0 54h0m1-224h0m0 42h0m0 30h0m0 12h0m0 22h0m0 6h0m0 43h0m0 6h0m0 0h0m0 56h0m0 32h0m1-180h0m0 51h0m0 24h0m1-73h0m0 50h0m0 8h0m0 49h0m0 15h0m0 121h0m0 9h0m0 58h0m1-421h0m0 100h0m0 47h0m0 6h0m0 333h0m1-332h0m0 27h0m0 33h0m0 47h0m0 21h0m0 66h0m0 73h0m1-527h0m0 182h0m0 50h0m0 4h0m0 14h0m0 33h0m0 13h0m0 9h0m1-105h0m0 74h0m0 21h0m0 70h0m0 14h0m0 77h0m1-416h0m0 178h0m0 13h0m0 56h0m0 11h0m0 9h0m0 97h0m1-355h0m0 29h0m0 168h0m0 9h0m0 30h0m0 5h0m0 25h0m0 41h0m0 8h0m1-271h0m0 175h0m0 24h0m0 26h0m0 9h0m1-223h0m0 27h0m0 136h0m0 10h0m0 6h0m0 6h0m0 4h0m1-346h0m0 268h0m0 31h0m0 12h0m0 33h0m1-38h0m0 87h0m1-280h0m0 185h0m0 4h0m0 9h0m0 12h0m0 19h0m0 52h0m0 8h0m0 256h0m1-539h0m0 67h0m0 163h0m0 3h0m0 88h0m0 192h0m1-536h0m0 71h0m0 138h0m0 44h0m0 7h0m0 19h0m0 54h0m0 30h0m0 68h0m1-276h0m0 72h0m0 6h0m0 1h0m0 6h0m0 57h0m0 77h0m0 53h0m1-285h0m0 52h0m0 31h0m0 7h0m0 2h0m0 8h0m0 13h0m0 35h0m0 9h0m0 0h0m0 17h0m0 180h0m1-573h0m0 259h0m1-273h0m0 104h0m0 148h0m0 5h0m0 12h0m0 68h0m0 46h0m0 23h0m0 117h0m1-337h0m0 69h0m0 103h0m0 221h0m1-431h0m0 179h0m0 89h0m1-399h0m0 313h0m0 12h0m0 36h0m1-244h0m0 77h0m0 120h0m0 9h0m0 7h0m0 64h0m1-279h0m0 162h0m0 29h0m0 51h0m0 16h0m0 12h0m0 20h0m1-331h0m0 163h0m0 12h0m0 11h0m0 9h0m0 5h0m0 29h0m0 31h0m0 2h0m0 3h0m0 42h0m0 12h0m0 18h0m0 4h0m1-337h0m0 169h0m0 42h0m0 32h0m0 21h0m0 75h0m1-276h0m0 34h0m0 43h0m0 54h0m0 44h0m0 58h0m0 42h0m1-136h0m0 107h0m1-148h0m0 155h0m0 22h0m1-310h0m0 71h0m0 13h0m0 13h0m0 152h0m0 42h0m0 12h0m1-198h0m0 39h0m0 54h0m0 10h0m0 3h0m1-282h0m0 289h0m0 21h0m1 34h0m0 47h0m1-324h0m0 30h0m0 199h0m0 27h0m1-210h0m0 76h0m0 5h0m0 10h0m0 17h0m0 22h0m0 16h0m0 37h0m0 2h0m0 239h0m1-362h0m0 39h0m0 23h0m0 52h0m0 4h0m0 31h0m1-308h0m0 131h0m0 123h0m0 57h0m0 24h0m1-236h0m0 196h0m1-117h0m0 59h0m0 1h0m1-134h0m0 19h0m0 144h0m0 11h0m0 4h0m0 5h0m1-216h0m0 29h0m0 19h0m0 72h0m0 107h0m0 110h0m1-210h0m0 60h0m0 3h0m0 17h0m0 39h0m0 44h0m1-366h0m0 66h0m0 104h0m0 41h0m0 34h0m0 47h0m0 123h0m1-362h0m0 153h0m0 29h0m0 4h0m0 25h0m0 9h0m1-180h0m0 57h0m0 141h0m0 39h0m0 35h0m0 17h0m0 145h0m1-710h0m0 238h0m0 30h0m0 54h0m0 11h0m0 48h0m0 55h0m0 15h0m0 33h0m0 52h0m1-351h0m0 94h0m0 105h0m1-385h0m0 275h0m0 145h0m0 2h0m0 118h0m0 32h0m0 6h0m1-281h0m0 50h0m0 48h0m0 49h0m0 6h0m0 213h0m1-209h0m0 122h0m1-390h0m0 19h0m0 59h0m0 49h0m0 70h0m0 75h0m0 14h0m0 9h0m0 50h0m0 197h0m1-415h0m0 36h0m0 18h0m0 80h0m0 84h0m1-384h0m0 239h0m0 71h0m0 4h0m0 6h0m1-185h0m0 61h0m0 1h0m0 7h0m0 2h0m0 9h0m1 0h0m0 11h0m0 14h0m0 20h0m0 17h0m0 3h0m0 14h0m0 42h0m0 70h0m1-351h0m0 124h0m0 23h0m0 99h0m0 161h0m1-424h0m0 91h0m0 65h0m0 16h0m0 29h0m0 1h0m1 43h0m0 82h0m1-265h0m0 145h0m0 42h0m0 1h0m0 8h0m0 33h0m0 53h0m1-399h0m0 146h0m0 32h0m0 19h0m0 42h0m0 58h0m0 21h0m1-79h0m0 14h0m0 77h0m0 29h0m0 45h0m1-322h0m0 4h0m0 31h0m0 143h0m0 27h0m0 6h0m0 139h0m0 103h0m1-570h0m0 206h0m0 56h0m0 7h0m0 4h0m0 78h0m0 28h0m0 30h0m0 1h0m1-311h0m0 47h0m0 10h0m0 41h0m0 183h0m0 107h0m1-338h0m0 12h0m0 9h0m0 97h0m1-138h0m0 146h0m0 61h0m0 55h0m0 13h0m1-227h0m0 53h0m0 81h0m0 68h0m0 1h0m0 33h0m1-176h0m0 68h0m0 49h0m0 84h0m0 160h0m1-442h0m0 38h0m0 105h0m1-316h0m0 139h0m0 76h0m0 42h0m0 39h0m0 17h0m0 118h0m0 5h0m0 7h0m1-482h0m0 268h0m0 45h0m0 8h0m0 15h0m0 25h0m0 315h0m1-505h0m0 77h0m0 129h0m0 3h0m0 60h0m0 35h0m1-340h0m0 180h0m0 68h0m0 45h0m0 3h0m0 5h0m1-368h0m0 90h0m0 50h0m0 19h0m0 47h0m0 25h0m0 125h0m1-175h0m0 53h0m0 28h0m0 14h0m0 164h0m1-460h0m0 130h0m0 26h0m0 88h0m0 181h0m1-159h0m0 59h0m0 40h0m0 23h0m1-267h0m0 43h0m0 84h0m0 25h0m0 146h0m1-174h0m0 26h0m0 66h0m0 1h0m0 1h0m1-141h0m0 54h0m0 2h0m0 101h0m1-347h0m0 14h0m0 79h0m0 69h0m0 3h0m0 45h0m0 20h0m0 21h0m0 35h0m0 172h0m1-413h0m0 99h0m0 144h0m0 17h0m0 66h0m1-242h0m0 94h0m0 78h0m0 103h0m0 6h0m1-330h0m0 117h0m0 14h0m0 83h0m0 5h0m0 6h0m0 68h0m0 46h0m0 5h0m1-186h0m0 106h0m1-3h0m0 48h0m1-290h0m0 168h0m0 255h0m1-424h0m0 125h0m0 63h0m1-155h0m0 101h0m0 90h0m1-419h0m0 30h0m0 170h0m0 96h0m0 30h0m0 17h0m0 45h0m0 37h0m0 108h0m0 64h0m0 13h0m1-373h0m0 96h0m0 10h0m0 32h0m0 5h0m0 19h0m0 50h0m0 78h0m0 173h0m1-349h0m0 13h0m0 38h0m0 16h0m1-107h0m0 22h0m0 86h0m0 9h0m0 47h0m0 12h0m1-133h0m0 1h0m0 19h0m0 24h0m0 2h0m0 5h0m1-144h0m0 33h0m1 17h0m0 13h0m0 70h0m0 42h0m0 31h0m0 138h0m1-454h0m0 122h0m0 7h0m0 32h0m0 6h0m0 235h0m0 16h0m1-345h0m1 68h0m0 74h0m0 20h0m0 7h0m0 21h0m0 47h0m1-120h0m0 23h0m0 26h0m0 24h0m0 59h0m1-182h0m0 65h0m0 12h0m0 13h0m0 85h0m0 239h0m1-486h0m0 57h0m0 49h0m0 16h0m0 50h0m0 10h0m0 18h0m0 10h0m0 64h0m1-312h0m0 24h0m0 49h0m0 126h0m1-147h0m0 69h0m0 2h0m0 29h0m0 13h0m0 37h0m0 30h0m1-243h0m0 80h0m0 5h0m0 430h0m1-424h0m0 57h0m0 59h0m0 75h0m0 82h0m1-189h0m0 99h0m0 104h0m1-355h0m0 82h0m0 71h0m0 12h0m0 6h0m0 36h0m1-210h0m0 26h0m0 250h0m0 84h0m1-443h0m0 156h0m0 4h0m0 37h0m0 12h0m0 22h0m0 4h0m0 58h0m0 129h0m1-411h0m0 128h0m0 66h0m0 102h0m0 109h0m1-304h0m0 59h0m0 7h0m0 45h0m0 28h0m0 11h0m0 18h0m1-231h0m0 9h0m0 9h0m0 153h0m0 34h0m0 51h0m1-159h0m0 83h0m0 78h0m0 9h0m0 4h0m0 28h0m1-377h0m0 99h0m0 48h0m0 113h0m0 8h0m0 102h0m1-229h0m0 68h0m0 6h0m0 109h0m1-207h0m0 16h0m0 57h0m0 18h0m0 65h0m0 58h0m1-118h0m0 7h0m0 4h0m0 66h0m0 15h0m0 64h0m0 26h0m0 33h0m1-281h0m0 98h0m0 86h0m0 22h0m0 26h0m0 7h0m0 13h0m0 47h0m0 45h0m1-301h0m0 130h0m0 23h0m0 24h0m1-508h0m0 138h0m0 200h0m0 13h0m0 2h0m0 4h0m0 76h0m0 107h0m1-99h0m0 42h0m1-158h0m0 55h0m0 36h0m0 1h0m0 3h0m0 93h0m1-217h0m0 32h0m0 1h0m0 57h0m0 107h0m0 11h0m0 17h0m1-219h0m0 54h0m0 81h0m1-309h0m0 162h0m0 18h0m0 17h0m0 15h0m0 43h0m0 169h0m1-435h0m0 21h0m0 155h0m0 19h0m0 44h0m0 12h0m1 13h0m0 4h0m0 25h0m0 114h0m1-212h0m0 127h0m0 8h0m0 38h0m0 64h0m1-270h0m0 88h0m0 37h0m0 27h0m0 115h0m1-259h0m0 43h0m0 55h0m0 5h0m0 5h0m0 130h0m1-253h0m0 40h0m0 10h0m0 49h0m0 161h0m1-269h0m0 9h0m0 141h0m0 216h0m1-309h0m0 143h0m0 12h0m0 121h0m0 111h0m1-306h0m0 23h0m0 10h0m1-219h0m0 63h0m0 29h0m0 144h0m0 15h0m1-197h0m0 57h0m0 94h0m1-89h0m0 24h0m0 16h0m0 28h0m0 16h0m0 8h0m0 31h0m0 23h0m1-184h0m0 4h0m0 142h0m0 70h0m0 33h0m1-167h0m0 8h0m0 12h0m0 1h0m0 57h0m0 197h0m1-381h0m0 11h0m0 104h0m0 6h0m0 12h0m0 98h0m0 94h0m1-352h0m0 119h0m0 33h0m0 5h0m1-159h0m0 96h0m0 85h0m1-268h0m0 69h0m0 250h0m1-183h0m0 48h0m0 25h0m0 30h0m0 6h0m0 49h0m1-193h0m0 3h0m0 160h0m0 124h0m0 115h0m1-271h0m0 24h0m0 5h0m0 64h0m1 125h0m1-303h0m0 36h0m0 115h0m0 88h0m1-283h0m0 22h0m0 23h0m0 88h0m0 53h0m0 152h0m1-323h0m0 16h0m0 24h0m0 104h0m0 45h0m0 3h0m0 2h0m0 60h0m0 15h0m0 3h0m1-255h0m0 40h0m0 4h0m0 35h0m0 18h0m0 44h0m1-317h0m0 149h0m0 78h0m0 15h0m0 103h0m1-141h0m0 135h0m0 123h0m1-251h0m0 7h0m0 117h0m0 64h0m0 7h0m1-403h0m0 225h0m0 7h0m0 31h0m0 36h0m0 6h0m0 25h0m1-250h0m0 152h0m0 5h0m0 24h0m0 40h0m1-228h0m0 54h0m0 143h0m0 22h0m0 37h0m0 202h0m1-446h0m0 45h0m0 78h0m0 67h0m0 26h0m0 115h0m1-346h0m0 92h0m0 41h0m0 43h0m0 78h0m1-66h0m1-30h0m0 19h0m0 24h0m0 11h0m0 13h0m0 8h0m0 16h0m1-289h0m0 138h0m0 36h0m0 53h0m0 24h0m0 30h0m0 140h0m0 21h0m1-413h0m0 236h0m1-244h0m0 112h0m0 48h0m0 41h0m0 1h0m0 94h0m0 1h0m0 9h0m1-281h0m0 113h0m0 46h0m0 92h0m0 32h0m0 33h0m0 65h0m1-480h0m0 268h0m0 13h0m0 11h0m0 24h0m0 26h0m0 63h0m0 4h0m1-225h0m0 42h0m0 12h0m0 50h0m0 20h0m0 8h0m0 72h0m1-127h0m0 1h0m0 47h0m0 8h0m0 21h0m0 1h0m0 15h0m1-314h0m0 15h0m0 12h0m0 33h0m0 4h0m0 90h0m0 38h0m0 51h0m1-290h0m0 45h0m0 67h0m0 83h0m0 63h0m0 21h0m0 65h0m1-250h0m0 44h0m0 75h0m0 35h0m0 79h0m0 21h0m0 10h0m0 34h0m0 3h0m0 160h0m1-411h0m0 61h0m0 20h0m0 0h0m0 49h0m0 73h0m0 18h0m0 130h0m0 2h0m1-465h0m0 98h0m0 61h0m0 78h0m0 40h0m0 48h0m0 91h0m0 36h0m1-405h0m0 67h0m0 6h0m0 25h0m0 49h0m0 31h0m0 17h0m0 20h0m0 68h0m1-144h0m0 44h0m0 77h0m1-134h0m0 71h0m0 161h0m0 51h0m0 59h0m1-363h0m0 10h0m0 33h0m0 166h0m1-342h0m0 129h0m0 69h0m0 31h0m0 110h0m0 5h0m1-339h0m0 13h0m0 136h0m0 54h0m0 32h0m1-315h0m0 96h0m0 92h0m0 44h0m0 26h0m0 15h0m0 10h0m0 7h0m0 93h0m0 14h0m0 248h0m1-444h0m0 39h0m0 8h0m0 4h0m0 78h0m0 15h0m0 34h0m1-292h0m0 17h0m0 80h0m0 20h0m0 1h0m0 44h0m0 10h0m1-205h0m0 85h0m0 3h0m0 14h0m0 69h0m0 14h0m0 59h0m0 10h0m0 20h0m0 18h0m0 73h0m1-238h0m0 16h0m0 82h0m0 38h0m0 18h0m0 17h0m0 29h0m0 52h0m0 1h0m0 47h0m1-439h0m0 10h0m0 57h0m0 148h0m0 40h0m0 65h0m1-87h0m0 30h0m0 58h0m1-342h0m0 103h0m0 65h0m0 54h0m0 48h0m0 71h0m1 2h0m0 15h0m0 24h0m1-288h0m0 25h0m0 109h0m0 55h0m0 39h0m0 13h0m0 15h0m0 8h0m1-189h0m0 32h0m1-107h0m0 115h0m0 51h0m0 135h0m0 2h0m1-323h0m0 33h0m0 3h0m0 157h0m0 90h0m0 74h0m1-279h0m0 37h0m1-134h0m0 133h0m0 68h0m0 10h0m0 78h0m0 14h0m0 14h0m1-233h0m0 60h0m0 81h0m0 39h0m0 7h0m0 38h0m1-240h0m0 19h0m0 21h0m0 11h0m0 32h0m0 9h0m0 25h0m1 17h0m0 24h0m0 19h0m0 28h0m0 4h0m0 9h0m0 87h0m1-405h0m0 28h0m0 50h0m0 129h0m0 9h0m0 23h0m0 8h0m0 1h0m0 122h0m1-387h0m0 77h0m0 50h0m0 6h0m0 120h0m0 10h0m0 108h0m0 101h0m1-412h0m0 34h0m0 5h0m0 80h0m0 21h0m0 7h0m0 57h0m0 6h0m0 12h0m0 14h0m0 87h0m1-417h0m0 181h0m0 226h0m1-433h0m0 266h0m0 8h0m0 48h0m0 72h0m1-326h0m0 106h0m0 0h0m0 324h0m1-192h0m1-88h0m0 34h0m0 7h0m0 20h0m0 12h0m0 9h0m0 48h0m0 9h0m0 53h0m0 10h0m0 170h0m1-558h0m0 175h0m0 17h0m0 15h0m0 61h0m0 0h0m0 23h0m0 22h0m0 40h0m1-245h0m0 52h0m0 1h0m0 84h0m0 145h0m0 57h0m1-516h0m0 45h0m0 122h0m0 37h0m0 42h0m0 4h0m0 2h0m0 3h0m0 21h0m0 10h0m0 77h0m0 29h0m0 2h0m0 136h0m0 36h0m1-546h0m0 197h0m0 59h0m0 24h0m0 111h0m0 0h0m0 131h0m1-307h0m0 98h0m0 8h0m0 0h0m0 22h0m0 13h0m0 88h0m0 49h0m1-312h0m0 136h0m0 9h0m0 49h0m0 34h0m1-161h0m0 54h0m0 52h0m0 19h0m1 102h0m0 86h0m1-185h0m0 6h0m0 11h0m0 19h0m0 10h0m1-204h0m0 33h0m0 3h0m0 95h0m0 64h0m1-294h0m0 110h0m0 160h0m1-206h0m0 37h0m0 86h0m0 39h0m0 125h0m1-256h0m0 7h0m0 17h0m0 4h0m0 112h0m0 1h0m0 12h0m1-223h0m0 87h0m0 45h0m0 7h0m0 16h0m0 39h0m0 19h0m0 0h0m0 263h0m1-507h0m0 67h0m0 16h0m0 187h0m0 57h0m0 21h0m1-232h0m0 80h0m0 10h0m0 11h0m1-269h0m0 66h0m0 33h0m0 122h0m0 4h0m1-297h0m0 218h0m0 92h0m0 31h0m0 94h0m0 94h0m1-348h0m0 14h0m0 15h0m0 173h0m1-262h0m0 135h0m0 5h0m0 8h0m0 12h0m0 56h0m0 9h0m0 36h0m0 26h0m1-248h0m0 16h0m0 44h0m0 6h0m0 51h0m0 110h0m0 51h0m1-222h0m1-93h0m0 86h0m0 112h0m0 14h0m0 51h0m0 24h0m0 4h0m0 21h0m1-323h0m0 97h0m0 43h0m0 28h0m0 6h0m0 38h0m0 83h0m1-268h0m0 2h0m0 58h0m0 6h0m0 11h0m0 13h0m0 6h0m0 120h0m0 38h0m0 47h0m0 3h0m1-260h0m0 66h0m0 70h0m0 43h0m1-175h0m0 18h0m0 159h0m0 14h0m1-212h0m0 41h0m0 37h0m0 32h0m0 56h0m0 5h0m0 49h0m0 58h0m1-281h0m0 33h0m0 94h0m1-119h0m0 122h0m0 29h0m0 3h0m0 16h0m0 38h0m0 23h0m1-57h0m0 17h0m0 9h0m0 84h0m1-270h0m0 68h0m0 20h0m0 48h0m0 30h0m1-59h0m0 91h0m1-159h0m0 48h0m0 6h0m0 138h0m0 12h0m1-315h0m0 90h0m0 15h0m0 49h0m0 26h0m0 17h0m0 9h0m0 27h0m0 30h0m0 66h0m0 24h0m1-308h0m0 0h0m0 48h0m0 42h0m0 21h0m0 53h0m1-44h0m0 69h0m0 5h0m0 11h0m0 42h0m0 9h0m0 45h0m1-251h0m0 34h0m0 42h0m0 14h0m0 134h0m1-367h0m0 91h0m0 104h0m0 90h0m1-195h0m0 38h0m0 13h0m0 21h0m0 45h0m0 86h0m1-296h0m0 56h0m0 36h0m0 125h0m0 37h0m0 7h0m0 181h0m1-378h0m0 71h0m0 7h0m0 82h0m0 26h0m0 74h0m0 6h0m0 0h0m1-275h0m0 5h0m0 33h0m0 32h0m0 54h0m1-114h0m0 62h0m0 6h0m0 40h0m0 67h0m0 1h0m0 35h0m0 157h0m1-248h0m0 63h0m0 45h0m1-181h0m0 46h0m0 35h0m0 57h0m0 36h0m1-201h0m0 33h0m0 14h0m0 62h0m0 71h0m0 180h0m1-422h0m0 72h0m0 125h0m0 28h0m1-192h0m0 48h0m0 66h0m0 98h0m0 3h0m0 12h0m0 62h0m0 5h0m0 119h0m1-449h0m0 25h0m0 52h0m0 23h0m0 18h0m0 56h0m0 33h0m0 52h0m0 20h0m0 6h0m1-297h0m0 96h0m1-100h0m0 87h0m0 154h0m0 104h0m1-247h0m0 35h0m0 5h0m0 2h0m0 24h0m0 16h0m0 30h0m0 64h0m0 49h0m1-322h0m0 94h0m0 30h0m0 61h0m0 46h0m0 17h0m0 6h0m0 92h0m1-339h0m0 142h0m0 24h0m0 2h0m0 67h0m0 84h0m0 206h0m1-515h0m0 117h0m0 0h0m0 20h0m0 25h0m1-190h0m0 139h0m0 164h0m1-344h0m0 137h0m0 9h0m0 20h0m0 57h0m0 70h0m0 45h0m0 72h0m1-313h0m0 64h0m0 19h0m0 29h0m0 28h0m0 79h0m0 18h0m0 38h0m1-230h0m0 93h0m0 35h0m0 8h0m1-124h0m0 10h0m0 56h0m0 79h0m0 36h0m0 9h0m1-215h0m0 4h0m0 4h0m0 7h0m0 30h0m0 38h0m0 50h0m0 10h0m0 12h0m0 35h0m0 23h0m0 30h0m0 137h0m1-390h0m0 24h0m0 35h0m0 90h0m0 17h0m1-134h0m0 2h0m0 18h0m0 33h0m0 29h0m0 87h0m1-249h0m0 53h0m0 4h0m0 35h0m0 22h0m0 11h0m0 41h0m0 30h0m0 1h0m0 4h0m0 21h0m0 93h0m1-262h0m0 75h0m0 81h0m0 27h0m1-218h0m0 49h0m0 57h0m0 5h0m0 9h0m1-62h0m0 8h0m0 77h0m0 31h0m0 49h0m0 52h0m1-266h0m0 25h0m0 0h0m0 7h0m0 135h0m0 17h0m0 7h0m0 33h0m0 17h0m0 113h0m1-347h0m0 103h0m0 167h0m1-183h0m0 53h0m0 16h0m0 14h0m1-148h0m0 156h0m0 7h0m0 8h0m0 7h0m0 26h0m0 155h0m1-434h0m0 36h0m0 54h0m0 26h0m0 57h0m0 5h0m0 22h0m0 32h0m0 23h0m0 16h0m1-326h0m0 190h0m0 1h0m0 36h0m0 65h0m0 1h0m0 15h0m0 7h0m0 139h0m1-343h0m0 3h0m0 21h0m0 27h0m0 9h0m0 3h0m0 3h0m0 5h0m0 9h0m0 132h0m0 28h0m0 274h0m1-496h0m0 13h0m0 18h0m0 17h0m0 22h0m0 19h0m0 2h0m0 9h0m0 155h0m0 126h0m1-379h0m0 19h0m0 6h0m0 4h0m0 2h0m0 34h0m0 5h0m0 11h0m0 37h0m0 21h0m0 90h0m0 41h0m1-283h0m0 17h0m0 21h0m0 109h0m0 23h0m0 13h0m0 73h0m0 83h0m1-322h0m0 7h0m0 104h0m0 42h0m0 8h0m0 13h0m0 57h0m1-242h0m0 79h0m0 51h0m0 8h0m0 38h0m0 31h0m1-240h0m0 18h0m0 54h0m0 30h0m0 60h0m0 26h0m0 22h0m0 52h0m0 174h0m1-370h0m0 5h0m0 5h0m0 9h0m0 4h0m0 11h0m0 46h0m0 24h0m0 26h0m1-162h0m0 23h0m0 9h0m0 10h0m0 16h0m0 48h0m0 39h0m0 27h0m0 18h0m1-292h0m0 116h0m0 12h0m0 56h0m0 27h0m1-147h0m0 8h0m0 10h0m0 19h0m0 86h0m0 50h0m0 42h0m0 28h0m0 2h0m1-212h0m0 56h0m0 4h0m0 6h0m0 5h0m0 26h0m0 49h0m0 19h0m0 25h0m0 98h0m1-167h0m0 10h0m0 3h0m0 13h0m0 11h0m0 64h0m1-241h0m0 153h0m0 41h0m0 27h0m0 12h0m1-241h0m0 67h0m0 49h0m0 16h0m0 14h0m0 28h0m0 66h0m0 288h0m1-500h0m0 0h0m0 18h0m0 42h0m0 3h0m0 43h0m0 77h0m0 2h0m0 108h0m1-302h0m0 7h0m0 65h0m0 6h0m0 52h0m0 16h0m1-70h0m0 9h0m0 34h0m0 12h0m0 21h0m0 39h0m1-238h0m0 83h0m0 37h0m0 1h0m0 4h0m0 75h0m0 63h0m1-244h0m0 30h0m0 22h0m0 128h0m0 4h0m0 2h0m1-170h0m0 8h0m0 27h0m0 46h0m0 27h0m0 64h0m0 1h0m0 10h0m0 14h0m0 50h0m1-282h0m0 11h0m0 35h0m0 63h0m0 27h0m0 50h0m0 1h0m0 39h0m1-289h0m0 133h0m0 33h0m0 6h0m0 20h0m0 3h0m0 59h0m0 77h0m1-253h0m0 34h0m0 17h0m0 5h0m0 21h0m0 73h0m0 21h0m0 32h0m0 161h0m1-325h0m0 2h0m0 33h0m0 33h0m0 2h0m0 28h0m0 54h0m0 4h0m0 63h0m0 9h0m1-310h0m0 58h0m0 64h0m0 5h0m0 3h0m0 4h0m0 97h0m0 51h0m1-197h0m0 5h0m0 1h0m0 7h0m0 46h0m0 5h0m0 18h0m0 6h0m0 19h0m0 41h0m0 101h0m0 46h0m0 17h0m1-280h0m0 0h0m0 15h0m0 20h0m0 36h0m0 67h0m1-163h0m0 24h0m0 5h0m0 66h0m1-143h0m0 19h0m0 10h0m0 33h0m0 6h0m0 7h0m0 3h0m0 63h0m0 41h0m0 1h0m0 10h0m1-165h0m0 1h0m0 30h0m0 11h0m0 87h0m0 86h0m0 83h0m1-417h0m0 73h0m0 41h0m0 7h0m0 31h0m0 5h0m0 30h0m0 0h0m0 29h0m0 33h0m0 36h0m0 1h0m1-294h0m0 85h0m0 38h0m0 56h0m0 3h0m0 9h0m0 45h0m0 8h0m0 193h0m1-348h0m0 26h0m0 41h0m0 31h0m0 7h0m0 0h0m0 30h0m0 17h0m0 12h0m0 35h0m0 83h0m1-334h0m0 27h0m0 28h0m0 28h0m0 6h0m0 37h0m0 32h0m0 7h0m0 1h0m0 3h0m0 15h0m0 29h0m0 56h0m0 24h0m1-318h0m0 13h0m0 14h0m0 11h0m0 28h0m0 7h0m0 11h0m0 18h0m0 19h0m0 1h0m0 1h0m0 48h0m0 51h0m0 36h0m1-167h0m0 36h0m0 37h0m0 3h0m0 15h0m0 16h0m0 15h0m0 10h0m0 42h0m0 8h0m0 3h0m0 146h0m1-369h0m0 35h0m0 12h0m0 39h0m0 20h0m0 7h0m0 1h0m0 15h0m0 17h0m0 0h0m0 3h0m0 9h0m0 23h0m0 42h0m0 24h0m0 15h0m0 32h0m1-271h0m0 17h0m0 29h0m0 6h0m0 3h0m0 72h0m0 7h0m0 9h0m0 18h0m0 39h0m0 25h0m0 22h0m0 76h0m1-298h0m0 10h0m0 3h0m0 75h0m0 1h0m0 11h0m0 59h0m0 11h0m0 26h0m0 39h0m0 10h0m1-349h0m0 33h0m0 64h0m0 5h0m0 2h0m0 9h0m0 12h0m0 72h0m0 1h0m0 11h0m0 12h0m0 2h0m0 94h0m0 10h0m1-240h0m0 10h0m0 19h0m0 12h0m0 18h0m0 38h0m0 20h0m0 51h0m0 15h0m0 67h0m1-216h0m0 30h0m0 15h0m0 33h0m0 12h0m0 14h0m0 49h0m0 95h0m1-327h0m0 13h0m0 7h0m0 39h0m0 4h0m0 16h0m0 13h0m0 9h0m0 27h0m0 23h0m0 36h0m0 13h0m0 36h0m1-280h0m0 147h0m0 5h0m0 21h0m0 45h0m0 9h0m0 90h0m0 110h0m1-376h0m0 61h0m0 37h0m0 5h0m0 4h0m0 20h0m0 34h0m0 20h0m0 6h0m0 8h0m0 13h0m0 49h0m0 98h0m1-380h0m0 67h0m0 13h0m0 27h0m0 37h0m0 2h0m0 1h0m0 7h0m0 9h0m0 5h0m0 1h0m0 1h0m0 8h0m0 51h0m0 30h0m0 1h0m1-168h0m0 9h0m0 13h0m0 14h0m0 3h0m0 5h0m0 52h0m0 67h0m1-228h0m0 6h0m0 5h0m0 51h0m0 11h0m0 13h0m0 9h0m0 6h0m0 30h0m0 74h0m0 19h0m0 9h0m1-224h0m0 3h0m0 65h0m0 10h0m0 6h0m0 56h0m0 16h0m0 10h0m0 5h0m0 13h0m0 29h0m0 15h0m1-175h0m0 15h0m0 5h0m0 23h0m0 13h0m0 14h0m0 17h0m0 13h0m0 31h0m0 53h0m0 32h0m1-276h0m0 28h0m0 52h0m0 6h0m0 20h0m0 9h0m0 6h0m0 24h0m0 8h0m1-139h0m0 14h0m0 1h0m0 14h0m0 60h0m0 9h0m0 4h0m0 0h0m0 34h0m0 4h0m0 46h0m0 51h0m0 37h0m0 74h0m1-403h0m0 18h0m0 36h0m0 68h0m0 6h0m0 1h0m0 54h0m0 16h0m0 13h0m1-151h0m0 56h0m0 2h0m0 23h0m0 8h0m0 11h0m0 4h0m0 1h0m0 10h0m0 16h0m0 18h0m0 24h0m0 11h0m1-164h0m0 16h0m0 4h0m0 7h0m0 22h0m0 2h0m0 2h0m0 13h0m0 16h0m0 9h0m0 2h0m0 9h0m0 79h0m0 2h0m1-183h0m0 4h0m0 38h0m0 9h0m0 8h0m0 5h0m0 15h0m0 12h0m0 6h0m0 36h0m0 2h0m1-239h0m0 31h0m0 27h0m0 73h0m0 6h0m0 8h0m0 35h0m0 11h0m0 16h0m0 4h0m0 14h0m0 2h0m0 7h0m0 5h0m0 49h0m0 120h0m1-313h0m0 13h0m0 16h0m0 13h0m0 0h0m0 56h0m0 11h0m0 4h0m0 24h0m0 3h0m0 12h0m0 40h0m0 51h0m0 45h0m1-270h0m0 5h0m0 41h0m0 20h0m0 18h0m0 14h0m0 13h0m0 7h0m0 6h0m0 31h0m0 20h0m1-242h0m0 11h0m0 53h0m0 32h0m0 15h0m0 5h0m0 11h0m0 10h0m0 12h0m0 26h0m0 9h0m0 33h0m0 20h0m0 5h0m0 49h0m1-280h0m0 27h0m0 16h0m0 26h0m0 28h0m0 31h0m0 4h0m0 2h0m0 19h0m0 8h0m0 19h0m0 16h0m0 26h0m0 48h0m0 68h0m1-310h0m0 17h0m0 18h0m0 6h0m0 24h0m0 16h0m0 9h0m0 12h0m0 0h0m0 39h0m0 38h0m0 3h0m1-210h0m0 11h0m0 2h0m0 16h0m0 29h0m0 2h0m0 2h0m0 5h0m0 4h0m0 19h0m0 30h0m0 49h0m0 30h0m0 3h0m0 314h0m1-468h0m0 17h0m0 5h0m0 27h0m0 31h0m0 5h0m0 2h0m0 8h0m0 2h0m0 17h0m0 20h0m0 21h0m0 18h0m1-190h0m0 6h0m0 8h0m0 40h0m0 3h0m0 21h0m0 0h0m0 29h0m0 23h0m0 10h0m0 14h0m0 0h0m0 4h0m0 64h0m0 138h0m1-369h0m0 1h0m0 11h0m0 26h0m0 39h0m0 15h0m0 13h0m0 37h0m0 42h0m0 188h0m1-451h0m0 22h0m0 20h0m0 15h0m0 27h0m0 33h0m0 8h0m0 8h0m0 7h0m0 6h0m0 1h0m0 14h0m0 7h0m0 2h0m0 13h0m0 55h0m0 3h0m1-161h0m0 5h0m0 15h0m0 5h0m0 5h0m0 19h0m0 1h0m0 25h0m0 15h0m0 4h0m0 2h0m0 29h0m0 27h0m0 12h0m0 30h0m0 259h0m1-456h0m0 9h0m0 5h0m0 34h0m0 7h0m0 9h0m0 3h0m0 38h0m0 49h0m0 14h0m0 17h0m0 166h0m1-391h0m0 21h0m0 37h0m0 49h0m0 7h0m0 6h0m0 23h0m0 71h0m0 17h0m1-190h0m0 23h0m0 4h0m0 13h0m0 15h0m0 22h0m0 2h0m0 12h0m0 8h0m0 8h0m0 10h0m0 3h0m0 19h0m0 64h0m1-203h0m0 12h0m0 4h0m0 35h0m0 20h0m0 10h0m0 4h0m0 20h0m0 17h0m0 13h0m0 7h0m0 2h0m0 26h0m0 24h0m1-201h0m0 20h0m0 23h0m0 3h0m0 14h0m0 23h0m0 16h0m0 1h0m0 5h0m0 3h0m0 1h0m0 4h0m0 0h0m0 21h0m0 23h0m0 15h0m0 10h0m0 78h0m1-230h0m0 12h0m0 1h0m0 32h0m0 5h0m0 8h0m0 1h0m0 11h0m0 5h0m0 6h0m0 11h0m0 3h0m0 5h0m0 7h0m0 41h0m0 82h0m1-240h0m0 1h0m0 0h0m0 30h0m0 2h0m0 3h0m0 4h0m0 6h0m0 11h0m0 22h0m0 7h0m0 13h0m0 1h0m0 8h0m0 9h0m0 11h0m0 0h0m0 4h0m0 2h0m0 28h0m1-196h0m0 29h0m0 6h0m0 16h0m0 8h0m0 17h0m0 0h0m0 2h0m0 3h0m0 9h0m0 1h0m0 1h0m0 5h0m0 16h0m0 12h0m0 8h0m0 13h0m0 7h0m0 11h0m0 4h0m0 37h0m0 38h0m0 18h0m0 67h0m1-252h0m0 36h0m0 2h0m0 7h0m0 0h0m0 12h0m0 14h0m0 56h0m0 209h0m1-452h0m0 43h0m0 3h0m0 16h0m0 4h0m0 2h0m0 38h0m0 17h0m0 17h0m0 7h0m0 2h0m0 1h0m0 13h0m0 21h0m0 11h0m0 0h0m0 0h0m0 12h0m0 25h0m0 2h0m0 3h0m0 24h0m1-230h0m0 11h0m0 41h0m0 1h0m0 11h0m0 23h0m0 3h0m0 27h0m0 5h0m0 7h0m0 1h0m0 8h0m0 16h0m0 1h0m0 1h0m0 10h0m0 8h0m0 23h0m1-192h0m0 8h0m0 49h0m0 18h0m0 10h0m0 13h0m0 13h0m0 1h0m0 2h0m0 14h0m0 1h0m0 3h0m0 1h0m0 1h0m0 0h0m0 10h0m0 3h0m0 37h0m0 20h0m0 143h0m1-342h0m0 9h0m0 0h0m0 33h0m0 13h0m0 12h0m0 30h0m0 14h0m0 4h0m0 4h0m0 1h0m0 2h0m0 3h0m0 13h0m0 13h0m0 19h0m0 9h0m0 28h0m0 40h0m0 47h0m1-293h0m0 53h0m0 13h0m0 22h0m0 25h0m0 1h0m0 8h0m0 18h0m0 3h0m0 93h0m0 43h0m1-313h0m0 7h0m0 9h0m0 4h0m0 99h0m0 17h0m0 9h0m0 1h0m0 1h0m0 4h0m0 1h0m0 16h0m0 15h0m0 13h0m0 156h0m1-290h0m0 11h0m0 15h0m0 12h0m0 1h0m0 9h0m0 0h0m0 22h0m0 8h0m0 4h0m0 3h0m0 8h0m0 7h0m0 0h0m0 13h0m0 6h0m0 19h0m0 4h0m0 32h0m1-241h0m0 61h0m0 16h0m0 4h0m0 3h0m0 26h0m0 11h0m0 11h0m0 21h0m0 10h0m0 4h0m0 5h0m0 39h0m0 0h0m0 7h0m0 10h0m0 21h0m0 34h0m0 89h0m1-339h0m0 28h0m0 0h0m0 18h0m0 6h0m0 22h0m0 3h0m0 8h0m0 9h0m0 2h0m0 30h0m0 0h0m0 27h0m0 22h0m0 12h0m0 19h0m0 3h0m0 17h0m0 5h0m1-232h0m0 1h0m0 21h0m0 0h0m0 5h0m0 65h0m0 23h0m0 12h0m0 5h0m0 2h0m0 21h0m1-169h0m0 20h0m0 9h0m0 7h0m0 41h0m0 11h0m0 18h0m0 19h0m0 3h0m0 1h0m0 2h0m0 0h0m0 57h0m0 37h0m0 16h0m1-178h0m0 12h0m0 6h0m0 9h0m0 10h0m0 14h0m0 10h0m0 6h0m0 5h0m0 7h0m0 0h0m0 7h0m0 6h0m0 6h0m0 7h0m0 95h0m0 14h0m1-286h0m0 32h0m0 23h0m0 2h0m0 3h0m0 7h0m0 17h0m0 2h0m0 2h0m0 2h0m0 1h0m0 12h0m0 6h0m0 2h0m0 13h0m0 23h0m0 4h0m0 5h0m0 41h0m0 57h0m0 100h0m1-346h0m0 25h0m0 51h0m0 5h0m0 14h0m0 20h0m0 7h0m0 5h0m0 6h0m0 4h0m0 8h0m0 11h0m0 4h0m0 6h0m0 164h0m1-276h0m0 11h0m0 15h0m0 8h0m0 15h0m0 11h0m0 7h0m0 4h0m0 5h0m0 15h0m0 17h0m0 3h0m0 33h0m0 46h0m1-242h0m0 26h0m0 8h0m0 10h0m0 20h0m0 8h0m0 12h0m0 14h0m0 7h0m0 1h0m0 22h0m0 5h0m0 4h0m0 5h0m0 11h0m0 19h0m0 5h0m0 1h0m0 20h0m0 16h0m0 51h0m1-225h0m0 8h0m0 9h0m0 1h0m0 12h0m0 6h0m0 1h0m0 3h0m0 26h0m0 8h0m0 2h0m0 59h0m0 42h0m0 16h0m0 7h0m1-216h0m0 5h0m0 1h0m0 40h0m0 6h0m0 8h0m0 17h0m0 18h0m0 36h0m0 1h0m0 2h0m0 155h0m0 84h0m1-333h0m0 2h0m0 1h0m0 8h0m0 22h0m0 10h0m0 1h0m0 1h0m0 4h0m0 37h0m0 19h0m1-170h0m0 7h0m0 4h0m0 25h0m0 3h0m0 18h0m0 2h0m0 4h0m0 19h0m0 7h0m0 0h0m0 7h0m0 12h0m0 9h0m0 0h0m0 9h0m0 5h0m0 4h0m0 2h0m0 1h0m0 15h0m0 12h0m0 23h0m0 0h0m0 56h0m0 72h0m1-295h0m0 2h0m0 18h0m0 4h0m0 21h0m0 5h0m0 2h0m0 7h0m0 25h0m0 1h0m0 1h0m0 32h0m0 13h0m0 36h0m0 10h0m0 1h0m0 30h0m0 70h0m0 30h0m1-320h0m0 4h0m0 22h0m0 34h0m0 18h0m0 11h0m0 0h0m0 2h0m0 9h0m0 12h0m0 19h0m0 22h0m1-176h0m0 5h0m0 13h0m0 18h0m0 15h0m0 8h0m0 40h0m0 7h0m0 11h0m0 4h0m0 22h0m0 1h0m0 1h0m0 0h0m0 11h0m0 3h0m0 3h0m0 20h0m0 9h0m0 11h0m0 170h0m1-344h0m0 6h0m0 50h0m0 23h0m0 3h0m0 2h0m0 2h0m0 5h0m0 15h0m0 9h0m0 4h0m0 9h0m0 0h0m0 1h0m0 3h0m0 6h0m0 8h0m0 1h0m0 16h0m0 3h0m0 15h0m0 81h0m0 21h0m1-280h0m0 11h0m0 6h0m0 5h0m0 26h0m0 4h0m0 3h0m0 23h0m0 30h0m0 9h0m0 17h0m0 57h0m0 16h0m1-241h0m0 40h0m0 1h0m0 13h0m0 7h0m0 12h0m0 6h0m0 12h0m0 1h0m0 17h0m0 6h0m0 7h0m0 2h0m0 3h0m0 24h0m0 20h0m0 31h0m0 11h0m0 19h0m1-192h0m0 12h0m0 1h0m0 8h0m0 15h0m0 2h0m0 2h0m0 24h0m0 12h0m0 21h0m0 7h0m0 1h0m0 6h0m0 6h0m0 8h0m0 12h0m0 3h0m0 31h0m0 13h0m0 10h0m0 10h0m0 37h0m1-243h0m0 14h0m0 18h0m0 55h0m0 12h0m0 3h0m0 10h0m0 17h0m0 24h0m0 10h0m0 10h0m0 7h0m0 53h0m1-267h0m0 28h0m0 3h0m0 11h0m0 4h0m0 6h0m0 1h0m0 3h0m0 12h0m0 13h0m0 0h0m0 14h0m0 20h0m0 12h0m0 30h0m0 4h0m0 7h0m0 2h0m0 1h0m0 7h0m0 7h0m0 10h0m0 9h0m0 15h0m0 9h0m1-221h0m0 54h0m0 24h0m0 23h0m0 3h0m0 0h0m0 10h0m0 4h0m0 8h0m0 7h0m0 7h0m0 7h0m0 22h0m0 23h0m0 32h0m0 19h0m0 6h0m0 4h0m0 24h0m1-276h0m0 30h0m0 5h0m0 20h0m0 1h0m0 4h0m0 49h0m0 0h0m0 4h0m0 10h0m0 3h0m0 5h0m0 23h0m0 1h0m0 5h0m0 16h0m0 13h0m0 30h0m1-242h0m0 32h0m0 39h0m0 11h0m0 5h0m0 5h0m0 32h0m0 9h0m0 8h0m0 6h0m0 2h0m0 7h0m0 33h0m0 1h0m0 7h0m0 12h0m0 3h0m0 29h0m0 63h0m1-285h0m0 30h0m0 20h0m0 3h0m0 22h0m0 4h0m0 3h0m0 9h0m0 8h0m0 7h0m0 1h0m0 19h0m0 10h0m0 7h0m0 5h0m0 5h0m0 2h0m0 13h0m0 4h0m0 18h0m0 27h0m0 28h0m0 111h0m1-376h0m0 11h0m0 65h0m0 1h0m0 10h0m0 1h0m0 5h0m0 9h0m0 4h0m0 3h0m0 1h0m0 2h0m0 2h0m0 10h0m0 7h0m0 1h0m0 12h0m0 4h0m0 2h0m0 1h0m0 3h0m0 5h0m0 1h0m0 3h0m0 4h0m0 0h0m0 6h0m0 18h0m0 1h0m0 17h0m0 18h0m0 15h0m0 30h0m1-208h0m0 1h0m0 8h0m0 16h0m0 1h0m0 6h0m0 3h0m0 34h0m0 0h0m0 18h0m0 2h0m0 5h0m0 7h0m0 7h0m0 1h0m0 2h0m0 15h0m0 4h0m0 3h0m0 9h0m0 35h0m0 12h0m1-257h0m0 49h0m0 11h0m0 8h0m0 25h0m0 8h0m0 19h0m0 6h0m0 16h0m0 1h0m0 1h0m0 2h0m0 4h0m0 5h0m0 1h0m0 15h0m0 14h0m0 23h0m0 51h0m1-239h0m0 27h0m0 26h0m0 6h0m0 15h0m0 14h0m0 16h0m0 4h0m0 9h0m0 2h0m0 14h0m0 2h0m0 8h0m0 2h0m0 10h0m0 13h0m0 1h0m0 16h0m0 12h0m0 75h0m1-274h0m0 20h0m0 21h0m0 2h0m0 33h0m0 8h0m0 9h0m0 3h0m0 14h0m0 3h0m0 3h0m0 3h0m0 12h0m0 11h0m0 1h0m0 2h0m0 4h0m0 1h0m0 14h0m0 13h0m0 14h0m0 7h0m0 11h0m0 86h0m0 23h0m1-320h0m0 15h0m0 16h0m0 4h0m0 5h0m0 10h0m0 1h0m0 9h0m0 7h0m0 3h0m0 8h0m0 3h0m0 1h0m0 11h0m0 24h0m0 9h0m0 69h0m0 3h0m0 5h0m0 11h0m1-212h0m0 15h0m0 15h0m0 11h0m0 3h0m0 8h0m0 5h0m0 12h0m0 8h0m0 3h0m0 3h0m0 3h0m0 14h0m0 1h0m0 5h0m0 2h0m0 1h0m0 8h0m0 1h0m0 5h0m0 1h0m0 3h0m0 4h0m0 4h0m0 6h0m0 1h0m0 21h0m0 13h0m0 72h0m1-266h0m0 26h0m0 25h0m0 2h0m0 12h0m0 14h0m0 1h0m0 12h0m0 15h0m0 40h0m0 1h0m0 4h0m0 21h0m0 30h0m0 4h0m0 28h0m0 4h0m1-247h0m0 56h0m0 22h0m0 48h0m0 0h0m0 1h0m0 9h0m0 6h0m0 0h0m0 1h0m0 12h0m0 0h0m0 1h0m0 11h0m0 9h0m0 2h0m0 10h0m0 2h0m0 7h0m0 9h0m0 25h0m0 10h0m0 2h0m0 10h0m0 6h0m1-185h0m0 10h0m0 4h0m0 3h0m0 0h0m0 7h0m0 2h0m0 16h0m0 5h0m0 4h0m0 4h0m0 20h0m0 11h0m0 6h0m0 22h0m0 7h0m0 3h0m0 10h0m0 4h0m0 34h0m0 178h0m1-392h0m0 51h0m0 9h0m0 2h0m0 2h0m0 0h0m0 9h0m0 1h0m0 2h0m0 4h0m0 7h0m0 3h0m0 46h0m0 8h0m0 5h0m0 6h0m0 8h0m0 1h0m0 32h0m0 6h0m1-234h0m0 10h0m0 72h0m0 1h0m0 3h0m0 4h0m0 1h0m0 1h0m0 17h0m0 1h0m0 2h0m0 5h0m0 19h0m0 5h0m0 0h0m0 1h0m0 5h0m0 6h0m0 4h0m0 10h0m0 8h0m0 4h0m0 33h0m0 58h0m0 26h0m1-273h0m0 15h0m0 27h0m0 14h0m0 3h0m0 2h0m0 8h0m0 2h0m0 9h0m0 2h0m0 10h0m0 3h0m0 8h0m0 2h0m0 9h0m0 4h0m0 10h0m0 1h0m0 4h0m0 25h0m0 15h0m0 26h0m0 0h0m0 8h0m1-200h0m0 10h0m0 5h0m0 6h0m0 29h0m0 11h0m0 1h0m0 11h0m0 2h0m0 7h0m0 17h0m0 10h0m0 0h0m0 30h0m0 5h0m0 6h0m0 5h0m0 3h0m0 9h0m0 10h0m0 8h0m0 25h0m1-230h0m0 36h0m0 38h0m0 1h0m0 13h0m0 3h0m0 6h0m0 4h0m0 0h0m0 0h0m0 4h0m0 2h0m0 1h0m0 9h0m0 2h0m0 0h0m0 0h0m0 11h0m0 16h0m0 0h0m0 24h0m0 2h0m0 4h0m0 0h0m0 0h0m0 26h0m0 11h0m0 21h0m1-228h0m0 46h0m0 25h0m0 1h0m0 4h0m0 12h0m0 17h0m0 3h0m0 16h0m0 5h0m0 6h0m0 1h0m0 4h0m0 2h0m0 9h0m0 7h0m0 11h0m0 192h0m1-358h0m0 60h0m0 1h0m0 1h0m0 3h0m0 1h0m0 5h0m0 9h0m0 2h0m0 2h0m0 26h0m0 5h0m0 9h0m0 3h0m0 32h0m0 8h0m0 3h0m0 1h0m0 8h0m0 2h0m0 1h0m0 22h0m1-190h0m0 34h0m0 0h0m0 36h0m0 22h0m0 30h0m0 1h0m0 0h0m0 3h0m0 10h0m0 1h0m0 13h0m0 1h0m0 2h0m0 13h0m0 0h0m0 67h0m0 31h0m1-261h0m0 33h0m0 0h0m0 3h0m0 20h0m0 9h0m0 4h0m0 6h0m0 0h0m0 1h0m0 25h0m0 4h0m0 0h0m0 0h0m0 12h0m0 1h0m0 2h0m0 2h0m0 3h0m0 13h0m0 6h0m0 6h0m0 14h0m0 12h0m0 13h0m1-194h0m0 23h0m0 4h0m0 14h0m0 26h0m0 5h0m0 1h0m0 4h0m0 0h0m0 3h0m0 2h0m0 15h0m0 1h0m0 3h0m0 20h0m0 0h0m0 1h0m0 8h0m0 7h0m0 14h0m0 2h0m0 27h0m0 1h0m0 46h0m1-207h0m0 10h0m0 25h0m0 25h0m0 24h0m0 5h0m0 2h0m0 3h0m0 0h0m0 4h0m0 6h0m0 19h0m0 10h0m0 46h0m0 5h0m0 24h0m1-258h0m0 60h0m0 17h0m0 24h0m0 10h0m0 2h0m0 4h0m0 4h0m0 8h0m0 11h0m0 4h0m0 6h0m0 10h0m0 2h0m0 2h0m0 5h0m0 4h0m0 4h0m0 2h0m0 59h0m0 46h0m1-234h0m0 12h0m0 0h0m0 4h0m0 9h0m0 4h0m0 20h0m0 9h0m0 13h0m0 9h0m0 0h0m0 4h0m0 19h0m0 7h0m0 4h0m0 5h0m0 4h0m0 3h0m0 15h0m0 7h0m0 12h0m0 1h0m0 0h0m0 17h0m1-223h0m0 38h0m0 6h0m0 4h0m0 14h0m0 7h0m0 9h0m0 6h0m0 12h0m0 4h0m0 25h0m0 3h0m0 2h0m0 9h0m0 7h0m0 5h0m0 1h0m0 2h0m0 29h0m0 2h0m0 7h0m0 2h0m0 1h0m0 8h0m0 6h0m0 15h0m0 11h0m1-232h0m0 32h0m0 1h0m0 6h0m0 6h0m0 1h0m0 6h0m0 2h0m0 11h0m0 4h0m0 5h0m0 2h0m0 7h0m0 0h0m0 22h0m0 7h0m0 4h0m0 2h0m0 11h0m0 25h0m0 2h0m0 3h0m0 4h0m0 6h0m0 19h0m0 7h0m0 132h0m1-317h0m0 14h0m0 3h0m0 3h0m0 21h0m0 1h0m0 12h0m0 0h0m0 17h0m0 9h0m0 12h0m0 0h0m0 4h0m0 5h0m0 2h0m0 14h0m0 2h0m0 5h0m0 3h0m0 1h0m0 1h0m0 8h0m0 5h0m0 6h0m0 23h0m0 62h0m1-231h0m0 27h0m0 18h0m0 40h0m0 2h0m0 2h0m0 10h0m0 17h0m0 0h0m0 2h0m0 6h0m0 2h0m0 6h0m0 6h0m0 9h0m0 7h0m0 27h0m0 23h0m0 8h0m0 33h0m1-235h0m0 32h0m0 15h0m0 6h0m0 3h0m0 7h0m0 0h0m0 4h0m0 9h0m0 8h0m0 3h0m0 0h0m0 2h0m0 14h0m0 2h0m0 2h0m0 6h0m0 21h0m0 9h0m0 11h0m0 5h0m0 18h0m1-201h0m0 41h0m0 31h0m0 14h0m0 26h0m0 1h0m0 7h0m0 7h0m0 6h0m0 1h0m0 3h0m0 4h0m0 29h0m0 2h0m0 12h0m0 13h0m0 8h0m0 39h0m0 9h0m1-211h0m0 17h0m0 6h0m0 13h0m0 2h0m0 2h0m0 1h0m0 14h0m0 0h0m0 20h0m0 14h0m0 4h0m0 3h0m0 1h0m0 7h0m0 5h0m0 8h0m0 3h0m0 10h0m0 2h0m0 11h0m0 3h0m0 21h0m0 43h0m1-226h0m0 2h0m0 30h0m0 2h0m0 25h0m0 3h0m0 2h0m0 14h0m0 3h0m0 7h0m0 5h0m0 10h0m0 10h0m0 9h0m0 1h0m0 0h0m0 4h0m0 11h0m0 0h0m0 2h0m0 14h0m0 25h0m0 6h0m0 79h0m0 9h0m1-263h0m0 6h0m0 6h0m0 21h0m0 12h0m0 1h0m0 5h0m0 4h0m0 6h0m0 7h0m0 0h0m0 5h0m0 5h0m0 1h0m0 4h0m0 1h0m0 1h0m0 4h0m0 13h0m0 1h0m0 12h0m0 5h0m0 1h0m0 13h0m0 2h0m0 15h0m1-180h0m0 58h0m0 4h0m0 9h0m0 12h0m0 4h0m0 6h0m0 7h0m0 4h0m0 16h0m0 1h0m0 4h0m0 13h0m0 7h0m0 0h0m0 13h0m0 2h0m0 0h0m0 18h0m0 30h0m1-208h0m0 23h0m0 8h0m0 8h0m0 6h0m0 10h0m0 1h0m0 1h0m0 2h0m0 25h0m0 2h0m0 3h0m0 0h0m0 1h0m0 7h0m0 0h0m0 2h0m0 1h0m0 7h0m0 10h0m0 1h0m0 13h0m0 2h0m0 4h0m0 2h0m0 5h0m0 5h0m0 1h0m0 2h0m0 12h0m0 14h0m0 1h0m0 6h0m0 13h0m0 33h0m1-165h0m0 8h0m0 3h0m0 6h0m0 7h0m0 2h0m0 6h0m0 4h0m0 9h0m0 1h0m0 4h0m0 9h0m0 6h0m0 0h0m0 1h0m0 5h0m0 1h0m0 6h0m0 1h0m0 4h0m0 8h0m0 2h0m0 7h0m0 22h0m1-162h0m0 20h0m0 7h0m0 3h0m0 19h0m0 10h0m0 8h0m0 9h0m0 1h0m0 4h0m0 1h0m0 0h0m0 6h0m0 13h0m0 9h0m0 1h0m0 7h0m0 4h0m0 4h0m0 6h0m0 1h0m0 1h0m0 4h0m0 18h0m0 10h0m0 48h0m0 15h0m0 69h0m1-302h0m0 27h0m0 19h0m0 1h0m0 1h0m0 5h0m0 3h0m0 2h0m0 4h0m0 1h0m0 8h0m0 0h0m0 1h0m0 8h0m0 2h0m0 10h0m0 8h0m0 8h0m0 12h0m0 0h0m0 13h0m0 11h0m0 7h0m0 14h0m0 37h0m1-157h0m0 5h0m0 3h0m0 1h0m0 19h0m0 11h0m0 15h0m0 15h0m0 13h0m0 3h0m0 19h0m0 2h0m0 37h0m0 29h0m1-252h0m0 36h0m0 25h0m0 7h0m0 0h0m0 28h0m0 5h0m0 9h0m0 3h0m0 4h0m0 5h0m0 3h0m0 2h0m0 3h0m0 4h0m0 8h0m0 23h0m0 3h0m0 30h0m0 22h0m0 37h0m1-237h0m0 7h0m0 34h0m0 3h0m0 14h0m0 0h0m0 25h0m0 9h0m0 16h0m0 27h0m0 2h0m0 6h0m0 7h0m0 10h0m0 5h0m0 13h0m0 5h0m0 6h0m0 4h0m0 3h0m0 12h0m0 21h0m1-157h0m0 9h0m0 8h0m0 14h0m0 2h0m0 6h0m0 8h0m0 17h0m0 7h0m0 6h0m0 3h0m0 2h0m0 34h0m0 10h0m1-173h0m0 5h0m0 2h0m0 2h0m0 10h0m0 19h0m0 2h0m0 18h0m0 3h0m0 1h0m0 3h0m0 5h0m0 5h0m0 11h0m0 6h0m0 5h0m0 6h0m0 1h0m0 1h0m0 2h0m0 7h0m0 1h0m0 1h0m0 6h0m0 48h0m0 3h0m1-161h0m0 8h0m0 2h0m0 4h0m0 0h0m0 6h0m0 3h0m0 17h0m0 1h0m0 14h0m0 2h0m0 2h0m0 4h0m0 1h0m0 6h0m0 15h0m0 17h0m0 8h0m0 7h0m0 1h0m0 9h0m0 11h0m0 7h0m0 9h0m0 5h0m1-216h0m0 5h0m0 38h0m0 36h0m0 5h0m0 1h0m0 23h0m0 4h0m0 4h0m0 7h0m0 5h0m0 2h0m0 3h0m0 39h0m0 12h0m0 22h0m0 109h0m1-308h0m0 30h0m0 22h0m0 7h0m0 0h0m0 36h0m0 2h0m0 12h0m0 5h0m0 8h0m0 2h0m0 1h0m0 4h0m0 2h0m0 2h0m0 5h0m0 2h0m0 6h0m0 7h0m0 42h0m0 9h0m1-194h0m0 23h0m0 7h0m0 11h0m0 1h0m0 6h0m0 6h0m0 14h0m0 1h0m0 19h0m0 26h0m0 2h0m0 7h0m0 16h0m0 22h0m0 15h0m0 69h0m1-226h0m0 10h0m0 3h0m0 21h0m0 6h0m0 6h0m0 9h0m0 2h0m0 10h0m0 2h0m0 9h0m0 1h0m0 9h0m0 15h0m0 6h0m0 3h0m0 2h0m0 8h0m0 43h0m0 22h0m0 7h0m0 4h0m1-216h0m0 40h0m0 16h0m0 5h0m0 2h0m0 6h0m0 11h0m0 1h0m0 8h0m0 1h0m0 1h0m0 16h0m0 4h0m0 2h0m0 9h0m0 3h0m0 1h0m0 6h0m0 0h0m0 4h0m0 29h0m0 3h0m0 20h0m0 5h0m0 1h0m0 1h0m1-194h0m0 42h0m0 8h0m0 4h0m0 2h0m0 18h0m0 2h0m0 4h0m0 12h0m0 12h0m0 1h0m0 5h0m0 5h0m0 1h0m0 4h0m0 4h0m0 19h0m0 20h0m0 8h0m0 26h0m0 78h0m1-250h0m0 18h0m0 15h0m0 8h0m0 6h0m0 31h0m0 1h0m0 1h0m0 1h0m0 3h0m0 12h0m0 6h0m0 3h0m0 4h0m0 3h0m0 11h0m0 3h0m0 13h0m0 13h0m0 25h0m0 18h0m1-194h0m0 3h0m0 24h0m0 6h0m0 8h0m0 8h0m0 3h0m0 6h0m0 11h0m0 0h0m0 6h0m0 0h0m0 5h0m0 1h0m0 1h0m0 0h0m0 4h0m0 3h0m0 1h0m0 3h0m0 4h0m0 8h0m0 8h0m0 9h0m0 3h0m0 2h0m0 35h0m1-157h0m0 5h0m0 26h0m0 12h0m0 4h0m0 9h0m0 2h0m0 4h0m0 8h0m0 9h0m0 10h0m0 13h0m0 15h0m0 5h0m0 5h0m0 58h0m0 47h0m1-234h0m0 17h0m0 9h0m0 0h0m0 3h0m0 3h0m0 8h0m0 37h0m0 3h0m0 2h0m0 2h0m0 7h0m0 4h0m0 0h0m0 4h0m0 20h0m0 89h0m0 121h0m1-328h0m0 6h0m0 1h0m0 13h0m0 30h0m0 8h0m0 5h0m0 1h0m0 5h0m0 0h0m0 1h0m0 3h0m0 2h0m0 10h0m0 40h0m0 7h0m0 75h0m1-196h0m0 1h0m0 1h0m0 40h0m0 9h0m0 1h0m0 9h0m0 32h0m0 8h0m0 10h0m0 1h0m0 33h0m1-183h0m0 4h0m0 11h0m0 11h0m0 31h0m0 3h0m0 5h0m0 4h0m0 4h0m0 21h0m0 24h0m0 6h0m0 8h0m0 1h0m0 2h0m0 3h0m0 0h0m0 3h0m0 2h0m0 26h0m0 7h0m0 54h0m1-242h0m0 2h0m0 23h0m0 35h0m0 12h0m0 6h0m0 16h0m0 1h0m0 1h0m0 5h0m0 9h0m0 1h0m0 18h0m0 9h0m0 4h0m0 0h0m0 16h0m0 4h0m0 31h0m0 7h0m0 130h0m1-326h0m0 1h0m0 18h0m0 21h0m0 3h0m0 0h0m0 8h0m0 5h0m0 0h0m0 22h0m0 7h0m0 2h0m0 33h0m0 11h0m0 11h0m0 2h0m0 61h0m0 10h0m1-191h0m0 6h0m0 28h0m0 5h0m0 15h0m0 7h0m0 13h0m0 28h0m0 19h0m0 5h0m0 32h0m0 29h0m1-179h0m0 25h0m0 22h0m0 2h0m0 3h0m0 3h0m0 1h0m0 9h0m0 3h0m0 0h0m0 3h0m0 10h0m0 7h0m0 2h0m0 6h0m0 2h0m0 23h0m0 7h0m0 23h0m1-183h0m0 8h0m0 42h0m0 18h0m0 10h0m0 10h0m0 2h0m0 6h0m0 5h0m0 5h0m0 2h0m0 1h0m0 16h0m0 3h0m0 1h0m0 0h0m0 0h0m0 6h0m0 11h0m0 3h0m0 32h0m1-170h0m0 17h0m0 6h0m0 1h0m0 21h0m0 7h0m0 2h0m0 8h0m0 3h0m0 40h0m0 4h0m0 15h0m0 17h0m0 9h0m0 7h0m0 14h0m0 4h0m0 3h0m1-165h0m0 20h0m0 3h0m0 13h0m0 1h0m0 3h0m0 8h0m0 0h0m0 16h0m0 4h0m0 4h0m0 3h0m0 5h0m0 10h0m0 17h0m0 3h0m0 9h0m0 4h0m0 2h0m0 30h0m0 12h0m0 12h0m1-188h0m0 9h0m0 14h0m0 35h0m0 21h0m0 3h0m0 2h0m0 3h0m0 1h0m0 0h0m0 8h0m0 21h0m0 0h0m0 49h0m0 15h0m0 23h0m1-179h0m0 23h0m0 8h0m0 1h0m0 0h0m0 6h0m0 0h0m0 6h0m0 2h0m0 1h0m0 31h0m0 15h0m0 16h0m0 37h0m0 10h0m0 11h0m1-198h0m0 48h0m0 1h0m0 11h0m0 7h0m0 2h0m0 36h0m0 6h0m0 8h0m0 82h0m1-181h0m0 1h0m0 15h0m0 6h0m0 2h0m0 2h0m0 2h0m0 11h0m0 2h0m0 17h0m0 5h0m0 1h0m0 6h0m0 15h0m0 14h0m0 6h0m0 25h0m0 1h0m0 3h0m0 11h0m0 2h0m0 3h0m0 5h0m1-158h0m0 1h0m0 30h0m0 6h0m0 40h0m0 8h0m0 7h0m0 13h0m0 30h0m0 14h0m0 9h0m0 28h0m0 19h0m0 2h0m1-201h0m0 26h0m0 1h0m0 46h0m0 13h0m0 16h0m0 5h0m0 8h0m0 5h0m0 2h0m0 33h0m0 18h0m0 18h0m1-237h0m0 42h0m0 14h0m0 33h0m0 10h0m0 3h0m0 24h0m0 9h0m0 0h0m0 5h0m0 9h0m0 15h0m0 4h0m0 4h0m0 24h0m0 8h0m1-152h0m0 16h0m0 1h0m0 25h0m0 4h0m0 16h0m0 0h0m0 1h0m0 0h0m0 23h0m0 5h0m0 34h0m1-128h0m0 1h0m0 1h0m0 7h0m0 1h0m0 4h0m0 10h0m0 1h0m0 5h0m0 6h0m0 2h0m0 20h0m0 22h0m0 11h0m0 39h0m0 14h0m0 61h0m1-253h0m0 8h0m0 29h0m0 22h0m0 8h0m0 9h0m0 11h0m0 11h0m0 8h0m0 14h0m0 3h0m0 4h0m0 3h0m0 19h0m0 1h0m0 2h0m0 17h0m0 2h0m0 3h0m0 1h0m0 8h0m1-148h0m0 5h0m0 20h0m0 6h0m0 1h0m0 1h0m0 16h0m0 2h0m0 16h0m0 1h0m0 4h0m0 9h0m0 3h0m0 2h0m0 5h0m0 2h0m0 1h0m0 5h0m0 20h0m0 4h0m1-138h0m0 17h0m0 4h0m0 20h0m0 1h0m0 43h0m0 7h0m0 10h0m0 15h0m0 64h0m0 8h0m0 3h0m1-185h0m0 11h0m0 13h0m0 12h0m0 3h0m0 8h0m0 14h0m0 22h0m0 13h0m0 33h0m0 12h0m1-164h0m0 3h0m0 37h0m0 2h0m0 11h0m0 33h0m0 1h0m0 18h0m0 3h0m0 8h0m0 3h0m0 5h0m0 10h0m0 7h0m0 1h0m0 5h0m0 0h0m0 9h0m1-134h0m0 4h0m0 6h0m0 6h0m0 4h0m0 12h0m0 0h0m0 1h0m0 3h0m0 4h0m0 11h0m0 16h0m0 16h0m0 1h0m0 6h0m0 21h0m0 6h0m0 49h0m0 3h0m0 4h0m1-186h0m0 33h0m0 13h0m0 0h0m0 5h0m0 1h0m0 23h0m0 3h0m0 2h0m0 7h0m0 5h0m0 11h0m0 2h0m0 6h0m0 6h0m0 3h0m0 4h0m0 8h0m0 10h0m0 0h0m0 14h0m1-146h0m0 15h0m0 2h0m0 58h0m0 3h0m0 16h0m0 0h0m0 16h0m0 3h0m0 2h0m0 7h0m0 2h0m0 1h0m0 37h0m1-171h0m0 5h0m0 30h0m0 6h0m0 13h0m0 11h0m0 22h0m0 14h0m0 0h0m0 13h0m0 13h0m0 9h0m0 7h0m1-139h0m0 46h0m0 4h0m0 0h0m0 1h0m0 15h0m0 1h0m0 1h0m0 11h0m0 3h0m0 4h0m0 13h0m0 9h0m0 25h0m0 2h0m0 3h0m0 23h0m0 88h0m1-245h0m0 35h0m0 13h0m0 27h0m0 4h0m0 1h0m0 4h0m0 20h0m0 5h0m0 4h0m0 15h0m0 1h0m0 14h0m0 25h0m0 0h0m0 34h0m1-181h0m0 6h0m0 1h0m0 9h0m0 3h0m0 5h0m0 15h0m0 2h0m0 3h0m0 25h0m0 12h0m0 2h0m0 3h0m0 1h0m0 72h0m0 11h0m1-198h0m0 23h0m0 27h0m0 34h0m0 10h0m0 6h0m0 9h0m0 24h0m0 27h0m0 58h0m0 13h0m1-215h0m0 39h0m0 22h0m0 8h0m0 5h0m0 2h0m0 10h0m0 4h0m0 13h0m0 7h0m0 1h0m0 41h0m0 7h0m0 37h0m1-193h0m0 9h0m0 9h0m0 8h0m0 13h0m0 3h0m0 12h0m0 1h0m0 5h0m0 5h0m0 51h0m0 5h0m0 10h0m0 12h0m0 49h0m1-226h0m0 0h0m0 4h0m0 44h0m0 18h0m0 0h0m0 3h0m0 2h0m0 25h0m0 10h0m0 16h0m0 10h0m0 8h0m0 1h0m0 2h0m0 91h0m1-223h0m0 4h0m0 10h0m0 3h0m0 3h0m0 2h0m0 20h0m0 8h0m0 12h0m0 21h0m0 4h0m0 1h0m0 19h0m0 23h0m0 47h0m1-158h0m0 13h0m0 5h0m0 25h0m0 24h0m0 14h0m0 16h0m0 4h0m0 2h0m0 1h0m0 4h0m0 19h0m0 39h0m1-191h0m0 16h0m0 7h0m0 13h0m0 4h0m0 12h0m0 3h0m0 13h0m0 0h0m0 21h0m0 13h0m0 15h0m0 12h0m0 33h0m0 17h0m1-129h0m0 4h0m0 15h0m0 3h0m0 3h0m0 15h0m0 8h0m0 9h0m0 19h0m0 3h0m0 10h0m0 5h0m0 1h0m0 14h0m0 15h0m0 3h0m0 10h0m0 107h0m1-277h0m0 19h0m0 1h0m0 6h0m0 9h0m0 24h0m0 31h0m0 23h0m0 18h0m0 39h0m0 1h0m1-181h0m0 1h0m0 34h0m0 23h0m0 3h0m0 5h0m0 14h0m0 24h0m0 1h0m0 4h0m0 13h0m0 159h0m1-248h0m0 18h0m0 2h0m0 25h0m0 27h0m0 23h0m0 15h0m0 9h0m1-140h0m0 5h0m0 26h0m0 26h0m0 2h0m0 9h0m0 31h0m0 54h0m0 13h0m0 16h0m1-174h0m0 35h0m0 22h0m0 14h0m0 41h0m0 18h0m1-152h0m0 3h0m0 7h0m0 15h0m0 4h0m0 20h0m0 2h0m0 35h0m0 4h0m0 5h0m0 13h0m0 38h0m0 5h0m0 20h0m0 37h0m1-214h0m0 16h0m0 19h0m0 2h0m0 56h0m0 99h0m1-191h0m0 35h0m0 19h0m0 4h0m0 1h0m0 2h0m0 21h0m0 3h0m0 9h0m0 0h0m0 7h0m0 33h0m0 83h0m1-186h0m0 0h0m0 20h0m0 1h0m0 9h0m0 12h0m0 12h0m0 60h0m0 35h0m0 11h0m1-190h0m0 38h0m0 22h0m0 3h0m0 14h0m0 13h0m0 84h0m1-177h0m0 18h0m0 20h0m0 1h0m0 16h0m0 14h0m0 11h0m0 16h0m0 22h0m0 10h0m0 26h0m1-130h0m0 22h0m0 5h0m0 6h0m0 14h0m0 4h0m0 4h0m0 25h0m0 39h0m1-108h0m0 28h0m0 26h0m0 5h0m0 6h0m0 3h0m0 12h0m0 11h0m0 23h0m0 1h0m1-148h0m0 2h0m0 65h0m0 7h0m0 27h0m0 5h0m0 17h0m0 13h0m0 6h0m0 103h0m1-231h0m0 7h0m0 5h0m0 30h0m0 2h0m0 41h0m0 13h0m0 0h0m0 68h0m1-169h0m0 11h0m0 32h0m0 7h0m0 24h0m0 26h0m0 6h0m0 18h0m0 6h0m0 5h0m0 11h0m0 3h0m0 96h0m1-241h0m0 18h0m0 16h0m0 4h0m0 5h0m0 15h0m0 16h0m0 5h0m0 9h0m0 30h0m0 6h0m1-134h0m0 33h0m0 53h0m0 2h0m0 2h0m0 32h0m0 45h0m0 18h0m0 2h0m1-156h0m0 22h0m0 0h0m0 34h0m0 20h0m0 132h0m1-231h0m0 20h0m0 12h0m0 12h0m0 29h0m0 13h0m0 14h0m0 4h0m0 74h0m1-155h0m0 2h0m0 23h0m0 98h0m0 30h0m1-123h0m0 5h0m0 73h0m1-83h0m0 10h0m0 142h0m1-210h0m0 9h0m0 0h0m0 15h0m0 2h0m0 3h0m0 23h0m0 4h0m0 3h0m0 2h0m0 7h0m0 17h0m0 40h0m0 0h0m0 8h0m0 15h0m0 33h0m1-185h0m0 47h0m0 9h0m0 2h0m0 34h0m1-74h0m0 9h0m0 16h0m0 10h0m0 18h0m0 6h0m0 2h0m0 7h0m0 27h0m0 31h0m0 26h0m0 56h0m1-176h0m0 9h0m0 30h0m0 8h0m0 10h0m0 9h0m0 26h0m0 12h0m0 2h0m0 8h0m1-159h0m0 29h0m0 35h0m0 61h0m1-78h0m0 39h0m0 17h0m1-98h0m0 13h0m0 7h0m0 18h0m0 19h0m0 14h0m0 3h0m0 32h0m0 13h0m0 29h0m0 16h0m1-147h0m0 7h0m0 5h0m0 6h0m0 17h0m0 1h0m0 11h0m0 13h0m0 33h0m0 21h0m0 6h0m0 6h0m0 5h0m1-110h0m0 14h0m0 4h0m1-72h0m0 13h0m0 0h0m0 12h0m0 14h0m0 32h0m0 11h0m0 4h0m0 0h0m0 3h0m0 7h0m0 25h0m0 5h0m0 10h0m1-135h0m0 0h0m0 4h0m0 7h0m0 8h0m0 1h0m0 9h0m0 42h0m0 10h0m0 15h0m0 18h0m0 45h0m0 20h0m1-168h0m0 36h0m0 3h0m0 3h0m0 35h0m0 1h0m0 4h0m0 13h0m1-92h0m0 13h0m0 11h0m0 5h0m0 35h0m0 19h0m0 5h0m1-49h0m0 1h0m0 3h0m0 43h0m0 3h0m0 48h0m0 12h0m1-149h0m0 16h0m0 0h0m0 3h0m0 11h0m0 67h0m0 97h0m1-197h0m0 46h0m0 26h0m0 25h0m0 13h0m0 5h0m0 12h0m0 27h0m1-108h0m0 2h0m0 2h0m0 59h0m0 0h0m0 98h0m1-218h0m0 14h0m0 10h0m0 2h0m0 104h0m0 14h0m1-131h0m0 8h0m0 11h0m0 1h0m0 8h0m0 31h0m0 1h0m0 2h0m0 34h0m0 15h0m0 108h0m1-227h0m0 15h0m0 23h0m0 32h0m0 10h0m0 59h0m1-112h0m0 11h0m0 72h0m0 1h0m0 2h0m0 24h0m0 6h0m1-128h0m0 7h0m0 20h0m0 4h0m0 12h0m0 26h0m1-88h0m0 13h0m0 1h0m0 30h0m0 3h0m0 0h0m0 11h0m0 1h0m0 27h0m0 1h0m0 29h0m0 10h0m0 24h0m1-151h0m0 13h0m0 47h0m0 11h0m0 13h0m0 6h0m0 14h0m0 2h0m0 20h0m1-122h0m0 42h0m0 15h0m0 28h0m0 22h0m0 4h0m0 42h0m0 11h0m1-166h0m0 4h0m0 6h0m0 10h0m0 20h0m0 24h0m0 5h0m0 12h0m1-82h0m0 18h0m0 69h0m0 26h0m0 20h0m1-133h0m0 2h0m0 3h0m0 0h0m0 7h0m0 35h0m0 20h0m0 6h0m0 6h0m0 26h0m0 50h0m0 20h0m1-177h0m0 4h0m0 24h0m1 33h0m0 22h0m0 54h0m0 12h0m0 42h0m1-157h0m0 50h0m0 23h0m0 39h0m0 77h0m1-217h0m0 115h0m0 8h0m1 0h0m1-123h0m0 9h0m0 1h0m0 79h0m1-91h0m0 0h0m0 8h0m0 3h0m0 10h0m0 5h0m0 36h0m1-65h0m0 9h0m1 0h0m0 3h0m0 32h0m0 8h0m0 93h0m1-141h0m0 14h0m0 145h0m1-103h0m0 37h0m0 1h0m0 13h0m0 0h0m0 117h0m1-226h0m0 2h0m0 3h0m1-5h0m0 5h0m0 0h0m0 1h0m0 4h0m0 1h0m0 51h0m0 102h0m1-164h0m0 5h0m0 73h0m0 132h0m1-207h0m0 5h0m0 43h0m0 39h0m1-76h0m0 241h0"/>
<rect x="406.5" y="162.8" width="112.8" height="112" fill="#fff" stroke="#a8a8a8" stroke-width="1"/><path d="M419.7 261.4H514.8M419.7 242.58H514.8M419.7 223.76H514.8M419.7 204.94H514.8M419.7 186.12H514.8M419.7 167.3H514.8" stroke="#dadada" stroke-width="0.9" fill="none"/><path d="M420.5 167.3V261.4" stroke="#c4c4c4" stroke-width="0.8" fill="none"/><text x="417.5" y="262.7" class="sy">0</text><text x="417.5" y="243.88" class="sy">0.2</text><text x="417.5" y="225.06" class="sy">0.4</text><text x="417.5" y="206.24" class="sy">0.6</text><text x="417.5" y="187.42" class="sy">0.8</text><text x="417.5" y="168.6" class="sy">1</text><text x="421" y="268.7" class="sx">0</text><text x="467.75" y="268.7" class="sx">0.5</text><text x="514.5" y="268.7" class="sx">1</text>
<polygon class="c4" points="422.59,257.97 422.38,257.63 422.24,257.19 422.16,256.64 422.12,255.98 422.12,255.2 422.16,254.3 422.24,253.31 422.35,252.23 422.52,251.09 422.73,249.9 423.25,248.99 423.87,248.13 424.57,247.29 425.32,246.5 426.14,245.76 427.01,245.08 427.92,244.46 428.85,243.92 429.81,243.46 430.78,243.08 431.74,242.79 432.69,242.59 433.62,242.49 434.52,242.48 435.37,242.57 436.18,242.75 436.92,243.02 437.59,243.38 438.19,243.83 438.71,244.36 439.13,244.96 439.47,245.63 439.71,246.36 439.84,247.15 439.88,247.97 439.82,248.84 439.65,249.72 439.39,250.63 439.03,251.54 438.58,252.44 438.05,253.34 437.43,254.2 436.73,255.04 435.98,255.83 435.16,256.57 434.29,257.25 433.38,257.87 432.45,258.41 431.49,258.87 430.51,259.23 429.31,259.24 428.16,259.2 427.09,259.13 426.1,259.03 425.22,258.92 424.46,258.78 423.81,258.63 423.29,258.45 422.89,258.24"/>
<polygon class="c4" points="506.22,175.94 506.61,176.41 506.93,176.98 507.16,177.64 507.32,178.4 507.41,179.26 507.44,180.2 507.39,181.21 507.17,182.19 506.84,183.18 506.42,184.17 505.9,185.18 505.3,186.17 504.63,187.13 503.88,188.07 503.07,188.97 502.21,189.81 501.3,190.6 500.36,191.31 499.4,191.95 498.43,192.5 497.45,192.96 496.48,193.33 495.53,193.6 494.61,193.76 493.73,193.83 492.9,193.78 492.13,193.63 491.42,193.38 490.79,193.03 490.24,192.59 489.78,192.05 489.41,191.43 489.13,190.73 488.96,189.95 488.89,189.12 488.92,188.23 489.05,187.3 489.28,186.34 489.61,185.35 490.04,184.35 490.55,183.35 491.15,182.36 491.83,181.39 492.58,180.45 493.39,179.56 494.25,178.71 495.15,177.93 496.09,177.21 497.05,176.58 498.03,176.02 499.01,175.56 499.97,175.19 500.93,174.94 501.94,174.86 502.88,174.85 503.73,174.91 504.49,175.05 505.16,175.26 505.73,175.55"/>
<path class="p4" transform="scale(.1)" d="M4210 2473h0m0 28h0m0 20h0m0 36h0m0 8h0m0 1h0m0 9h0m0 12h0m0 3h0m0 2h0m0 1h0m0 1h0m1-103h0m0 28h0m0 18h0m0 1h0m0 7h0m0 25h0m0 5h0m0 8h0m0 4h0m0 4h0m1-98h0m0 19h0m0 17h0m0 20h0m0 24h0m0 4h0m0 10h0m0 2h0m0 5h0m0 0h0m0 0h0m0 1h0m1-117h0m0 68h0m0 8h0m0 14h0m0 3h0m0 2h0m0 2h0m0 5h0m0 3h0m0 2h0m0 5h0m0 3h0m0 1h0m0 1h0m1-132h0m0 5h0m0 0h0m0 81h0m0 8h0m0 20h0m0 2h0m0 1h0m0 1h0m0 1h0m0 7h0m1-93h0m0 17h0m0 35h0m0 7h0m0 12h0m0 5h0m0 6h0m0 5h0m0 2h0m0 2h0m0 1h0m0 6h0m0 0h0m1-177h0m0 25h0m0 27h0m0 31h0m0 16h0m0 4h0m0 38h0m0 10h0m0 1h0m0 8h0m0 1h0m0 1h0m0 6h0m0 2h0m0 4h0m0 0h0m0 2h0m1-80h0m0 34h0m0 17h0m0 1h0m0 1h0m0 14h0m0 6h0m0 6h0m1-147h0m0 23h0m0 84h0m0 20h0m0 10h0m0 3h0m0 8h0m1-115h0m0 69h0m0 7h0m0 27h0m0 1h0m0 13h0m1-182h0m0 56h0m0 21h0m0 44h0m0 36h0m0 4h0m0 11h0m0 5h0m0 3h0m0 2h0m1-253h0m0 42h0m0 91h0m0 25h0m0 6h0m0 16h0m0 8h0m0 8h0m0 25h0m0 8h0m0 8h0m0 8h0m0 3h0m0 4h0m1-216h0m0 17h0m0 7h0m0 14h0m0 76h0m0 26h0m0 1h0m0 45h0m0 8h0m0 19h0m0 3h0m1-100h0m0 17h0m0 20h0m0 9h0m0 12h0m0 24h0m0 0h0m0 5h0m0 9h0m0 0h0m0 4h0m1-151h0m0 14h0m0 10h0m0 15h0m0 44h0m0 2h0m0 7h0m0 6h0m0 1h0m0 19h0m0 16h0m0 10h0m1-150h0m0 71h0m0 3h0m0 29h0m0 33h0m0 3h0m0 0h0m0 5h0m0 10h0m0 2h0m1-142h0m0 32h0m0 13h0m0 47h0m0 3h0m0 3h0m0 2h0m0 3h0m1-75h0m0 1h0m0 23h0m0 3h0m0 15h0m0 13h0m0 9h0m0 29h0m0 17h0m0 6h0m1-155h0m0 32h0m0 15h0m0 34h0m0 30h0m0 8h0m0 12h0m0 10h0m0 7h0m1-155h0m0 92h0m0 51h0m0 2h0m0 1h0m0 5h0m0 3h0m0 7h0m1-161h0m0 23h0m0 14h0m0 1h0m0 7h0m0 35h0m0 17h0m0 17h0m0 2h0m0 8h0m1-191h0m0 87h0m0 22h0m0 6h0m0 19h0m0 17h0m0 8h0m0 46h0m0 4h0m0 8h0m0 4h0m0 3h0m0 1h0m1-96h0m0 0h0m0 14h0m0 10h0m0 45h0m0 4h0m0 12h0m0 5h0m0 5h0m0 2h0m1-126h0m0 5h0m0 17h0m0 28h0m0 15h0m0 11h0m0 18h0m0 3h0m0 6h0m0 3h0m0 9h0m0 4h0m0 4h0m0 0h0m1-129h0m0 29h0m0 39h0m0 26h0m0 30h0m0 11h0m1-179h0m0 19h0m0 21h0m0 3h0m0 1h0m0 2h0m0 27h0m0 29h0m0 1h0m0 11h0m0 5h0m0 0h0m0 5h0m0 0h0m0 3h0m0 27h0m0 5h0m1-134h0m0 9h0m0 11h0m0 1h0m0 25h0m0 33h0m0 5h0m0 11h0m0 58h0m1-62h0m0 3h0m0 3h0m0 10h0m0 19h0m0 2h0m0 4h0m0 9h0m0 0h0m0 5h0m0 4h0m0 3h0m1-132h0m0 6h0m0 21h0m0 40h0m0 4h0m0 5h0m0 6h0m0 16h0m0 8h0m0 11h0m0 16h0m1-143h0m0 3h0m0 5h0m0 15h0m0 12h0m0 2h0m0 4h0m0 10h0m0 4h0m0 23h0m0 7h0m0 9h0m0 20h0m0 0h0m0 4h0m0 1h0m0 1h0m1-92h0m0 24h0m0 8h0m0 6h0m0 1h0m0 0h0m0 8h0m0 12h0m0 24h0m0 1h0m0 13h0m0 2h0m0 7h0m1-107h0m0 13h0m0 5h0m0 32h0m0 11h0m0 9h0m0 8h0m0 20h0m1-88h0m0 8h0m0 8h0m0 16h0m0 9h0m0 18h0m0 14h0m0 2h0m0 4h0m0 5h0m0 5h0m0 3h0m0 10h0m1-142h0m0 35h0m0 1h0m0 3h0m0 1h0m0 9h0m0 2h0m0 4h0m0 1h0m0 6h0m0 0h0m0 26h0m0 18h0m0 15h0m0 6h0m1-236h0m0 108h0m0 2h0m0 11h0m0 27h0m0 11h0m0 4h0m0 1h0m0 32h0m0 7h0m0 12h0m0 18h0m0 2h0m1-111h0m0 2h0m0 8h0m0 17h0m0 8h0m0 8h0m0 16h0m0 2h0m0 15h0m0 1h0m0 15h0m0 2h0m0 8h0m0 5h0m0 6h0m1-145h0m0 38h0m0 23h0m0 23h0m0 13h0m0 12h0m0 10h0m0 24h0m1-115h0m0 11h0m0 31h0m0 2h0m0 21h0m0 17h0m0 4h0m0 6h0m0 2h0m0 4h0m0 4h0m0 0h0m0 20h0m0 4h0m1-113h0m0 13h0m0 6h0m0 15h0m0 6h0m0 15h0m0 16h0m0 4h0m0 8h0m0 9h0m0 8h0m1-100h0m0 3h0m0 2h0m0 17h0m0 1h0m0 10h0m0 5h0m0 18h0m0 3h0m0 11h0m0 8h0m0 9h0m0 2h0m1-129h0m0 3h0m0 12h0m0 34h0m0 21h0m0 30h0m0 4h0m0 13h0m0 7h0m0 13h0m0 5h0m0 7h0m1-252h0m0 64h0m0 18h0m0 17h0m0 50h0m0 18h0m0 12h0m0 15h0m0 12h0m0 8h0m0 0h0m0 2h0m0 8h0m0 2h0m0 10h0m0 20h0m0 3h0m0 0h0m0 1h0m1-194h0m0 21h0m0 14h0m0 36h0m0 1h0m0 11h0m0 1h0m0 17h0m0 34h0m0 19h0m0 7h0m0 1h0m0 5h0m0 15h0m0 2h0m0 9h0m1-170h0m0 3h0m0 15h0m0 1h0m0 53h0m0 35h0m0 16h0m0 10h0m0 11h0m0 18h0m0 3h0m0 7h0m1-146h0m0 20h0m0 3h0m0 36h0m0 13h0m0 7h0m0 11h0m0 2h0m0 12h0m0 4h0m0 29h0m0 4h0m1-190h0m0 50h0m0 6h0m0 8h0m0 4h0m0 2h0m0 3h0m0 0h0m0 6h0m0 2h0m0 17h0m0 2h0m0 19h0m0 18h0m0 24h0m0 12h0m0 6h0m1-86h0m0 11h0m0 30h0m0 13h0m0 10h0m0 0h0m0 2h0m0 25h0m1-125h0m0 19h0m0 3h0m0 4h0m0 9h0m0 15h0m0 1h0m0 15h0m0 5h0m0 3h0m0 5h0m0 8h0m0 11h0m0 20h0m0 2h0m1-114h0m0 3h0m0 1h0m0 14h0m0 31h0m0 3h0m0 17h0m0 1h0m0 5h0m0 1h0m0 27h0m0 1h0m0 2h0m1-200h0m0 20h0m0 64h0m0 12h0m0 20h0m0 1h0m0 2h0m0 3h0m0 8h0m0 3h0m0 11h0m0 2h0m0 46h0m0 5h0m0 19h0m1-157h0m0 23h0m0 9h0m0 8h0m0 23h0m0 17h0m0 2h0m0 8h0m0 36h0m0 3h0m0 3h0m0 3h0m0 13h0m0 4h0m0 1h0m1-196h0m0 30h0m0 27h0m0 4h0m0 3h0m0 5h0m0 52h0m0 10h0m0 5h0m0 16h0m0 7h0m0 15h0m0 2h0m0 1h0m0 9h0m0 11h0m1-150h0m0 50h0m0 37h0m0 2h0m0 9h0m0 13h0m0 20h0m0 6h0m0 5h0m0 3h0m1-158h0m0 39h0m0 2h0m0 23h0m0 2h0m0 10h0m0 7h0m0 6h0m0 7h0m0 2h0m0 3h0m0 1h0m0 2h0m0 9h0m0 16h0m0 4h0m0 10h0m1-244h0m0 61h0m0 87h0m0 7h0m0 4h0m0 18h0m0 5h0m0 2h0m0 12h0m0 5h0m0 4h0m0 3h0m0 5h0m0 4h0m0 3h0m0 3h0m0 0h0m0 16h0m1-157h0m0 2h0m0 24h0m0 7h0m0 21h0m0 4h0m0 7h0m0 23h0m0 30h0m0 0h0m0 8h0m0 3h0m0 3h0m0 17h0m0 6h0m0 5h0m0 1h0m0 15h0m0 12h0m1-180h0m0 23h0m0 7h0m0 17h0m0 10h0m0 5h0m0 6h0m0 2h0m0 3h0m0 33h0m0 0h0m0 9h0m0 1h0m0 0h0m0 0h0m0 4h0m0 5h0m0 14h0m0 8h0m0 2h0m0 17h0m0 9h0m0 6h0m0 4h0m1-331h0m0 119h0m0 84h0m0 16h0m0 3h0m0 2h0m0 11h0m0 9h0m0 2h0m0 20h0m0 9h0m0 38h0m0 3h0m0 9h0m0 10h0m1-240h0m0 47h0m0 40h0m0 27h0m0 25h0m0 8h0m0 9h0m0 5h0m0 1h0m0 9h0m0 15h0m0 5h0m0 21h0m0 1h0m0 3h0m0 10h0m1-186h0m0 50h0m0 11h0m0 14h0m0 1h0m0 24h0m0 6h0m0 1h0m0 4h0m0 5h0m0 2h0m0 20h0m0 14h0m0 24h0m0 2h0m0 21h0m1-146h0m0 13h0m0 8h0m0 0h0m0 7h0m0 19h0m0 15h0m0 1h0m0 0h0m0 17h0m0 6h0m0 4h0m0 1h0m0 12h0m0 2h0m0 4h0m0 2h0m0 10h0m0 9h0m0 10h0m0 2h0m1-184h0m0 17h0m0 9h0m0 29h0m0 2h0m0 2h0m0 21h0m0 6h0m0 23h0m0 0h0m0 12h0m0 7h0m0 6h0m0 2h0m0 15h0m0 10h0m0 21h0m1-155h0m0 37h0m0 13h0m0 9h0m0 0h0m0 2h0m0 9h0m0 6h0m0 0h0m0 14h0m0 1h0m0 1h0m0 3h0m0 41h0m0 2h0m0 15h0m0 1h0m1-202h0m0 31h0m0 36h0m0 2h0m0 3h0m0 29h0m0 15h0m0 1h0m0 11h0m0 4h0m0 4h0m0 6h0m0 5h0m0 2h0m0 32h0m0 6h0m0 4h0m0 1h0m0 11h0m1-225h0m0 53h0m0 26h0m0 9h0m0 26h0m0 4h0m0 15h0m0 17h0m0 4h0m0 3h0m0 9h0m0 5h0m0 5h0m0 7h0m0 2h0m0 5h0m0 3h0m0 0h0m0 1h0m0 4h0m1-142h0m0 5h0m0 25h0m0 2h0m0 4h0m0 1h0m0 10h0m0 4h0m0 1h0m0 9h0m0 5h0m0 7h0m0 1h0m0 0h0m0 11h0m0 5h0m0 14h0m0 1h0m0 0h0m0 3h0m0 2h0m0 16h0m0 12h0m0 9h0m0 4h0m1-162h0m0 15h0m0 33h0m0 14h0m0 15h0m0 15h0m0 5h0m0 1h0m0 2h0m0 5h0m0 2h0m0 4h0m0 2h0m0 3h0m0 1h0m0 0h0m0 0h0m0 1h0m0 10h0m0 26h0m0 26h0m1-152h0m0 2h0m0 2h0m0 6h0m0 26h0m0 4h0m0 3h0m0 13h0m0 1h0m0 15h0m0 2h0m0 12h0m0 8h0m0 1h0m0 9h0m0 12h0m0 7h0m0 9h0m0 5h0m0 4h0m1-211h0m0 71h0m0 46h0m0 11h0m0 1h0m0 5h0m0 6h0m0 9h0m0 3h0m0 2h0m0 7h0m0 2h0m0 4h0m0 2h0m0 13h0m0 0h0m0 14h0m0 2h0m0 14h0m0 14h0m1-172h0m0 13h0m0 7h0m0 7h0m0 16h0m0 13h0m0 7h0m0 9h0m0 2h0m0 9h0m0 4h0m0 1h0m0 0h0m0 5h0m0 11h0m0 3h0m0 1h0m0 7h0m0 2h0m0 1h0m0 1h0m0 10h0m0 27h0m0 4h0m0 3h0m0 6h0m1-191h0m0 53h0m0 9h0m0 2h0m0 11h0m0 2h0m0 8h0m0 17h0m0 0h0m0 5h0m0 1h0m0 1h0m0 4h0m0 6h0m0 1h0m0 8h0m0 12h0m0 11h0m0 7h0m0 8h0m0 2h0m0 12h0m1-142h0m0 14h0m0 25h0m0 1h0m0 6h0m0 9h0m0 5h0m0 11h0m0 4h0m0 4h0m0 5h0m0 9h0m0 2h0m0 17h0m0 22h0m0 11h0m1-138h0m0 2h0m0 34h0m0 11h0m0 4h0m0 1h0m0 14h0m0 0h0m0 6h0m0 4h0m0 2h0m0 15h0m0 1h0m0 4h0m0 13h0m0 22h0m0 11h0m0 3h0m1-236h0m0 38h0m0 11h0m0 31h0m0 4h0m0 14h0m0 19h0m0 4h0m0 3h0m0 9h0m0 1h0m0 5h0m0 1h0m0 3h0m0 7h0m0 7h0m0 6h0m0 5h0m0 0h0m0 6h0m0 2h0m0 5h0m0 2h0m0 4h0m0 4h0m0 1h0m0 0h0m0 15h0m0 2h0m0 12h0m0 1h0m1-247h0m0 48h0m0 33h0m0 69h0m0 1h0m0 6h0m0 3h0m0 4h0m0 8h0m0 12h0m0 0h0m0 11h0m0 13h0m0 3h0m0 2h0m0 10h0m0 5h0m0 5h0m0 4h0m1-154h0m0 0h0m0 27h0m0 24h0m0 5h0m0 12h0m0 20h0m0 14h0m0 0h0m0 10h0m0 1h0m0 4h0m0 22h0m0 7h0m0 3h0m0 3h0m0 7h0m0 3h0m0 2h0m0 12h0m1-181h0m0 21h0m0 17h0m0 17h0m0 13h0m0 6h0m0 15h0m0 0h0m0 5h0m0 8h0m0 4h0m0 1h0m0 6h0m0 1h0m0 3h0m0 15h0m0 6h0m0 26h0m0 10h0m0 12h0m1-192h0m0 9h0m0 10h0m0 2h0m0 12h0m0 34h0m0 1h0m0 6h0m0 5h0m0 13h0m0 10h0m0 19h0m0 4h0m0 5h0m0 13h0m0 1h0m0 0h0m0 25h0m1-156h0m0 10h0m0 22h0m0 8h0m0 1h0m0 10h0m0 3h0m0 7h0m0 4h0m0 8h0m0 4h0m0 2h0m0 2h0m0 1h0m0 1h0m0 2h0m0 2h0m0 2h0m0 3h0m0 0h0m0 1h0m0 1h0m0 4h0m0 8h0m0 11h0m0 1h0m0 1h0m0 5h0m0 6h0m0 0h0m0 1h0m0 13h0m0 5h0m0 3h0m0 0h0m0 10h0m0 5h0m1-295h0m0 114h0m0 27h0m0 35h0m0 8h0m0 23h0m0 5h0m0 17h0m0 1h0m0 6h0m0 0h0m0 5h0m0 0h0m0 6h0m0 1h0m0 9h0m0 1h0m0 8h0m0 1h0m0 23h0m0 2h0m0 8h0m0 2h0m1-238h0m0 69h0m0 20h0m0 18h0m0 2h0m0 9h0m0 16h0m0 2h0m0 1h0m0 9h0m0 5h0m0 11h0m0 3h0m0 5h0m0 14h0m0 9h0m0 5h0m0 3h0m0 18h0m0 11h0m0 13h0m1-201h0m0 29h0m0 21h0m0 2h0m0 37h0m0 5h0m0 3h0m0 10h0m0 5h0m0 9h0m0 11h0m0 11h0m0 3h0m0 0h0m0 0h0m0 7h0m0 1h0m0 1h0m0 2h0m0 3h0m0 7h0m0 26h0m0 5h0m0 4h0m1-222h0m0 31h0m0 5h0m0 19h0m0 17h0m0 3h0m0 4h0m0 5h0m0 2h0m0 11h0m0 7h0m0 12h0m0 5h0m0 10h0m0 3h0m0 7h0m0 2h0m0 1h0m0 1h0m0 0h0m0 3h0m0 1h0m0 3h0m0 14h0m0 1h0m0 10h0m0 1h0m0 3h0m0 10h0m0 5h0m1-181h0m0 1h0m0 50h0m0 23h0m0 7h0m0 19h0m0 10h0m0 8h0m0 2h0m0 6h0m0 1h0m0 8h0m0 4h0m0 4h0m0 1h0m0 0h0m0 10h0m0 11h0m0 3h0m0 6h0m0 6h0m1-154h0m0 26h0m0 2h0m0 7h0m0 5h0m0 2h0m0 25h0m0 1h0m0 4h0m0 16h0m0 21h0m0 2h0m0 8h0m0 1h0m0 13h0m0 14h0m0 12h0m0 15h0m0 2h0m1-212h0m0 27h0m0 19h0m0 4h0m0 15h0m0 1h0m0 2h0m0 19h0m0 0h0m0 2h0m0 7h0m0 11h0m0 15h0m0 6h0m0 3h0m0 4h0m0 2h0m0 12h0m0 1h0m0 0h0m0 2h0m0 3h0m0 4h0m0 4h0m0 8h0m0 0h0m0 8h0m0 15h0m1-199h0m0 4h0m0 76h0m0 1h0m0 28h0m0 5h0m0 4h0m0 1h0m0 12h0m0 34h0m0 21h0m0 29h0m0 6h0m1-199h0m0 37h0m0 1h0m0 21h0m0 4h0m0 3h0m0 3h0m0 1h0m0 4h0m0 2h0m0 1h0m0 2h0m0 1h0m0 0h0m0 9h0m0 6h0m0 4h0m0 2h0m0 15h0m0 13h0m0 2h0m0 1h0m0 6h0m0 3h0m0 8h0m0 9h0m0 3h0m0 0h0m0 2h0m0 1h0m0 0h0m0 3h0m0 28h0m0 2h0m1-179h0m0 14h0m0 22h0m0 9h0m0 1h0m0 0h0m0 1h0m0 1h0m0 10h0m0 1h0m0 3h0m0 4h0m0 3h0m0 10h0m0 12h0m0 8h0m0 0h0m0 7h0m0 2h0m0 2h0m0 3h0m0 2h0m0 3h0m0 7h0m0 12h0m0 22h0m0 2h0m0 14h0m1-269h0m0 93h0m0 8h0m0 9h0m0 2h0m0 17h0m0 1h0m0 21h0m0 7h0m0 2h0m0 12h0m0 3h0m0 6h0m0 4h0m0 10h0m0 4h0m0 8h0m0 30h0m0 4h0m0 7h0m0 6h0m0 4h0m1-224h0m0 34h0m0 0h0m0 19h0m0 21h0m0 3h0m0 6h0m0 2h0m0 9h0m0 11h0m0 14h0m0 2h0m0 16h0m0 1h0m0 2h0m0 10h0m0 10h0m0 2h0m0 1h0m0 9h0m0 1h0m0 6h0m0 3h0m0 1h0m0 7h0m0 23h0m0 4h0m0 7h0m0 16h0m1-145h0m0 7h0m0 2h0m0 8h0m0 2h0m0 8h0m0 3h0m0 16h0m0 9h0m0 3h0m0 5h0m0 0h0m0 1h0m0 6h0m0 9h0m0 17h0m0 18h0m1-261h0m0 139h0m0 7h0m0 5h0m0 13h0m0 7h0m0 3h0m0 1h0m0 7h0m0 7h0m0 0h0m0 1h0m0 4h0m0 1h0m0 14h0m0 1h0m0 3h0m0 4h0m0 5h0m0 22h0m0 1h0m0 9h0m0 0h0m0 1h0m0 15h0m0 22h0m1-223h0m0 75h0m0 5h0m0 26h0m0 17h0m0 7h0m0 26h0m0 3h0m0 2h0m0 9h0m0 2h0m0 10h0m0 2h0m0 3h0m0 4h0m0 3h0m0 0h0m0 4h0m0 3h0m0 1h0m0 14h0m0 0h0m1-224h0m0 27h0m0 12h0m0 15h0m0 20h0m0 38h0m0 6h0m0 6h0m0 15h0m0 7h0m0 2h0m0 6h0m0 12h0m0 6h0m0 3h0m0 14h0m0 1h0m0 8h0m0 8h0m0 4h0m0 3h0m0 15h0m0 5h0m1-252h0m0 52h0m0 11h0m0 52h0m0 7h0m0 4h0m0 1h0m0 7h0m0 3h0m0 12h0m0 11h0m0 8h0m0 6h0m0 1h0m0 0h0m0 3h0m0 13h0m0 2h0m0 0h0m0 3h0m0 5h0m0 3h0m0 2h0m0 1h0m0 2h0m0 6h0m0 0h0m0 3h0m0 20h0m0 7h0m1-192h0m0 45h0m0 9h0m0 2h0m0 32h0m0 3h0m0 3h0m0 1h0m0 1h0m0 13h0m0 8h0m0 1h0m0 2h0m0 6h0m0 3h0m0 2h0m0 17h0m0 10h0m0 1h0m0 2h0m0 5h0m0 1h0m0 3h0m0 26h0m1-261h0m0 93h0m0 6h0m0 9h0m0 25h0m0 9h0m0 10h0m0 18h0m0 0h0m0 2h0m0 2h0m0 12h0m0 5h0m0 0h0m0 3h0m0 4h0m0 6h0m0 0h0m0 5h0m0 3h0m0 4h0m0 3h0m0 4h0m0 0h0m0 2h0m0 15h0m0 12h0m1-285h0m0 139h0m0 12h0m0 0h0m0 15h0m0 28h0m0 6h0m0 11h0m0 5h0m0 3h0m0 3h0m0 10h0m0 7h0m0 24h0m0 2h0m0 6h0m0 10h0m1-207h0m0 41h0m0 10h0m0 30h0m0 7h0m0 24h0m0 8h0m0 2h0m0 2h0m0 0h0m0 22h0m0 2h0m0 4h0m0 2h0m0 4h0m0 6h0m0 5h0m0 6h0m0 21h0m0 8h0m0 3h0m0 8h0m1-279h0m0 16h0m0 82h0m0 33h0m0 11h0m0 12h0m0 9h0m0 0h0m0 5h0m0 3h0m0 2h0m0 19h0m0 3h0m0 0h0m0 6h0m0 1h0m0 4h0m0 15h0m0 17h0m0 13h0m0 1h0m0 27h0m1-223h0m0 60h0m0 11h0m0 1h0m0 13h0m0 18h0m0 10h0m0 20h0m0 1h0m0 9h0m0 1h0m0 4h0m0 9h0m0 0h0m0 12h0m0 24h0m0 0h0m0 3h0m0 1h0m0 0h0m0 4h0m0 13h0m1-229h0m0 51h0m0 6h0m0 36h0m0 2h0m0 3h0m0 1h0m0 10h0m0 6h0m0 4h0m0 7h0m0 3h0m0 5h0m0 1h0m0 0h0m0 6h0m0 1h0m0 6h0m0 3h0m0 1h0m0 13h0m0 0h0m0 18h0m0 8h0m0 6h0m0 12h0m0 2h0m0 6h0m0 11h0m0 5h0m1-367h0m0 203h0m0 27h0m0 9h0m0 20h0m0 7h0m0 1h0m0 2h0m0 15h0m0 1h0m0 1h0m0 8h0m0 2h0m0 1h0m0 1h0m0 9h0m0 13h0m0 13h0m0 0h0m0 10h0m0 4h0m0 7h0m0 2h0m0 4h0m0 16h0m1-242h0m0 83h0m0 17h0m0 6h0m0 9h0m0 14h0m0 0h0m0 1h0m0 0h0m0 26h0m0 2h0m0 3h0m0 4h0m0 11h0m0 8h0m0 15h0m0 11h0m0 1h0m0 7h0m0 14h0m0 10h0m1-251h0m0 65h0m0 19h0m0 1h0m0 15h0m0 6h0m0 2h0m0 9h0m0 4h0m0 15h0m0 22h0m0 1h0m0 4h0m0 1h0m0 11h0m0 27h0m0 10h0m0 5h0m0 17h0m0 12h0m1-224h0m0 105h0m0 4h0m0 14h0m0 15h0m0 1h0m0 4h0m0 9h0m0 0h0m0 2h0m0 12h0m0 2h0m0 1h0m0 1h0m0 5h0m0 1h0m0 1h0m0 4h0m0 4h0m0 2h0m0 4h0m0 2h0m1-196h0m0 32h0m0 80h0m0 10h0m0 3h0m0 3h0m0 13h0m0 2h0m0 4h0m0 3h0m0 8h0m0 3h0m0 0h0m0 1h0m0 5h0m0 14h0m0 3h0m0 2h0m0 11h0m0 2h0m0 22h0m1-170h0m0 17h0m0 15h0m0 8h0m0 12h0m0 5h0m0 2h0m0 3h0m0 1h0m0 12h0m0 8h0m0 16h0m0 0h0m0 0h0m0 13h0m0 6h0m0 7h0m0 4h0m0 2h0m0 5h0m0 14h0m0 1h0m0 17h0m1-243h0m0 37h0m0 53h0m0 13h0m0 0h0m0 40h0m0 0h0m0 3h0m0 0h0m0 3h0m0 0h0m0 16h0m0 6h0m0 1h0m0 6h0m0 1h0m0 4h0m0 5h0m0 8h0m0 4h0m0 20h0m0 10h0m1-159h0m0 3h0m0 20h0m0 15h0m0 8h0m0 1h0m0 11h0m0 9h0m0 12h0m0 2h0m0 1h0m0 4h0m0 3h0m0 2h0m0 3h0m0 5h0m0 1h0m0 13h0m0 27h0m0 0h0m0 3h0m0 20h0m0 3h0m0 13h0m1-202h0m0 2h0m0 19h0m0 2h0m0 12h0m0 7h0m0 27h0m0 8h0m0 8h0m0 7h0m0 1h0m0 23h0m0 2h0m0 7h0m0 3h0m0 15h0m0 12h0m0 4h0m0 5h0m0 3h0m0 1h0m0 14h0m0 7h0m0 9h0m1-194h0m0 14h0m0 0h0m0 8h0m0 37h0m0 14h0m0 10h0m0 15h0m0 3h0m0 20h0m0 6h0m0 7h0m0 14h0m0 5h0m0 0h0m0 10h0m0 19h0m0 1h0m0 4h0m0 10h0m1-164h0m0 13h0m0 11h0m0 16h0m0 1h0m0 12h0m0 1h0m0 0h0m0 0h0m0 20h0m0 0h0m0 6h0m0 4h0m0 4h0m0 44h0m0 7h0m0 21h0m0 9h0m0 7h0m1-354h0m0 141h0m0 29h0m0 4h0m0 21h0m0 15h0m0 2h0m0 8h0m0 5h0m0 0h0m0 12h0m0 12h0m0 0h0m0 6h0m0 2h0m0 2h0m0 3h0m0 3h0m0 1h0m0 6h0m0 10h0m0 6h0m0 7h0m0 14h0m0 1h0m0 15h0m0 5h0m0 9h0m0 4h0m1-243h0m0 39h0m0 35h0m0 2h0m0 5h0m0 25h0m0 8h0m0 7h0m0 2h0m0 11h0m0 9h0m0 3h0m0 11h0m0 11h0m0 4h0m0 19h0m0 5h0m0 1h0m0 2h0m0 10h0m0 20h0m0 19h0m0 3h0m1-297h0m0 27h0m0 75h0m0 22h0m0 39h0m0 1h0m0 2h0m0 1h0m0 1h0m0 1h0m0 14h0m0 2h0m0 7h0m0 1h0m0 6h0m0 1h0m0 3h0m0 21h0m0 2h0m0 2h0m0 2h0m0 4h0m0 1h0m0 1h0m0 4h0m0 0h0m0 3h0m0 2h0m0 1h0m0 7h0m0 4h0m0 9h0m0 26h0m1-162h0m0 3h0m0 5h0m0 6h0m0 6h0m0 2h0m0 3h0m0 3h0m0 2h0m0 8h0m0 25h0m0 7h0m0 1h0m0 3h0m0 1h0m0 0h0m0 6h0m0 2h0m0 17h0m0 2h0m0 2h0m0 29h0m0 7h0m0 15h0m0 1h0m1-208h0m0 26h0m0 16h0m0 12h0m0 6h0m0 14h0m0 10h0m0 22h0m0 1h0m0 11h0m0 1h0m0 1h0m0 17h0m0 2h0m0 6h0m0 1h0m0 3h0m0 12h0m0 2h0m0 19h0m0 9h0m0 5h0m1-159h0m0 20h0m0 24h0m0 7h0m0 21h0m0 6h0m0 3h0m0 0h0m0 11h0m0 1h0m0 5h0m0 1h0m0 1h0m0 1h0m0 2h0m0 11h0m0 3h0m0 1h0m0 8h0m0 7h0m0 7h0m0 1h0m0 22h0m0 12h0m0 2h0m1-255h0m0 40h0m0 26h0m0 18h0m0 5h0m0 2h0m0 9h0m0 7h0m0 30h0m0 9h0m0 6h0m0 4h0m0 0h0m0 10h0m0 0h0m0 10h0m0 10h0m0 1h0m0 3h0m0 0h0m0 0h0m0 0h0m0 5h0m0 2h0m0 2h0m0 4h0m0 1h0m0 3h0m0 8h0m0 7h0m0 20h0m0 10h0m1-175h0m0 21h0m0 6h0m0 8h0m0 10h0m0 0h0m0 9h0m0 0h0m0 14h0m0 0h0m0 3h0m0 9h0m0 3h0m0 14h0m0 2h0m0 2h0m0 6h0m0 9h0m0 5h0m0 2h0m0 5h0m0 5h0m0 2h0m0 8h0m0 20h0m0 2h0m0 15h0m1-171h0m0 14h0m0 2h0m0 5h0m0 0h0m0 13h0m0 0h0m0 3h0m0 2h0m0 5h0m0 6h0m0 16h0m0 5h0m0 1h0m0 4h0m0 1h0m0 12h0m0 16h0m0 7h0m0 3h0m0 2h0m0 2h0m0 11h0m0 1h0m0 6h0m0 1h0m0 22h0m0 10h0m0 5h0m1-217h0m0 47h0m0 26h0m0 6h0m0 2h0m0 29h0m0 3h0m0 0h0m0 1h0m0 1h0m0 13h0m0 1h0m0 9h0m0 7h0m0 7h0m0 0h0m0 6h0m0 1h0m0 19h0m1-177h0m0 17h0m0 32h0m0 3h0m0 21h0m0 9h0m0 1h0m0 23h0m0 3h0m0 4h0m0 2h0m0 0h0m0 12h0m0 10h0m0 0h0m0 1h0m0 0h0m0 3h0m0 9h0m0 12h0m0 4h0m0 5h0m0 4h0m0 6h0m0 15h0m1-200h0m0 43h0m0 5h0m0 8h0m0 0h0m0 1h0m0 7h0m0 5h0m0 14h0m0 26h0m0 14h0m0 9h0m0 4h0m0 12h0m0 4h0m0 8h0m0 1h0m0 1h0m0 2h0m0 1h0m0 7h0m0 35h0m0 7h0m1-219h0m0 18h0m0 6h0m0 21h0m0 45h0m0 17h0m0 4h0m0 1h0m0 7h0m0 1h0m0 1h0m0 0h0m0 15h0m0 1h0m0 9h0m0 1h0m0 14h0m0 10h0m0 17h0m0 30h0m0 5h0m1-276h0m0 1h0m0 56h0m0 26h0m0 23h0m0 10h0m0 31h0m0 7h0m0 21h0m0 9h0m0 4h0m0 5h0m0 6h0m0 1h0m0 6h0m0 6h0m0 1h0m0 1h0m0 6h0m0 2h0m0 1h0m0 12h0m0 1h0m0 18h0m0 5h0m0 16h0m1-267h0m0 41h0m0 6h0m0 55h0m0 3h0m0 7h0m0 2h0m0 1h0m0 3h0m0 15h0m0 1h0m0 15h0m0 4h0m0 4h0m0 12h0m0 14h0m0 2h0m0 3h0m0 8h0m0 4h0m0 0h0m0 0h0m0 5h0m0 2h0m0 5h0m0 3h0m0 8h0m0 4h0m0 2h0m0 20h0m1-288h0m0 127h0m0 16h0m0 15h0m0 7h0m0 7h0m0 5h0m0 11h0m0 3h0m0 10h0m0 4h0m0 14h0m0 0h0m0 8h0m0 2h0m0 6h0m0 11h0m0 10h0m0 0h0m0 21h0m1-569h0m0 367h0m0 17h0m0 8h0m0 11h0m0 9h0m0 13h0m0 16h0m0 7h0m0 2h0m0 0h0m0 8h0m0 6h0m0 0h0m0 1h0m0 14h0m0 4h0m0 0h0m0 1h0m0 10h0m0 3h0m0 1h0m0 9h0m0 17h0m0 6h0m0 11h0m0 10h0m0 2h0m0 7h0m0 1h0m0 24h0m0 5h0m1-321h0m0 43h0m0 62h0m0 2h0m0 25h0m0 23h0m0 42h0m0 8h0m0 8h0m0 7h0m0 8h0m0 6h0m0 1h0m0 2h0m0 4h0m0 14h0m0 1h0m0 13h0m0 1h0m0 6h0m0 3h0m0 4h0m0 5h0m0 12h0m0 7h0m0 3h0m1-261h0m0 64h0m0 25h0m0 25h0m0 10h0m0 1h0m0 4h0m0 3h0m0 15h0m0 0h0m0 1h0m0 31h0m0 8h0m0 4h0m0 4h0m0 9h0m0 4h0m0 19h0m0 1h0m0 4h0m0 7h0m0 1h0m0 10h0m1-248h0m0 39h0m0 48h0m0 30h0m0 5h0m0 7h0m0 12h0m0 4h0m0 2h0m0 2h0m0 5h0m0 9h0m0 1h0m0 15h0m0 2h0m0 35h0m0 3h0m0 14h0m0 10h0m0 0h0m0 7h0m0 0h0m0 14h0m1-185h0m0 17h0m0 6h0m0 28h0m0 1h0m0 13h0m0 5h0m0 4h0m0 0h0m0 17h0m0 3h0m0 1h0m0 3h0m0 9h0m0 5h0m0 1h0m0 1h0m0 1h0m0 9h0m0 10h0m0 12h0m0 48h0m1-400h0m0 189h0m0 48h0m0 5h0m0 5h0m0 1h0m0 5h0m0 4h0m0 2h0m0 7h0m0 0h0m0 8h0m0 26h0m0 6h0m0 24h0m0 0h0m0 15h0m0 29h0m0 4h0m0 5h0m0 5h0m0 1h0m1-313h0m0 102h0m0 28h0m0 20h0m0 18h0m0 16h0m0 9h0m0 4h0m0 0h0m0 26h0m0 5h0m0 1h0m0 1h0m0 1h0m0 1h0m0 1h0m0 6h0m0 18h0m0 7h0m0 3h0m0 1h0m0 9h0m0 10h0m0 7h0m0 1h0m0 13h0m1-229h0m0 79h0m0 29h0m0 2h0m0 4h0m0 14h0m0 2h0m0 11h0m0 10h0m0 2h0m0 19h0m0 6h0m0 1h0m0 17h0m0 3h0m0 12h0m0 3h0m0 9h0m0 18h0m0 8h0m1-468h0m0 277h0m0 5h0m0 3h0m0 1h0m0 7h0m0 25h0m0 8h0m0 13h0m0 11h0m0 16h0m0 9h0m0 22h0m0 4h0m0 8h0m0 9h0m0 4h0m0 8h0m0 29h0m1-259h0m0 72h0m0 37h0m0 7h0m0 4h0m0 1h0m0 0h0m0 3h0m0 9h0m0 21h0m0 7h0m0 4h0m0 4h0m0 4h0m0 1h0m0 3h0m0 9h0m0 5h0m0 2h0m0 3h0m0 5h0m0 0h0m0 7h0m0 14h0m0 1h0m0 10h0m0 8h0m0 7h0m0 2h0m0 23h0m1-372h0m0 127h0m0 13h0m0 1h0m0 60h0m0 9h0m0 19h0m0 1h0m0 6h0m0 3h0m0 3h0m0 17h0m0 11h0m0 8h0m0 1h0m0 7h0m0 1h0m0 0h0m0 26h0m0 13h0m0 22h0m0 9h0m1-270h0m0 26h0m0 20h0m0 61h0m0 0h0m0 22h0m0 9h0m0 2h0m0 5h0m0 5h0m0 11h0m0 5h0m0 6h0m0 3h0m0 3h0m0 1h0m0 2h0m0 10h0m0 5h0m0 18h0m0 0h0m0 2h0m0 0h0m0 1h0m0 14h0m1-298h0m0 70h0m0 115h0m0 3h0m0 15h0m0 1h0m0 8h0m0 4h0m0 11h0m0 19h0m0 2h0m0 19h0m0 1h0m0 1h0m0 10h0m0 9h0m0 1h0m0 4h0m0 4h0m0 5h0m0 0h0m0 3h0m0 23h0m0 9h0m1-252h0m0 28h0m0 19h0m0 6h0m0 14h0m0 12h0m0 8h0m0 16h0m0 18h0m0 1h0m0 9h0m0 0h0m0 14h0m0 1h0m0 6h0m0 3h0m0 9h0m0 7h0m0 5h0m0 9h0m0 1h0m0 6h0m0 0h0m0 2h0m0 3h0m0 3h0m0 11h0m0 0h0m0 26h0m1-229h0m0 30h0m0 13h0m0 2h0m0 14h0m0 2h0m0 33h0m0 2h0m0 14h0m0 2h0m0 6h0m0 18h0m0 0h0m0 5h0m0 0h0m0 1h0m0 1h0m0 0h0m0 8h0m0 7h0m0 0h0m0 4h0m0 9h0m0 0h0m0 3h0m0 62h0m0 13h0m1-183h0m0 28h0m0 1h0m0 1h0m0 3h0m0 4h0m0 16h0m0 2h0m0 4h0m0 4h0m0 14h0m0 30h0m0 2h0m0 4h0m0 22h0m0 19h0m0 37h0m1-219h0m0 3h0m0 34h0m0 6h0m0 3h0m0 1h0m0 6h0m0 4h0m0 20h0m0 8h0m0 0h0m0 1h0m0 12h0m0 3h0m0 13h0m0 3h0m0 12h0m0 4h0m0 4h0m0 10h0m0 1h0m0 6h0m0 13h0m0 18h0m0 11h0m1-425h0m0 209h0m0 50h0m0 4h0m0 6h0m0 0h0m0 2h0m0 18h0m0 18h0m0 9h0m0 3h0m0 10h0m0 9h0m0 30h0m0 16h0m0 13h0m0 17h0m0 5h0m0 19h0m1-273h0m0 22h0m0 68h0m0 21h0m0 9h0m0 1h0m0 0h0m0 21h0m0 0h0m0 10h0m0 4h0m0 1h0m0 0h0m0 1h0m0 6h0m0 0h0m0 1h0m0 1h0m0 0h0m0 2h0m0 1h0m0 18h0m0 2h0m0 4h0m0 0h0m0 3h0m0 0h0m0 5h0m0 3h0m0 5h0m0 14h0m0 0h0m0 5h0m0 7h0m0 3h0m1-147h0m0 15h0m0 31h0m0 1h0m0 2h0m0 12h0m0 11h0m0 2h0m0 0h0m0 1h0m0 42h0m0 5h0m0 9h0m0 2h0m0 6h0m0 12h0m0 7h0m0 33h0m1-312h0m0 89h0m0 25h0m0 16h0m0 26h0m0 2h0m0 21h0m0 9h0m0 13h0m0 10h0m0 3h0m0 22h0m0 1h0m0 1h0m0 6h0m0 5h0m0 13h0m0 14h0m1-201h0m0 37h0m0 5h0m0 9h0m0 29h0m0 5h0m0 33h0m0 12h0m0 7h0m0 3h0m0 3h0m0 9h0m0 8h0m0 1h0m0 8h0m0 0h0m0 11h0m0 1h0m0 0h0m0 30h0m1-231h0m0 25h0m0 22h0m0 1h0m0 52h0m0 34h0m0 18h0m0 4h0m0 5h0m0 1h0m0 2h0m0 5h0m0 0h0m0 5h0m0 2h0m0 1h0m0 7h0m0 0h0m0 12h0m0 12h0m0 38h0m1-195h0m0 32h0m0 25h0m0 24h0m0 57h0m0 8h0m0 24h0m0 25h0m0 13h0m1-456h0m0 299h0m0 1h0m0 18h0m0 7h0m0 11h0m0 5h0m0 17h0m0 10h0m0 1h0m0 7h0m0 3h0m0 9h0m0 0h0m0 4h0m0 6h0m0 3h0m0 7h0m1-166h0m0 36h0m0 16h0m0 22h0m0 4h0m0 34h0m0 6h0m0 1h0m0 1h0m0 2h0m0 19h0m0 2h0m0 9h0m0 0h0m0 11h0m0 2h0m0 19h0m0 1h0m0 29h0m1-292h0m0 31h0m0 25h0m0 48h0m0 5h0m0 3h0m0 11h0m0 15h0m0 10h0m0 1h0m0 2h0m0 1h0m0 3h0m0 5h0m0 3h0m0 1h0m0 9h0m0 12h0m0 11h0m0 7h0m0 1h0m0 52h0m0 7h0m0 4h0m1-188h0m0 15h0m0 9h0m0 11h0m0 2h0m0 10h0m0 1h0m0 11h0m0 0h0m0 7h0m0 1h0m0 5h0m0 20h0m0 4h0m0 7h0m0 6h0m0 0h0m0 14h0m0 1h0m0 2h0m0 4h0m0 0h0m0 2h0m0 11h0m0 1h0m0 3h0m0 30h0m1-273h0m0 25h0m0 85h0m0 12h0m0 53h0m0 7h0m0 31h0m0 33h0m0 12h0m1-294h0m0 104h0m0 23h0m0 16h0m0 42h0m0 4h0m0 3h0m0 5h0m0 6h0m0 11h0m0 4h0m0 2h0m0 6h0m0 7h0m0 25h0m0 10h0m0 34h0m0 8h0m0 5h0m0 17h0m1-154h0m0 0h0m0 12h0m0 2h0m0 4h0m0 19h0m0 8h0m0 10h0m0 1h0m0 43h0m0 5h0m0 17h0m0 1h0m0 8h0m0 31h0m1-195h0m0 12h0m0 1h0m0 12h0m0 3h0m0 15h0m0 7h0m0 1h0m0 5h0m0 18h0m0 6h0m0 9h0m0 5h0m0 5h0m0 37h0m0 10h0m1-189h0m0 16h0m0 20h0m0 36h0m0 2h0m0 8h0m0 16h0m0 1h0m0 3h0m0 2h0m0 4h0m0 14h0m0 5h0m0 0h0m0 21h0m0 3h0m0 3h0m0 13h0m0 27h0m0 15h0m1-180h0m0 17h0m0 16h0m0 11h0m0 5h0m0 29h0m0 22h0m0 2h0m0 9h0m0 9h0m0 3h0m0 18h0m0 1h0m0 4h0m0 47h0m1-220h0m0 29h0m0 1h0m0 23h0m0 6h0m0 15h0m0 35h0m0 0h0m0 2h0m0 5h0m0 12h0m0 5h0m0 2h0m0 30h0m0 24h0m0 21h0m0 15h0m0 16h0m1-512h0m0 245h0m0 7h0m0 38h0m0 23h0m0 20h0m0 6h0m0 21h0m0 0h0m0 10h0m0 28h0m0 3h0m0 4h0m0 5h0m0 2h0m0 3h0m0 2h0m0 7h0m0 6h0m0 16h0m0 2h0m0 6h0m0 32h0m0 10h0m1-210h0m0 58h0m0 23h0m0 10h0m0 16h0m0 5h0m0 31h0m0 3h0m0 29h0m0 17h0m0 8h0m0 26h0m1-307h0m0 25h0m0 47h0m0 26h0m0 24h0m0 7h0m0 7h0m0 6h0m0 2h0m0 5h0m0 8h0m0 5h0m0 1h0m0 2h0m0 7h0m0 14h0m0 7h0m0 7h0m0 2h0m0 12h0m0 0h0m0 2h0m0 8h0m0 1h0m0 63h0m1-263h0m0 36h0m0 55h0m0 30h0m0 12h0m0 23h0m0 8h0m0 16h0m0 16h0m0 1h0m0 4h0m0 3h0m0 22h0m1-223h0m0 33h0m0 48h0m0 40h0m0 2h0m0 15h0m0 12h0m0 10h0m0 60h0m0 8h0m0 25h0m1-406h0m0 135h0m0 70h0m0 18h0m0 29h0m0 4h0m0 19h0m0 4h0m0 4h0m0 3h0m0 6h0m0 1h0m0 21h0m0 24h0m0 10h0m0 5h0m0 41h0m1-342h0m0 63h0m0 87h0m0 19h0m0 8h0m0 40h0m0 3h0m0 1h0m0 13h0m0 1h0m0 2h0m0 3h0m0 14h0m0 0h0m0 21h0m0 11h0m0 15h0m0 20h0m1-184h0m0 31h0m0 2h0m0 14h0m0 13h0m0 7h0m0 16h0m0 9h0m0 44h0m0 8h0m0 7h0m0 9h0m0 15h0m0 5h0m0 17h0m1-367h0m0 122h0m0 51h0m0 89h0m0 9h0m0 6h0m0 4h0m0 16h0m0 2h0m0 5h0m0 4h0m0 6h0m0 15h0m0 3h0m0 8h0m0 1h0m0 4h0m0 9h0m0 20h0m1-289h0m0 104h0m0 21h0m0 48h0m0 28h0m0 10h0m0 2h0m0 58h0m0 21h0m0 23h0m1-306h0m0 36h0m0 38h0m0 33h0m0 25h0m0 12h0m0 0h0m0 12h0m0 17h0m0 1h0m0 2h0m0 6h0m0 9h0m0 11h0m0 26h0m0 7h0m0 7h0m0 5h0m0 30h0m0 27h0m1-249h0m0 55h0m0 14h0m0 34h0m0 3h0m0 7h0m0 24h0m0 13h0m0 6h0m0 39h0m0 15h0m0 37h0m1-290h0m0 122h0m0 8h0m0 1h0m0 1h0m0 4h0m0 12h0m0 0h0m0 16h0m0 2h0m0 3h0m0 17h0m0 1h0m0 1h0m0 8h0m0 2h0m0 5h0m0 22h0m0 3h0m0 10h0m0 21h0m0 47h0m1-340h0m0 123h0m0 19h0m0 59h0m0 11h0m0 2h0m0 22h0m0 12h0m0 12h0m0 5h0m0 2h0m0 6h0m0 25h0m1-410h0m0 89h0m0 139h0m0 21h0m0 6h0m0 5h0m0 6h0m0 1h0m0 12h0m0 1h0m0 3h0m0 15h0m0 9h0m0 12h0m0 6h0m0 14h0m0 17h0m0 5h0m0 7h0m0 0h0m0 4h0m0 6h0m0 35h0m0 13h0m1-281h0m0 46h0m0 22h0m0 17h0m0 25h0m0 0h0m0 7h0m0 9h0m0 1h0m0 12h0m0 38h0m0 6h0m0 8h0m0 4h0m0 6h0m0 14h0m0 8h0m1-288h0m0 127h0m0 19h0m0 39h0m0 5h0m0 17h0m0 1h0m0 1h0m0 20h0m0 53h0m0 23h0m1-176h0m0 34h0m0 44h0m0 1h0m0 30h0m0 13h0m0 5h0m0 1h0m0 1h0m0 3h0m0 10h0m0 3h0m0 1h0m0 5h0m0 4h0m0 3h0m0 10h0m0 14h0m0 6h0m1-195h0m0 10h0m0 3h0m0 34h0m0 16h0m0 20h0m0 5h0m0 0h0m0 4h0m0 5h0m0 8h0m0 0h0m0 22h0m0 0h0m0 1h0m0 11h0m0 17h0m0 7h0m0 5h0m0 2h0m0 5h0m0 19h0m0 4h0m0 25h0m0 3h0m1-228h0m0 13h0m0 17h0m0 28h0m0 26h0m0 27h0m0 20h0m0 2h0m0 41h0m0 1h0m0 39h0m0 11h0m1-362h0m0 71h0m0 106h0m0 18h0m0 10h0m0 20h0m0 26h0m0 1h0m0 9h0m0 7h0m0 3h0m0 11h0m0 24h0m0 9h0m0 24h0m1-216h0m0 13h0m0 11h0m0 27h0m0 14h0m0 32h0m0 12h0m0 17h0m0 19h0m0 8h0m0 1h0m0 20h0m0 1h0m0 1h0m0 1h0m1-176h0m0 32h0m0 36h0m0 1h0m0 20h0m0 14h0m0 3h0m0 23h0m0 6h0m0 7h0m0 29h0m0 24h0m0 6h0m0 16h0m0 20h0m1-178h0m0 8h0m0 16h0m0 36h0m0 25h0m0 1h0m0 3h0m0 6h0m0 20h0m0 10h0m0 7h0m0 39h0m0 0h0m1-238h0m0 70h0m0 1h0m0 6h0m0 9h0m0 33h0m0 3h0m0 21h0m0 8h0m0 6h0m0 1h0m0 0h0m0 6h0m0 10h0m0 3h0m0 19h0m0 18h0m0 51h0m1-274h0m0 74h0m0 24h0m0 17h0m0 3h0m0 62h0m0 13h0m1-168h0m0 31h0m0 109h0m0 53h0m1-220h0m0 3h0m0 27h0m0 58h0m0 0h0m0 7h0m0 18h0m0 11h0m0 5h0m0 1h0m0 5h0m0 7h0m0 30h0m0 15h0m0 41h0m0 4h0m0 12h0m1-444h0m0 212h0m0 43h0m0 19h0m0 9h0m0 9h0m0 3h0m0 17h0m0 3h0m0 49h0m0 19h0m0 3h0m0 19h0m0 19h0m0 22h0m1-322h0m0 53h0m0 16h0m0 59h0m0 21h0m0 18h0m0 4h0m0 6h0m0 1h0m0 13h0m0 36h0m0 42h0m0 5h0m0 79h0m1-337h0m0 26h0m0 92h0m0 12h0m0 4h0m0 5h0m0 3h0m0 1h0m0 4h0m0 11h0m0 10h0m0 15h0m0 11h0m0 8h0m0 10h0m0 5h0m0 8h0m0 9h0m0 26h0m0 39h0m0 1h0m1-219h0m0 82h0m0 22h0m0 83h0m0 7h0m0 9h0m0 5h0m1-200h0m0 50h0m0 1h0m0 7h0m0 22h0m0 18h0m0 8h0m0 14h0m0 10h0m0 0h0m0 9h0m0 1h0m0 60h0m1-291h0m0 6h0m0 73h0m0 20h0m0 24h0m0 7h0m0 9h0m0 13h0m0 12h0m0 5h0m0 4h0m0 4h0m0 8h0m0 2h0m0 22h0m0 22h0m0 58h0m0 39h0m1-299h0m0 19h0m0 37h0m0 12h0m0 46h0m0 34h0m0 12h0m0 22h0m0 19h0m0 1h0m0 57h0m0 8h0m1-105h0m0 56h0m0 12h0m0 4h0m0 4h0m1-302h0m0 110h0m0 18h0m0 4h0m0 14h0m0 21h0m0 12h0m0 1h0m0 21h0m0 0h0m0 16h0m0 16h0m0 6h0m0 102h0m1-225h0m0 24h0m0 98h0m0 30h0m0 3h0m0 27h0m0 3h0m0 2h0m1-341h0m0 77h0m0 142h0m0 11h0m0 21h0m0 21h0m0 13h0m0 52h0m0 8h0m0 18h0m1-178h0m0 32h0m0 4h0m0 30h0m0 3h0m0 36h0m0 7h0m0 8h0m0 3h0m0 40h0m0 3h0m1-279h0m0 18h0m0 73h0m0 69h0m0 0h0m0 64h0m0 113h0m1-266h0m0 7h0m0 54h0m0 12h0m0 37h0m1-107h0m0 29h0m0 20h0m0 31h0m0 2h0m0 70h0m0 10h0m0 14h0m0 9h0m0 13h0m0 9h0m0 56h0m1-325h0m0 7h0m0 25h0m0 8h0m0 16h0m0 52h0m0 33h0m0 28h0m0 3h0m0 65h0m1-282h0m0 28h0m0 56h0m0 93h0m0 11h0m0 17h0m0 26h0m0 13h0m0 9h0m0 19h0m0 11h0m0 7h0m0 1h0m1-292h0m0 182h0m0 4h0m0 57h0m0 19h0m0 3h0m0 8h0m0 41h0m0 22h0m0 44h0m1-265h0m0 1h0m0 21h0m0 4h0m0 57h0m0 13h0m0 24h0m0 1h0m0 17h0m0 26h0m0 14h0m0 35h0m0 6h0m1-301h0m0 60h0m0 12h0m0 132h0m0 7h0m0 12h0m1-197h0m0 19h0m0 28h0m0 31h0m0 6h0m0 31h0m0 24h0m0 20h0m0 20h0m0 0h0m0 38h0m0 12h0m0 4h0m0 27h0m1-203h0m0 14h0m0 2h0m0 12h0m0 28h0m0 10h0m0 30h0m0 2h0m0 31h0m0 20h0m0 23h0m0 13h0m0 24h0m0 29h0m1-324h0m0 2h0m0 11h0m0 26h0m0 38h0m0 66h0m0 2h0m0 29h0m0 20h0m0 31h0m0 27h0m1-299h0m0 91h0m0 27h0m0 42h0m0 8h0m0 20h0m0 37h0m0 8h0m0 7h0m0 5h0m0 23h0m0 4h0m0 29h0m0 26h0m0 47h0m0 4h0m1-169h0m0 1h0m0 2h0m0 51h0m0 20h0m0 98h0m1-376h0m0 68h0m0 31h0m0 34h0m0 7h0m0 31h0m0 2h0m0 6h0m0 6h0m0 34h0m0 89h0m0 13h0m0 35h0m1-241h0m0 6h0m0 15h0m0 27h0m0 16h0m0 64h0m0 9h0m0 7h0m0 7h0m0 5h0m0 0h0m0 13h0m1-193h0m0 72h0m0 40h0m0 12h0m0 17h0m0 24h0m0 20h0m0 6h0m0 14h0m1-198h0m0 70h0m0 18h0m0 7h0m0 11h0m0 18h0m0 3h0m0 7h0m0 11h0m0 46h0m0 57h0m1-400h0m0 25h0m0 177h0m0 18h0m0 11h0m0 37h0m0 4h0m0 21h0m0 43h0m0 31h0m0 1h0m0 32h0m1-317h0m0 107h0m0 21h0m0 4h0m0 95h0m0 109h0m1-243h0m0 29h0m0 19h0m0 3h0m0 14h0m0 16h0m0 25h0m0 4h0m0 12h0m0 1h0m0 16h0m0 3h0m0 12h0m0 16h0m1-180h0m0 80h0m0 8h0m0 6h0m0 11h0m0 6h0m0 13h0m0 4h0m0 6h0m0 3h0m0 4h0m0 23h0m0 33h0m0 18h0m1-407h0m0 233h0m0 6h0m0 50h0m0 22h0m0 15h0m0 13h0m0 14h0m0 8h0m0 61h0m1-347h0m0 11h0m0 30h0m0 54h0m0 12h0m0 22h0m0 8h0m0 21h0m0 18h0m0 45h0m0 67h0m0 49h0m1-623h0m0 89h0m0 223h0m0 83h0m0 17h0m0 8h0m0 38h0m0 39h0m0 1h0m0 6h0m0 37h0m0 5h0m0 31h0m0 3h0m1-307h0m0 62h0m0 3h0m0 44h0m0 30h0m0 54h0m0 13h0m0 6h0m0 6h0m0 14h0m0 1h0m0 1h0m0 15h0m0 16h0m0 15h0m1-151h0m0 13h0m0 77h0m0 15h0m0 60h0m1-255h0m0 106h0m0 46h0m0 30h0m0 21h0m0 88h0m1-332h0m0 145h0m0 53h0m0 35h0m0 6h0m0 11h0m0 32h0m0 10h0m0 38h0m0 11h0m0 53h0m1-237h0m0 49h0m0 26h0m0 8h0m0 5h0m0 1h0m0 9h0m0 54h0m0 87h0m1-351h0m0 8h0m0 39h0m0 99h0m0 1h0m0 93h0m0 22h0m0 11h0m0 11h0m0 5h0m0 5h0m1-334h0m0 86h0m0 130h0m0 100h0m1-315h0m0 15h0m0 108h0m0 66h0m0 81h0m1-250h0m0 6h0m0 52h0m0 27h0m0 55h0m0 13h0m0 2h0m0 51h0m0 12h0m0 26h0m0 12h0m0 47h0m1-253h0m0 65h0m0 8h0m0 30h0m0 9h0m0 19h0m0 22h0m0 9h0m0 6h0m0 27h0m0 33h0m0 18h0m1-274h0m0 38h0m0 59h0m0 18h0m0 15h0m0 79h0m0 31h0m0 73h0m1-299h0m0 46h0m0 10h0m0 18h0m0 64h0m0 32h0m0 13h0m0 18h0m0 7h0m1-264h0m0 87h0m0 33h0m0 27h0m0 7h0m0 16h0m0 36h0m0 9h0m0 3h0m0 9h0m0 13h0m0 6h0m0 23h0m0 33h0m0 44h0m1-367h0m0 23h0m0 27h0m0 81h0m0 2h0m0 44h0m0 41h0m0 11h0m0 55h0m0 2h0m0 60h0m1-357h0m0 66h0m0 20h0m0 61h0m0 88h0m0 62h0m0 27h0m0 20h0m0 43h0m0 31h0m1-262h0m0 36h0m0 40h0m0 50h0m0 16h0m0 8h0m0 11h0m0 9h0m0 2h0m0 53h0m1-310h0m0 15h0m0 78h0m0 1h0m0 36h0m0 15h0m0 45h0m0 40h0m1-198h0m0 31h0m0 65h0m0 25h0m0 23h0m0 5h0m0 66h0m0 0h0m0 67h0m1-392h0m0 111h0m0 11h0m0 19h0m0 100h0m0 45h0m0 7h0m0 35h0m0 4h0m0 21h0m1-256h0m0 122h0m0 2h0m0 38h0m0 9h0m0 35h0m0 4h0m0 5h0m0 10h0m0 33h0m1-430h0m0 190h0m0 45h0m0 35h0m0 16h0m0 0h0m0 36h0m0 20h0m0 24h0m0 15h0m0 76h0m1-423h0m0 169h0m0 35h0m0 53h0m0 61h0m0 5h0m0 10h0m0 12h0m0 78h0m1-435h0m0 157h0m0 2h0m0 18h0m0 8h0m0 29h0m0 63h0m0 8h0m0 7h0m0 23h0m0 28h0m0 56h0m1-293h0m0 38h0m0 73h0m0 45h0m0 32h0m0 0h0m0 4h0m0 10h0m0 54h0m0 14h0m0 31h0m1-443h0m0 134h0m0 85h0m0 65h0m0 40h0m0 12h0m0 27h0m0 80h0m1-262h0m0 126h0m0 2h0m0 14h0m0 52h0m1-278h0m0 33h0m0 131h0m0 48h0m0 35h0m0 8h0m0 3h0m0 8h0m0 29h0m1-216h0m0 53h0m0 32h0m0 19h0m0 16h0m0 6h0m0 4h0m0 38h0m0 10h0m0 6h0m0 21h0m1-245h0m0 31h0m0 51h0m0 62h0m0 25h0m0 37h0m0 10h0m0 50h0m0 92h0m1-254h0m0 32h0m0 26h0m0 17h0m0 7h0m0 11h0m0 1h0m0 97h0m1-189h0m0 7h0m0 5h0m0 21h0m0 0h0m0 19h0m0 9h0m0 103h0m0 14h0m1-316h0m0 73h0m0 2h0m0 135h0m0 29h0m0 3h0m0 19h0m0 74h0m1-368h0m0 149h0m0 45h0m0 54h0m0 42h0m1-159h0m0 22h0m0 6h0m0 230h0m1-230h0m0 10h0m0 124h0m0 49h0m0 0h0m0 7h0m1-238h0m0 37h0m0 85h0m0 0h0m0 23h0m0 18h0m0 0h0m0 42h0m0 1h0m0 2h0m0 48h0m1-196h0m0 14h0m0 29h0m0 98h0m0 18h0m0 91h0m1-186h0m0 34h0m0 1h0m1-350h0m0 161h0m0 56h0m0 121h0m0 2h0m0 10h0m0 6h0m0 16h0m0 36h0m0 9h0m0 33h0m0 70h0m1-326h0m0 14h0m0 64h0m0 3h0m0 135h0m0 57h0m1-369h0m0 66h0m0 16h0m0 61h0m0 12h0m0 39h0m0 5h0m0 55h0m0 6h0m0 35h0m0 51h0m1-288h0m0 32h0m0 118h0m0 100h0m0 49h0m1-270h0m0 53h0m0 15h0m0 64h0m0 15h0m0 9h0m0 9h0m0 23h0m0 125h0m1-370h0m0 50h0m0 14h0m0 39h0m0 38h0m0 99h0m0 22h0m1-207h0m0 82h0m0 5h0m0 2h0m0 9h0m0 57h0m0 2h0m0 2h0m0 24h0m0 50h0m1-443h0m0 65h0m0 202h0m0 38h0m0 48h0m0 43h0m0 20h0m0 7h0m0 26h0m1-290h0m0 196h0m0 36h0m1-161h0m0 48h0m0 3h0m0 13h0m0 5h0m0 1h0m0 28h0m0 29h0m0 15h0m0 18h0m0 23h0m0 13h0m1-433h0m0 309h0m0 26h0m0 2h0m0 47h0m0 65h0m1-270h0m0 41h0m0 7h0m0 36h0m0 21h0m0 58h0m0 56h0m1-236h0m0 153h0m0 14h0m0 13h0m0 9h0m0 3h0m0 44h0m0 64h0m1-309h0m0 264h0m0 4h0m1-171h0m0 0h0m0 23h0m0 15h0m0 28h0m0 76h0m0 9h0m0 23h0m0 69h0m1-229h0m0 5h0m0 12h0m0 18h0m0 9h0m0 13h0m0 1h0m0 2h0m0 50h0m0 30h0m0 19h0m1-250h0m0 53h0m0 1h0m0 3h0m0 32h0m0 21h0m0 3h0m0 61h0m0 13h0m0 11h0m0 43h0m1-217h0m0 8h0m0 68h0m0 24h0m0 18h0m0 2h0m0 51h0m0 9h0m0 34h0m0 19h0m1-252h0m0 63h0m0 45h0m0 6h0m0 25h0m0 52h0m0 61h0m1-236h0m0 51h0m0 4h0m0 11h0m0 28h0m0 26h0m0 11h0m0 13h0m0 27h0m0 10h0m1-171h0m0 12h0m0 42h0m0 3h0m0 8h0m0 2h0m0 118h0m0 12h0m0 40h0m1-158h0m0 10h0m0 14h0m0 0h0m0 26h0m0 43h0m0 36h0m0 112h0m1-323h0m0 130h0m0 14h0m0 8h0m0 95h0m0 69h0m1-501h0m0 181h0m0 77h0m0 29h0m1-154h0m0 122h0m0 47h0m0 14h0m0 12h0m0 3h0m0 23h0m1-185h0m0 1h0m0 20h0m0 46h0m0 11h0m0 3h0m0 19h0m0 26h0m0 9h0m0 43h0m0 17h0m0 31h0m0 63h0m1-337h0m0 67h0m0 21h0m0 71h0m0 26h0m0 34h0m0 11h0m0 5h0m0 3h0m0 65h0m0 14h0m1-336h0m0 53h0m0 3h0m0 85h0m0 58h0m0 24h0m0 27h0m0 2h0m0 14h0m1-150h0m0 14h0m0 54h0m0 19h0m0 15h0m0 9h0m0 82h0m1-301h0m0 86h0m0 9h0m0 11h0m0 21h0m0 55h0m0 22h0m0 26h0m0 4h0m0 9h0m0 32h0m0 42h0m1-253h0m0 55h0m0 120h0m0 10h0m1-217h0m0 34h0m0 11h0m0 39h0m0 132h0m0 60h0m1-378h0m0 149h0m0 92h0m0 102h0m0 3h0m0 59h0m1-356h0m0 158h0m0 66h0m0 3h0m0 6h0m0 226h0m1-325h0m0 12h0m0 20h0m0 30h0m0 44h0m0 163h0m1-254h0m0 21h0m0 29h0m0 9h0m0 49h0m0 6h0m0 23h0m0 24h0m0 6h0m1-281h0m0 86h0m0 67h0m0 1h0m0 14h0m0 15h0m0 24h0m0 89h0m1-297h0m0 101h0m0 20h0m0 51h0m0 35h0m0 14h0m0 18h0m0 66h0m1-393h0m0 141h0m0 53h0m0 12h0m0 44h0m0 27h0m0 47h0m0 6h0m1-239h0m0 100h0m0 18h0m0 45h0m0 44h0m0 14h0m0 23h0m1-328h0m0 164h0m0 19h0m0 15h0m0 17h0m0 33h0m0 83h0m0 33h0m0 37h0m1-317h0m0 72h0m0 91h0m0 44h0m0 21h0m0 65h0m0 116h0m1-380h0m0 15h0m0 40h0m0 88h0m0 38h0m0 35h0m0 3h0m0 28h0m1-213h0m0 7h0m0 68h0m0 32h0m0 17h0m0 8h0m0 1h0m0 32h0m0 31h0m0 5h0m0 9h0m1-166h0m0 52h0m0 38h0m0 43h0m1-129h0m0 94h0m0 14h0m0 3h0m0 28h0m0 50h0m1-219h0m0 8h0m0 4h0m0 29h0m0 27h0m0 14h0m0 50h0m1-232h0m0 62h0m0 4h0m0 66h0m0 59h0m0 38h0m1-227h0m0 20h0m0 142h0m0 7h0m0 14h0m0 22h0m0 8h0m0 2h0m0 21h0m0 26h0m1-409h0m0 192h0m0 3h0m0 80h0m1-116h0m0 58h0m0 23h0m0 34h0m0 30h0m0 65h0m0 5h0m0 19h0m0 122h0m0 4h0m1-324h0m0 15h0m0 77h0m0 57h0m0 17h0m0 6h0m0 12h0m0 47h0m0 31h0m0 13h0m0 14h0m1-410h0m0 35h0m0 56h0m0 6h0m0 124h0m0 1h0m0 12h0m0 19h0m0 2h0m0 7h0m0 2h0m0 10h0m0 51h0m0 43h0m0 19h0m1-285h0m0 2h0m0 71h0m0 68h0m0 1h0m1-313h0m0 129h0m0 42h0m0 185h0m0 20h0m1-204h0m0 73h0m0 52h0m0 56h0m1-133h0m0 18h0m0 18h0m0 26h0m0 0h0m0 17h0m0 43h0m1-181h0m0 11h0m0 14h0m0 16h0m0 41h0m0 20h0m0 5h0m0 3h0m0 54h0m0 9h0m0 29h0m0 4h0m1-166h0m0 71h0m0 55h0m0 81h0m1-325h0m0 92h0m0 35h0m0 2h0m0 50h0m0 3h0m0 5h0m0 230h0m1-363h0m1 50h0m0 34h0m0 5h0m0 4h0m0 52h0m0 38h0m0 8h0m0 14h0m0 54h0m1-283h0m0 80h0m0 41h0m0 17h0m0 41h0m0 2h0m0 8h0m0 46h0m0 19h0m0 33h0m0 15h0m0 44h0m0 5h0m1-315h0m0 49h0m0 22h0m0 47h0m0 31h0m0 43h0m0 31h0m1-213h0m0 74h0m0 43h0m0 80h0m0 26h0m0 54h0m1-463h0m0 249h0m0 16h0m0 95h0m0 19h0m0 47h0m0 67h0m1-430h0m0 147h0m0 9h0m0 21h0m0 2h0m0 84h0m0 92h0m1-173h0m0 17h0m0 17h0m0 17h0m0 46h0m0 31h0m0 12h0m0 104h0m0 104h0m1-342h0m0 36h0m0 33h0m0 70h0m0 17h0m0 117h0m1-354h0m0 6h0m0 76h0m0 88h0m1-227h0m0 31h0m0 102h0m0 27h0m0 13h0m1-154h0m0 75h0m0 3h0m0 45h0m0 6h0m0 33h0m0 2h0m0 20h0m0 112h0m1-273h0m0 40h0m0 34h0m0 30h0m0 71h0m0 110h0m0 123h0m1-320h0m0 62h0m0 9h0m0 20h0m0 16h0m0 47h0m0 21h0m1-289h0m0 154h0m0 12h0m0 39h0m0 70h0m0 14h0m0 37h0m1-143h0m0 73h0m0 89h0m1-312h0m0 39h0m0 40h0m0 27h0m0 21h0m0 32h0m0 60h0m1-225h0m0 121h0m0 36h0m0 85h0m1-255h0m0 48h0m0 95h0m0 5h0m0 10h0m0 9h0m0 37h0m0 33h0m0 109h0m1-400h0m0 104h0m0 16h0m0 23h0m0 76h0m0 20h0m0 110h0m1-218h0m0 30h0m1 73h0m0 52h0m0 38h0m0 17h0m1-292h0m0 7h0m0 179h0m1-57h0m0 25h0m0 52h0m0 44h0m1-187h0m0 59h0m0 32h0m0 14h0m0 47h0m0 18h0m1-194h0m0 36h0m0 24h0m0 15h0m0 8h0m0 47h0m0 34h0m0 24h0m0 22h0m1-352h0m0 78h0m0 53h0m0 136h0m0 56h0m0 22h0m0 100h0m1-439h0m0 165h0m0 30h0m0 25h0m0 43h0m0 106h0m0 17h0m0 0h0m1-314h0m0 91h0m0 99h0m1-157h0m0 96h0m0 20h0m0 11h0m0 108h0m1-152h0m0 40h0m0 36h0m0 20h0m0 24h0m0 34h0m0 62h0m1-329h0m0 22h0m0 44h0m0 169h0m0 8h0m0 16h0m0 38h0m1-99h0m0 125h0m1-471h0m0 133h0m0 72h0m0 14h0m0 46h0m0 28h0m0 36h0m0 94h0m1-68h0m0 69h0m0 3h0m0 3h0m0 4h0m0 1h0m1-315h0m0 182h0m0 43h0m0 97h0m0 13h0m1-323h0m0 62h0m0 24h0m0 4h0m0 116h0m0 40h0m0 81h0m0 33h0m1-421h0m0 124h0m0 35h0m0 167h0m0 56h0m1-309h0m0 142h0m0 9h0m0 62h0m0 6h0m0 2h0m0 224h0m1-535h0m0 136h0m0 38h0m0 18h0m0 5h0m0 11h0m0 53h0m0 18h0m0 11h0m0 12h0m0 46h0m1-301h0m0 62h0m0 41h0m0 7h0m0 19h0m0 36h0m0 12h0m0 79h0m0 10h0m0 40h0m1-192h0m0 59h0m0 35h0m0 53h0m0 108h0m1-518h0m0 195h0m0 46h0m0 46h0m0 4h0m0 104h0m1-183h0m0 66h0m0 39h0m0 11h0m0 91h0m0 232h0m1-559h0m0 69h0m0 35h0m0 97h0m0 1h0m0 13h0m0 2h0m0 84h0m0 37h0m0 17h0m0 145h0m1-321h0m0 25h0m0 9h0m0 75h0m0 1h0m0 14h0m1-192h0m0 40h0m0 58h0m0 25h0m0 14h0m0 44h0m0 57h0m0 36h0m1-265h0m0 79h0m0 12h0m0 36h0m0 4h0m0 47h0m0 23h0m0 16h0m0 57h0m0 138h0m1-646h0m0 237h0m0 32h0m0 4h0m0 68h0m0 27h0m0 20h0m0 18h0m0 15h0m0 8h0m0 4h0m0 14h0m1-83h0m0 9h0m0 7h0m0 70h0m0 37h0m0 6h0m0 26h0m0 10h0m0 59h0m1-454h0m0 86h0m0 71h0m0 39h0m0 1h0m0 17h0m0 49h0m0 29h0m0 128h0m1-280h0m0 50h0m0 150h0m0 41h0m0 8h0m0 97h0m1-457h0m0 71h0m0 11h0m0 13h0m0 13h0m0 63h0m0 84h0m0 38h0m1-205h0m0 13h0m0 40h0m0 36h0m0 65h0m0 27h0m0 45h0m0 54h0m1-309h0m0 96h0m0 12h0m0 36h0m0 4h0m0 17h0m0 36h0m0 5h0m0 14h0m0 2h0m0 33h0m1-392h0m0 75h0m0 83h0m0 7h0m0 18h0m0 85h0m0 15h0m0 2h0m0 13h0m0 26h0m0 30h0m1-222h0m0 43h0m0 80h0m0 26h0m0 56h0m0 18h0m1-246h0m0 50h0m0 63h0m0 26h0m0 50h0m0 30h0m0 17h0m1-532h0m0 161h0m0 132h0m0 153h0m0 12h0m1-123h0m0 21h0m0 1h0m0 3h0m0 184h0m0 32h0m0 35h0m0 89h0m1-222h0m0 34h0m1-148h0m0 140h0m0 110h0m1-207h0m0 68h0m0 34h0m0 23h0m0 40h0m0 107h0m1-287h0m0 106h0m0 2h0m0 68h0m1-168h0m0 18h0m0 14h0m1-196h0m0 145h0m0 356h0m1-444h0m0 33h0m0 13h0m0 2h0m0 198h0m0 98h0m1-480h0m0 110h0m0 24h0m0 73h0m0 64h0m0 99h0m0 24h0m1-438h0m0 190h0m0 100h0m0 148h0m0 41h0m0 16h0m1-299h0m0 61h0m0 69h0m0 14h0m0 53h0m0 1h0m0 52h0m0 5h0m0 11h0m1-287h0m0 104h0m0 54h0m0 3h0m0 28h0m0 116h0m1-319h0m0 149h0m0 14h0m0 40h0m0 13h0m0 57h0m0 16h0m1-135h0m0 49h0m1-106h0m0 63h0m0 10h0m0 18h0m0 18h0m0 47h0m0 23h0m0 33h0m1-303h0m0 35h0m0 66h0m0 14h0m0 50h0m0 26h0m0 69h0m1-102h0m0 83h0m0 18h0m0 16h0m0 40h0m1-200h0m0 57h0m0 67h0m0 36h0m0 30h0m0 25h0m1-349h0m0 64h0m0 43h0m0 48h0m0 26h0m0 59h0m0 55h0m1-318h0m0 27h0m0 127h0m0 13h0m0 66h0m0 7h0m0 2h0m0 63h0m0 6h0m1-183h0m0 37h0m0 67h0m0 77h0m0 57h0m1-365h0m0 2h0m0 159h0m0 20h0m0 5h0m0 10h0m0 19h0m0 79h0m0 15h0m0 57h0m0 2h0m1-211h0m0 35h0m0 147h0m1-236h0m0 28h0m0 44h0m0 31h0m0 33h0m0 26h0m1-292h0m0 42h0m0 76h0m0 47h0m0 21h0m0 66h0m0 52h0m1-309h0m0 118h0m0 49h0m0 28h0m1 20h0m0 16h0m0 5h0m0 32h0m0 13h0m0 35h0m1-255h0m0 19h0m0 28h0m0 8h0m0 73h0m0 53h0m0 19h0m0 48h0m0 21h0m1-173h0m0 4h0m0 11h0m0 62h0m0 40h0m0 56h0m0 75h0m1-338h0m0 76h0m0 51h0m0 12h0m0 4h0m0 120h0m0 41h0m0 10h0m1-285h0m0 45h0m0 85h0m0 2h0m0 43h0m0 14h0m0 51h0m0 8h0m0 34h0m1-390h0m0 139h0m0 69h0m0 29h0m0 56h0m0 182h0m1-273h0m0 14h0m0 63h0m0 49h0m1-200h0m0 27h0m0 66h0m0 2h0m0 45h0m0 23h0m0 112h0m0 11h0m1-316h0m0 46h0m0 52h0m0 40h0m0 34h0m0 32h0m0 25h0m0 25h0m0 126h0m1-398h0m0 169h0m0 39h0m1-236h0m0 175h0m0 12h0m0 28h0m0 20h0m0 50h0m1-400h0m0 251h0m0 11h0m0 60h0m0 24h0m0 2h0m0 31h0m1-207h0m0 120h0m0 7h0m0 3h0m0 29h0m1-119h0m0 21h0m0 16h0m0 35h0m0 46h0m1-262h0m0 107h0m0 21h0m0 109h0m0 42h0m0 2h0m0 10h0m1-150h0m0 8h0m0 14h0m0 32h0m0 114h0m1-335h0m0 204h0m0 20h0m0 3h0m0 93h0m0 59h0m1-256h0m0 2h0m0 64h0m0 11h0m0 41h0m0 116h0m0 43h0m0 1h0m1-277h0m0 41h0m0 38h0m0 43h0m0 65h0m0 31h0m0 39h0m0 153h0m1-421h0m0 45h0m0 33h0m0 19h0m0 69h0m0 3h0m0 66h0m0 9h0m1-197h0m0 185h0m0 3h0m1-301h0m0 187h0m0 1h0m0 49h0m0 62h0m0 139h0m1-373h0m0 54h0m0 28h0m0 64h0m0 44h0m0 52h0m1-290h0m0 232h0m0 12h0m0 21h0m1-320h0m0 22h0m0 44h0m0 3h0m0 42h0m0 0h0m0 125h0m0 37h0m0 14h0m0 1h0m0 161h0m1-257h0m0 51h0m1-174h0m0 129h0m0 20h0m0 0h0m0 2h0m0 33h0m0 5h0m0 6h0m0 23h0m0 3h0m0 17h0m0 20h0m0 7h0m0 30h0m1-305h0m0 16h0m0 86h0m0 28h0m0 42h0m0 3h0m0 19h0m0 19h0m0 15h0m0 13h0m0 47h0m1-235h0m0 18h0m0 26h0m0 78h0m0 15h0m0 15h0m0 12h0m0 4h0m0 12h0m1-200h0m0 40h0m0 72h0m0 12h0m0 164h0m1-379h0m0 116h0m0 53h0m0 23h0m0 14h0m0 34h0m0 35h0m0 7h0m0 21h0m1-241h0m0 16h0m0 101h0m0 14h0m0 19h0m0 0h0m0 27h0m1-171h0m0 63h0m0 181h0m0 229h0m1-495h0m0 27h0m0 54h0m0 79h0m0 41h0m0 0h0m0 155h0m1-332h0m0 66h0m0 95h0m0 17h0m0 63h0m0 37h0m0 12h0m0 183h0m1-415h0m0 47h0m0 46h0m0 24h0m0 133h0m1-379h0m0 46h0m0 27h0m0 86h0m0 112h0m0 61h0m0 13h0m1-331h0m0 65h0m0 3h0m0 65h0m0 36h0m0 23h0m0 11h0m0 27h0m0 1h0m0 40h0m0 4h0m0 11h0m1-213h0m0 90h0m0 25h0m0 43h0m0 2h0m0 32h0m0 43h0m0 31h0m1-316h0m0 4h0m0 125h0m0 82h0m0 23h0m0 12h0m1-142h0m0 31h0m0 65h0m0 58h0m0 29h0m0 1h0m0 8h0m0 28h0m1-328h0m0 33h0m0 9h0m0 51h0m0 72h0m0 4h0m0 21h0m0 0h0m0 39h0m0 21h0m1-117h0m0 19h0m0 5h0m0 10h0m0 3h0m0 46h0m0 62h0m0 59h0m1-250h0m0 54h0m0 10h0m0 31h0m0 6h0m0 69h0m0 101h0m1-287h0m0 25h0m0 59h0m0 83h0m1-221h0m0 0h0m0 103h0m0 85h0m0 164h0m1-192h0m0 29h0m0 21h0m0 1h0m0 112h0m1-347h0m0 16h0m0 87h0m0 36h0m0 37h0m0 36h0m0 3h0m1-172h0m0 81h0m0 16h0m0 114h0m0 6h0m1-132h0m0 24h0m0 87h0m0 4h0m1-196h0m0 74h0m0 114h0m0 184h0m1-467h0m0 12h0m0 69h0m0 72h0m0 3h0m0 18h0m0 6h0m0 28h0m0 42h0m0 97h0m0 78h0m1-435h0m0 268h0m1-174h0m0 31h0m0 20h0m0 37h0m0 87h0m0 28h0m1-310h0m0 194h0m0 98h0m0 18h0m0 4h0m0 106h0m1-233h0m0 6h0m0 59h0m0 7h0m0 3h0m0 79h0m0 90h0m1-351h0m0 28h0m0 101h0m0 2h0m0 3h0m0 70h0m0 11h0m0 0h0m1-170h0m0 36h0m0 12h0m0 117h0m0 21h0m0 0h0m0 88h0m0 52h0m1-300h0m0 39h0m0 32h0m0 116h0m0 65h0m1-233h0m0 38h0m0 39h0m0 33h0m0 8h0m0 81h0m0 139h0m0 3h0m1-339h0m0 59h0m0 82h0m0 36h0m1-273h0m0 92h0m0 44h0m0 16h0m0 72h0m0 24h0m0 11h0m0 4h0m0 53h0m0 46h0m1-307h0m0 16h0m0 156h0m0 45h0m0 46h0m1-312h0m0 40h0m0 16h0m0 29h0m0 12h0m0 14h0m0 48h0m0 9h0m0 335h0m1-496h0m0 103h0m0 24h0m0 118h0m0 11h0m1-364h0m0 118h0m0 43h0m0 35h0m0 22h0m0 36h0m0 13h0m0 12h0m1-198h0m0 129h0m0 55h0m0 36h0m0 33h0m0 7h0m1-166h0m0 46h0m0 17h0m0 106h0m0 1h0m1-89h0m0 16h0m0 45h0m0 54h0m1-241h0m0 95h0m0 200h0m1-397h0m0 132h0m0 28h0m0 94h0m0 142h0m0 20h0m0 64h0m1-486h0m0 105h0m0 36h0m0 4h0m0 34h0m0 53h0m0 48h0m0 25h0m0 6h0m1-172h0m0 36h0m0 12h0m0 76h0m0 23h0m0 48h0m0 18h0m0 4h0m1-280h0m0 20h0m0 41h0m0 20h0m0 13h0m0 35h0m0 58h0m0 39h0m1-73h0m0 46h0m1-181h0m0 76h0m0 43h0m0 13h0m0 16h0m0 7h0m0 93h0m1-250h0m0 86h0m0 122h0m0 18h0m0 115h0m1-482h0m0 117h0m0 6h0m0 71h0m0 18h0m0 12h0m0 20h0m0 58h0m0 92h0m0 50h0m1-343h0m0 134h0m0 126h0m1-237h0m0 82h0m0 5h0m0 15h0m0 16h0m0 11h0m0 18h0m0 114h0m1-415h0m0 144h0m0 32h0m0 9h0m0 119h0m0 16h0m0 12h0m0 13h0m0 37h0m1-334h0m0 90h0m0 26h0m0 21h0m0 14h0m0 7h0m0 90h0m0 30h0m0 125h0m0 26h0m1-196h0m1-125h0m0 96h0m0 218h0m1-253h0m0 49h0m0 2h0m0 124h0m0 18h0m0 9h0m1-192h0m0 13h0m0 18h0m0 42h0m1-113h0m1 61h0m0 36h0m0 120h0m1-215h0m0 42h0m0 31h0m0 37h0m0 19h0m1-390h0m0 232h0m0 48h0m0 30h0m0 43h0m0 29h0m0 11h0m0 23h0m0 28h0m1-214h0m0 25h0m0 5h0m0 24h0m0 17h0m0 129h0m1-298h0m0 156h0m0 60h0m0 1h0m0 40h0m0 88h0m1-323h0m0 68h0m0 82h0m0 208h0m1-240h0m0 35h0m0 68h0m1-160h0m0 82h0m0 6h0m0 15h0m0 117h0m0 6h0m0 37h0m1-203h0m0 3h0m0 30h0m0 99h0m0 67h0m1-162h0m0 1h0m0 0h0m0 13h0m0 3h0m0 55h0m0 26h0m0 37h0m1-140h0m0 17h0m0 28h0m0 69h0m0 120h0m1-316h0m0 1h0m0 87h0m0 11h0m0 42h0m0 67h0m1-156h0m0 12h0m0 29h0m0 13h0m0 23h0m0 47h0m0 63h0m0 15h0m1-288h0m0 30h0m0 13h0m0 57h0m0 38h0m0 35h0m0 49h0m0 24h0m0 14h0m1-313h0m0 82h0m0 45h0m0 2h0m0 144h0m0 17h0m0 111h0m1-380h0m0 53h0m0 80h0m0 3h0m0 17h0m0 5h0m0 16h0m0 21h0m0 35h0m0 90h0m0 162h0m1-419h0m0 45h0m0 126h0m0 9h0m0 66h0m1-366h0m0 18h0m0 19h0m0 79h0m0 52h0m0 15h0m0 148h0m0 6h0m1-450h0m0 155h0m0 62h0m0 117h0m0 68h0m0 16h0m0 27h0m0 75h0m1-192h0m0 27h0m0 6h0m0 33h0m0 2h0m0 49h0m0 15h0m0 42h0m1-299h0m0 57h0m0 20h0m0 15h0m0 11h0m0 34h0m0 11h0m0 12h0m0 12h0m0 7h0m0 89h0m0 118h0m1-323h0m0 3h0m0 6h0m0 27h0m0 77h0m0 9h0m0 5h0m0 43h0m1-213h0m0 19h0m0 76h0m0 85h0m0 4h0m0 100h0m1-199h0m0 8h0m0 24h0m0 52h0m0 0h0m0 41h0m0 14h0m0 182h0m0 59h0m1-384h0m0 41h0m0 2h0m0 20h0m0 20h0m0 14h0m1-200h0m0 142h0m0 38h0m0 29h0m0 36h0m0 58h0m0 24h0m0 78h0m1-437h0m0 19h0m0 61h0m0 44h0m0 33h0m0 3h0m0 28h0m0 22h0m0 58h0m0 2h0m1-199h0m0 63h0m0 28h0m0 34h0m0 47h0m0 58h0m0 27h0m1-338h0m0 24h0m0 46h0m0 6h0m0 38h0m0 58h0m0 29h0m0 18h0m0 23h0m0 58h0m0 1h0m1-246h0m0 56h0m0 43h0m0 10h0m0 41h0m0 35h0m0 1h0m0 70h0m0 30h0m1-405h0m0 229h0m0 13h0m0 23h0m0 2h0m0 62h0m1-138h0m0 33h0m0 7h0m0 33h0m0 66h0m0 150h0m0 53h0m1-505h0m0 2h0m0 222h0m0 13h0m0 71h0m1-162h0m0 27h0m0 38h0m0 44h0m0 9h0m0 25h0m0 24h0m1-348h0m0 222h0m1-79h0m0 17h0m0 20h0m0 17h0m0 8h0m0 74h0m0 62h0m1-144h0m0 56h0m0 18h0m0 2h0m0 24h0m0 22h0m1-156h0m0 4h0m0 57h0m0 106h0m0 83h0m1-342h0m0 70h0m0 33h0m0 8h0m0 19h0m0 32h0m0 43h0m0 72h0m0 132h0m1-362h0m0 45h0m0 53h0m0 79h0m0 33h0m0 10h0m0 2h0m0 57h0m1-350h0m0 156h0m0 48h0m0 11h0m0 9h0m0 2h0m0 54h0m1-262h0m0 10h0m0 119h0m0 7h0m0 57h0m0 11h0m0 1h0m0 53h0m0 89h0m1-203h0m0 106h0m0 4h0m0 16h0m1-297h0m0 26h0m0 19h0m0 72h0m0 90h0m0 7h0m0 0h0m0 2h0m0 66h0m0 37h0m1-276h0m0 77h0m0 88h0m0 1h0m0 59h0m0 57h0m0 13h0m1-262h0m0 62h0m0 81h0m0 6h0m0 68h0m0 1h0m1-161h0m0 20h0m0 37h0m0 4h0m0 92h0m0 4h0m0 26h0m0 127h0m1-429h0m0 58h0m0 70h0m0 63h0m0 94h0m0 41h0m0 107h0m1-378h0m0 30h0m0 35h0m0 10h0m0 58h0m0 35h0m1-165h0m0 149h0m0 6h0m0 34h0m0 101h0m1-369h0m0 47h0m0 79h0m0 38h0m0 47h0m0 30h0m1-94h0m0 80h0m0 9h0m0 10h0m0 68h0m0 8h0m0 12h0m1-272h0m0 93h0m0 44h0m0 8h0m0 52h0m0 49h0m1-88h0m0 79h0m1-304h0m0 98h0m0 32h0m0 96h0m0 24h0m1-209h0m0 86h0m0 4h0m0 30h0m0 7h0m0 1h0m0 13h0m0 55h0m0 17h0m0 12h0m0 6h0m1-204h0m0 52h0m0 24h0m0 15h0m0 29h0m1-94h0m0 71h0m0 31h0m0 26h0m0 2h0m0 22h0m1-244h0m0 49h0m0 20h0m0 112h0m0 75h0m0 11h0m0 21h0m0 22h0m0 113h0m1-229h0m0 5h0m0 3h0m0 73h0m0 4h0m0 22h0m0 72h0m0 57h0m1-375h0m0 79h0m0 34h0m0 78h0m0 32h0m0 11h0m0 42h0m0 18h0m1-364h0m0 133h0m0 47h0m0 24h0m0 48h0m1-118h0m0 92h0m0 30h0m0 74h0m0 61h0m0 7h0m1-365h0m0 77h0m0 13h0m0 6h0m0 10h0m0 55h0m0 66h0m0 25h0m1-164h0m0 107h0m0 15h0m0 15h0m0 59h0m0 36h0m1-251h0m0 6h0m0 74h0m0 104h0m0 45h0m1-239h0m0 58h0m0 55h0m0 12h0m0 16h0m0 14h0m0 26h0m0 26h0m0 65h0m0 72h0m1-430h0m0 179h0m0 66h0m0 38h0m0 1h0m0 41h0m0 87h0m1-371h0m0 46h0m0 104h0m0 1h0m0 60h0m0 20h0m0 44h0m0 168h0m1-411h0m0 34h0m0 28h0m0 50h0m0 7h0m0 71h0m1-131h0m0 108h0m0 160h0m1-289h0m0 0h0m0 14h0m0 28h0m0 166h0m0 3h0m0 142h0m1-408h0m0 205h0m1-344h0m0 262h0m0 19h0m0 19h0m0 69h0m0 24h0m1-209h0m0 23h0m0 255h0m1-318h0m0 87h0m0 36h0m0 18h0m0 16h0m0 44h0m1-269h0m0 78h0m0 16h0m0 66h0m0 66h0m0 23h0m0 9h0m0 31h0m0 19h0m0 17h0m0 8h0m1-290h0m0 87h0m0 69h0m0 73h0m0 39h0m0 12h0m0 53h0m1-337h0m0 54h0m0 98h0m0 33h0m0 108h0m0 115h0m1-383h0m0 69h0m0 27h0m0 67h0m0 3h0m0 6h0m0 29h0m0 46h0m0 25h0m1-307h0m0 2h0m0 45h0m0 2h0m0 84h0m0 13h0m0 6h0m0 27h0m0 36h0m0 9h0m1-231h0m0 112h0m0 53h0m0 75h0m0 11h0m1-274h0m0 83h0m0 23h0m0 93h0m0 57h0m0 50h0m0 32h0m1-267h0m0 37h0m0 39h0m0 28h0m0 35h0m0 16h0m0 6h0m0 24h0m1-281h0m0 70h0m0 21h0m0 17h0m0 36h0m0 37h0m0 12h0m0 7h0m0 19h0m0 2h0m0 5h0m0 27h0m0 25h0m0 12h0m0 65h0m1-333h0m0 3h0m0 156h0m0 232h0m1-439h0m0 306h0m0 38h0m0 2h0m0 11h0m1-267h0m0 106h0m0 23h0m0 2h0m0 43h0m0 13h0m0 81h0m0 56h0m1-335h0m0 2h0m0 8h0m0 24h0m0 151h0m0 91h0m0 108h0m1-367h0m0 7h0m0 64h0m0 81h0m0 30h0m0 1h0m0 3h0m0 12h0m0 7h0m0 8h0m0 39h0m1-333h0m0 17h0m0 111h0m0 86h0m0 38h0m0 172h0m1-290h0m0 52h0m0 60h0m0 60h0m1-347h0m0 97h0m0 48h0m0 19h0m0 7h0m0 22h0m0 19h0m0 1h0m0 29h0m0 66h0m0 14h0m0 1h0m0 9h0m0 33h0m0 3h0m0 20h0m0 12h0m1-218h0m0 54h0m0 0h0m0 1h0m1-78h0m0 162h0m0 101h0m1-299h0m0 103h0m0 42h0m0 44h0m0 196h0m1-445h0m0 22h0m0 27h0m0 62h0m0 11h0m0 67h0m0 79h0m0 53h0m0 19h0m0 7h0m0 3h0m0 73h0m1-334h0m0 43h0m0 7h0m0 20h0m0 44h0m0 32h0m0 28h0m0 7h0m0 110h0m1-384h0m0 68h0m0 44h0m0 4h0m0 36h0m0 22h0m0 42h0m0 54h0m0 106h0m0 82h0m1-371h0m0 24h0m0 28h0m0 1h0m0 52h0m0 4h0m0 57h0m0 3h0m1-272h0m0 141h0m0 78h0m0 52h0m0 251h0m0 23h0m1-498h0m0 117h0m0 25h0m0 38h0m0 12h0m0 23h0m0 4h0m0 37h0m0 5h0m0 26h0m1-295h0m0 21h0m0 43h0m0 56h0m0 69h0m0 19h0m0 5h0m0 1h0m0 16h0m0 30h0m0 24h0m0 111h0m1-388h0m0 12h0m0 25h0m0 45h0m0 80h0m0 29h0m0 12h0m0 208h0m1-266h0m0 17h0m0 45h0m0 17h0m0 44h0m1-299h0m0 72h0m0 64h0m0 28h0m0 3h0m0 2h0m0 50h0m0 0h0m0 74h0m1-109h0m0 11h0m0 175h0m1-329h0m0 57h0m0 74h0m0 22h0m0 120h0m0 173h0m0 37h0m1-547h0m0 46h0m0 7h0m0 11h0m0 189h0m0 3h0m0 96h0m1-249h0m0 95h0m0 48h0m0 12h0m0 122h0m0 35h0m1-350h0m0 29h0m0 29h0m0 5h0m0 68h0m0 86h0m1-161h0m0 37h0m0 2h0m0 82h0m1-198h0m0 11h0m0 2h0m0 44h0m0 43h0m0 3h0m0 15h0m1-108h0m0 12h0m0 26h0m0 11h0m0 10h0m0 15h0m0 30h0m0 75h0m0 110h0m1-199h0m0 20h0m0 16h0m0 5h0m0 37h0m0 23h0m1-246h0m0 138h0m0 16h0m0 4h0m0 40h0m0 114h0m0 21h0m1-281h0m0 4h0m0 36h0m0 25h0m0 12h0m0 7h0m0 28h0m0 103h0m0 24h0m1-284h0m0 63h0m0 31h0m0 47h0m0 16h0m0 52h0m0 19h0m0 2h0m1-137h0m0 220h0m0 17h0m0 178h0m1-327h0m0 1h0m0 6h0m0 28h0m0 19h0m0 139h0m1-221h0m0 78h0m1-296h0m0 97h0m0 58h0m0 31h0m0 42h0m1-181h0m0 45h0m0 30h0m0 17h0m0 36h0m0 27h0m0 21h0m0 16h0m0 69h0m0 10h0m1-205h0m0 87h0m0 10h0m0 64h0m0 8h0m0 3h0m0 4h0m0 50h0m0 78h0m1-341h0m0 23h0m0 80h0m0 7h0m0 73h0m1-76h0m0 4h0m0 5h0m0 38h0m0 29h0m0 12h0m0 26h0m0 35h0m1-247h0m0 2h0m0 84h0m0 21h0m0 41h0m0 48h0m0 19h0m0 68h0m1-189h0m0 8h0m0 10h0m0 23h0m0 22h0m0 20h0m0 2h0m0 14h0m0 26h0m0 5h0m0 1h0m0 49h0m0 21h0m1-275h0m0 12h0m0 47h0m0 64h0m0 14h0m0 4h0m0 56h0m0 13h0m0 222h0m1-420h0m0 27h0m0 41h0m0 108h0m0 21h0m0 26h0m0 12h0m1-219h0m0 35h0m0 48h0m0 4h0m0 77h0m0 1h0m0 273h0m1-461h0m0 93h0m0 7h0m0 14h0m0 14h0m0 36h0m0 43h0m1-244h0m0 38h0m0 38h0m0 7h0m0 72h0m0 320h0m1-417h0m0 11h0m0 0h0m0 58h0m0 86h0m0 19h0m0 8h0m0 45h0m0 31h0m0 79h0m1-439h0m0 69h0m0 14h0m0 38h0m0 30h0m0 7h0m0 58h0m0 5h0m1-136h0m0 59h0m0 25h0m0 5h0m0 20h0m1-213h0m0 62h0m0 97h0m0 11h0m0 56h0m0 79h0m0 14h0m0 195h0m1-358h0m0 24h0m0 4h0m0 17h0m0 39h0m0 257h0m1-402h0m0 7h0m0 12h0m0 21h0m0 1h0m0 17h0m0 67h0m0 8h0m0 29h0m0 10h0m0 61h0m0 52h0m1-194h0m0 21h0m0 2h0m0 17h0m0 20h0m0 106h0m0 28h0m0 103h0m1-502h0m0 62h0m0 100h0m0 60h0m0 0h0m0 21h0m0 37h0m0 49h0m0 2h0m0 73h0m1-236h0m0 23h0m0 10h0m0 11h0m0 39h0m0 27h0m0 10h0m0 13h0m0 14h0m0 56h0m1-289h0m0 33h0m0 7h0m0 5h0m0 27h0m0 19h0m0 64h0m0 26h0m0 4h0m0 5h0m0 61h0m0 2h0m0 0h0m0 34h0m0 2h0m0 126h0m1-386h0m0 49h0m0 15h0m0 74h0m0 8h0m0 31h0m1-194h0m0 109h0m0 27h0m0 6h0m0 7h0m0 4h0m0 1h0m0 9h0m0 7h0m0 22h0m0 64h0m0 16h0m0 1h0m0 35h0m1-391h0m0 132h0m0 36h0m0 52h0m0 5h0m0 7h0m0 6h0m0 1h0m0 14h0m0 1h0m0 1h0m0 126h0m0 85h0m1-391h0m0 32h0m0 44h0m0 21h0m0 18h0m0 9h0m0 10h0m0 21h0m0 5h0m0 234h0m1-346h0m0 18h0m0 6h0m0 5h0m0 31h0m0 25h0m0 6h0m0 39h0m0 22h0m0 5h0m0 24h0m0 44h0m0 48h0m1-311h0m0 59h0m0 27h0m0 22h0m0 10h0m0 12h0m0 10h0m0 4h0m0 4h0m1-122h0m0 3h0m0 26h0m0 15h0m0 6h0m0 0h0m0 4h0m0 1h0m0 39h0m0 21h0m0 7h0m0 27h0m0 28h0m0 38h0m0 12h0m0 15h0m0 45h0m0 93h0m1-493h0m0 175h0m0 20h0m0 5h0m0 2h0m0 7h0m0 29h0m0 4h0m0 0h0m0 11h0m0 28h0m0 21h0m0 16h0m1-199h0m0 19h0m0 8h0m0 2h0m0 22h0m0 3h0m0 10h0m0 2h0m0 11h0m0 18h0m0 12h0m0 11h0m0 2h0m0 24h0m1-188h0m0 63h0m0 10h0m0 3h0m0 13h0m0 34h0m0 6h0m0 14h0m0 11h0m0 8h0m0 8h0m0 54h0m0 3h0m0 96h0m1-241h0m0 10h0m0 21h0m0 16h0m0 32h0m0 39h0m0 10h0m1-219h0m0 21h0m0 24h0m0 49h0m0 49h0m0 89h0m1-284h0m0 76h0m0 95h0m0 18h0m0 1h0m0 43h0m0 21h0m1-243h0m0 90h0m0 2h0m0 6h0m0 36h0m0 3h0m0 19h0m0 3h0m0 100h0m1-215h0m0 10h0m0 87h0m0 17h0m0 5h0m0 43h0m1-137h0m0 22h0m0 23h0m0 5h0m0 7h0m0 20h0m0 17h0m0 44h0m0 0h0m0 19h0m0 9h0m1-245h0m0 18h0m0 26h0m0 26h0m0 2h0m0 2h0m0 32h0m0 2h0m0 24h0m0 14h0m0 28h0m0 6h0m0 3h0m0 28h0m0 11h0m0 23h0m0 25h0m0 9h0m1-186h0m0 48h0m0 6h0m0 8h0m0 0h0m0 6h0m0 10h0m0 16h0m0 1h0m0 44h0m0 155h0m1-297h0m0 14h0m0 30h0m0 34h0m0 21h0m0 1h0m0 36h0m0 110h0m1-297h0m0 9h0m0 35h0m0 2h0m0 12h0m0 30h0m0 18h0m0 6h0m0 5h0m0 37h0m0 3h0m0 2h0m0 47h0m0 6h0m0 3h0m0 7h0m0 1h0m1-300h0m0 54h0m0 30h0m0 35h0m0 24h0m0 13h0m0 19h0m1-44h0m0 36h0m0 3h0m0 25h0m0 0h0m0 57h0m0 31h0m1-244h0m0 28h0m0 39h0m0 8h0m0 4h0m0 95h0m0 31h0m0 3h0m0 84h0m1-274h0m0 72h0m0 18h0m0 4h0m0 16h0m0 10h0m0 2h0m0 4h0m0 1h0m0 10h0m0 10h0m0 2h0m0 27h0m0 3h0m0 1h0m0 0h0m0 20h0m0 150h0m1-282h0m0 9h0m0 24h0m0 11h0m0 30h0m0 1h0m0 13h0m0 41h0m0 26h0m0 1h0m0 9h0m0 14h0m1-182h0m0 24h0m0 11h0m0 5h0m0 15h0m0 9h0m0 23h0m0 85h0m1-252h0m0 53h0m0 5h0m0 55h0m0 12h0m0 30h0m0 14h0m0 9h0m0 0h0m0 28h0m0 6h0m0 19h0m0 35h0m0 24h0m1-284h0m0 73h0m0 7h0m0 21h0m0 5h0m0 23h0m0 18h0m0 44h0m0 4h0m0 1h0m0 6h0m0 6h0m0 90h0m1-288h0m0 83h0m0 7h0m0 25h0m0 17h0m0 25h0m0 16h0m0 34h0m0 41h0m0 48h0m0 7h0m1-246h0m0 25h0m0 4h0m0 5h0m0 6h0m0 95h0m0 6h0m0 24h0m0 219h0m1-437h0m0 40h0m0 1h0m0 27h0m0 36h0m0 20h0m0 0h0m0 8h0m0 30h0m0 31h0m0 6h0m0 74h0m0 210h0m1-367h0m0 1h0m0 0h0m0 17h0m0 13h0m0 22h0m0 16h0m0 3h0m0 104h0m1-251h0m0 11h0m0 9h0m0 25h0m0 0h0m0 17h0m0 3h0m0 1h0m0 1h0m0 8h0m0 0h0m0 19h0m0 4h0m0 44h0m0 6h0m0 68h0m1-209h0m0 15h0m0 66h0m0 28h0m0 0h0m0 3h0m0 2h0m0 1h0m0 3h0m0 4h0m0 14h0m0 16h0m0 17h0m1-238h0m0 22h0m0 23h0m0 5h0m0 7h0m0 23h0m0 33h0m0 7h0m0 27h0m0 12h0m0 17h0m0 2h0m0 7h0m0 66h0m0 11h0m1-220h0m0 52h0m0 12h0m0 4h0m0 9h0m0 21h0m0 25h0m0 10h0m0 1h0m0 11h0m0 3h0m0 3h0m0 186h0m1-410h0m0 32h0m0 72h0m0 3h0m0 18h0m0 3h0m0 17h0m0 10h0m0 11h0m0 5h0m0 4h0m0 3h0m0 11h0m0 9h0m0 8h0m0 63h0m0 44h0m0 18h0m1-259h0m0 38h0m0 38h0m0 43h0m0 16h0m1-114h0m0 46h0m0 25h0m0 6h0m0 10h0m0 10h0m0 8h0m0 4h0m0 11h0m0 10h0m0 172h0m1-277h0m0 28h0m0 20h0m0 10h0m0 25h0m0 9h0m0 36h0m0 43h0m1-236h0m0 61h0m0 23h0m0 24h0m0 22h0m0 7h0m0 1h0m0 18h0m0 16h0m0 19h0m0 4h0m0 4h0m0 97h0m1-273h0m0 4h0m0 34h0m0 15h0m0 1h0m0 9h0m0 22h0m0 7h0m0 10h0m0 7h0m0 14h0m0 8h0m0 21h0m0 14h0m0 83h0m1-269h0m0 39h0m0 14h0m0 16h0m0 23h0m0 10h0m0 1h0m0 8h0m0 2h0m0 16h0m0 1h0m0 5h0m0 20h0m0 22h0m0 22h0m0 24h0m0 0h0m0 16h0m1-267h0m0 76h0m0 4h0m0 57h0m0 21h0m0 2h0m0 36h0m0 1h0m0 44h0m0 75h0m0 29h0m1-317h0m0 14h0m0 19h0m0 5h0m0 9h0m0 34h0m0 1h0m0 2h0m0 13h0m0 5h0m0 69h0m0 23h0m0 9h0m0 13h0m0 61h0m0 5h0m0 110h0m1-394h0m0 45h0m0 10h0m0 1h0m0 4h0m0 25h0m0 19h0m0 4h0m0 3h0m0 6h0m0 3h0m0 4h0m0 1h0m0 51h0m0 13h0m0 16h0m0 64h0m0 72h0m1-320h0m0 9h0m0 46h0m0 20h0m0 8h0m0 15h0m0 0h0m0 3h0m0 6h0m0 6h0m0 2h0m0 27h0m0 17h0m0 45h0m0 9h0m1-309h0m0 142h0m0 24h0m0 77h0m0 38h0m0 22h0m0 44h0m0 71h0m1-284h0m0 12h0m0 13h0m0 20h0m0 10h0m0 6h0m0 4h0m0 22h0m0 11h0m0 10h0m0 8h0m0 52h0m0 2h0m0 17h0m0 96h0m0 22h0m1-351h0m0 7h0m0 10h0m0 25h0m0 3h0m0 29h0m0 0h0m0 3h0m0 5h0m0 16h0m0 13h0m0 1h0m0 16h0m0 4h0m0 11h0m0 120h0m0 6h0m1-245h0m0 37h0m0 20h0m0 1h0m0 2h0m0 12h0m0 3h0m0 4h0m0 8h0m0 1h0m0 22h0m0 11h0m0 3h0m0 47h0m1-212h0m0 28h0m0 13h0m0 8h0m0 7h0m0 3h0m0 15h0m0 9h0m0 6h0m0 14h0m0 12h0m0 2h0m0 10h0m0 12h0m0 15h0m0 34h0m0 7h0m0 13h0m0 2h0m0 81h0m1-257h0m0 0h0m0 12h0m0 18h0m0 3h0m0 32h0m0 9h0m0 24h0m0 3h0m0 6h0m0 15h0m0 8h0m0 133h0m1-353h0m0 81h0m0 28h0m0 26h0m0 4h0m0 3h0m0 10h0m0 1h0m0 14h0m0 14h0m0 1h0m0 25h0m0 26h0m0 6h0m0 0h0m0 28h0m1-273h0m0 55h0m0 7h0m0 14h0m0 29h0m0 4h0m0 19h0m0 3h0m0 7h0m0 20h0m0 23h0m0 9h0m0 9h0m0 7h0m0 3h0m0 9h0m0 3h0m0 13h0m0 16h0m1-126h0m0 33h0m0 11h0m0 25h0m0 0h0m0 31h0m0 4h0m0 68h0m0 11h0m0 41h0m1-224h0m0 15h0m0 6h0m0 8h0m0 0h0m0 3h0m0 14h0m0 27h0m0 13h0m0 3h0m0 52h0m0 32h0m0 99h0m0 56h0m1-399h0m0 16h0m0 36h0m0 7h0m0 3h0m0 17h0m0 3h0m0 16h0m0 8h0m0 11h0m0 2h0m0 7h0m0 49h0m0 11h0m0 9h0m0 1h0m0 21h0m0 15h0m1-172h0m0 43h0m0 7h0m0 3h0m0 22h0m0 26h0m0 17h0m0 8h0m0 18h0m0 50h0m0 3h0m1-211h0m0 17h0m0 4h0m0 0h0m0 42h0m0 9h0m0 3h0m0 22h0m0 7h0m0 8h0m0 11h0m0 1h0m0 24h0m0 179h0m0 216h0m1-645h0m0 84h0m0 12h0m0 2h0m0 4h0m0 6h0m0 1h0m0 29h0m0 36h0m0 2h0m0 6h0m0 10h0m0 1h0m0 16h0m0 1h0m0 11h0m0 7h0m0 19h0m0 20h0m1-205h0m0 33h0m0 37h0m0 5h0m0 2h0m0 2h0m0 2h0m0 12h0m0 10h0m0 10h0m0 5h0m0 0h0m0 4h0m0 16h0m0 3h0m0 46h0m0 93h0m0 56h0m1-313h0m0 21h0m0 3h0m0 8h0m0 16h0m0 23h0m0 3h0m0 3h0m0 14h0m0 1h0m0 11h0m0 3h0m0 18h0m0 36h0m0 118h0m1-322h0m0 39h0m0 25h0m0 4h0m0 12h0m0 2h0m0 40h0m0 0h0m0 5h0m0 3h0m0 47h0m0 16h0m1-136h0m0 70h0m0 8h0m0 3h0m0 66h0m0 9h0m0 10h0m0 35h0m1-300h0m0 54h0m0 76h0m0 10h0m0 1h0m0 3h0m0 16h0m0 8h0m0 10h0m0 14h0m0 0h0m0 25h0m0 10h0m0 8h0m0 17h0m0 27h0m0 48h0m1-289h0m0 3h0m0 26h0m0 3h0m0 19h0m0 10h0m0 5h0m0 14h0m0 41h0m0 14h0m0 18h0m0 22h0m0 34h0m0 1h0m0 13h0m0 12h0m1-160h0m0 8h0m0 13h0m0 5h0m0 3h0m0 4h0m0 25h0m0 23h0m0 12h0m0 3h0m0 39h0m0 18h0m0 39h0m0 28h0m0 131h0m1-439h0m0 66h0m0 22h0m0 7h0m0 4h0m0 4h0m0 8h0m0 13h0m0 13h0m0 9h0m0 8h0m0 0h0m0 16h0m0 1h0m0 9h0m0 8h0m0 5h0m0 8h0m0 32h0m0 34h0m1-266h0m0 18h0m0 27h0m0 33h0m0 8h0m0 43h0m0 3h0m0 5h0m0 2h0m0 2h0m0 25h0m0 2h0m0 17h0m0 16h0m0 2h0m0 8h0m0 6h0m0 4h0m0 53h0m0 29h0m0 6h0m0 19h0m0 13h0m1-315h0m0 34h0m0 19h0m0 9h0m0 15h0m0 1h0m0 3h0m0 4h0m0 18h0m0 11h0m0 4h0m0 12h0m0 1h0m0 1h0m0 5h0m0 1h0m0 6h0m0 17h0m0 11h0m0 2h0m0 9h0m0 22h0m0 2h0m0 4h0m0 36h0m0 0h0m1-249h0m0 8h0m0 14h0m0 2h0m0 16h0m0 4h0m0 18h0m0 1h0m0 8h0m0 3h0m0 7h0m0 1h0m0 14h0m0 1h0m0 19h0m0 3h0m0 20h0m0 2h0m0 31h0m0 9h0m0 8h0m0 0h0m0 12h0m0 37h0m1-222h0m0 13h0m0 7h0m0 48h0m0 1h0m0 10h0m0 0h0m0 9h0m0 6h0m0 22h0m0 8h0m0 4h0m0 0h0m0 14h0m0 18h0m0 3h0m0 22h0m0 7h0m0 18h0m0 50h0m0 5h0m1-321h0m0 20h0m0 24h0m0 23h0m0 7h0m0 37h0m0 4h0m0 14h0m0 1h0m0 9h0m0 2h0m0 10h0m0 7h0m0 11h0m0 14h0m0 4h0m0 5h0m0 23h0m0 21h0m0 7h0m1-214h0m0 18h0m0 5h0m0 35h0m0 16h0m0 17h0m0 14h0m0 16h0m0 1h0m0 6h0m0 17h0m0 27h0m0 7h0m0 15h0m0 60h0m1-254h0m0 33h0m0 15h0m0 25h0m0 8h0m0 32h0m0 10h0m0 1h0m0 19h0m0 6h0m0 11h0m0 21h0m0 13h0m0 21h0m0 31h0m1-211h0m0 16h0m0 6h0m0 31h0m0 3h0m0 5h0m0 2h0m0 1h0m0 3h0m0 41h0m0 9h0m0 50h0m0 13h0m0 10h0m0 56h0m1-291h0m0 16h0m0 2h0m0 53h0m0 1h0m0 10h0m0 13h0m0 10h0m0 1h0m0 3h0m0 22h0m0 11h0m0 11h0m0 2h0m0 24h0m0 2h0m0 6h0m0 14h0m0 4h0m0 1h0m0 11h0m0 79h0m1-298h0m0 44h0m0 15h0m0 1h0m0 10h0m0 18h0m0 3h0m0 22h0m0 14h0m0 1h0m0 5h0m0 8h0m0 3h0m0 1h0m0 4h0m0 14h0m0 1h0m0 12h0m0 7h0m0 1h0m0 20h0m0 14h0m1-170h0m0 27h0m0 2h0m0 4h0m0 6h0m0 14h0m0 13h0m0 3h0m0 11h0m0 4h0m0 45h0m0 1h0m0 22h0m0 18h0m0 47h0m0 3h0m1-253h0m0 26h0m0 2h0m0 0h0m0 3h0m0 1h0m0 2h0m0 25h0m0 8h0m0 15h0m0 1h0m0 5h0m0 1h0m0 5h0m0 11h0m0 3h0m0 5h0m0 0h0m0 4h0m0 4h0m0 1h0m0 8h0m0 5h0m0 1h0m0 1h0m0 2h0m0 0h0m0 3h0m0 2h0m0 0h0m0 4h0m0 8h0m0 6h0m0 5h0m0 3h0m0 30h0m0 37h0m0 7h0m0 10h0m0 26h0m1-255h0m0 18h0m0 9h0m0 13h0m0 9h0m0 16h0m0 0h0m0 4h0m0 0h0m0 10h0m0 15h0m0 10h0m0 11h0m0 8h0m0 20h0m0 7h0m0 3h0m0 26h0m0 56h0m1-265h0m0 34h0m0 8h0m0 1h0m0 5h0m0 3h0m0 16h0m0 20h0m0 32h0m0 13h0m0 4h0m0 29h0m0 4h0m0 5h0m0 18h0m0 22h0m0 9h0m0 24h0m0 122h0m1-394h0m0 109h0m0 1h0m0 1h0m0 28h0m0 3h0m0 7h0m0 13h0m0 20h0m0 14h0m0 99h0m0 94h0m1-355h0m0 3h0m0 14h0m0 15h0m0 2h0m0 7h0m0 9h0m0 20h0m0 8h0m0 5h0m0 20h0m0 28h0m0 1h0m0 4h0m0 13h0m0 4h0m0 2h0m0 5h0m0 7h0m0 25h0m0 17h0m0 60h0m1-264h0m0 32h0m0 6h0m0 24h0m0 1h0m0 4h0m0 6h0m0 4h0m0 7h0m0 1h0m0 1h0m0 0h0m0 6h0m0 8h0m0 13h0m0 2h0m0 7h0m0 4h0m0 2h0m0 3h0m0 9h0m0 7h0m0 0h0m0 37h0m0 1h0m0 26h0m0 10h0m0 3h0m1-259h0m0 40h0m0 28h0m0 37h0m0 49h0m0 4h0m0 9h0m0 3h0m0 5h0m0 20h0m0 18h0m0 48h0m0 109h0m0 18h0m1-362h0m0 9h0m0 5h0m0 3h0m0 17h0m0 27h0m0 16h0m0 2h0m0 5h0m0 1h0m0 7h0m0 0h0m0 4h0m0 2h0m0 5h0m0 9h0m0 0h0m0 6h0m0 12h0m0 3h0m0 9h0m0 6h0m0 10h0m1-170h0m0 17h0m0 24h0m0 1h0m0 38h0m0 1h0m0 15h0m0 4h0m0 6h0m0 4h0m0 3h0m0 38h0m0 15h0m0 12h0m0 0h0m0 29h0m0 64h0m0 84h0m1-361h0m0 20h0m0 5h0m0 22h0m0 3h0m0 10h0m0 18h0m0 5h0m0 3h0m0 0h0m0 1h0m0 15h0m0 3h0m0 21h0m0 17h0m0 5h0m0 24h0m0 9h0m0 12h0m0 8h0m0 5h0m1-190h0m0 15h0m0 27h0m0 1h0m0 6h0m0 30h0m0 22h0m0 1h0m0 14h0m0 1h0m0 0h0m0 4h0m0 26h0m0 21h0m0 2h0m0 19h0m0 3h0m0 11h0m0 3h0m1-207h0m0 25h0m0 26h0m0 43h0m0 11h0m0 5h0m0 3h0m0 17h0m0 3h0m0 8h0m0 1h0m0 13h0m0 7h0m0 2h0m0 50h0m0 231h0m1-448h0m0 1h0m0 52h0m0 4h0m0 3h0m0 12h0m0 9h0m0 8h0m0 4h0m0 10h0m0 1h0m0 3h0m0 2h0m0 0h0m0 6h0m0 17h0m0 4h0m0 3h0m0 2h0m0 14h0m0 1h0m0 2h0m0 11h0m0 13h0m0 17h0m0 22h0m0 8h0m1-209h0m0 2h0m0 2h0m0 14h0m0 22h0m0 10h0m0 13h0m0 10h0m0 2h0m0 5h0m0 9h0m0 6h0m0 23h0m0 7h0m0 2h0m0 2h0m0 7h0m0 11h0m0 1h0m0 12h0m0 2h0m0 44h0m1-223h0m0 11h0m0 20h0m0 0h0m0 20h0m0 0h0m0 11h0m0 3h0m0 6h0m0 16h0m0 1h0m0 7h0m0 0h0m0 8h0m0 0h0m0 3h0m0 4h0m0 1h0m0 1h0m0 6h0m0 1h0m0 8h0m0 2h0m0 14h0m0 4h0m0 24h0m0 4h0m0 2h0m0 2h0m0 3h0m0 2h0m0 2h0m0 26h0m0 5h0m0 152h0m1-402h0m0 16h0m0 30h0m0 11h0m0 8h0m0 13h0m0 1h0m0 5h0m0 0h0m0 3h0m0 3h0m0 2h0m0 7h0m0 2h0m0 15h0m0 7h0m0 4h0m0 4h0m0 1h0m0 14h0m0 10h0m0 1h0m0 4h0m0 1h0m0 1h0m0 6h0m0 4h0m0 20h0m0 9h0m0 3h0m0 6h0m0 70h0m1-274h0m0 96h0m0 2h0m0 4h0m0 10h0m0 3h0m0 1h0m0 2h0m0 13h0m0 8h0m0 10h0m0 4h0m0 12h0m0 6h0m0 13h0m0 5h0m0 7h0m0 0h0m0 32h0m0 57h0m0 4h0m1-267h0m0 2h0m0 18h0m0 3h0m0 7h0m0 8h0m0 18h0m0 20h0m0 1h0m0 0h0m0 1h0m0 10h0m0 3h0m0 4h0m0 6h0m0 24h0m0 7h0m0 15h0m0 13h0m0 11h0m0 69h0m0 17h0m0 16h0m1-233h0m0 26h0m0 9h0m0 10h0m0 19h0m0 15h0m0 6h0m0 4h0m0 2h0m0 11h0m0 1h0m0 5h0m0 29h0m0 40h0m0 20h0m1-223h0m0 39h0m0 16h0m0 0h0m0 33h0m0 0h0m0 18h0m0 1h0m0 19h0m0 15h0m0 19h0m0 0h0m0 30h0m0 17h0m0 42h0m0 5h0m1-283h0m0 27h0m0 2h0m0 20h0m0 20h0m0 6h0m0 2h0m0 26h0m0 7h0m0 31h0m0 1h0m0 10h0m0 13h0m0 2h0m0 16h0m0 8h0m0 1h0m0 4h0m0 15h0m0 2h0m0 24h0m1-192h0m0 0h0m0 20h0m0 14h0m0 14h0m0 6h0m0 16h0m0 0h0m0 11h0m0 2h0m0 1h0m0 3h0m0 3h0m0 9h0m0 1h0m0 4h0m0 4h0m0 0h0m0 4h0m0 5h0m0 15h0m0 9h0m0 12h0m0 6h0m0 17h0m0 5h0m1-238h0m0 60h0m0 25h0m0 23h0m0 2h0m0 2h0m0 5h0m0 11h0m0 3h0m0 1h0m0 3h0m0 3h0m0 3h0m0 1h0m0 1h0m0 29h0m0 3h0m0 4h0m0 14h0m0 19h0m0 13h0m1-206h0m0 12h0m0 17h0m0 9h0m0 30h0m0 4h0m0 1h0m0 2h0m0 0h0m0 1h0m0 15h0m0 2h0m0 29h0m0 4h0m0 3h0m0 1h0m0 2h0m0 9h0m0 2h0m0 16h0m0 2h0m0 17h0m0 11h0m0 31h0m0 106h0m1-303h0m0 19h0m0 3h0m0 23h0m0 28h0m0 9h0m0 3h0m0 0h0m0 6h0m0 18h0m0 1h0m0 2h0m0 5h0m0 13h0m0 14h0m0 7h0m0 8h0m0 3h0m0 4h0m0 4h0m0 9h0m0 35h0m0 3h0m0 3h0m1-224h0m0 3h0m0 22h0m0 14h0m0 5h0m0 10h0m0 18h0m0 19h0m0 0h0m0 3h0m0 31h0m0 25h0m0 15h0m0 5h0m0 14h0m0 10h0m0 25h0m0 22h0m0 39h0m0 34h0m1-360h0m0 34h0m0 40h0m0 2h0m0 3h0m0 15h0m0 7h0m0 12h0m0 30h0m0 6h0m0 2h0m0 0h0m0 23h0m0 12h0m0 10h0m0 8h0m0 12h0m0 24h0m0 16h0m0 42h0m1-286h0m0 25h0m0 24h0m0 13h0m0 3h0m0 2h0m0 7h0m0 4h0m0 2h0m0 2h0m0 5h0m0 24h0m0 28h0m0 9h0m0 9h0m0 17h0m0 14h0m0 18h0m0 6h0m0 0h0m0 1h0m0 0h0m0 14h0m0 8h0m0 24h0m0 43h0m0 17h0m1-293h0m0 6h0m0 15h0m0 3h0m0 5h0m0 6h0m0 9h0m0 0h0m0 10h0m0 11h0m0 12h0m0 2h0m0 12h0m0 11h0m0 7h0m0 1h0m0 9h0m0 5h0m0 8h0m0 1h0m0 2h0m0 36h0m0 0h0m0 125h0m1-281h0m0 12h0m0 11h0m0 0h0m0 3h0m0 41h0m0 4h0m0 7h0m0 14h0m0 2h0m0 5h0m0 12h0m0 9h0m0 10h0m0 10h0m0 14h0m0 32h0m1-236h0m0 16h0m0 30h0m0 10h0m0 10h0m0 1h0m0 2h0m0 1h0m0 19h0m0 1h0m0 6h0m0 10h0m0 3h0m0 8h0m0 13h0m0 5h0m0 16h0m0 6h0m0 9h0m0 5h0m0 0h0m0 5h0m0 5h0m0 1h0m0 25h0m0 5h0m0 8h0m0 4h0m0 1h0m0 15h0m0 47h0m1-293h0m0 14h0m0 56h0m0 19h0m0 16h0m0 6h0m0 1h0m0 8h0m0 1h0m0 4h0m0 3h0m0 9h0m0 14h0m0 6h0m0 4h0m0 0h0m0 3h0m0 29h0m0 11h0m0 3h0m0 5h0m0 8h0m0 3h0m0 30h0m0 19h0m1-278h0m0 5h0m0 53h0m0 29h0m0 3h0m0 11h0m0 26h0m0 1h0m0 3h0m0 6h0m0 11h0m0 13h0m0 30h0m0 5h0m0 3h0m0 1h0m0 4h0m0 6h0m0 1h0m0 6h0m0 36h0m0 28h0m0 8h0m0 42h0m1-288h0m0 40h0m0 1h0m0 2h0m0 0h0m0 23h0m0 5h0m0 1h0m0 8h0m0 2h0m0 1h0m0 5h0m0 8h0m0 4h0m0 7h0m0 9h0m0 18h0m0 4h0m0 19h0m0 5h0m0 14h0m0 26h0m0 93h0m1-310h0m0 6h0m0 9h0m0 2h0m0 19h0m0 23h0m0 13h0m0 2h0m0 7h0m0 2h0m0 13h0m0 9h0m0 2h0m0 6h0m0 9h0m0 4h0m0 12h0m0 4h0m0 1h0m0 12h0m0 10h0m0 7h0m0 3h0m0 9h0m0 19h0m0 5h0m0 11h0m0 1h0m0 176h0m1-387h0m0 23h0m0 26h0m0 20h0m0 1h0m0 2h0m0 12h0m0 4h0m0 9h0m0 2h0m0 4h0m0 13h0m0 1h0m0 0h0m0 7h0m0 7h0m0 8h0m0 11h0m0 11h0m0 26h0m0 1h0m0 5h0m0 33h0m0 10h0m1-223h0m0 27h0m0 12h0m0 3h0m0 1h0m0 7h0m0 14h0m0 13h0m0 9h0m0 2h0m0 21h0m0 1h0m0 10h0m0 4h0m0 5h0m0 2h0m0 0h0m0 4h0m0 10h0m0 0h0m0 2h0m0 2h0m0 54h0m0 2h0m1-221h0m0 31h0m0 38h0m0 0h0m0 31h0m0 0h0m0 2h0m0 1h0m0 4h0m0 2h0m0 9h0m0 2h0m0 1h0m0 6h0m0 4h0m0 26h0m0 0h0m0 20h0m0 4h0m0 27h0m0 19h0m0 17h0m0 4h0m0 80h0m1-288h0m0 28h0m0 11h0m0 3h0m0 13h0m0 0h0m0 13h0m0 10h0m0 2h0m0 10h0m0 2h0m0 0h0m0 3h0m0 9h0m0 3h0m0 21h0m0 24h0m0 55h0m0 229h0m1-471h0m0 3h0m0 24h0m0 14h0m0 4h0m0 4h0m0 22h0m0 9h0m0 4h0m0 1h0m0 55h0m0 45h0m0 2h0m1-162h0m0 2h0m0 24h0m0 1h0m0 5h0m0 0h0m0 29h0m0 3h0m0 3h0m0 5h0m0 5h0m0 2h0m0 6h0m0 2h0m0 10h0m0 7h0m0 22h0m0 18h0m0 20h0m0 17h0m0 33h0m1-257h0m0 21h0m0 5h0m0 15h0m0 4h0m0 10h0m0 6h0m0 2h0m0 28h0m0 0h0m0 4h0m0 24h0m0 9h0m0 8h0m0 3h0m0 4h0m0 11h0m0 29h0m0 10h0m0 42h0m0 25h0m0 30h0m1-308h0m0 86h0m0 4h0m0 9h0m0 18h0m0 26h0m0 13h0m0 7h0m0 16h0m0 4h0m0 10h0m0 11h0m0 9h0m0 30h0m0 6h0m0 44h0m1-239h0m0 2h0m0 25h0m0 38h0m0 4h0m0 1h0m0 3h0m0 2h0m0 3h0m0 5h0m0 12h0m0 28h0m0 7h0m0 14h0m0 4h0m0 3h0m0 3h0m0 6h0m0 8h0m0 6h0m0 6h0m0 36h0m0 63h0m1-336h0m0 37h0m0 23h0m0 8h0m0 17h0m0 17h0m0 1h0m0 20h0m0 6h0m0 5h0m0 6h0m0 4h0m0 0h0m0 1h0m0 0h0m0 8h0m0 1h0m0 15h0m0 4h0m0 1h0m0 1h0m0 7h0m0 14h0m0 1h0m0 1h0m0 3h0m0 4h0m0 2h0m0 6h0m0 80h0m0 26h0m1-299h0m0 5h0m0 16h0m0 6h0m0 5h0m0 33h0m0 7h0m0 3h0m0 7h0m0 8h0m0 0h0m0 1h0m0 1h0m0 4h0m0 1h0m0 5h0m0 30h0m0 30h0m0 1h0m0 6h0m0 9h0m0 1h0m0 28h0m0 2h0m0 26h0m0 33h0m0 32h0m1-266h0m0 18h0m0 3h0m0 2h0m0 1h0m0 7h0m0 21h0m0 20h0m0 1h0m0 2h0m0 4h0m0 2h0m0 6h0m0 25h0m0 0h0m0 6h0m0 2h0m0 6h0m0 10h0m0 48h0m0 7h0m0 4h0m1-225h0m0 41h0m0 6h0m0 4h0m0 13h0m0 3h0m0 3h0m0 1h0m0 13h0m0 3h0m0 14h0m0 3h0m0 14h0m0 11h0m0 0h0m0 1h0m0 1h0m0 1h0m0 10h0m0 10h0m0 3h0m0 1h0m0 7h0m0 18h0m0 0h0m0 1h0m0 28h0m0 36h0m1-266h0m0 20h0m0 7h0m0 15h0m0 14h0m0 22h0m0 3h0m0 7h0m0 1h0m0 6h0m0 31h0m0 9h0m0 1h0m0 7h0m0 1h0m0 6h0m0 7h0m0 5h0m0 3h0m0 16h0m0 17h0m0 3h0m0 8h0m0 3h0m1-133h0m0 27h0m0 4h0m0 3h0m0 4h0m0 8h0m0 5h0m0 1h0m0 26h0m0 2h0m0 19h0m0 10h0m0 7h0m0 16h0m0 11h0m0 13h0m0 36h0m0 9h0m0 114h0m1-398h0m0 47h0m0 19h0m0 19h0m0 2h0m0 4h0m0 1h0m0 0h0m0 12h0m0 7h0m0 4h0m0 6h0m0 7h0m0 1h0m0 9h0m0 1h0m0 3h0m0 6h0m0 26h0m0 2h0m0 18h0m0 8h0m0 0h0m0 0h0m0 3h0m0 1h0m0 24h0m0 1h0m0 2h0m1-173h0m0 1h0m0 6h0m0 1h0m0 2h0m0 16h0m0 4h0m0 4h0m0 34h0m0 4h0m0 2h0m0 4h0m0 7h0m0 16h0m0 4h0m0 23h0m0 2h0m0 6h0m0 1h0m0 1h0m0 4h0m0 99h0m1-309h0m0 13h0m0 81h0m0 20h0m0 4h0m0 5h0m0 1h0m0 3h0m0 9h0m0 12h0m0 3h0m0 5h0m0 1h0m0 12h0m0 4h0m0 10h0m0 2h0m0 2h0m0 5h0m0 7h0m0 4h0m0 3h0m0 5h0m0 4h0m0 3h0m0 1h0m0 5h0m1-199h0m0 31h0m0 22h0m0 3h0m0 26h0m0 3h0m0 28h0m0 0h0m0 16h0m0 4h0m0 3h0m0 14h0m0 5h0m0 3h0m0 2h0m0 1h0m0 0h0m0 31h0m0 4h0m0 0h0m0 14h0m0 5h0m0 30h0m1-201h0m0 8h0m0 36h0m0 2h0m0 5h0m0 6h0m0 1h0m0 9h0m0 4h0m0 20h0m0 9h0m0 8h0m0 2h0m0 6h0m0 2h0m0 0h0m0 0h0m0 4h0m0 5h0m0 1h0m0 3h0m0 18h0m0 62h0m1-251h0m0 24h0m0 6h0m0 22h0m0 0h0m0 2h0m0 2h0m0 3h0m0 4h0m0 2h0m0 10h0m0 11h0m0 7h0m0 7h0m0 2h0m0 6h0m0 9h0m0 2h0m0 2h0m0 4h0m0 28h0m0 1h0m0 5h0m0 10h0m0 8h0m0 2h0m0 2h0m0 14h0m1-188h0m0 18h0m0 12h0m0 10h0m0 11h0m0 15h0m0 6h0m0 4h0m0 8h0m0 1h0m0 4h0m0 10h0m0 0h0m0 1h0m0 15h0m0 7h0m0 3h0m0 4h0m0 5h0m0 0h0m0 1h0m0 8h0m0 3h0m0 17h0m0 5h0m0 27h0m0 5h0m0 19h0m1-181h0m0 13h0m0 2h0m0 0h0m0 4h0m0 4h0m0 7h0m0 26h0m0 9h0m0 5h0m0 1h0m0 7h0m0 9h0m0 4h0m0 3h0m0 5h0m0 4h0m0 8h0m0 30h0m0 8h0m0 23h0m0 49h0m1-252h0m0 29h0m0 5h0m0 7h0m0 15h0m0 1h0m0 4h0m0 4h0m0 26h0m0 1h0m0 19h0m0 5h0m0 0h0m0 2h0m0 1h0m0 2h0m0 1h0m0 19h0m0 1h0m0 0h0m0 6h0m0 11h0m0 13h0m0 9h0m0 1h0m0 7h0m0 3h0m0 96h0m1-303h0m0 32h0m0 9h0m0 4h0m0 24h0m0 1h0m0 18h0m0 1h0m0 21h0m0 6h0m0 5h0m0 38h0m0 1h0m0 3h0m0 2h0m0 8h0m0 3h0m1-136h0m0 7h0m0 35h0m0 4h0m0 4h0m0 5h0m0 3h0m0 12h0m0 1h0m0 8h0m0 2h0m0 2h0m0 7h0m0 9h0m0 4h0m0 5h0m0 10h0m0 14h0m0 3h0m0 1h0m0 6h0m0 12h0m0 6h0m0 249h0m1-408h0m0 9h0m0 10h0m0 1h0m0 1h0m0 1h0m0 5h0m0 4h0m0 5h0m0 0h0m0 29h0m0 1h0m0 7h0m0 6h0m0 1h0m0 1h0m0 12h0m0 13h0m0 1h0m0 12h0m0 19h0m0 12h0m0 21h0m0 43h0m1-257h0m0 4h0m0 17h0m0 19h0m0 0h0m0 5h0m0 8h0m0 5h0m0 2h0m0 1h0m0 0h0m0 6h0m0 4h0m0 16h0m0 6h0m0 4h0m0 1h0m0 9h0m0 5h0m0 12h0m0 4h0m0 15h0m0 2h0m0 8h0m0 2h0m0 8h0m0 15h0m0 31h0m0 59h0m0 27h0m1-271h0m0 8h0m0 28h0m0 4h0m0 14h0m0 2h0m0 13h0m0 20h0m0 6h0m0 3h0m0 0h0m0 16h0m0 10h0m0 9h0m0 28h0m0 8h0m0 13h0m1-204h0m0 28h0m0 18h0m0 3h0m0 7h0m0 1h0m0 3h0m0 1h0m0 5h0m0 16h0m0 2h0m0 0h0m0 2h0m0 6h0m0 13h0m0 12h0m0 4h0m0 21h0m0 5h0m0 9h0m0 10h0m0 4h0m0 8h0m0 1h0m0 7h0m0 7h0m0 13h0m0 14h0m0 36h0m0 3h0m1-217h0m0 13h0m0 7h0m0 15h0m0 23h0m0 10h0m0 5h0m0 7h0m0 2h0m0 12h0m0 17h0m0 7h0m0 1h0m0 1h0m0 6h0m0 17h0m0 2h0m0 7h0m0 58h0m0 5h0m1-253h0m0 6h0m0 14h0m0 11h0m0 12h0m0 18h0m0 8h0m0 2h0m0 2h0m0 3h0m0 1h0m0 14h0m0 4h0m0 0h0m0 7h0m0 10h0m0 4h0m0 6h0m0 5h0m0 11h0m0 58h0m0 24h0m1-225h0m0 3h0m0 33h0m0 22h0m0 30h0m0 8h0m0 9h0m0 1h0m0 0h0m0 1h0m0 3h0m0 13h0m0 12h0m0 10h0m0 6h0m0 9h0m0 1h0m0 1h0m0 1h0m0 8h0m0 1h0m0 3h0m0 47h0m1-226h0m0 0h0m0 5h0m0 27h0m0 3h0m0 11h0m0 5h0m0 5h0m0 2h0m0 12h0m0 11h0m0 9h0m0 6h0m0 1h0m0 14h0m0 2h0m0 0h0m0 9h0m0 2h0m0 3h0m0 5h0m0 13h0m0 8h0m0 14h0m0 29h0m0 17h0m0 15h0m0 39h0m1-247h0m0 3h0m0 2h0m0 60h0m0 2h0m0 4h0m0 4h0m0 1h0m0 7h0m0 5h0m0 13h0m0 6h0m0 2h0m0 1h0m0 12h0m0 23h0m0 4h0m0 71h0m1-241h0m0 64h0m0 7h0m0 1h0m0 1h0m0 2h0m0 1h0m0 25h0m0 22h0m0 12h0m0 10h0m0 4h0m0 43h0m0 32h0m0 67h0m1-273h0m0 9h0m0 7h0m0 34h0m0 10h0m0 1h0m0 10h0m0 8h0m0 2h0m0 7h0m0 2h0m0 1h0m0 16h0m0 7h0m0 7h0m0 1h0m0 4h0m0 1h0m0 15h0m0 4h0m0 4h0m0 15h0m0 32h0m0 19h0m1-238h0m0 13h0m0 10h0m0 19h0m0 3h0m0 35h0m0 1h0m0 8h0m0 6h0m0 0h0m0 25h0m0 10h0m0 3h0m0 3h0m0 9h0m0 0h0m0 0h0m0 5h0m0 1h0m0 8h0m0 2h0m0 31h0m0 23h0m0 1h0m0 7h0m1-223h0m0 15h0m0 51h0m0 0h0m0 2h0m0 1h0m0 5h0m0 1h0m0 1h0m0 0h0m0 11h0m0 5h0m0 0h0m0 7h0m0 6h0m0 1h0m0 1h0m0 13h0m0 4h0m0 7h0m0 2h0m0 10h0m0 5h0m0 24h0m0 80h0m0 2h0m0 52h0m1-292h0m0 2h0m0 58h0m0 8h0m0 1h0m0 12h0m0 1h0m0 6h0m0 9h0m0 2h0m0 0h0m0 4h0m0 7h0m0 2h0m0 6h0m0 1h0m0 11h0m0 3h0m0 9h0m0 0h0m0 8h0m0 9h0m0 3h0m0 13h0m0 53h0m1-225h0m0 11h0m0 16h0m0 4h0m0 4h0m0 13h0m0 13h0m0 5h0m0 5h0m0 12h0m0 16h0m0 4h0m0 1h0m0 1h0m0 27h0m0 54h0m1-142h0m0 41h0m0 2h0m0 4h0m0 10h0m0 1h0m0 3h0m0 3h0m0 1h0m0 4h0m0 1h0m0 1h0m0 1h0m0 8h0m0 1h0m0 1h0m0 24h0m0 8h0m0 3h0m0 15h0m1-184h0m0 38h0m0 9h0m0 2h0m0 2h0m0 4h0m0 1h0m0 2h0m0 10h0m0 4h0m0 15h0m0 8h0m0 0h0m0 4h0m0 8h0m0 2h0m0 4h0m0 14h0m0 3h0m0 6h0m0 1h0m0 10h0m0 3h0m0 5h0m0 2h0m0 1h0m0 5h0m0 2h0m0 2h0m0 26h0m0 22h0m0 42h0m1-276h0m0 43h0m0 17h0m0 2h0m0 11h0m0 4h0m0 7h0m0 4h0m0 19h0m0 5h0m0 3h0m0 27h0m0 1h0m0 3h0m0 6h0m0 17h0m0 1h0m0 11h0m0 7h0m0 10h0m0 5h0m0 3h0m0 29h0m0 11h0m0 23h0m1-254h0m0 10h0m0 8h0m0 10h0m0 26h0m0 3h0m0 1h0m0 9h0m0 0h0m0 20h0m0 8h0m0 13h0m0 0h0m0 0h0m0 5h0m0 2h0m0 1h0m0 4h0m0 11h0m0 3h0m0 6h0m0 27h0m0 80h0m1-225h0m0 12h0m0 5h0m0 0h0m0 11h0m0 4h0m0 5h0m0 9h0m0 10h0m0 1h0m0 2h0m0 1h0m0 4h0m0 4h0m0 3h0m0 1h0m0 5h0m0 1h0m0 3h0m0 0h0m0 7h0m0 2h0m0 1h0m0 7h0m0 10h0m0 15h0m0 8h0m0 5h0m0 11h0m0 25h0m0 21h0m0 52h0m1-249h0m0 19h0m0 9h0m0 7h0m0 1h0m0 20h0m0 1h0m0 5h0m0 0h0m0 17h0m0 1h0m0 20h0m0 4h0m0 3h0m0 4h0m0 3h0m0 1h0m0 5h0m0 23h0m0 43h0m0 0h0m1-202h0m0 2h0m0 35h0m0 18h0m0 14h0m0 7h0m0 13h0m0 0h0m0 11h0m0 0h0m0 0h0m0 5h0m0 16h0m0 10h0m0 4h0m0 14h0m0 17h0m0 4h0m0 8h0m0 12h0m0 25h0m0 31h0m0 1h0m0 4h0m0 19h0m1-275h0m0 34h0m0 4h0m0 13h0m0 18h0m0 8h0m0 9h0m0 2h0m0 1h0m0 8h0m0 13h0m0 3h0m0 1h0m0 9h0m0 6h0m0 10h0m0 8h0m0 3h0m0 4h0m0 16h0m0 4h0m0 17h0m0 5h0m0 62h0m1-189h0m0 3h0m0 10h0m0 10h0m0 0h0m0 26h0m0 1h0m0 2h0m0 7h0m0 0h0m0 19h0m0 4h0m0 8h0m0 3h0m0 6h0m0 8h0m0 5h0m0 16h0m0 3h0m0 38h0m0 222h0m1-478h0m0 27h0m0 36h0m0 24h0m0 11h0m0 4h0m0 18h0m0 18h0m0 3h0m0 5h0m0 6h0m0 4h0m0 10h0m0 5h0m0 6h0m0 1h0m0 10h0m0 37h0m1-209h0m0 43h0m0 25h0m0 12h0m0 5h0m0 8h0m0 3h0m0 7h0m0 10h0m0 4h0m0 4h0m0 11h0m0 0h0m0 5h0m0 10h0m0 0h0m0 37h0m0 18h0m0 5h0m0 26h0m0 55h0m1-239h0m0 4h0m0 9h0m0 8h0m0 1h0m0 6h0m0 6h0m0 1h0m0 13h0m0 9h0m0 4h0m0 1h0m0 21h0m0 2h0m0 4h0m0 6h0m0 15h0m0 10h0m0 3h0m0 5h0m0 9h0m0 24h0m0 23h0m1-238h0m0 22h0m0 34h0m0 0h0m0 6h0m0 15h0m0 24h0m0 2h0m0 3h0m0 4h0m0 1h0m0 1h0m0 7h0m0 5h0m0 2h0m0 7h0m0 6h0m0 7h0m0 6h0m0 7h0m0 3h0m0 5h0m0 4h0m0 6h0m0 3h0m0 44h0m1-160h0m0 4h0m0 16h0m0 6h0m0 8h0m0 8h0m0 14h0m0 6h0m0 20h0m0 40h0m0 31h0m0 0h0m1-214h0m0 33h0m0 1h0m0 6h0m0 1h0m0 9h0m0 39h0m0 8h0m0 11h0m0 15h0m0 4h0m0 0h0m0 13h0m0 0h0m0 0h0m0 2h0m0 1h0m0 8h0m0 2h0m0 3h0m0 16h0m0 10h0m0 18h0m0 9h0m0 2h0m0 243h0m1-467h0m0 21h0m0 21h0m0 14h0m0 9h0m0 29h0m0 8h0m0 1h0m0 0h0m0 3h0m0 4h0m0 2h0m0 0h0m0 7h0m0 5h0m0 3h0m0 1h0m0 1h0m0 1h0m0 6h0m0 10h0m0 14h0m0 9h0m0 3h0m0 10h0m1-125h0m0 18h0m0 6h0m0 21h0m0 11h0m0 2h0m0 6h0m0 0h0m0 39h0m0 1h0m0 15h0m0 4h0m0 24h0m1-167h0m0 28h0m0 4h0m0 21h0m0 0h0m0 7h0m0 1h0m0 3h0m0 7h0m0 0h0m0 3h0m0 4h0m0 2h0m0 3h0m0 1h0m0 6h0m0 5h0m0 8h0m0 0h0m0 2h0m0 14h0m0 20h0m0 15h0m0 2h0m0 231h0m1-361h0m0 26h0m0 22h0m0 5h0m0 7h0m0 0h0m0 2h0m0 13h0m0 2h0m0 7h0m0 1h0m0 16h0m0 4h0m0 2h0m0 17h0m0 26h0m1-185h0m0 54h0m0 1h0m0 19h0m0 2h0m0 0h0m0 5h0m0 0h0m0 0h0m0 2h0m0 13h0m0 1h0m0 7h0m0 13h0m0 15h0m0 6h0m0 2h0m0 4h0m0 5h0m0 153h0m1-286h0m0 0h0m0 4h0m0 12h0m0 32h0m0 10h0m0 8h0m0 2h0m0 11h0m0 1h0m0 16h0m0 6h0m0 5h0m0 21h0m0 1h0m0 4h0m0 2h0m0 28h0m0 91h0m1-267h0m0 7h0m0 1h0m0 1h0m0 22h0m0 3h0m0 18h0m0 9h0m0 4h0m0 6h0m0 8h0m0 7h0m0 22h0m0 3h0m0 5h0m0 28h0m0 2h0m0 2h0m0 21h0m0 4h0m0 64h0m1-162h0m0 4h0m0 5h0m0 9h0m0 2h0m0 21h0m0 30h0m0 16h0m0 7h0m0 24h0m0 20h0m1-236h0m0 16h0m0 1h0m0 18h0m0 3h0m0 2h0m0 23h0m0 15h0m0 17h0m0 3h0m0 13h0m0 14h0m0 9h0m0 5h0m0 8h0m1-81h0m0 8h0m0 9h0m0 12h0m0 2h0m0 2h0m0 15h0m0 11h0m0 1h0m0 1h0m0 15h0m0 11h0m0 2h0m0 37h0m0 19h0m0 6h0m0 10h0m0 8h0m1-204h0m0 12h0m0 68h0m0 1h0m0 18h0m0 8h0m0 4h0m0 1h0m0 2h0m0 20h0m0 5h0m0 8h0m0 5h0m0 0h0m0 0h0m0 1h0m0 30h0m0 32h0m1-255h0m0 32h0m0 47h0m0 7h0m0 14h0m0 4h0m0 5h0m0 5h0m0 7h0m0 2h0m0 1h0m0 5h0m0 7h0m0 22h0m0 7h0m0 2h0m0 2h0m0 4h0m0 1h0m0 18h0m0 12h0m0 19h0m0 2h0m0 4h0m0 24h0m0 64h0m1-316h0m0 23h0m0 25h0m0 29h0m0 5h0m0 2h0m0 31h0m0 3h0m0 2h0m0 10h0m0 18h0m0 2h0m0 9h0m0 2h0m0 5h0m0 25h0m0 44h0m0 19h0m1-235h0m0 49h0m0 1h0m0 24h0m0 1h0m0 1h0m0 1h0m0 5h0m0 0h0m0 3h0m0 11h0m0 2h0m0 7h0m0 3h0m0 9h0m0 1h0m0 7h0m0 2h0m0 1h0m0 36h0m0 19h0m0 19h0m1-211h0m0 8h0m0 24h0m0 5h0m0 14h0m0 28h0m0 4h0m0 5h0m0 21h0m0 5h0m0 1h0m0 6h0m0 3h0m0 10h0m0 30h0m0 8h0m0 2h0m0 97h0m0 148h0m1-390h0m0 43h0m0 3h0m0 23h0m0 0h0m0 22h0m0 4h0m0 14h0m0 5h0m0 5h0m0 3h0m0 13h0m0 0h0m0 30h0m1-212h0m0 61h0m0 15h0m0 25h0m0 9h0m0 2h0m0 7h0m0 1h0m0 1h0m0 3h0m0 6h0m0 10h0m0 28h0m0 3h0m0 81h0m0 27h0m1-234h0m0 26h0m0 1h0m0 4h0m0 41h0m0 12h0m0 2h0m0 7h0m0 2h0m0 18h0m0 20h0m0 114h0m1-240h0m0 0h0m0 28h0m0 7h0m0 12h0m0 8h0m0 18h0m0 3h0m0 1h0m0 16h0m0 0h0m0 0h0m0 12h0m0 2h0m0 20h0m0 5h0m0 4h0m0 4h0m0 16h0m0 20h0m1-203h0m0 15h0m0 21h0m0 10h0m0 4h0m0 16h0m0 32h0m0 6h0m0 4h0m0 7h0m0 1h0m0 1h0m0 1h0m0 5h0m0 1h0m0 4h0m0 6h0m0 11h0m0 3h0m0 9h0m0 7h0m1-124h0m0 12h0m0 4h0m0 4h0m0 2h0m0 26h0m0 9h0m0 11h0m0 1h0m0 9h0m0 14h0m0 0h0m0 2h0m0 4h0m0 44h0m0 46h0m1-252h0m0 14h0m0 36h0m0 66h0m0 4h0m0 0h0m0 8h0m0 6h0m0 299h0m1-369h0m0 15h0m0 4h0m0 26h0m0 17h0m0 34h0m0 0h0m0 32h0m0 2h0m0 0h0m0 19h0m1-213h0m0 38h0m0 18h0m0 26h0m0 15h0m0 39h0m0 8h0m0 1h0m0 19h0m0 4h0m0 12h0m0 25h0m1-149h0m0 35h0m0 6h0m0 5h0m0 9h0m0 19h0m0 4h0m0 5h0m0 10h0m0 19h0m0 15h0m0 2h0m0 28h0m0 22h0m0 9h0m1-234h0m0 83h0m0 24h0m0 9h0m0 12h0m0 9h0m0 9h0m0 70h0m1-204h0m0 35h0m0 16h0m0 3h0m0 16h0m0 49h0m0 6h0m0 16h0m0 38h0m0 7h0m0 13h0m0 49h0m1-191h0m0 47h0m0 37h0m0 31h0m1-133h0m0 12h0m0 1h0m0 46h0m0 3h0m0 8h0m0 25h0m0 0h0m0 0h0m0 3h0m0 4h0m0 22h0m0 11h0m0 11h0m1-180h0m0 14h0m0 56h0m0 19h0m0 9h0m0 7h0m0 10h0m0 9h0m0 11h0m0 11h0m0 10h0m0 22h0m0 181h0m1-384h0m0 64h0m0 5h0m0 24h0m0 8h0m0 2h0m0 4h0m0 3h0m0 17h0m0 29h0m0 1h0m0 13h0m0 53h0m1-205h0m0 60h0m0 22h0m0 6h0m0 26h0m0 2h0m0 8h0m0 8h0m0 5h0m0 7h0m0 29h0m0 170h0m1-327h0m0 27h0m0 11h0m0 7h0m0 18h0m0 6h0m0 2h0m0 1h0m0 10h0m0 7h0m0 24h0m0 52h0m0 6h0m1-199h0m0 54h0m0 3h0m0 11h0m0 36h0m0 18h0m0 0h0m0 7h0m0 38h0m1-150h0m0 53h0m0 3h0m0 1h0m0 6h0m0 1h0m0 67h0m0 5h0m0 2h0m0 62h0m1-159h0m0 14h0m0 15h0m0 2h0m0 13h0m0 12h0m0 9h0m0 4h0m0 18h0m0 13h0m1-90h0m0 7h0m0 12h0m0 8h0m0 24h0m0 8h0m0 30h0m0 45h0m0 17h0m1-173h0m0 39h0m0 2h0m0 27h0m0 15h0m0 1h0m0 1h0m0 1h0m0 6h0m0 1h0m0 35h0m1-178h0m0 5h0m0 28h0m0 8h0m0 13h0m0 239h0m1-278h0m0 1h0m0 55h0m0 5h0m0 13h0m0 2h0m0 17h0m0 1h0m0 37h0m0 138h0m0 42h0m1-310h0m0 17h0m0 44h0m0 35h0m0 15h0m0 2h0m0 1h0m0 4h0m0 12h0m0 3h0m0 19h0m0 18h0m1-155h0m0 15h0m0 22h0m0 40h0m0 2h0m0 25h0m0 83h0m0 70h0m1-202h0m0 4h0m0 0h0m0 3h0m0 26h0m0 18h0m0 154h0m1-243h0m0 50h0m0 35h0m0 2h0m0 77h0m1-163h0m0 18h0m0 47h0m0 2h0m0 6h0m0 7h0m0 15h0m1-123h0m0 7h0m0 17h0m0 1h0m0 12h0m0 15h0m0 19h0m0 12h0m0 1h0m0 21h0m0 0h0m0 15h0m0 18h0m0 30h0m0 28h0m1-198h0m0 3h0m0 27h0m0 7h0m0 19h0m0 6h0m0 7h0m0 10h0m0 3h0m0 5h0m0 18h0m0 29h0m1-135h0m0 29h0m0 24h0m0 0h0m0 17h0m0 47h0m0 10h0m0 2h0m0 8h0m0 1h0m0 161h0m1-255h0m0 21h0m0 20h0m0 10h0m0 21h0m0 41h0m1-123h0m0 31h0m0 25h0m0 24h0m0 13h0m0 21h0m0 31h0m1-175h0m0 5h0m0 14h0m0 30h0m0 3h0m0 54h0m0 22h0m0 40h0m1-124h0m0 30h0m0 16h0m0 29h0m0 5h0m0 9h0m0 29h0m1-184h0m0 30h0m0 32h0m0 15h0m0 43h0m0 30h0m0 10h0m0 7h0m0 16h0m0 7h0m1-160h0m0 71h0m1-40h0m0 6h0m0 3h0m0 27h0m0 17h0m0 6h0m0 68h0m0 48h0m1-180h0m0 14h0m0 69h0m0 2h0m0 3h0m0 11h0m0 5h0m0 8h0m0 10h0m1-55h0m0 12h0m0 47h0m1-169h0m0 63h0m0 11h0m0 18h0m0 9h0m0 11h0m0 45h0m0 19h0m0 67h0m1-207h0m0 49h0m0 35h0m1-116h0m0 22h0m0 11h0m0 19h0m0 8h0m0 11h0m0 9h0m0 17h0m0 4h0m0 6h0m0 19h0m0 74h0m1-170h0m0 22h0m0 24h0m0 24h0m0 134h0m1-253h0m0 14h0m0 64h0m0 5h0m0 6h0m0 8h0m0 44h0m1-129h0m0 21h0m0 5h0m0 4h0m0 13h0m0 5h0m0 41h0m0 5h0m0 31h0m1-116h0m0 8h0m0 30h0m0 83h0m1-57h0m0 44h0m0 29h0m1-114h0m0 63h0m0 16h0m0 45h0m1-147h0m0 52h0m0 23h0m0 10h0m0 47h0m0 40h0m0 4h0m0 12h0m1-193h0m0 30h0m0 5h0m0 12h0m0 135h0m1-118h0m0 74h0m0 131h0m1-186h0m0 13h0m0 83h0m1-197h0m0 73h0m0 31h0m0 24h0m0 18h0m1-19h0m1-60h0m0 18h0m0 78h0m0 60h0m1-197h0m0 7h0m0 21h0m0 5h0m0 26h0m1-79h0m0 70h0m0 43h0m0 23h0m0 11h0m0 79h0m1-221h0m0 114h0m1-125h0m0 87h0m0 3h0m0 9h0m0 25h0m0 36h0m1-118h0m0 235h0m1-243h0m0 4h0m0 6h0m0 44h0m0 50h0m0 39h0m0 18h0m1-152h0m1-25h0m0 57h0m0 27h0m0 37h0m0 40h0m0 44h0m0 17h0m1-192h0m0 29h0m0 25h0m0 1h0m0 35h0m0 35h0m1-157h0m0 82h0m0 45h0m1-135h0m0 98h0m1-97h0m0 114h0m1-100h0m0 43h0m1-47h0m0 1h0m0 26h0m0 180h0m1-221h0m0 70h0m0 87h0m0 11h0m1-47h0m1-110h0m0 64h0m1-62h0m0 0h0m0 26h0m0 9h0m0 0h0m0 3h0m0 70h0m0 21h0m0 10h0m1-102h0m0 90h0m2-141h0m1-2h0m0 104h0m0 35h0m0 53h0m1-171h0m0 22h0m0 17h0m0 36h0m0 29h0m1-101h0m1-16h0m0 3h0m0 139h0m1-142h0m0 93h0m0 148h0m1-247h0m0 6h0m1-7h0m0 194h0m1-195h0m1 0h0m0 27h0m0 67h0m0 54h0m1-115h0m1 32h0m0 22h0"/>
</g>
<g id="panelC">
<text x="136.2" y="304.9" class="lab">C</text>
<rect x="175.2" y="303.2" width="254.3" height="202.5" fill="none" stroke="#5c5c5c" stroke-width="1.15"/>
<path d="M171.4 353.8H175.2" stroke="#555" stroke-width="0.9"/>
<text x="171.6" y="358" class="cy">0,80</text>
<path d="M171.4 414.3H175.2" stroke="#555" stroke-width="0.9"/>
<text x="171.6" y="418.5" class="cy">0,70</text>
<path d="M171.4 474.9H175.2" stroke="#555" stroke-width="0.9"/>
<text x="171.6" y="479.1" class="cy">0,60</text>
<path d="M187.6 505.7V511.2" stroke="#555" stroke-width="0.9"/>
<text x="187.6" y="522.2" class="cx">0,28</text>
<path d="M263.8 505.7V511.2" stroke="#555" stroke-width="0.9"/>
<text x="263.8" y="522.2" class="cx">0,32</text>
<path d="M340.2 505.7V511.2" stroke="#555" stroke-width="0.9"/>
<text x="340.2" y="522.2" class="cx">0,36</text>
<path d="M416.4 505.7V511.2" stroke="#555" stroke-width="0.9"/>
<text x="416.4" y="522.2" class="cx">0,40</text>
<path d="M175.2 365L429.5 438.8" stroke="#333" stroke-width="1.15" fill="none"/>
<g fill="none" stroke="#333" stroke-width="0.85"><circle cx="197.75" cy="339.5" r="1.45"/><circle cx="199" cy="368.25" r="1.45"/><circle cx="207" cy="384.5" r="1.45"/><circle cx="212" cy="384.5" r="1.45"/><circle cx="210.4" cy="388.7" r="1.45"/><circle cx="210.4" cy="390.6" r="1.45"/><circle cx="227" cy="394.75" r="1.45"/><circle cx="233.5" cy="362.75" r="1.45"/><circle cx="245.6" cy="359.4" r="1.45"/><circle cx="246.1" cy="368.9" r="1.45"/><circle cx="258.4" cy="362.5" r="1.45"/><circle cx="261" cy="350" r="1.45"/><circle cx="265.5" cy="372.25" r="1.45"/><circle cx="301" cy="352.25" r="1.45"/><circle cx="295.75" cy="379.5" r="1.45"/><circle cx="285.75" cy="385.75" r="1.45"/><circle cx="304" cy="385" r="1.45"/><circle cx="260.75" cy="391.75" r="1.45"/><circle cx="308.75" cy="396" r="1.45"/><circle cx="323" cy="397" r="1.45"/><circle cx="337.9" cy="396" r="1.45"/><circle cx="358.6" cy="396.9" r="1.45"/><circle cx="255.75" cy="404.5" r="1.45"/><circle cx="261.75" cy="411.25" r="1.45"/><circle cx="253.5" cy="425.9" r="1.45"/><circle cx="271" cy="426" r="1.45"/><circle cx="412" cy="422.5" r="1.45"/><circle cx="317" cy="440.5" r="1.45"/><circle cx="381.75" cy="499" r="1.45"/><circle cx="239" cy="449.5" r="1.45"/></g>
<text transform="translate(146.8 441.6) rotate(-90)" class="big">LUMA</text>
<text x="254.3" y="539.5" class="big">Average</text>
<text x="254" y="562.1" class="big">Beta</text>
</g>
</svg>
</body></html>
